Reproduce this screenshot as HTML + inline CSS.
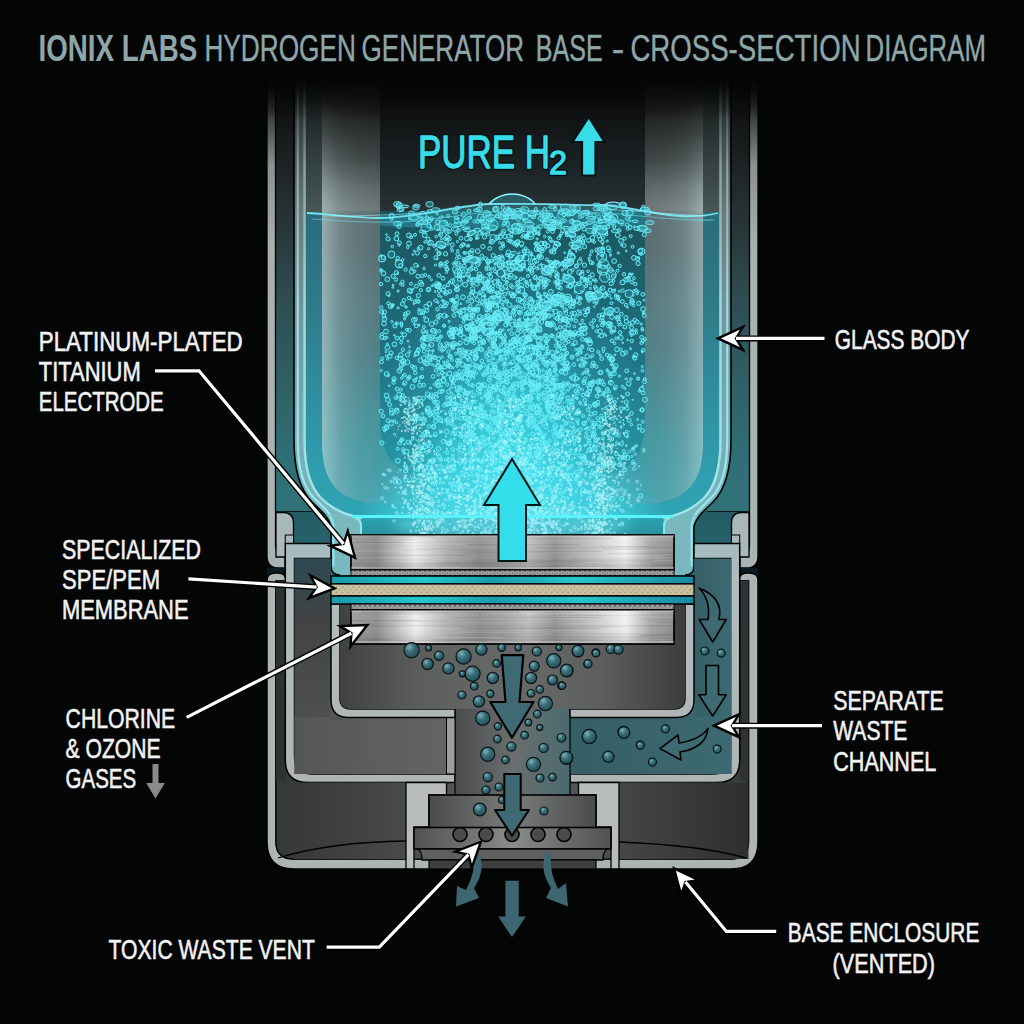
<!DOCTYPE html>
<html><head><meta charset="utf-8"><style>html,body{margin:0;padding:0;background:#040505;width:1024px;height:1024px;overflow:hidden}svg{display:block}text{font-family:"Liberation Sans",sans-serif}</style></head><body><svg width="1024" height="1024" viewBox="0 0 1024 1024" font-family="Liberation Sans, sans-serif"><defs>
 <linearGradient id="tubeL" x1="0" y1="78" x2="0" y2="560" gradientUnits="userSpaceOnUse">
  <stop offset="0" stop-color="#080909"/><stop offset="0.06" stop-color="#2a2e2e"/><stop offset="0.18" stop-color="#8a9090"/><stop offset="0.35" stop-color="#a8b0b0"/><stop offset="1" stop-color="#aab4b4"/>
 </linearGradient>
 <linearGradient id="glassWall" x1="0" y1="78" x2="0" y2="520" gradientUnits="userSpaceOnUse">
  <stop offset="0" stop-color="#0a0c0c"/><stop offset="0.12" stop-color="#3a4444"/><stop offset="0.3" stop-color="#6a7a7c"/><stop offset="0.6" stop-color="#6aa0a8"/><stop offset="1" stop-color="#7ab8c0"/>
 </linearGradient>
 <linearGradient id="lineG" x1="0" y1="78" x2="0" y2="520" gradientUnits="userSpaceOnUse">
  <stop offset="0" stop-color="#1a2020"/><stop offset="0.2" stop-color="#8aa0a0"/><stop offset="0.5" stop-color="#a8d4d8"/><stop offset="1" stop-color="#9ae8f0"/>
 </linearGradient>
 <linearGradient id="hiGrad" x1="0" y1="78" x2="0" y2="510" gradientUnits="userSpaceOnUse">
  <stop offset="0" stop-color="#0e1010"/><stop offset="0.05" stop-color="#151616"/><stop offset="0.12" stop-color="#2a2e2e"/><stop offset="0.19" stop-color="#404646"/><stop offset="0.26" stop-color="#606a6a"/><stop offset="0.305" stop-color="#6e7878"/>
  <stop offset="0.312" stop-color="#5a6e72"/><stop offset="0.398" stop-color="#5a6e73"/><stop offset="0.514" stop-color="#587a80"/><stop offset="0.63" stop-color="#527f86"/><stop offset="0.861" stop-color="#4a969f"/><stop offset="1" stop-color="#50a0aa"/>
 </linearGradient>
 <linearGradient id="gapG" x1="0" y1="80" x2="0" y2="575" gradientUnits="userSpaceOnUse">
  <stop offset="0" stop-color="#080909"/><stop offset="0.141" stop-color="#1a1e1f"/><stop offset="0.283" stop-color="#263436"/><stop offset="0.444" stop-color="#2f4d52"/><stop offset="0.747" stop-color="#2f6e74"/><stop offset="1" stop-color="#2f767c"/>
 </linearGradient>
 <linearGradient id="airG" x1="0" y1="78" x2="0" y2="215" gradientUnits="userSpaceOnUse">
  <stop offset="0" stop-color="#070808"/><stop offset="0.4" stop-color="#141819"/><stop offset="1" stop-color="#283438"/>
 </linearGradient>
 <linearGradient id="hiFadeV" x1="0" y1="78" x2="0" y2="520" gradientUnits="userSpaceOnUse">
  <stop offset="0" stop-color="#fff" stop-opacity="0"/><stop offset="0.12" stop-color="#fff" stop-opacity="0.25"/><stop offset="0.3" stop-color="#fff" stop-opacity="1"/><stop offset="1" stop-color="#fff" stop-opacity="1"/>
 </linearGradient>
 <mask id="hiMask" maskUnits="userSpaceOnUse" x="0" y="0" width="1024" height="1024"><rect x="0" y="0" width="1024" height="1024" fill="url(#hiFadeV)"/></mask>
 <linearGradient id="waterG" x1="0" y1="212" x2="0" y2="520" gradientUnits="userSpaceOnUse">
  <stop offset="0" stop-color="#1a545c"/><stop offset="0.5" stop-color="#217080"/><stop offset="1" stop-color="#2a9aa8"/>
 </linearGradient>
 <linearGradient id="botG" x1="0" y1="514" x2="0" y2="536" gradientUnits="userSpaceOnUse">
  <stop offset="0" stop-color="#2aa8b8"/><stop offset="1" stop-color="#2a8e9c"/>
 </linearGradient>
 <radialGradient id="glow" cx="512" cy="500" r="260" gradientUnits="userSpaceOnUse" gradientTransform="translate(512 500) scale(0.62 1) translate(-512 -500)">
  <stop offset="0" stop-color="#40d8e8" stop-opacity="0.95"/><stop offset="0.35" stop-color="#30c4d4" stop-opacity="0.75"/><stop offset="0.7" stop-color="#26a8b8" stop-opacity="0.35"/><stop offset="1" stop-color="#2ab8c8" stop-opacity="0"/>
 </radialGradient>
 <radialGradient id="glow2" cx="0.5" cy="0.5" r="0.5">
  <stop offset="0" stop-color="#50e4f0" stop-opacity="0.9"/><stop offset="0.6" stop-color="#38d0e0" stop-opacity="0.6"/><stop offset="1" stop-color="#30c0d0" stop-opacity="0"/>
 </radialGradient>
 <linearGradient id="steel" x1="351" y1="0" x2="674" y2="0" gradientUnits="userSpaceOnUse">
  <stop offset="0" stop-color="#9a9a9a"/><stop offset="0.08" stop-color="#8c8c8c"/><stop offset="0.2" stop-color="#eeeeee"/><stop offset="0.3" stop-color="#b0b0b0"/><stop offset="0.4" stop-color="#8e8e8e"/><stop offset="0.48" stop-color="#a2a2a2"/><stop offset="0.55" stop-color="#bcbcbc"/><stop offset="0.63" stop-color="#949494"/><stop offset="0.75" stop-color="#c4c4c4"/><stop offset="0.85" stop-color="#f0f0f0"/><stop offset="0.93" stop-color="#a4a4a4"/><stop offset="1" stop-color="#8c8c8c"/>
 </linearGradient>
 <linearGradient id="steelV" x1="0" y1="0" x2="0" y2="1">
  <stop offset="0" stop-color="#fff" stop-opacity="0.45"/><stop offset="0.08" stop-color="#fff" stop-opacity="0.1"/><stop offset="0.5" stop-color="#fff" stop-opacity="0"/><stop offset="0.88" stop-color="#000" stop-opacity="0.12"/><stop offset="0.94" stop-color="#fff" stop-opacity="0.5"/><stop offset="1" stop-color="#000" stop-opacity="0.1"/>
 </linearGradient>
 <pattern id="mesh" x="0" y="0.5" width="5" height="5" patternUnits="userSpaceOnUse">
  <rect width="5" height="5" fill="#6a6a6a"/><circle cx="2.5" cy="2.5" r="1.7" fill="none" stroke="#d8d8d8" stroke-width="1"/>
 </pattern>
 <pattern id="tan" x="0" y="0" width="4" height="4" patternUnits="userSpaceOnUse" patternTransform="rotate(45)">
  <rect width="4" height="4" fill="#cbc2a2"/><rect width="2" height="2" fill="#b2a888"/>
 </pattern>
 <linearGradient id="tealBar" x1="331" y1="0" x2="694" y2="0" gradientUnits="userSpaceOnUse">
  <stop offset="0" stop-color="#1a9aaa"/><stop offset="0.25" stop-color="#22c8cc"/><stop offset="0.45" stop-color="#1a9cac"/><stop offset="0.68" stop-color="#24c6cc"/><stop offset="1" stop-color="#1888a0"/>
 </linearGradient>
 <linearGradient id="darkFill" x1="0" y1="0" x2="1" y2="0">
  <stop offset="0" stop-color="#363838"/><stop offset="0.5" stop-color="#5c5e5e"/><stop offset="1" stop-color="#3a3c3c"/>
 </linearGradient>
 <linearGradient id="chamberFill" x1="340" y1="0" x2="686" y2="0" gradientUnits="userSpaceOnUse">
  <stop offset="0" stop-color="#404242"/><stop offset="0.23" stop-color="#5c5e5e"/><stop offset="0.5" stop-color="#686a6a"/><stop offset="0.75" stop-color="#5e5e5e"/><stop offset="1" stop-color="#3c3c3c"/>
 </linearGradient>
 <linearGradient id="wasteFill" x1="0" y1="0" x2="1" y2="0">
  <stop offset="0" stop-color="#355e66"/><stop offset="1" stop-color="#3d6a72"/>
 </linearGradient>
 <linearGradient id="tealBack" x1="0" y1="440" x2="0" y2="580" gradientUnits="userSpaceOnUse">
  <stop offset="0" stop-color="#1e4c54"/><stop offset="1" stop-color="#2a6a74"/>
 </linearGradient>
 <radialGradient id="bub" cx="0.35" cy="0.3" r="0.8">
  <stop offset="0" stop-color="#7fb0b8"/><stop offset="0.4" stop-color="#3a7078"/><stop offset="1" stop-color="#1e4850"/>
 </radialGradient>
 <filter id="blur2"><feGaussianBlur stdDeviation="2"/></filter>
 <filter id="blur6" x="-50%" y="-50%" width="200%" height="200%"><feGaussianBlur stdDeviation="6"/></filter>
 <filter id="blur12" x="-50%" y="-50%" width="200%" height="200%"><feGaussianBlur stdDeviation="14"/></filter>
 <clipPath id="glassClip"><path d="M306,78 V440 C306,468 312,486 322,497 C332,507 345,514 362,516.5 H663 C680,514 693,507 703,497 C713,486 719,468 719,440 V78 Z"/></clipPath>
 <clipPath id="bubClip"><path d="M306,205 V440 C306,468 312,486 322,497 C332,507 345,514 362,516.5 V536 H663 V516.5 C680,514 693,507 703,497 C713,486 719,468 719,440 V205 Z"/></clipPath>

 <linearGradient id="midWall" x1="0" y1="544" x2="0" y2="782" gradientUnits="userSpaceOnUse">
  <stop offset="0" stop-color="#a4bcc0"/><stop offset="0.2" stop-color="#b2bcbe"/><stop offset="1" stop-color="#b0b4b4"/>
 </linearGradient>
 <linearGradient id="leftComp" x1="0" y1="558" x2="0" y2="717" gradientUnits="userSpaceOnUse">
  <stop offset="0" stop-color="#34404a"/><stop offset="0.4" stop-color="#424444"/><stop offset="1" stop-color="#4e5050"/>
 </linearGradient>
 <linearGradient id="leftComp2" x1="294" y1="0" x2="446" y2="0" gradientUnits="userSpaceOnUse">
  <stop offset="0" stop-color="#545656"/><stop offset="1" stop-color="#646464"/>
 </linearGradient>
 <linearGradient id="centralCh" x1="455" y1="0" x2="570" y2="0" gradientUnits="userSpaceOnUse">
  <stop offset="0" stop-color="#4a4c4c"/><stop offset="0.5" stop-color="#6a6e6e"/><stop offset="1" stop-color="#4a6a70"/>
 </linearGradient>
 <linearGradient id="lowComp" x1="295" y1="0" x2="406" y2="0" gradientUnits="userSpaceOnUse">
  <stop offset="0" stop-color="#383838"/><stop offset="1" stop-color="#4a4a4a"/>
 </linearGradient>
 <linearGradient id="lowCompR" x1="619" y1="0" x2="748" y2="0" gradientUnits="userSpaceOnUse">
  <stop offset="0" stop-color="#464646"/><stop offset="1" stop-color="#2e2e2e"/>
 </linearGradient>
 <linearGradient id="ventG" x1="429" y1="0" x2="596" y2="0" gradientUnits="userSpaceOnUse">
  <stop offset="0" stop-color="#4a4c4c"/><stop offset="0.5" stop-color="#7a7c7c"/><stop offset="1" stop-color="#4a4c4c"/>
 </linearGradient>
 <linearGradient id="ventG2" x1="414" y1="0" x2="611" y2="0" gradientUnits="userSpaceOnUse">
  <stop offset="0" stop-color="#505252"/><stop offset="0.5" stop-color="#8a8c8c"/><stop offset="1" stop-color="#505252"/>
 </linearGradient>
 <pattern id="brush" x="0" y="0" width="60" height="4" patternUnits="userSpaceOnUse">
  <rect width="60" height="4" fill="none"/><line x1="0" y1="1" x2="40" y2="1" stroke="#fff" stroke-width="0.5"/><line x1="20" y1="3" x2="60" y2="3" stroke="#000" stroke-width="0.5"/>
 </pattern>
 <linearGradient id="sideAir" x1="0" y1="78" x2="0" y2="214" gradientUnits="userSpaceOnUse">
  <stop offset="0" stop-color="#0c0f0f"/><stop offset="0.5" stop-color="#2e3838"/><stop offset="1" stop-color="#4a5858"/>
 </linearGradient>
 <linearGradient id="hiSheenL" x1="322" y1="0" x2="380" y2="0" gradientUnits="userSpaceOnUse">
  <stop offset="0" stop-color="#d2ecec" stop-opacity="0.5"/><stop offset="0.3" stop-color="#d2ecec" stop-opacity="0.2"/><stop offset="0.6" stop-color="#d2ecec" stop-opacity="0.08"/><stop offset="1" stop-color="#d2ecec" stop-opacity="0"/>
 </linearGradient>
 <linearGradient id="hiSheenR" x1="703" y1="0" x2="645" y2="0" gradientUnits="userSpaceOnUse">
  <stop offset="0" stop-color="#d2ecec" stop-opacity="0.45"/><stop offset="0.3" stop-color="#d2ecec" stop-opacity="0.18"/><stop offset="0.6" stop-color="#d2ecec" stop-opacity="0.07"/><stop offset="1" stop-color="#d2ecec" stop-opacity="0"/>
 </linearGradient>
 <clipPath id="hiClip"><path d="M322,78 L322,446 Q322,502 378,504 L647,504 Q703,502 703,446 L703,78 L645,78 L645,420 Q645,476 595,476 L430,476 Q380,476 380,420 L380,78 Z"/></clipPath>
 <linearGradient id="tealFade" x1="0" y1="558" x2="0" y2="618" gradientUnits="userSpaceOnUse">
  <stop offset="0" stop-color="#2a5058" stop-opacity="0.6"/><stop offset="1" stop-color="#2a5058" stop-opacity="0"/>
 </linearGradient>
 <linearGradient id="tealBand" x1="0" y1="212" x2="0" y2="516" gradientUnits="userSpaceOnUse">
  <stop offset="0" stop-color="#2a6c7c"/><stop offset="0.29" stop-color="#2f7a88"/><stop offset="0.78" stop-color="#2f9aaa"/><stop offset="1" stop-color="#30a4b4"/>
 </linearGradient>
 <linearGradient id="topFade" x1="0" y1="70" x2="0" y2="120" gradientUnits="userSpaceOnUse">
  <stop offset="0" stop-color="#040505" stop-opacity="1"/><stop offset="0.2" stop-color="#040505" stop-opacity="0.9"/><stop offset="0.55" stop-color="#040505" stop-opacity="0.45"/><stop offset="1" stop-color="#040505" stop-opacity="0"/>
 </linearGradient>
</defs>
<rect width="1024" height="1024" fill="#040505"/><rect x="275" y="78" width="475" height="500" fill="url(#gapG)"/><rect x="276" y="511" width="473" height="66" fill="url(#tealBack)"/><path d="M267,78 L275.5,78 L275.5,545 Q276,557 285,557 L285,568 L279,568 Q267,568 267,556 Z" fill="url(#tubeL)" stroke="#000" stroke-width="1.3"/><path d="M276,512.5 L283,512.5 Q293.5,512.5 293.5,523 L293.5,557 L276,557 Z" fill="#a9b8ba" stroke="#000" stroke-width="1.3"/><g transform="translate(1025,0) scale(-1,1)"><path d="M267,78 L275.5,78 L275.5,545 Q276,557 285,557 L285,568 L279,568 Q267,568 267,556 Z" fill="url(#tubeL)" stroke="#000" stroke-width="1.3"/><path d="M276,512.5 L283,512.5 Q293.5,512.5 293.5,523 L293.5,557 L276,557 Z" fill="#a9b8ba" stroke="#000" stroke-width="1.3"/></g><path d="M294,78 V440 C294,470 300,490 312,502 C320,510 328,516 331,526 V566 Q331,575 340,575 H352 V535 H362 V527 Q362,517 360,516.6 C345,514 332,507 322,497 C312,486 306,468 306,440 V78 Z" fill="url(#glassWall)"/><g transform="translate(1025,0) scale(-1,1)"><path d="M294,78 V440 C294,470 300,490 312,502 C320,510 328,516 331,526 V566 Q331,575 340,575 H352 V535 H362 V527 Q362,517 360,516.6 C345,514 332,507 322,497 C312,486 306,468 306,440 V78 Z" fill="url(#glassWall)"/></g><g clip-path="url(#glassClip)"><rect x="300" y="78" width="430" height="142" fill="url(#airG)"/><rect x="300" y="211" width="430" height="330" fill="url(#waterG)"/><rect x="306" y="78" width="16" height="136" fill="url(#sideAir)"/><rect x="703" y="78" width="16" height="136" fill="url(#sideAir)"/><path d="M322,78 L322,446 Q322,502 378,504 L647,504 Q703,502 703,446 L703,78 L645,78 L645,420 Q645,476 595,476 L430,476 Q380,476 380,420 L380,78 Z" fill="url(#hiGrad)"/><g clip-path="url(#hiClip)" mask="url(#hiMask)"><rect x="322" y="78" width="58" height="434" fill="url(#hiSheenL)"/><rect x="645" y="78" width="58" height="434" fill="url(#hiSheenR)"/></g><path d="M306,212 L322,212 L322,446 Q322,502 378,504 L647,504 Q703,502 703,446 L703,212 L719,212 L719,440 C719,468 713,486 703,497 C693,507 680,514 663,516.5 L362,516.5 C345,514 332,507 322,497 C312,486 306,468 306,440 Z" fill="url(#tealBand)"/><ellipse cx="512" cy="470" rx="150" ry="270" fill="url(#glow)" filter="url(#blur12)"/><ellipse cx="512" cy="500" rx="105" ry="170" fill="url(#glow2)"/><ellipse cx="512" cy="522" rx="135" ry="70" fill="#44dcec" opacity="0.55" filter="url(#blur12)"/></g><rect x="362" y="517" width="301" height="19" fill="url(#botG)"/><ellipse cx="512" cy="525" rx="120" ry="14" fill="#6ff0ff" opacity="0.5" filter="url(#blur6)"/><path d="M297.8,78 V440 C297.8,468 303,487 314,498 C321,505 327,510 330,515" fill="none" stroke="url(#lineG)" stroke-width="2.2"/><path d="M304.5,78 V440 C304.5,469 311,488 321,498 C331,508 344,515 362,518" fill="none" stroke="url(#lineG)" stroke-width="2.4"/><path d="M333.5,566 V528 Q333.5,521 330,516" fill="none" stroke="#8ee8f0" stroke-width="2"/><path d="M361,535 V527 Q361,519 355,518" fill="none" stroke="#8ee8f0" stroke-width="2"/><g transform="translate(1025,0) scale(-1,1)"><path d="M297.8,78 V440 C297.8,468 303,487 314,498 C321,505 327,510 330,515" fill="none" stroke="url(#lineG)" stroke-width="2.2"/><path d="M304.5,78 V440 C304.5,469 311,488 321,498 C331,508 344,515 362,518" fill="none" stroke="url(#lineG)" stroke-width="2.4"/><path d="M333.5,566 V528 Q333.5,521 330,516" fill="none" stroke="#8ee8f0" stroke-width="2"/><path d="M361,535 V527 Q361,519 355,518" fill="none" stroke="#8ee8f0" stroke-width="2"/></g><path d="M294,78 V440 C294,470 300,490 312,502 C320,510 328,516 331,526 V566 Q331,575 340,575" fill="none" stroke="#000" stroke-width="1.6"/><g transform="translate(1025,0) scale(-1,1)"><path d="M294,78 V440 C294,470 300,490 312,502 C320,510 328,516 331,526 V566 Q331,575 340,575" fill="none" stroke="#000" stroke-width="1.6"/></g><g clip-path="url(#bubClip)" fill="#50dcec" fill-opacity="0.55" stroke="#7af0fc" stroke-width="1.1"><ellipse cx="546.6" cy="304.7" rx="4.7" ry="3.1" transform="rotate(-24 546.6 304.7)"/><ellipse cx="428.7" cy="338.0" rx="5.9" ry="3.1" transform="rotate(-9 428.7 338.0)"/><ellipse cx="491.2" cy="304.7" rx="4.7" ry="2.4" transform="rotate(-37 491.2 304.7)"/><ellipse cx="496.0" cy="319.7" rx="5.7" ry="3.9" transform="rotate(-28 496.0 319.7)"/><ellipse cx="441.0" cy="244.6" rx="5.1" ry="3.5" transform="rotate(12 441.0 244.6)"/><ellipse cx="471.5" cy="233.1" rx="4.5" ry="2.1" transform="rotate(-27 471.5 233.1)"/><ellipse cx="555.2" cy="262.7" rx="3.5" ry="1.6" transform="rotate(-19 555.2 262.7)"/><ellipse cx="601.6" cy="230.1" rx="6.4" ry="4.1" transform="rotate(28 601.6 230.1)"/><ellipse cx="484.8" cy="321.5" rx="4.3" ry="2.4" transform="rotate(-30 484.8 321.5)"/><ellipse cx="523.7" cy="340.0" rx="5.9" ry="3.6" transform="rotate(-25 523.7 340.0)"/><ellipse cx="574.8" cy="247.1" rx="3.4" ry="2.1" transform="rotate(-0 574.8 247.1)"/><ellipse cx="557.3" cy="298.6" rx="5.9" ry="3.6" transform="rotate(9 557.3 298.6)"/><ellipse cx="474.1" cy="260.0" rx="6.3" ry="3.1" transform="rotate(0 474.1 260.0)"/><ellipse cx="484.4" cy="287.7" rx="3.1" ry="1.4" transform="rotate(-38 484.4 287.7)"/><ellipse cx="570.6" cy="233.8" rx="5.5" ry="2.5" transform="rotate(17 570.6 233.8)"/><ellipse cx="494.6" cy="299.8" rx="6.0" ry="4.1" transform="rotate(5 494.6 299.8)"/><ellipse cx="473.9" cy="335.9" rx="4.5" ry="2.7" transform="rotate(36 473.9 335.9)"/><ellipse cx="438.1" cy="285.8" rx="3.3" ry="2.0" transform="rotate(-27 438.1 285.8)"/><ellipse cx="590.9" cy="295.8" rx="5.8" ry="3.8" transform="rotate(26 590.9 295.8)"/><ellipse cx="531.8" cy="326.5" rx="6.2" ry="3.7" transform="rotate(-31 531.8 326.5)"/><ellipse cx="549.0" cy="324.3" rx="3.9" ry="1.9" transform="rotate(37 549.0 324.3)"/><ellipse cx="556.6" cy="297.3" rx="4.2" ry="2.7" transform="rotate(3 556.6 297.3)"/><ellipse cx="511.0" cy="230.3" rx="3.4" ry="1.6" transform="rotate(28 511.0 230.3)"/><ellipse cx="609.1" cy="311.2" rx="4.9" ry="3.5" transform="rotate(-24 609.1 311.2)"/><ellipse cx="487.9" cy="331.6" rx="4.8" ry="3.1" transform="rotate(-29 487.9 331.6)"/><ellipse cx="554.4" cy="303.2" rx="4.1" ry="2.0" transform="rotate(26 554.4 303.2)"/><ellipse cx="557.2" cy="243.8" rx="3.4" ry="2.0" transform="rotate(22 557.2 243.8)"/><ellipse cx="568.0" cy="262.4" rx="5.6" ry="3.5" transform="rotate(-9 568.0 262.4)"/><ellipse cx="583.1" cy="328.7" rx="4.3" ry="2.1" transform="rotate(-14 583.1 328.7)"/><ellipse cx="568.6" cy="279.2" rx="6.2" ry="3.8" transform="rotate(19 568.6 279.2)"/><ellipse cx="551.8" cy="228.2" rx="4.2" ry="2.3" transform="rotate(-5 551.8 228.2)"/><ellipse cx="547.7" cy="270.7" rx="6.3" ry="4.0" transform="rotate(-17 547.7 270.7)"/><ellipse cx="576.7" cy="244.7" rx="5.9" ry="3.3" transform="rotate(-36 576.7 244.7)"/><ellipse cx="519.1" cy="258.9" rx="4.4" ry="3.2" transform="rotate(-37 519.1 258.9)"/><ellipse cx="528.7" cy="338.4" rx="3.1" ry="2.3" transform="rotate(33 528.7 338.4)"/><ellipse cx="479.0" cy="328.7" rx="5.1" ry="2.7" transform="rotate(-27 479.0 328.7)"/><ellipse cx="553.0" cy="265.2" rx="3.7" ry="2.3" transform="rotate(-26 553.0 265.2)"/><ellipse cx="596.9" cy="295.4" rx="5.8" ry="3.8" transform="rotate(-11 596.9 295.4)"/><ellipse cx="567.6" cy="332.9" rx="4.5" ry="2.2" transform="rotate(21 567.6 332.9)"/><ellipse cx="489.0" cy="305.3" rx="3.2" ry="2.3" transform="rotate(27 489.0 305.3)"/><ellipse cx="516.5" cy="267.0" rx="6.4" ry="3.0" transform="rotate(8 516.5 267.0)"/><ellipse cx="499.0" cy="315.5" rx="6.4" ry="4.5" transform="rotate(38 499.0 315.5)"/><ellipse cx="568.5" cy="298.9" rx="4.0" ry="2.0" transform="rotate(18 568.5 298.9)"/><ellipse cx="549.8" cy="297.3" rx="3.7" ry="1.9" transform="rotate(26 549.8 297.3)"/></g><g clip-path="url(#bubClip)" fill="#48e0f0" fill-opacity="0.15" stroke="#6aeefa" stroke-width="1"><circle cx="407.0" cy="329.8" r="1.5"/><circle cx="474.6" cy="221.4" r="1.7"/><circle cx="642.1" cy="409.7" r="1.9"/><circle cx="563.1" cy="349.8" r="0.9"/><circle cx="486.3" cy="225.5" r="1.7"/><circle cx="531.2" cy="475.4" r="1.5"/><circle cx="630.0" cy="275.4" r="1.7"/><circle cx="415.3" cy="372.9" r="1.7"/><circle cx="568.8" cy="325.3" r="1.9"/><circle cx="502.6" cy="264.7" r="1.3"/><circle cx="514.6" cy="315.4" r="1.3"/><circle cx="617.9" cy="318.3" r="2.4"/><circle cx="565.1" cy="343.1" r="2.1"/><circle cx="546.8" cy="350.3" r="1.1"/><circle cx="626.3" cy="402.0" r="2.1"/><circle cx="517.6" cy="260.3" r="2.4"/><circle cx="518.2" cy="218.7" r="2.4"/><circle cx="491.3" cy="291.9" r="1.7"/><circle cx="470.7" cy="257.4" r="1.7"/><circle cx="535.1" cy="277.5" r="2.1"/><circle cx="521.1" cy="386.1" r="1.1"/><circle cx="538.8" cy="407.3" r="0.9"/><circle cx="594.6" cy="232.1" r="1.9"/><circle cx="443.4" cy="301.2" r="1.1"/><circle cx="431.0" cy="414.2" r="1.5"/><circle cx="455.4" cy="288.8" r="0.9"/><circle cx="415.2" cy="301.6" r="1.9"/><circle cx="434.9" cy="435.6" r="0.9"/><circle cx="424.7" cy="235.3" r="2.4"/><circle cx="430.5" cy="388.0" r="1.1"/><circle cx="430.8" cy="446.2" r="2.1"/><circle cx="572.8" cy="334.7" r="1.9"/><circle cx="487.6" cy="227.3" r="1.5"/><circle cx="596.4" cy="366.7" r="1.7"/><circle cx="433.6" cy="415.3" r="1.3"/><circle cx="528.1" cy="329.5" r="0.9"/><circle cx="518.7" cy="358.7" r="2.1"/><circle cx="570.8" cy="333.7" r="1.7"/><circle cx="515.9" cy="348.2" r="1.7"/><circle cx="399.4" cy="370.7" r="2.4"/><circle cx="484.6" cy="223.6" r="1.1"/><circle cx="519.8" cy="318.9" r="1.1"/><circle cx="381.2" cy="370.5" r="1.1"/><circle cx="542.9" cy="301.1" r="1.7"/><circle cx="563.9" cy="348.4" r="2.4"/><circle cx="580.0" cy="237.9" r="0.9"/><circle cx="397.0" cy="233.7" r="1.9"/><circle cx="463.0" cy="297.2" r="2.4"/><circle cx="531.5" cy="284.3" r="0.9"/><circle cx="617.5" cy="297.2" r="1.1"/><circle cx="602.5" cy="288.1" r="2.4"/><circle cx="505.5" cy="353.1" r="1.5"/><circle cx="463.9" cy="445.7" r="1.1"/><circle cx="506.7" cy="312.7" r="1.1"/><circle cx="545.9" cy="353.7" r="1.5"/><circle cx="570.4" cy="450.5" r="1.3"/><circle cx="501.8" cy="390.8" r="2.1"/><circle cx="516.5" cy="363.7" r="0.9"/><circle cx="515.9" cy="370.2" r="1.1"/><circle cx="473.6" cy="336.2" r="1.1"/><circle cx="609.9" cy="397.5" r="2.4"/><circle cx="422.6" cy="435.5" r="0.9"/><circle cx="482.0" cy="435.8" r="0.9"/><circle cx="556.7" cy="411.1" r="1.9"/><circle cx="504.9" cy="313.3" r="2.1"/><circle cx="525.6" cy="313.7" r="1.5"/><circle cx="529.7" cy="357.1" r="2.4"/><circle cx="538.3" cy="294.7" r="2.1"/><circle cx="465.4" cy="253.1" r="1.5"/><circle cx="600.2" cy="380.7" r="1.5"/><circle cx="619.0" cy="321.8" r="1.9"/><circle cx="515.6" cy="374.4" r="1.9"/><circle cx="592.4" cy="240.7" r="1.5"/><circle cx="469.8" cy="392.2" r="1.1"/><circle cx="400.2" cy="358.6" r="2.4"/><circle cx="538.6" cy="428.6" r="1.5"/><circle cx="547.2" cy="407.5" r="1.7"/><circle cx="523.0" cy="384.7" r="1.1"/><circle cx="642.8" cy="341.0" r="1.7"/><circle cx="429.9" cy="442.4" r="1.1"/><circle cx="535.0" cy="320.3" r="2.4"/><circle cx="489.2" cy="455.2" r="2.1"/><circle cx="596.7" cy="301.2" r="1.7"/><circle cx="503.4" cy="364.4" r="1.5"/><circle cx="549.8" cy="323.0" r="1.1"/><circle cx="555.1" cy="397.5" r="1.7"/><circle cx="501.5" cy="423.4" r="1.7"/><circle cx="627.6" cy="228.8" r="1.5"/><circle cx="439.0" cy="283.9" r="1.7"/><circle cx="417.8" cy="468.2" r="1.1"/><circle cx="438.4" cy="374.6" r="1.5"/><circle cx="537.3" cy="351.0" r="1.1"/><circle cx="507.6" cy="483.3" r="1.7"/><circle cx="488.6" cy="395.7" r="1.1"/><circle cx="524.2" cy="448.6" r="1.3"/><circle cx="530.5" cy="406.8" r="1.9"/><circle cx="600.3" cy="320.3" r="1.3"/><circle cx="522.1" cy="400.6" r="1.7"/><circle cx="529.6" cy="409.2" r="1.5"/><circle cx="553.5" cy="374.1" r="2.4"/><circle cx="593.6" cy="231.8" r="1.9"/><circle cx="618.1" cy="317.8" r="1.1"/><circle cx="536.0" cy="362.3" r="2.4"/><circle cx="518.3" cy="421.9" r="2.4"/><circle cx="571.8" cy="320.2" r="1.1"/><circle cx="506.8" cy="454.7" r="1.7"/><circle cx="641.3" cy="324.0" r="1.1"/><circle cx="426.8" cy="331.6" r="1.5"/><circle cx="440.0" cy="315.1" r="1.7"/><circle cx="553.8" cy="389.7" r="1.7"/><circle cx="435.2" cy="473.5" r="1.5"/><circle cx="433.1" cy="411.9" r="1.5"/><circle cx="536.4" cy="427.5" r="2.1"/><circle cx="520.2" cy="307.4" r="1.1"/><circle cx="545.0" cy="365.8" r="0.9"/><circle cx="489.6" cy="486.7" r="1.7"/><circle cx="562.8" cy="358.6" r="1.1"/><circle cx="511.3" cy="329.1" r="1.1"/><circle cx="585.5" cy="491.6" r="1.9"/><circle cx="617.3" cy="317.2" r="1.7"/><circle cx="579.4" cy="388.8" r="1.5"/><circle cx="638.1" cy="263.5" r="2.1"/><circle cx="557.8" cy="317.5" r="1.9"/><circle cx="504.6" cy="355.0" r="1.1"/><circle cx="510.3" cy="439.8" r="1.7"/><circle cx="538.4" cy="463.2" r="1.5"/><circle cx="497.6" cy="305.2" r="0.9"/><circle cx="521.1" cy="285.4" r="2.4"/><circle cx="631.4" cy="332.5" r="2.1"/><circle cx="520.7" cy="449.5" r="1.1"/><circle cx="613.3" cy="331.4" r="0.9"/><circle cx="501.6" cy="265.0" r="2.4"/><circle cx="402.5" cy="281.8" r="1.7"/><circle cx="439.6" cy="348.7" r="1.5"/><circle cx="616.0" cy="338.3" r="1.5"/><circle cx="520.4" cy="324.0" r="2.1"/><circle cx="482.1" cy="302.2" r="1.9"/><circle cx="493.8" cy="339.8" r="2.4"/><circle cx="486.4" cy="353.1" r="1.7"/><circle cx="600.9" cy="419.9" r="2.1"/><circle cx="496.4" cy="351.7" r="2.1"/><circle cx="574.1" cy="301.1" r="1.5"/><circle cx="587.3" cy="311.6" r="2.1"/><circle cx="442.2" cy="372.9" r="1.9"/><circle cx="547.7" cy="231.7" r="1.5"/><circle cx="425.1" cy="242.0" r="1.3"/><circle cx="447.0" cy="292.3" r="1.9"/><circle cx="481.9" cy="361.1" r="1.9"/><circle cx="425.4" cy="467.1" r="2.4"/><circle cx="480.5" cy="342.6" r="2.4"/><circle cx="479.0" cy="322.0" r="2.4"/><circle cx="506.1" cy="310.3" r="1.9"/><circle cx="438.1" cy="362.1" r="1.5"/><circle cx="449.1" cy="343.9" r="1.3"/><circle cx="449.5" cy="499.6" r="1.3"/><circle cx="547.3" cy="367.3" r="0.9"/><circle cx="507.1" cy="356.6" r="1.9"/><circle cx="513.6" cy="295.5" r="2.4"/><circle cx="497.2" cy="353.1" r="1.5"/><circle cx="610.3" cy="431.0" r="1.7"/><circle cx="412.6" cy="439.1" r="1.1"/><circle cx="495.6" cy="486.8" r="2.1"/><circle cx="638.0" cy="378.6" r="1.5"/><circle cx="514.0" cy="352.6" r="1.5"/><circle cx="544.9" cy="442.4" r="1.7"/><circle cx="508.8" cy="389.9" r="1.1"/><circle cx="477.7" cy="447.7" r="1.5"/><circle cx="476.6" cy="442.1" r="1.7"/><circle cx="568.0" cy="433.4" r="1.1"/><circle cx="504.3" cy="453.0" r="0.9"/><circle cx="556.9" cy="375.1" r="1.3"/><circle cx="481.0" cy="445.9" r="2.4"/><circle cx="531.5" cy="270.4" r="2.1"/><circle cx="548.9" cy="280.8" r="1.3"/><circle cx="503.7" cy="442.7" r="2.1"/><circle cx="506.6" cy="422.6" r="1.7"/><circle cx="517.3" cy="340.6" r="1.1"/><circle cx="548.5" cy="213.8" r="1.7"/><circle cx="439.2" cy="331.3" r="1.5"/><circle cx="389.6" cy="404.6" r="1.9"/><circle cx="557.6" cy="337.0" r="1.1"/><circle cx="624.0" cy="408.1" r="1.1"/><circle cx="555.6" cy="431.6" r="1.3"/><circle cx="455.2" cy="262.1" r="1.3"/><circle cx="417.6" cy="301.0" r="2.1"/><circle cx="420.4" cy="360.2" r="2.4"/><circle cx="433.0" cy="397.8" r="1.1"/><circle cx="540.4" cy="298.2" r="1.3"/><circle cx="606.6" cy="415.5" r="1.7"/><circle cx="560.1" cy="236.1" r="1.3"/><circle cx="537.9" cy="303.9" r="0.9"/><circle cx="500.8" cy="356.1" r="0.9"/><circle cx="543.9" cy="287.1" r="1.9"/><circle cx="477.3" cy="299.7" r="2.1"/><circle cx="521.5" cy="246.2" r="0.9"/><circle cx="510.7" cy="406.5" r="1.7"/><circle cx="479.4" cy="280.7" r="1.3"/><circle cx="559.5" cy="347.1" r="1.3"/><circle cx="425.2" cy="432.5" r="1.9"/><circle cx="511.3" cy="363.8" r="1.1"/><circle cx="530.1" cy="372.3" r="1.7"/><circle cx="580.3" cy="457.7" r="0.9"/><circle cx="547.9" cy="260.9" r="0.9"/><circle cx="458.9" cy="405.8" r="1.9"/><circle cx="391.0" cy="353.0" r="2.1"/><circle cx="602.4" cy="433.0" r="0.9"/><circle cx="595.1" cy="448.4" r="2.1"/><circle cx="463.8" cy="413.0" r="1.9"/><circle cx="577.8" cy="430.4" r="0.9"/><circle cx="516.7" cy="242.9" r="2.4"/><circle cx="440.9" cy="306.3" r="1.5"/><circle cx="491.9" cy="364.5" r="0.9"/><circle cx="551.8" cy="396.2" r="1.7"/><circle cx="392.3" cy="305.4" r="1.5"/><circle cx="492.9" cy="388.8" r="0.9"/><circle cx="517.3" cy="333.4" r="2.4"/><circle cx="487.0" cy="309.3" r="2.4"/><circle cx="475.6" cy="294.6" r="2.4"/><circle cx="426.0" cy="226.8" r="5.0"/><circle cx="472.9" cy="435.0" r="2.1"/><circle cx="469.6" cy="338.2" r="1.3"/><circle cx="423.6" cy="385.1" r="1.9"/><circle cx="409.4" cy="330.3" r="1.9"/><circle cx="472.0" cy="489.3" r="1.1"/><circle cx="549.7" cy="323.6" r="1.1"/><circle cx="488.8" cy="364.5" r="0.9"/><circle cx="560.2" cy="304.2" r="1.9"/><circle cx="484.6" cy="296.1" r="1.3"/><circle cx="468.3" cy="269.4" r="0.9"/><circle cx="585.0" cy="400.2" r="1.9"/><circle cx="447.6" cy="405.5" r="0.9"/><circle cx="533.6" cy="406.3" r="1.1"/><circle cx="469.0" cy="256.2" r="0.9"/><circle cx="642.1" cy="328.4" r="1.3"/><circle cx="591.8" cy="421.5" r="1.5"/><circle cx="542.6" cy="420.7" r="1.7"/><circle cx="418.4" cy="350.4" r="2.1"/><circle cx="488.4" cy="438.2" r="0.9"/><circle cx="446.8" cy="431.6" r="2.4"/><circle cx="530.7" cy="423.0" r="2.4"/><circle cx="536.4" cy="246.3" r="1.1"/><circle cx="536.2" cy="311.8" r="2.4"/><circle cx="510.6" cy="454.6" r="1.7"/><circle cx="608.3" cy="248.1" r="2.1"/><circle cx="527.9" cy="396.9" r="1.9"/><circle cx="405.4" cy="314.0" r="1.9"/><circle cx="499.8" cy="461.4" r="1.1"/><circle cx="547.9" cy="272.8" r="0.9"/><circle cx="534.5" cy="261.6" r="2.4"/><circle cx="466.1" cy="314.5" r="1.5"/><circle cx="464.2" cy="260.8" r="1.7"/><circle cx="567.9" cy="366.9" r="2.1"/><circle cx="482.6" cy="437.3" r="1.5"/><circle cx="552.9" cy="310.6" r="1.1"/><circle cx="576.4" cy="378.5" r="2.1"/><circle cx="490.9" cy="333.8" r="1.7"/><circle cx="458.7" cy="413.4" r="1.9"/><circle cx="460.3" cy="360.4" r="1.7"/><circle cx="627.6" cy="393.9" r="1.9"/><circle cx="635.1" cy="446.4" r="1.1"/><circle cx="428.8" cy="226.0" r="2.1"/><circle cx="419.9" cy="385.4" r="2.1"/><circle cx="495.6" cy="459.4" r="1.3"/><circle cx="567.1" cy="401.3" r="1.3"/><circle cx="491.4" cy="392.8" r="1.3"/><circle cx="593.0" cy="327.5" r="1.1"/><circle cx="575.0" cy="380.4" r="1.1"/><circle cx="440.3" cy="344.9" r="2.1"/><circle cx="441.0" cy="336.6" r="1.7"/><circle cx="571.7" cy="303.1" r="2.4"/><circle cx="527.2" cy="313.0" r="1.5"/><circle cx="511.9" cy="374.9" r="0.9"/><circle cx="525.2" cy="441.9" r="1.1"/><circle cx="556.8" cy="485.1" r="0.9"/><circle cx="548.5" cy="301.5" r="1.5"/><circle cx="542.7" cy="473.9" r="1.9"/><circle cx="566.7" cy="413.2" r="1.3"/><circle cx="584.4" cy="309.7" r="1.3"/><circle cx="488.5" cy="493.2" r="1.7"/><circle cx="493.7" cy="347.2" r="1.3"/><circle cx="480.6" cy="320.5" r="2.1"/><circle cx="538.3" cy="452.9" r="0.9"/><circle cx="515.5" cy="344.6" r="2.1"/><circle cx="557.6" cy="416.7" r="1.1"/><circle cx="506.6" cy="381.9" r="2.1"/><circle cx="559.2" cy="280.3" r="1.1"/><circle cx="533.5" cy="446.2" r="2.4"/><circle cx="503.3" cy="225.1" r="1.3"/><circle cx="568.3" cy="213.9" r="2.4"/><circle cx="519.5" cy="428.0" r="1.9"/><circle cx="633.2" cy="449.4" r="1.7"/><circle cx="598.3" cy="382.7" r="1.7"/><circle cx="444.0" cy="405.4" r="1.7"/><circle cx="542.9" cy="242.9" r="0.9"/><circle cx="464.2" cy="308.4" r="0.9"/><circle cx="514.5" cy="479.5" r="1.9"/><circle cx="482.0" cy="317.4" r="1.5"/><circle cx="607.1" cy="294.1" r="0.9"/><circle cx="493.9" cy="418.3" r="2.4"/><circle cx="443.7" cy="306.5" r="1.5"/><circle cx="472.1" cy="375.1" r="0.9"/><circle cx="510.7" cy="420.0" r="0.9"/><circle cx="521.5" cy="433.8" r="1.7"/><circle cx="601.8" cy="461.6" r="1.3"/><circle cx="494.5" cy="345.6" r="2.4"/><circle cx="510.9" cy="318.8" r="1.5"/><circle cx="446.8" cy="405.1" r="1.1"/><circle cx="535.7" cy="243.8" r="1.5"/><circle cx="576.0" cy="391.0" r="1.9"/><circle cx="560.6" cy="223.1" r="1.1"/><circle cx="528.5" cy="368.8" r="1.5"/><circle cx="569.2" cy="260.2" r="0.9"/><circle cx="607.8" cy="326.5" r="1.3"/><circle cx="550.8" cy="402.6" r="1.9"/><circle cx="521.7" cy="388.8" r="0.9"/><circle cx="470.0" cy="327.8" r="1.7"/><circle cx="518.6" cy="319.7" r="0.9"/><circle cx="589.0" cy="340.0" r="2.4"/><circle cx="388.5" cy="303.3" r="1.7"/><circle cx="554.1" cy="252.4" r="1.7"/><circle cx="486.5" cy="269.4" r="1.5"/><circle cx="542.7" cy="437.0" r="1.5"/><circle cx="546.4" cy="336.1" r="1.9"/><circle cx="502.8" cy="304.7" r="1.1"/><circle cx="574.8" cy="453.4" r="1.5"/><circle cx="620.7" cy="337.7" r="2.4"/><circle cx="633.7" cy="305.4" r="1.3"/><circle cx="588.9" cy="428.7" r="1.9"/><circle cx="411.3" cy="299.6" r="1.1"/><circle cx="494.0" cy="367.2" r="1.1"/><circle cx="516.3" cy="309.4" r="1.1"/><circle cx="526.2" cy="421.2" r="0.9"/><circle cx="504.8" cy="340.6" r="1.3"/><circle cx="499.6" cy="359.6" r="0.9"/><circle cx="435.7" cy="300.6" r="1.7"/><circle cx="391.3" cy="409.8" r="1.9"/><circle cx="506.7" cy="372.8" r="1.9"/><circle cx="563.0" cy="319.2" r="1.9"/><circle cx="463.7" cy="310.5" r="2.1"/><circle cx="585.8" cy="362.6" r="1.3"/><circle cx="416.4" cy="286.1" r="1.9"/><circle cx="479.5" cy="278.0" r="2.1"/><circle cx="489.1" cy="318.3" r="1.7"/><circle cx="575.3" cy="437.8" r="2.1"/><circle cx="473.5" cy="315.4" r="1.5"/><circle cx="584.0" cy="229.0" r="2.1"/><circle cx="488.0" cy="335.1" r="1.5"/><circle cx="489.3" cy="282.4" r="0.9"/><circle cx="512.2" cy="395.2" r="1.1"/><circle cx="607.3" cy="369.8" r="0.9"/><circle cx="517.8" cy="241.7" r="2.1"/><circle cx="435.7" cy="408.6" r="1.9"/><circle cx="437.9" cy="417.3" r="1.1"/><circle cx="409.6" cy="376.8" r="1.7"/><circle cx="508.9" cy="433.0" r="1.5"/><circle cx="450.0" cy="412.1" r="1.5"/><circle cx="503.6" cy="341.2" r="2.1"/><circle cx="518.3" cy="386.4" r="0.9"/><circle cx="546.5" cy="448.7" r="2.4"/><circle cx="483.7" cy="385.9" r="0.9"/><circle cx="495.2" cy="458.2" r="1.1"/><circle cx="522.3" cy="428.4" r="1.5"/><circle cx="391.8" cy="321.5" r="1.1"/><circle cx="620.1" cy="332.5" r="1.9"/><circle cx="523.2" cy="323.6" r="1.7"/><circle cx="601.4" cy="249.2" r="1.1"/><circle cx="484.5" cy="445.3" r="1.3"/><circle cx="424.3" cy="424.2" r="0.9"/><circle cx="550.2" cy="308.0" r="0.9"/><circle cx="429.3" cy="303.9" r="2.4"/><circle cx="497.6" cy="280.2" r="1.5"/><circle cx="460.6" cy="334.3" r="2.4"/><circle cx="448.5" cy="351.6" r="1.7"/><circle cx="459.3" cy="344.6" r="0.9"/><circle cx="552.0" cy="323.4" r="2.4"/><circle cx="593.5" cy="297.4" r="1.3"/><circle cx="497.0" cy="333.2" r="1.7"/><circle cx="465.2" cy="284.7" r="2.4"/><circle cx="484.1" cy="440.7" r="1.1"/><circle cx="389.2" cy="385.7" r="0.9"/><circle cx="616.1" cy="431.5" r="2.4"/><circle cx="561.5" cy="385.6" r="2.1"/><circle cx="538.8" cy="385.6" r="2.4"/><circle cx="473.0" cy="330.7" r="0.9"/><circle cx="460.7" cy="316.0" r="1.7"/><circle cx="523.0" cy="265.5" r="2.4"/><circle cx="555.4" cy="427.2" r="1.7"/><circle cx="471.5" cy="384.9" r="1.7"/><circle cx="497.8" cy="429.1" r="2.4"/><circle cx="589.9" cy="343.4" r="2.4"/><circle cx="499.6" cy="375.5" r="1.7"/><circle cx="494.1" cy="411.8" r="1.7"/><circle cx="420.1" cy="450.7" r="1.3"/><circle cx="513.0" cy="474.3" r="2.4"/><circle cx="541.4" cy="243.5" r="2.4"/><circle cx="417.3" cy="252.9" r="2.1"/><circle cx="561.5" cy="339.9" r="0.9"/><circle cx="399.7" cy="223.9" r="1.7"/><circle cx="465.6" cy="393.3" r="1.7"/><circle cx="640.8" cy="253.9" r="1.3"/><circle cx="523.4" cy="346.8" r="1.1"/><circle cx="458.6" cy="349.0" r="1.3"/><circle cx="381.4" cy="270.8" r="1.5"/><circle cx="460.2" cy="387.2" r="1.7"/><circle cx="531.3" cy="308.6" r="1.7"/><circle cx="460.0" cy="330.3" r="1.5"/><circle cx="504.9" cy="456.9" r="1.5"/><circle cx="443.6" cy="362.0" r="1.1"/><circle cx="613.6" cy="372.3" r="0.9"/><circle cx="505.4" cy="429.6" r="1.3"/><circle cx="465.6" cy="474.5" r="2.4"/><circle cx="468.1" cy="339.2" r="2.1"/><circle cx="569.5" cy="432.7" r="2.4"/><circle cx="462.2" cy="349.1" r="1.3"/><circle cx="480.1" cy="232.9" r="2.4"/><circle cx="471.2" cy="334.3" r="1.7"/><circle cx="452.5" cy="334.7" r="1.7"/><circle cx="560.2" cy="327.2" r="1.7"/><circle cx="467.1" cy="261.9" r="0.9"/><circle cx="475.0" cy="309.1" r="1.9"/><circle cx="468.6" cy="318.1" r="2.1"/><circle cx="450.1" cy="478.2" r="1.1"/><circle cx="488.7" cy="268.5" r="1.7"/><circle cx="514.4" cy="262.3" r="2.1"/><circle cx="518.1" cy="213.4" r="5.0"/><circle cx="472.3" cy="419.7" r="1.3"/><circle cx="488.4" cy="477.1" r="1.9"/><circle cx="620.7" cy="349.5" r="1.5"/><circle cx="451.2" cy="300.0" r="1.5"/><circle cx="624.0" cy="274.2" r="1.7"/><circle cx="469.5" cy="441.6" r="1.1"/><circle cx="429.3" cy="243.4" r="1.9"/><circle cx="473.8" cy="413.1" r="2.4"/><circle cx="488.6" cy="315.4" r="1.1"/><circle cx="550.4" cy="383.7" r="1.9"/><circle cx="537.1" cy="238.9" r="1.1"/><circle cx="598.5" cy="336.3" r="0.9"/><circle cx="610.2" cy="290.2" r="2.1"/><circle cx="495.5" cy="374.5" r="2.4"/><circle cx="566.7" cy="276.9" r="2.4"/><circle cx="492.0" cy="423.0" r="2.1"/><circle cx="449.5" cy="365.0" r="0.9"/><circle cx="522.4" cy="227.0" r="0.9"/><circle cx="500.0" cy="419.8" r="1.3"/><circle cx="439.1" cy="291.2" r="1.7"/><circle cx="499.2" cy="446.3" r="1.7"/><circle cx="578.4" cy="238.0" r="1.5"/><circle cx="480.8" cy="277.9" r="1.7"/><circle cx="490.3" cy="242.5" r="1.3"/><circle cx="577.1" cy="354.9" r="1.5"/><circle cx="538.6" cy="369.3" r="0.9"/><circle cx="584.1" cy="423.6" r="2.1"/><circle cx="404.4" cy="334.8" r="2.1"/><circle cx="589.8" cy="294.5" r="1.9"/><circle cx="463.8" cy="214.6" r="2.4"/><circle cx="589.9" cy="477.5" r="1.3"/><circle cx="429.3" cy="460.4" r="1.1"/><circle cx="583.2" cy="415.9" r="1.5"/><circle cx="550.8" cy="402.8" r="1.3"/><circle cx="530.7" cy="407.9" r="1.1"/><circle cx="553.1" cy="315.1" r="1.3"/><circle cx="593.4" cy="219.9" r="1.5"/><circle cx="517.5" cy="329.5" r="0.9"/><circle cx="478.2" cy="420.1" r="1.7"/><circle cx="484.9" cy="426.2" r="2.4"/><circle cx="597.8" cy="465.7" r="1.1"/><circle cx="456.4" cy="263.8" r="0.9"/><circle cx="388.1" cy="238.9" r="2.1"/><circle cx="454.0" cy="315.5" r="1.9"/><circle cx="469.5" cy="424.7" r="2.4"/><circle cx="455.0" cy="406.7" r="2.4"/><circle cx="621.0" cy="240.9" r="2.4"/><circle cx="494.3" cy="363.2" r="0.9"/><circle cx="451.9" cy="336.4" r="2.4"/><circle cx="590.2" cy="255.0" r="1.1"/><circle cx="507.1" cy="255.0" r="1.5"/><circle cx="436.0" cy="322.0" r="2.1"/><circle cx="464.2" cy="244.2" r="1.1"/><circle cx="459.7" cy="275.2" r="2.1"/><circle cx="470.6" cy="269.2" r="2.1"/><circle cx="505.9" cy="315.1" r="1.3"/><circle cx="529.2" cy="472.3" r="1.1"/><circle cx="552.5" cy="397.1" r="1.7"/><circle cx="486.5" cy="311.1" r="1.1"/><circle cx="629.2" cy="420.4" r="1.9"/><circle cx="529.2" cy="380.8" r="1.3"/><circle cx="503.1" cy="329.9" r="1.1"/><circle cx="528.3" cy="338.3" r="1.7"/><circle cx="608.5" cy="445.7" r="1.1"/><circle cx="494.8" cy="282.0" r="2.4"/><circle cx="409.6" cy="218.6" r="1.1"/><circle cx="527.5" cy="302.7" r="0.9"/><circle cx="567.0" cy="469.9" r="1.1"/><circle cx="470.9" cy="338.6" r="1.7"/><circle cx="486.0" cy="371.7" r="2.4"/><circle cx="434.2" cy="357.1" r="1.7"/><circle cx="550.9" cy="250.7" r="1.7"/><circle cx="569.6" cy="468.1" r="1.5"/><circle cx="537.3" cy="445.1" r="0.9"/><circle cx="443.7" cy="247.0" r="0.9"/><circle cx="538.8" cy="234.3" r="1.3"/><circle cx="609.1" cy="323.4" r="1.9"/><circle cx="529.6" cy="314.6" r="1.3"/><circle cx="483.6" cy="481.5" r="2.1"/><circle cx="612.3" cy="362.2" r="1.1"/><circle cx="498.5" cy="348.1" r="1.5"/><circle cx="437.5" cy="407.1" r="1.3"/><circle cx="566.6" cy="409.3" r="2.4"/><circle cx="517.5" cy="282.6" r="0.9"/><circle cx="489.0" cy="392.3" r="1.5"/><circle cx="599.1" cy="457.9" r="0.9"/><circle cx="529.5" cy="260.4" r="1.3"/><circle cx="570.1" cy="252.6" r="1.7"/><circle cx="501.5" cy="359.5" r="1.1"/><circle cx="415.7" cy="265.3" r="2.1"/><circle cx="611.9" cy="358.6" r="2.4"/><circle cx="586.7" cy="283.6" r="1.5"/><circle cx="520.2" cy="420.2" r="2.4"/><circle cx="520.0" cy="312.7" r="2.4"/><circle cx="560.7" cy="390.7" r="0.9"/><circle cx="560.1" cy="397.0" r="1.5"/><circle cx="471.6" cy="278.6" r="1.1"/><circle cx="544.4" cy="317.7" r="2.4"/><circle cx="529.7" cy="451.7" r="2.1"/><circle cx="495.8" cy="347.5" r="1.7"/><circle cx="538.8" cy="353.0" r="2.1"/><circle cx="458.1" cy="273.2" r="4.0"/><circle cx="448.4" cy="365.4" r="2.4"/><circle cx="565.2" cy="310.0" r="2.1"/><circle cx="407.9" cy="378.6" r="1.7"/><circle cx="529.7" cy="448.0" r="1.9"/><circle cx="467.3" cy="406.6" r="1.7"/><circle cx="428.5" cy="248.7" r="1.1"/><circle cx="621.3" cy="314.1" r="1.9"/><circle cx="481.3" cy="461.8" r="1.3"/><circle cx="548.5" cy="362.9" r="1.7"/><circle cx="504.6" cy="222.9" r="2.1"/><circle cx="476.3" cy="438.5" r="1.7"/><circle cx="579.2" cy="440.9" r="1.5"/><circle cx="532.7" cy="372.6" r="2.4"/><circle cx="462.6" cy="403.3" r="2.1"/><circle cx="504.6" cy="368.7" r="1.5"/><circle cx="559.4" cy="408.4" r="1.7"/><circle cx="476.8" cy="283.8" r="2.4"/><circle cx="531.6" cy="469.3" r="0.9"/><circle cx="608.5" cy="221.6" r="1.3"/><circle cx="550.3" cy="405.2" r="0.9"/><circle cx="494.6" cy="377.0" r="0.9"/><circle cx="483.6" cy="342.0" r="2.1"/><circle cx="547.3" cy="385.2" r="1.3"/><circle cx="604.2" cy="394.8" r="0.9"/><circle cx="609.9" cy="326.9" r="1.1"/><circle cx="487.8" cy="396.8" r="2.4"/><circle cx="555.5" cy="387.5" r="0.9"/><circle cx="534.1" cy="288.2" r="2.4"/><circle cx="596.6" cy="331.1" r="1.5"/><circle cx="507.1" cy="276.1" r="2.4"/><circle cx="435.2" cy="481.0" r="1.7"/><circle cx="578.9" cy="332.9" r="1.7"/><circle cx="477.7" cy="310.6" r="1.5"/><circle cx="433.0" cy="330.7" r="2.4"/><circle cx="567.8" cy="408.3" r="0.9"/><circle cx="448.3" cy="419.2" r="2.1"/><circle cx="401.5" cy="338.3" r="2.1"/><circle cx="497.1" cy="418.2" r="1.9"/><circle cx="523.9" cy="473.6" r="1.1"/><circle cx="381.1" cy="284.1" r="1.7"/><circle cx="466.5" cy="351.6" r="1.3"/><circle cx="566.7" cy="368.4" r="1.7"/><circle cx="629.7" cy="220.7" r="1.1"/><circle cx="482.5" cy="373.7" r="1.3"/><circle cx="453.7" cy="308.4" r="2.4"/><circle cx="451.1" cy="402.0" r="1.7"/><circle cx="527.9" cy="275.9" r="1.5"/><circle cx="642.2" cy="351.7" r="1.1"/><circle cx="548.2" cy="472.6" r="1.7"/><circle cx="505.1" cy="336.9" r="1.5"/><circle cx="422.4" cy="413.8" r="1.3"/><circle cx="554.8" cy="223.3" r="1.5"/><circle cx="466.3" cy="373.4" r="1.9"/><circle cx="457.0" cy="366.0" r="1.3"/><circle cx="631.3" cy="335.5" r="0.9"/><circle cx="435.2" cy="291.5" r="0.9"/><circle cx="408.0" cy="341.3" r="0.9"/><circle cx="503.5" cy="392.0" r="1.1"/><circle cx="496.1" cy="390.6" r="1.3"/><circle cx="564.9" cy="359.0" r="1.1"/><circle cx="462.1" cy="436.1" r="1.3"/><circle cx="609.5" cy="391.9" r="1.3"/><circle cx="532.6" cy="364.8" r="1.7"/><circle cx="592.6" cy="355.5" r="1.3"/><circle cx="545.6" cy="380.7" r="1.7"/><circle cx="557.5" cy="352.5" r="0.9"/><circle cx="477.8" cy="486.1" r="1.1"/><circle cx="470.8" cy="407.9" r="0.9"/><circle cx="565.0" cy="356.2" r="1.3"/><circle cx="590.6" cy="284.2" r="1.1"/><circle cx="529.1" cy="340.4" r="0.9"/><circle cx="622.5" cy="282.4" r="2.4"/><circle cx="476.6" cy="309.3" r="1.3"/><circle cx="579.3" cy="476.5" r="1.3"/><circle cx="544.4" cy="249.2" r="1.3"/><circle cx="519.4" cy="351.0" r="0.9"/><circle cx="558.4" cy="435.1" r="2.1"/><circle cx="482.0" cy="421.9" r="2.1"/><circle cx="558.2" cy="286.5" r="2.4"/><circle cx="482.9" cy="246.5" r="2.1"/><circle cx="383.2" cy="257.6" r="2.1"/><circle cx="580.2" cy="429.6" r="1.9"/><circle cx="473.7" cy="279.6" r="2.4"/><circle cx="466.8" cy="381.9" r="1.5"/><circle cx="480.9" cy="393.0" r="1.1"/><circle cx="454.9" cy="409.2" r="1.9"/><circle cx="479.1" cy="367.7" r="1.1"/><circle cx="427.0" cy="310.5" r="1.9"/><circle cx="526.6" cy="235.6" r="1.1"/><circle cx="554.9" cy="408.9" r="2.1"/><circle cx="444.8" cy="347.3" r="1.3"/><circle cx="544.4" cy="462.1" r="1.3"/><circle cx="613.3" cy="291.1" r="1.7"/><circle cx="535.6" cy="361.9" r="1.3"/><circle cx="422.3" cy="275.8" r="1.7"/><circle cx="446.9" cy="269.4" r="1.9"/><circle cx="536.7" cy="260.5" r="2.4"/><circle cx="644.3" cy="315.5" r="1.9"/><circle cx="541.8" cy="213.1" r="1.5"/><circle cx="613.6" cy="276.0" r="2.1"/><circle cx="474.5" cy="421.4" r="1.1"/><circle cx="384.7" cy="338.1" r="1.7"/><circle cx="395.7" cy="397.7" r="1.7"/><circle cx="482.9" cy="425.0" r="0.9"/><circle cx="539.6" cy="451.1" r="1.1"/><circle cx="513.6" cy="423.7" r="1.5"/><circle cx="394.4" cy="344.3" r="2.4"/><circle cx="500.6" cy="351.6" r="1.5"/><circle cx="526.2" cy="281.5" r="1.3"/><circle cx="473.8" cy="338.7" r="2.4"/><circle cx="495.2" cy="263.4" r="1.1"/><circle cx="505.0" cy="450.7" r="1.5"/><circle cx="623.5" cy="397.1" r="0.9"/><circle cx="464.1" cy="266.2" r="2.1"/><circle cx="603.0" cy="320.4" r="1.3"/><circle cx="599.2" cy="426.4" r="1.5"/><circle cx="583.9" cy="382.7" r="1.9"/><circle cx="548.2" cy="468.7" r="0.9"/><circle cx="398.1" cy="307.9" r="1.1"/><circle cx="493.9" cy="446.4" r="1.7"/><circle cx="403.7" cy="384.1" r="1.1"/><circle cx="546.8" cy="259.4" r="1.5"/><circle cx="397.6" cy="448.8" r="1.5"/><circle cx="533.8" cy="363.0" r="1.3"/><circle cx="572.3" cy="401.8" r="2.1"/><circle cx="500.0" cy="428.3" r="1.1"/><circle cx="541.4" cy="348.7" r="1.3"/><circle cx="549.3" cy="309.6" r="1.5"/><circle cx="519.5" cy="368.5" r="1.3"/><circle cx="527.1" cy="285.7" r="1.7"/><circle cx="509.3" cy="397.1" r="0.9"/><circle cx="530.9" cy="390.6" r="1.5"/><circle cx="585.6" cy="403.5" r="1.1"/><circle cx="499.1" cy="257.7" r="2.4"/><circle cx="578.2" cy="424.2" r="0.9"/><circle cx="546.4" cy="316.2" r="0.9"/><circle cx="394.4" cy="335.3" r="0.9"/><circle cx="607.1" cy="355.0" r="1.7"/><circle cx="440.1" cy="336.8" r="1.1"/><circle cx="621.1" cy="427.2" r="1.1"/><circle cx="474.5" cy="334.1" r="1.3"/><circle cx="643.0" cy="309.0" r="2.4"/><circle cx="438.6" cy="448.9" r="2.4"/><circle cx="574.7" cy="475.1" r="2.4"/><circle cx="453.4" cy="399.9" r="2.4"/><circle cx="441.7" cy="344.6" r="0.9"/><circle cx="460.4" cy="268.1" r="0.9"/><circle cx="463.5" cy="437.2" r="1.7"/><circle cx="580.0" cy="468.3" r="1.7"/><circle cx="542.7" cy="448.5" r="1.3"/><circle cx="406.1" cy="401.0" r="1.1"/><circle cx="552.9" cy="379.1" r="1.3"/><circle cx="468.1" cy="419.3" r="2.1"/><circle cx="488.2" cy="426.8" r="1.9"/><circle cx="520.5" cy="360.9" r="0.9"/><circle cx="537.1" cy="490.7" r="1.9"/><circle cx="542.5" cy="312.8" r="1.9"/><circle cx="609.4" cy="250.8" r="1.7"/><circle cx="426.2" cy="306.6" r="2.4"/><circle cx="446.9" cy="266.6" r="1.1"/><circle cx="556.7" cy="379.5" r="1.1"/><circle cx="626.3" cy="251.0" r="0.9"/><circle cx="428.5" cy="337.5" r="0.9"/><circle cx="448.0" cy="443.7" r="1.3"/><circle cx="452.5" cy="330.1" r="2.1"/><circle cx="396.4" cy="260.1" r="0.9"/><circle cx="453.5" cy="397.1" r="2.1"/><circle cx="512.8" cy="411.1" r="1.3"/><circle cx="513.4" cy="339.7" r="2.1"/><circle cx="548.2" cy="389.7" r="2.1"/><circle cx="526.4" cy="306.3" r="1.9"/><circle cx="554.6" cy="370.4" r="1.3"/><circle cx="461.6" cy="330.9" r="0.9"/><circle cx="449.1" cy="321.5" r="1.1"/><circle cx="530.5" cy="400.4" r="1.1"/><circle cx="437.2" cy="402.2" r="2.1"/><circle cx="498.6" cy="452.4" r="2.1"/><circle cx="445.5" cy="266.5" r="1.7"/><circle cx="538.2" cy="412.8" r="1.7"/><circle cx="552.4" cy="450.1" r="2.1"/><circle cx="448.3" cy="464.5" r="0.9"/><circle cx="444.3" cy="374.9" r="2.4"/><circle cx="396.8" cy="411.0" r="2.4"/><circle cx="514.7" cy="277.5" r="1.9"/><circle cx="571.3" cy="230.7" r="2.1"/><circle cx="511.6" cy="242.0" r="1.9"/><circle cx="546.2" cy="315.1" r="1.7"/><circle cx="584.5" cy="265.1" r="2.1"/><circle cx="440.6" cy="234.6" r="2.1"/><circle cx="465.1" cy="392.2" r="1.3"/><circle cx="588.0" cy="214.3" r="0.9"/><circle cx="464.6" cy="389.3" r="0.9"/><circle cx="544.8" cy="417.2" r="1.9"/><circle cx="546.8" cy="340.7" r="2.1"/><circle cx="435.1" cy="357.8" r="2.1"/><circle cx="526.1" cy="460.8" r="2.1"/><circle cx="643.4" cy="313.5" r="0.9"/><circle cx="464.0" cy="411.5" r="2.1"/><circle cx="478.1" cy="460.2" r="1.3"/><circle cx="536.4" cy="337.2" r="1.5"/><circle cx="516.2" cy="387.1" r="2.1"/><circle cx="518.3" cy="291.9" r="1.3"/><circle cx="587.0" cy="372.7" r="1.5"/><circle cx="456.3" cy="377.7" r="2.4"/><circle cx="464.9" cy="262.4" r="1.5"/><circle cx="513.4" cy="217.3" r="1.9"/><circle cx="438.1" cy="406.2" r="1.5"/><circle cx="611.1" cy="323.0" r="1.1"/><circle cx="551.4" cy="300.9" r="1.1"/><circle cx="419.6" cy="462.2" r="1.1"/><circle cx="600.4" cy="473.5" r="1.3"/><circle cx="549.4" cy="269.4" r="1.5"/><circle cx="513.3" cy="311.3" r="1.7"/><circle cx="611.8" cy="340.7" r="1.7"/><circle cx="494.1" cy="319.7" r="1.5"/><circle cx="435.0" cy="402.3" r="2.1"/><circle cx="569.5" cy="317.4" r="1.9"/><circle cx="396.1" cy="409.6" r="1.5"/><circle cx="413.5" cy="464.8" r="1.3"/><circle cx="538.7" cy="295.7" r="2.1"/><circle cx="399.1" cy="264.0" r="4.0"/><circle cx="614.8" cy="401.9" r="1.5"/><circle cx="465.6" cy="405.5" r="1.9"/><circle cx="503.7" cy="349.8" r="1.7"/><circle cx="420.4" cy="436.2" r="1.1"/><circle cx="587.1" cy="394.1" r="1.9"/><circle cx="568.2" cy="264.5" r="1.9"/><circle cx="591.8" cy="383.4" r="2.4"/><circle cx="471.8" cy="324.0" r="1.7"/><circle cx="543.7" cy="349.0" r="0.9"/><circle cx="449.8" cy="225.3" r="1.7"/><circle cx="565.5" cy="372.7" r="2.4"/><circle cx="591.3" cy="357.2" r="0.9"/><circle cx="508.2" cy="499.2" r="2.4"/><circle cx="527.4" cy="235.0" r="1.5"/><circle cx="473.5" cy="448.2" r="1.5"/><circle cx="620.1" cy="459.6" r="1.7"/><circle cx="613.9" cy="373.3" r="2.4"/><circle cx="592.4" cy="432.7" r="1.7"/><circle cx="626.0" cy="317.7" r="2.1"/><circle cx="475.6" cy="355.9" r="1.5"/><circle cx="551.8" cy="365.8" r="0.9"/><circle cx="418.3" cy="348.8" r="1.3"/><circle cx="505.1" cy="274.7" r="0.9"/><circle cx="514.4" cy="481.6" r="0.9"/><circle cx="499.8" cy="373.3" r="1.5"/><circle cx="583.6" cy="365.9" r="1.3"/><circle cx="488.7" cy="261.7" r="2.1"/><circle cx="403.0" cy="451.5" r="1.1"/><circle cx="541.0" cy="449.8" r="1.5"/><circle cx="497.0" cy="432.0" r="1.3"/><circle cx="501.5" cy="256.9" r="2.1"/><circle cx="608.2" cy="389.2" r="0.9"/><circle cx="539.6" cy="297.2" r="1.5"/><circle cx="404.1" cy="300.3" r="1.9"/><circle cx="562.3" cy="320.1" r="1.5"/><circle cx="465.8" cy="393.0" r="2.1"/><circle cx="557.6" cy="283.9" r="1.9"/><circle cx="565.1" cy="220.9" r="1.5"/><circle cx="422.3" cy="433.5" r="0.9"/><circle cx="528.5" cy="472.8" r="1.1"/><circle cx="435.9" cy="476.5" r="1.7"/><circle cx="431.4" cy="360.8" r="0.9"/><circle cx="523.4" cy="352.1" r="1.3"/><circle cx="573.1" cy="238.8" r="2.1"/><circle cx="554.2" cy="268.6" r="2.4"/><circle cx="522.4" cy="347.1" r="2.4"/><circle cx="524.4" cy="299.9" r="1.7"/><circle cx="509.8" cy="315.1" r="2.1"/><circle cx="446.1" cy="470.9" r="2.4"/><circle cx="577.5" cy="315.4" r="1.1"/><circle cx="578.3" cy="410.5" r="1.7"/><circle cx="423.0" cy="214.8" r="3.5"/><circle cx="437.5" cy="414.0" r="1.7"/><circle cx="489.6" cy="393.0" r="0.9"/><circle cx="412.5" cy="491.6" r="0.9"/><circle cx="496.9" cy="470.0" r="1.7"/><circle cx="452.2" cy="281.3" r="2.4"/><circle cx="403.2" cy="375.3" r="0.9"/><circle cx="548.6" cy="338.5" r="1.7"/><circle cx="431.7" cy="324.1" r="2.4"/><circle cx="543.7" cy="266.6" r="2.1"/><circle cx="622.9" cy="353.7" r="2.4"/><circle cx="566.0" cy="330.8" r="1.1"/><circle cx="525.1" cy="326.5" r="1.3"/><circle cx="522.0" cy="270.2" r="0.9"/><circle cx="525.8" cy="317.4" r="2.4"/><circle cx="438.1" cy="316.3" r="1.9"/><circle cx="440.4" cy="432.7" r="0.9"/><circle cx="506.9" cy="282.1" r="1.3"/><circle cx="454.0" cy="343.8" r="2.4"/><circle cx="414.9" cy="399.9" r="1.5"/><circle cx="542.0" cy="384.4" r="1.9"/><circle cx="588.8" cy="300.7" r="1.7"/><circle cx="435.3" cy="334.4" r="1.1"/><circle cx="430.1" cy="396.5" r="0.9"/><circle cx="454.8" cy="427.3" r="2.1"/><circle cx="417.7" cy="469.9" r="1.7"/><circle cx="457.9" cy="433.5" r="1.9"/><circle cx="449.3" cy="231.6" r="1.9"/><circle cx="498.6" cy="238.4" r="1.1"/><circle cx="524.3" cy="378.3" r="1.9"/><circle cx="548.2" cy="410.9" r="1.5"/><circle cx="519.9" cy="361.0" r="2.1"/><circle cx="635.1" cy="464.3" r="1.3"/><circle cx="554.1" cy="363.5" r="1.9"/><circle cx="460.4" cy="411.6" r="1.5"/><circle cx="610.1" cy="313.1" r="2.4"/><circle cx="584.0" cy="459.3" r="2.4"/><circle cx="547.6" cy="398.0" r="1.7"/><circle cx="576.9" cy="398.7" r="0.9"/><circle cx="449.8" cy="355.6" r="1.5"/><circle cx="582.1" cy="345.9" r="1.3"/><circle cx="579.7" cy="261.9" r="2.4"/><circle cx="448.4" cy="460.8" r="0.9"/><circle cx="523.3" cy="228.4" r="1.7"/><circle cx="531.9" cy="229.7" r="1.3"/><circle cx="495.1" cy="338.4" r="1.7"/><circle cx="535.6" cy="406.3" r="1.5"/><circle cx="545.0" cy="335.6" r="1.9"/><circle cx="519.8" cy="415.3" r="1.3"/><circle cx="521.7" cy="381.9" r="1.3"/><circle cx="574.5" cy="313.3" r="2.1"/><circle cx="572.7" cy="306.3" r="2.1"/><circle cx="443.0" cy="278.3" r="1.9"/><circle cx="600.3" cy="457.0" r="1.7"/><circle cx="472.5" cy="292.2" r="2.1"/><circle cx="583.0" cy="380.9" r="1.1"/><circle cx="435.4" cy="265.1" r="1.1"/><circle cx="576.9" cy="301.0" r="2.4"/><circle cx="477.6" cy="318.3" r="0.9"/><circle cx="615.7" cy="366.1" r="2.4"/><circle cx="631.7" cy="300.3" r="1.9"/><circle cx="547.1" cy="378.9" r="1.3"/><circle cx="501.4" cy="434.9" r="1.3"/><circle cx="494.6" cy="462.2" r="2.1"/><circle cx="470.1" cy="413.3" r="1.1"/><circle cx="544.4" cy="280.3" r="2.4"/><circle cx="489.7" cy="248.5" r="1.9"/><circle cx="415.2" cy="427.4" r="1.3"/><circle cx="461.1" cy="277.3" r="1.1"/><circle cx="474.3" cy="343.3" r="1.5"/><circle cx="490.8" cy="276.7" r="1.9"/><circle cx="568.0" cy="368.8" r="1.5"/><circle cx="449.4" cy="356.5" r="1.5"/><circle cx="493.3" cy="343.3" r="2.1"/><circle cx="517.2" cy="473.6" r="1.9"/><circle cx="550.2" cy="390.3" r="1.3"/><circle cx="508.4" cy="274.7" r="1.3"/><circle cx="429.1" cy="345.6" r="1.3"/><circle cx="419.9" cy="418.7" r="1.9"/><circle cx="467.8" cy="434.7" r="1.9"/><circle cx="567.8" cy="397.8" r="1.9"/><circle cx="522.4" cy="389.5" r="1.9"/><circle cx="575.2" cy="430.6" r="1.9"/><circle cx="631.5" cy="303.3" r="1.9"/><circle cx="453.3" cy="345.6" r="1.9"/><circle cx="383.0" cy="416.0" r="1.9"/><circle cx="397.9" cy="460.8" r="2.4"/><circle cx="610.5" cy="376.1" r="1.7"/><circle cx="454.8" cy="263.2" r="0.9"/><circle cx="560.4" cy="431.0" r="1.7"/><circle cx="451.3" cy="423.1" r="2.1"/><circle cx="600.1" cy="272.0" r="1.3"/><circle cx="447.2" cy="237.4" r="2.4"/><circle cx="393.6" cy="382.6" r="1.7"/><circle cx="454.3" cy="418.8" r="1.3"/><circle cx="569.9" cy="260.5" r="1.9"/><circle cx="538.0" cy="365.8" r="1.5"/><circle cx="613.3" cy="328.3" r="2.4"/><circle cx="495.9" cy="370.5" r="1.1"/><circle cx="559.5" cy="400.9" r="2.1"/><circle cx="448.0" cy="458.5" r="0.9"/><circle cx="473.8" cy="395.3" r="2.1"/><circle cx="500.5" cy="296.3" r="0.9"/><circle cx="505.0" cy="415.1" r="1.1"/><circle cx="507.3" cy="261.5" r="0.9"/><circle cx="552.8" cy="355.9" r="1.3"/><circle cx="564.4" cy="302.5" r="1.1"/><circle cx="505.1" cy="236.5" r="2.1"/><circle cx="522.2" cy="236.8" r="1.3"/><circle cx="529.9" cy="454.8" r="1.1"/><circle cx="540.7" cy="338.2" r="1.7"/><circle cx="564.8" cy="438.1" r="1.3"/><circle cx="570.2" cy="331.6" r="1.7"/><circle cx="551.3" cy="418.1" r="1.1"/><circle cx="484.7" cy="442.5" r="2.1"/><circle cx="409.1" cy="297.9" r="1.7"/><circle cx="593.1" cy="363.0" r="1.9"/><circle cx="468.7" cy="352.0" r="2.1"/><circle cx="560.1" cy="385.5" r="2.1"/><circle cx="557.9" cy="449.5" r="1.1"/><circle cx="486.6" cy="356.4" r="2.1"/><circle cx="567.3" cy="300.7" r="2.1"/><circle cx="497.3" cy="386.3" r="1.3"/><circle cx="484.8" cy="280.5" r="3.5"/><circle cx="426.9" cy="355.5" r="1.5"/><circle cx="594.0" cy="229.1" r="1.1"/><circle cx="423.6" cy="421.1" r="1.9"/><circle cx="501.3" cy="315.2" r="2.4"/><circle cx="468.9" cy="276.5" r="1.3"/><circle cx="610.2" cy="462.6" r="2.4"/><circle cx="615.4" cy="387.0" r="1.9"/><circle cx="518.8" cy="442.3" r="1.7"/><circle cx="528.7" cy="447.3" r="1.7"/><circle cx="544.9" cy="286.0" r="1.3"/><circle cx="566.4" cy="475.7" r="2.1"/><circle cx="516.1" cy="325.5" r="1.5"/><circle cx="434.3" cy="245.9" r="1.5"/><circle cx="498.0" cy="431.2" r="0.9"/><circle cx="512.5" cy="355.3" r="1.1"/><circle cx="603.4" cy="351.5" r="1.1"/><circle cx="500.6" cy="330.9" r="1.5"/><circle cx="573.4" cy="427.3" r="1.3"/><circle cx="533.6" cy="348.2" r="0.9"/><circle cx="470.8" cy="440.3" r="1.5"/><circle cx="394.5" cy="420.6" r="1.1"/><circle cx="540.0" cy="249.2" r="2.4"/><circle cx="510.3" cy="371.1" r="1.7"/><circle cx="493.8" cy="358.7" r="1.1"/><circle cx="581.5" cy="358.4" r="1.5"/><circle cx="600.5" cy="262.6" r="0.9"/><circle cx="491.4" cy="222.0" r="0.9"/><circle cx="572.9" cy="256.9" r="2.1"/><circle cx="637.6" cy="419.5" r="1.1"/><circle cx="520.8" cy="494.3" r="1.7"/><circle cx="439.0" cy="253.3" r="2.1"/><circle cx="511.1" cy="388.2" r="1.7"/><circle cx="493.5" cy="238.1" r="3.5"/><circle cx="446.9" cy="397.4" r="1.5"/><circle cx="601.6" cy="335.8" r="2.1"/><circle cx="529.7" cy="263.8" r="1.3"/><circle cx="502.5" cy="404.4" r="1.9"/><circle cx="418.4" cy="295.6" r="2.1"/><circle cx="460.1" cy="376.5" r="2.4"/><circle cx="498.9" cy="350.7" r="2.1"/><circle cx="501.7" cy="441.1" r="1.1"/><circle cx="541.1" cy="359.5" r="1.1"/><circle cx="609.2" cy="373.6" r="1.5"/><circle cx="401.7" cy="332.8" r="1.1"/><circle cx="495.0" cy="347.1" r="0.9"/><circle cx="455.2" cy="310.2" r="2.4"/><circle cx="571.5" cy="404.8" r="1.7"/><circle cx="520.4" cy="340.3" r="1.5"/><circle cx="577.9" cy="386.0" r="1.5"/><circle cx="444.5" cy="468.7" r="2.4"/><circle cx="488.4" cy="338.4" r="1.9"/><circle cx="494.1" cy="332.2" r="1.3"/><circle cx="469.7" cy="407.8" r="1.7"/><circle cx="455.9" cy="353.5" r="1.3"/><circle cx="484.3" cy="342.8" r="1.3"/><circle cx="540.4" cy="376.8" r="1.1"/><circle cx="567.0" cy="477.0" r="1.9"/><circle cx="618.3" cy="297.0" r="1.9"/><circle cx="610.6" cy="400.4" r="2.4"/><circle cx="508.8" cy="473.8" r="1.5"/><circle cx="600.0" cy="393.4" r="2.4"/><circle cx="595.7" cy="281.0" r="1.5"/><circle cx="452.1" cy="486.5" r="1.3"/><circle cx="555.2" cy="404.3" r="1.5"/><circle cx="424.2" cy="351.3" r="1.9"/><circle cx="381.9" cy="442.9" r="2.1"/><circle cx="563.5" cy="412.2" r="2.4"/><circle cx="458.9" cy="311.6" r="1.9"/><circle cx="594.3" cy="242.1" r="1.3"/><circle cx="498.3" cy="477.3" r="0.9"/><circle cx="460.7" cy="326.4" r="1.5"/><circle cx="471.7" cy="301.3" r="2.1"/><circle cx="477.1" cy="310.0" r="2.4"/><circle cx="542.5" cy="220.2" r="2.1"/><circle cx="569.9" cy="271.9" r="2.4"/><circle cx="498.0" cy="396.1" r="1.3"/><circle cx="481.3" cy="415.6" r="2.1"/><circle cx="447.6" cy="269.4" r="1.5"/><circle cx="519.1" cy="321.6" r="1.9"/><circle cx="585.4" cy="378.5" r="1.7"/><circle cx="457.4" cy="241.6" r="1.1"/><circle cx="562.5" cy="434.4" r="1.3"/><circle cx="446.8" cy="262.0" r="1.5"/><circle cx="482.8" cy="477.1" r="1.9"/><circle cx="463.6" cy="258.9" r="1.5"/><circle cx="434.5" cy="384.3" r="1.3"/><circle cx="563.2" cy="384.6" r="1.9"/><circle cx="464.7" cy="309.0" r="1.3"/><circle cx="462.1" cy="461.9" r="1.1"/><circle cx="537.6" cy="451.9" r="1.7"/><circle cx="618.3" cy="222.4" r="0.9"/><circle cx="602.4" cy="255.9" r="1.3"/><circle cx="451.8" cy="379.5" r="1.9"/><circle cx="524.7" cy="382.7" r="1.3"/><circle cx="393.1" cy="276.2" r="2.1"/><circle cx="433.7" cy="427.0" r="1.9"/><circle cx="585.2" cy="279.8" r="2.1"/><circle cx="579.4" cy="455.3" r="1.7"/><circle cx="530.7" cy="481.3" r="1.5"/><circle cx="499.5" cy="284.1" r="1.9"/><circle cx="597.3" cy="229.0" r="0.9"/><circle cx="482.5" cy="218.7" r="2.1"/><circle cx="481.2" cy="462.5" r="1.3"/><circle cx="533.5" cy="331.5" r="1.7"/><circle cx="553.6" cy="357.2" r="1.9"/><circle cx="514.7" cy="390.8" r="0.9"/><circle cx="434.5" cy="365.8" r="1.3"/><circle cx="526.3" cy="237.3" r="1.3"/><circle cx="497.8" cy="406.3" r="1.1"/><circle cx="575.6" cy="384.9" r="1.1"/><circle cx="524.6" cy="267.8" r="0.9"/><circle cx="541.3" cy="264.2" r="0.9"/><circle cx="555.9" cy="282.0" r="0.9"/><circle cx="461.2" cy="436.1" r="1.7"/><circle cx="546.4" cy="423.8" r="0.9"/><circle cx="507.6" cy="393.2" r="2.4"/><circle cx="459.5" cy="257.0" r="1.7"/><circle cx="569.9" cy="286.1" r="2.1"/><circle cx="559.3" cy="343.5" r="2.1"/><circle cx="538.5" cy="337.6" r="1.5"/><circle cx="493.7" cy="390.1" r="2.1"/><circle cx="585.2" cy="315.0" r="1.7"/><circle cx="433.1" cy="460.2" r="2.4"/><circle cx="436.3" cy="332.6" r="0.9"/><circle cx="580.5" cy="484.8" r="1.3"/><circle cx="571.0" cy="334.0" r="2.1"/><circle cx="642.7" cy="421.7" r="1.5"/><circle cx="528.0" cy="420.4" r="1.3"/><circle cx="508.4" cy="319.2" r="2.1"/><circle cx="446.8" cy="316.2" r="1.3"/><circle cx="524.9" cy="380.9" r="1.3"/><circle cx="502.6" cy="434.4" r="1.5"/><circle cx="537.8" cy="376.4" r="1.1"/><circle cx="570.7" cy="236.6" r="1.1"/><circle cx="424.5" cy="317.1" r="1.1"/><circle cx="438.0" cy="302.4" r="1.1"/><circle cx="391.4" cy="423.4" r="2.4"/><circle cx="425.3" cy="275.0" r="1.5"/><circle cx="486.8" cy="391.9" r="2.1"/><circle cx="592.0" cy="350.0" r="1.9"/><circle cx="576.0" cy="450.5" r="1.1"/><circle cx="604.4" cy="215.2" r="1.9"/><circle cx="570.2" cy="484.3" r="0.9"/><circle cx="519.2" cy="375.5" r="2.4"/><circle cx="558.6" cy="484.0" r="0.9"/><circle cx="531.8" cy="346.6" r="2.1"/><circle cx="526.3" cy="342.2" r="0.9"/><circle cx="497.9" cy="378.1" r="1.1"/><circle cx="519.9" cy="327.0" r="1.5"/><circle cx="530.3" cy="280.1" r="0.9"/><circle cx="547.0" cy="380.0" r="1.9"/><circle cx="541.6" cy="454.6" r="1.7"/><circle cx="444.4" cy="292.6" r="1.3"/><circle cx="492.1" cy="325.1" r="0.9"/><circle cx="503.2" cy="371.7" r="0.9"/><circle cx="603.0" cy="237.5" r="1.7"/><circle cx="555.5" cy="282.3" r="1.7"/><circle cx="432.4" cy="462.6" r="1.7"/><circle cx="463.6" cy="430.2" r="2.1"/><circle cx="446.5" cy="420.4" r="2.1"/><circle cx="478.7" cy="345.8" r="0.9"/><circle cx="450.6" cy="440.3" r="1.5"/><circle cx="460.6" cy="498.5" r="2.1"/><circle cx="578.9" cy="297.6" r="0.9"/><circle cx="438.8" cy="340.5" r="1.5"/><circle cx="415.6" cy="422.0" r="1.3"/><circle cx="524.1" cy="348.1" r="1.3"/><circle cx="459.0" cy="410.1" r="1.1"/><circle cx="592.5" cy="450.6" r="1.1"/><circle cx="547.5" cy="372.1" r="1.9"/><circle cx="507.5" cy="463.9" r="1.7"/><circle cx="488.3" cy="307.4" r="1.1"/><circle cx="489.3" cy="471.2" r="0.9"/><circle cx="503.7" cy="278.6" r="2.1"/><circle cx="560.4" cy="288.1" r="1.9"/><circle cx="458.0" cy="392.9" r="1.1"/><circle cx="626.7" cy="431.5" r="1.3"/><circle cx="477.1" cy="357.2" r="1.1"/><circle cx="515.7" cy="324.2" r="1.9"/><circle cx="578.0" cy="241.0" r="1.7"/><circle cx="448.0" cy="216.0" r="1.7"/><circle cx="541.7" cy="338.5" r="1.7"/><circle cx="638.4" cy="428.9" r="0.9"/><circle cx="594.8" cy="423.4" r="2.1"/><circle cx="472.4" cy="435.8" r="1.7"/><circle cx="526.9" cy="469.4" r="1.3"/><circle cx="594.1" cy="434.5" r="2.4"/><circle cx="610.6" cy="358.0" r="1.1"/><circle cx="468.1" cy="308.3" r="1.5"/><circle cx="418.0" cy="276.3" r="2.1"/><circle cx="454.0" cy="337.9" r="1.1"/><circle cx="644.7" cy="379.0" r="1.5"/><circle cx="405.3" cy="315.9" r="1.7"/><circle cx="580.0" cy="365.6" r="1.1"/><circle cx="489.1" cy="388.8" r="1.9"/><circle cx="469.8" cy="429.1" r="2.1"/><circle cx="628.0" cy="279.1" r="2.4"/><circle cx="530.7" cy="421.7" r="1.5"/><circle cx="429.9" cy="357.1" r="2.4"/><circle cx="461.1" cy="332.6" r="1.1"/><circle cx="533.7" cy="313.2" r="1.1"/><circle cx="477.8" cy="366.4" r="1.9"/><circle cx="441.1" cy="367.3" r="1.9"/><circle cx="491.5" cy="332.5" r="1.3"/><circle cx="522.9" cy="382.6" r="2.4"/><circle cx="482.0" cy="321.5" r="1.1"/><circle cx="437.9" cy="454.2" r="1.5"/><circle cx="405.7" cy="470.6" r="2.1"/><circle cx="556.4" cy="358.4" r="2.4"/><circle cx="554.8" cy="388.9" r="1.7"/><circle cx="496.3" cy="333.0" r="0.9"/><circle cx="547.8" cy="245.7" r="2.1"/><circle cx="523.7" cy="255.9" r="1.1"/><circle cx="440.9" cy="263.8" r="2.1"/><circle cx="469.5" cy="329.7" r="1.9"/><circle cx="481.6" cy="384.2" r="1.3"/><circle cx="508.6" cy="352.4" r="1.9"/><circle cx="543.6" cy="436.1" r="1.1"/><circle cx="488.5" cy="306.0" r="1.1"/><circle cx="526.5" cy="366.2" r="2.1"/><circle cx="510.9" cy="344.7" r="1.3"/><circle cx="513.7" cy="216.3" r="1.7"/><circle cx="402.8" cy="284.9" r="1.5"/><circle cx="554.3" cy="363.0" r="0.9"/><circle cx="450.4" cy="367.2" r="1.7"/><circle cx="420.8" cy="401.2" r="1.9"/><circle cx="479.2" cy="308.0" r="0.9"/><circle cx="505.2" cy="286.7" r="2.4"/><circle cx="526.5" cy="236.9" r="2.4"/><circle cx="496.1" cy="314.2" r="1.7"/><circle cx="611.2" cy="274.9" r="5.0"/><circle cx="459.7" cy="395.7" r="1.7"/><circle cx="528.4" cy="396.4" r="1.9"/><circle cx="597.1" cy="250.0" r="2.1"/><circle cx="482.6" cy="405.3" r="1.3"/><circle cx="603.6" cy="348.6" r="1.7"/><circle cx="555.5" cy="339.3" r="1.1"/><circle cx="427.7" cy="363.5" r="2.1"/><circle cx="465.8" cy="316.3" r="1.5"/><circle cx="532.8" cy="434.2" r="1.9"/><circle cx="527.9" cy="460.4" r="1.1"/><circle cx="466.3" cy="342.3" r="2.4"/><circle cx="632.5" cy="301.8" r="2.1"/><circle cx="469.9" cy="357.9" r="0.9"/><circle cx="445.1" cy="263.5" r="1.5"/><circle cx="520.2" cy="299.9" r="1.9"/><circle cx="456.5" cy="269.4" r="4.0"/><circle cx="512.7" cy="324.8" r="2.4"/><circle cx="622.4" cy="386.4" r="1.3"/><circle cx="469.7" cy="432.8" r="1.3"/><circle cx="548.7" cy="215.0" r="1.9"/><circle cx="524.1" cy="461.1" r="1.7"/><circle cx="470.2" cy="436.2" r="2.1"/><circle cx="478.8" cy="415.7" r="2.4"/><circle cx="490.6" cy="385.9" r="2.1"/><circle cx="458.8" cy="390.3" r="1.7"/><circle cx="386.7" cy="356.0" r="1.3"/><circle cx="536.0" cy="455.4" r="1.7"/><circle cx="622.6" cy="290.6" r="1.7"/><circle cx="583.9" cy="423.2" r="1.5"/><circle cx="509.2" cy="434.7" r="0.9"/><circle cx="510.6" cy="256.1" r="2.1"/><circle cx="598.5" cy="391.3" r="1.5"/><circle cx="547.5" cy="405.7" r="2.4"/><circle cx="481.4" cy="410.9" r="0.9"/><circle cx="388.2" cy="375.5" r="1.3"/><circle cx="448.3" cy="443.4" r="2.1"/><circle cx="537.2" cy="412.7" r="2.1"/><circle cx="537.0" cy="243.6" r="1.7"/><circle cx="491.9" cy="362.6" r="1.1"/><circle cx="556.4" cy="223.0" r="1.7"/><circle cx="440.7" cy="289.3" r="0.9"/><circle cx="484.7" cy="329.4" r="1.5"/><circle cx="403.1" cy="360.8" r="2.4"/><circle cx="504.9" cy="342.0" r="1.1"/><circle cx="505.8" cy="324.9" r="2.1"/><circle cx="516.3" cy="277.5" r="0.9"/><circle cx="465.8" cy="418.4" r="2.4"/><circle cx="536.1" cy="348.2" r="2.1"/><circle cx="450.6" cy="356.6" r="1.9"/><circle cx="524.7" cy="324.6" r="2.1"/><circle cx="435.6" cy="484.9" r="1.3"/><circle cx="516.3" cy="407.6" r="2.4"/><circle cx="438.5" cy="469.2" r="1.3"/><circle cx="381.3" cy="307.5" r="1.7"/><circle cx="461.4" cy="375.6" r="2.4"/><circle cx="387.3" cy="279.2" r="2.4"/><circle cx="580.2" cy="313.6" r="1.5"/><circle cx="467.0" cy="418.0" r="2.1"/><circle cx="530.4" cy="481.4" r="1.3"/><circle cx="475.2" cy="358.6" r="2.1"/><circle cx="395.9" cy="323.0" r="0.9"/><circle cx="437.4" cy="365.4" r="1.3"/><circle cx="421.9" cy="448.0" r="1.9"/><circle cx="495.9" cy="314.4" r="0.9"/><circle cx="528.5" cy="325.3" r="1.1"/><circle cx="581.7" cy="291.4" r="1.1"/><circle cx="523.4" cy="400.4" r="1.3"/><circle cx="522.1" cy="301.7" r="2.4"/><circle cx="411.0" cy="283.8" r="1.5"/><circle cx="413.8" cy="320.0" r="2.4"/><circle cx="409.9" cy="416.8" r="1.5"/><circle cx="414.6" cy="462.0" r="1.7"/><circle cx="644.3" cy="234.6" r="2.1"/><circle cx="579.4" cy="288.7" r="5.0"/><circle cx="455.6" cy="428.3" r="0.9"/><circle cx="422.4" cy="311.8" r="2.4"/><circle cx="495.6" cy="353.2" r="1.5"/><circle cx="591.0" cy="475.4" r="1.7"/><circle cx="493.8" cy="419.0" r="1.3"/><circle cx="640.4" cy="251.1" r="2.4"/><circle cx="621.4" cy="324.6" r="1.1"/><circle cx="557.4" cy="276.5" r="1.7"/><circle cx="600.8" cy="427.7" r="1.5"/><circle cx="538.0" cy="302.1" r="1.9"/><circle cx="545.0" cy="217.3" r="1.9"/><circle cx="556.7" cy="264.1" r="3.5"/><circle cx="441.6" cy="386.5" r="0.9"/><circle cx="555.7" cy="221.9" r="1.1"/><circle cx="612.3" cy="359.4" r="2.4"/><circle cx="592.4" cy="237.9" r="2.4"/><circle cx="441.1" cy="296.7" r="0.9"/><circle cx="484.4" cy="385.3" r="2.4"/><circle cx="577.4" cy="436.6" r="1.3"/><circle cx="614.1" cy="261.0" r="2.4"/><circle cx="616.9" cy="310.0" r="2.4"/><circle cx="552.6" cy="383.2" r="1.1"/><circle cx="530.9" cy="234.6" r="2.4"/><circle cx="492.6" cy="398.8" r="1.1"/><circle cx="602.8" cy="248.1" r="1.5"/><circle cx="567.6" cy="322.9" r="1.3"/><circle cx="625.3" cy="454.8" r="2.1"/><circle cx="489.9" cy="324.3" r="1.1"/><circle cx="483.1" cy="325.6" r="1.5"/><circle cx="541.6" cy="312.3" r="0.9"/><circle cx="511.5" cy="414.5" r="1.3"/><circle cx="490.5" cy="318.6" r="2.1"/><circle cx="477.5" cy="282.2" r="0.9"/><circle cx="476.2" cy="373.1" r="1.5"/><circle cx="484.1" cy="289.2" r="1.7"/><circle cx="636.4" cy="332.6" r="1.3"/><circle cx="546.5" cy="314.9" r="1.3"/><circle cx="495.2" cy="370.1" r="1.3"/><circle cx="472.1" cy="326.4" r="2.1"/><circle cx="518.5" cy="299.9" r="2.4"/><circle cx="479.1" cy="221.0" r="1.1"/><circle cx="538.1" cy="358.0" r="1.7"/><circle cx="423.3" cy="313.0" r="1.5"/><circle cx="447.7" cy="346.1" r="1.3"/><circle cx="473.0" cy="385.7" r="1.7"/><circle cx="505.2" cy="264.5" r="2.4"/><circle cx="546.1" cy="400.2" r="1.9"/><circle cx="543.2" cy="359.8" r="1.1"/><circle cx="430.6" cy="352.8" r="2.4"/><circle cx="525.9" cy="323.0" r="2.1"/><circle cx="473.8" cy="278.9" r="1.3"/><circle cx="550.9" cy="291.8" r="2.4"/><circle cx="538.4" cy="469.5" r="2.1"/><circle cx="470.7" cy="460.8" r="2.1"/><circle cx="588.3" cy="395.5" r="1.5"/><circle cx="550.4" cy="307.4" r="1.3"/><circle cx="458.1" cy="359.6" r="0.9"/><circle cx="603.7" cy="323.0" r="2.1"/><circle cx="493.3" cy="255.6" r="2.1"/><circle cx="529.3" cy="383.6" r="1.9"/><circle cx="437.2" cy="258.6" r="0.9"/><circle cx="616.3" cy="453.8" r="1.9"/><circle cx="527.1" cy="474.6" r="2.1"/><circle cx="484.9" cy="395.8" r="0.9"/><circle cx="475.5" cy="365.7" r="1.9"/><circle cx="423.6" cy="475.8" r="1.5"/><circle cx="562.5" cy="306.5" r="1.5"/><circle cx="594.2" cy="382.2" r="1.7"/><circle cx="555.0" cy="260.8" r="0.9"/><circle cx="471.4" cy="402.5" r="2.1"/><circle cx="456.8" cy="221.4" r="2.4"/><circle cx="529.7" cy="454.2" r="1.9"/><circle cx="484.6" cy="329.0" r="0.9"/><circle cx="489.1" cy="396.6" r="1.9"/><circle cx="488.7" cy="286.5" r="1.9"/><circle cx="558.2" cy="345.0" r="1.3"/><circle cx="440.7" cy="217.4" r="1.5"/><circle cx="453.2" cy="367.7" r="0.9"/><circle cx="440.5" cy="265.7" r="1.7"/><circle cx="463.6" cy="391.0" r="2.1"/><circle cx="469.1" cy="235.3" r="1.1"/><circle cx="476.1" cy="269.2" r="1.7"/><circle cx="610.9" cy="324.2" r="1.5"/><circle cx="546.8" cy="403.4" r="1.7"/><circle cx="535.7" cy="243.7" r="1.7"/><circle cx="599.8" cy="389.8" r="1.3"/><circle cx="498.0" cy="412.5" r="0.9"/><circle cx="472.9" cy="401.7" r="1.5"/><circle cx="601.1" cy="479.4" r="1.1"/><circle cx="559.9" cy="244.1" r="0.9"/><circle cx="400.7" cy="265.7" r="2.1"/><circle cx="429.1" cy="220.3" r="2.4"/><circle cx="455.3" cy="405.8" r="2.4"/><circle cx="567.9" cy="416.4" r="2.1"/><circle cx="539.6" cy="313.9" r="1.3"/><circle cx="529.9" cy="449.2" r="0.9"/><circle cx="539.3" cy="355.8" r="1.7"/><circle cx="459.4" cy="371.7" r="1.7"/><circle cx="496.2" cy="389.4" r="1.3"/><circle cx="538.5" cy="345.7" r="1.1"/><circle cx="580.1" cy="216.6" r="1.9"/><circle cx="559.9" cy="264.3" r="1.5"/><circle cx="557.9" cy="470.6" r="1.1"/><circle cx="529.1" cy="357.2" r="1.7"/><circle cx="534.4" cy="287.3" r="2.4"/><circle cx="507.6" cy="382.2" r="1.9"/><circle cx="455.6" cy="403.3" r="1.1"/><circle cx="483.0" cy="375.5" r="1.1"/><circle cx="476.8" cy="235.0" r="0.9"/><circle cx="551.1" cy="215.1" r="1.9"/><circle cx="468.3" cy="468.5" r="1.7"/><circle cx="546.7" cy="362.0" r="1.7"/><circle cx="476.9" cy="468.7" r="1.9"/><circle cx="513.6" cy="254.8" r="0.9"/><circle cx="446.8" cy="364.3" r="2.4"/><circle cx="561.6" cy="335.8" r="1.9"/><circle cx="432.3" cy="483.1" r="1.5"/><circle cx="508.8" cy="437.3" r="2.1"/><circle cx="538.7" cy="385.4" r="1.3"/><circle cx="513.8" cy="479.9" r="1.9"/><circle cx="482.2" cy="233.4" r="1.3"/><circle cx="631.8" cy="456.6" r="1.1"/><circle cx="591.6" cy="384.7" r="2.1"/><circle cx="475.6" cy="353.7" r="2.1"/><circle cx="642.5" cy="370.6" r="1.5"/><circle cx="583.3" cy="325.5" r="2.4"/><circle cx="525.3" cy="296.1" r="1.5"/><circle cx="398.9" cy="481.9" r="2.4"/><circle cx="511.8" cy="348.4" r="1.1"/><circle cx="539.8" cy="256.0" r="2.1"/><circle cx="577.8" cy="411.6" r="1.1"/><circle cx="639.5" cy="390.8" r="1.3"/><circle cx="525.2" cy="254.7" r="0.9"/><circle cx="471.8" cy="429.8" r="2.4"/><circle cx="619.8" cy="421.9" r="0.9"/><circle cx="478.9" cy="328.9" r="1.5"/><circle cx="442.7" cy="216.6" r="0.9"/><circle cx="467.0" cy="317.3" r="0.9"/><circle cx="541.7" cy="443.3" r="2.1"/><circle cx="456.4" cy="304.0" r="2.1"/><circle cx="527.3" cy="399.6" r="2.4"/><circle cx="381.7" cy="312.0" r="1.9"/><circle cx="494.9" cy="367.4" r="1.9"/><circle cx="540.8" cy="403.5" r="1.1"/><circle cx="400.9" cy="389.6" r="1.5"/><circle cx="472.1" cy="250.5" r="1.9"/><circle cx="454.3" cy="430.2" r="0.9"/><circle cx="386.5" cy="234.6" r="0.9"/><circle cx="510.7" cy="350.2" r="1.3"/><circle cx="463.1" cy="460.6" r="1.1"/><circle cx="571.9" cy="424.9" r="2.4"/><circle cx="555.8" cy="416.3" r="1.3"/><circle cx="422.0" cy="376.9" r="1.7"/><circle cx="577.4" cy="421.9" r="1.3"/><circle cx="612.0" cy="316.9" r="2.4"/><circle cx="557.4" cy="359.6" r="1.5"/><circle cx="471.4" cy="412.7" r="1.5"/><circle cx="427.9" cy="412.1" r="2.1"/><circle cx="480.3" cy="329.3" r="1.1"/><circle cx="462.9" cy="244.7" r="1.9"/><circle cx="404.2" cy="492.0" r="1.5"/><circle cx="639.5" cy="426.3" r="2.1"/><circle cx="506.2" cy="398.7" r="1.7"/><circle cx="484.7" cy="416.5" r="2.4"/><circle cx="561.8" cy="353.5" r="0.9"/><circle cx="552.8" cy="414.0" r="0.9"/><circle cx="546.1" cy="279.5" r="1.5"/><circle cx="493.2" cy="260.7" r="0.9"/><circle cx="470.3" cy="306.1" r="1.7"/><circle cx="549.5" cy="486.1" r="0.9"/><circle cx="547.7" cy="377.9" r="1.3"/><circle cx="455.6" cy="374.2" r="2.1"/><circle cx="499.5" cy="258.7" r="1.3"/><circle cx="520.5" cy="229.0" r="1.9"/><circle cx="511.4" cy="294.0" r="2.1"/><circle cx="437.6" cy="396.9" r="0.9"/><circle cx="482.1" cy="343.2" r="1.3"/><circle cx="575.2" cy="335.0" r="0.9"/><circle cx="505.8" cy="301.7" r="1.5"/><circle cx="533.0" cy="214.8" r="2.4"/><circle cx="415.7" cy="458.7" r="2.1"/><circle cx="560.7" cy="399.2" r="1.7"/><circle cx="619.1" cy="230.4" r="1.9"/><circle cx="522.5" cy="388.0" r="1.3"/><circle cx="478.4" cy="279.7" r="1.1"/><circle cx="643.1" cy="392.9" r="1.9"/><circle cx="565.3" cy="319.3" r="2.4"/><circle cx="456.4" cy="233.7" r="1.5"/><circle cx="528.2" cy="426.7" r="0.9"/><circle cx="606.0" cy="292.7" r="1.3"/><circle cx="484.7" cy="323.7" r="1.5"/><circle cx="551.7" cy="410.1" r="2.4"/><circle cx="544.8" cy="243.5" r="2.4"/><circle cx="549.0" cy="374.0" r="1.9"/><circle cx="453.4" cy="377.8" r="0.9"/><circle cx="538.0" cy="343.6" r="1.5"/><circle cx="468.5" cy="381.3" r="1.1"/><circle cx="603.8" cy="465.9" r="2.1"/><circle cx="466.5" cy="399.3" r="1.1"/><circle cx="499.0" cy="428.2" r="1.3"/><circle cx="463.5" cy="322.0" r="1.3"/><circle cx="626.7" cy="370.8" r="1.9"/><circle cx="420.6" cy="282.4" r="2.1"/><circle cx="543.5" cy="375.4" r="1.3"/><circle cx="526.3" cy="320.7" r="1.5"/><circle cx="453.0" cy="347.5" r="1.3"/><circle cx="455.2" cy="410.0" r="1.1"/><circle cx="641.6" cy="342.8" r="1.7"/><circle cx="414.6" cy="355.9" r="0.9"/><circle cx="601.7" cy="358.6" r="1.9"/><circle cx="395.1" cy="481.8" r="2.1"/><circle cx="453.5" cy="332.0" r="2.4"/><circle cx="596.0" cy="440.5" r="1.9"/><circle cx="526.3" cy="439.8" r="1.5"/><circle cx="536.6" cy="366.9" r="1.1"/><circle cx="509.0" cy="376.4" r="0.9"/><circle cx="466.2" cy="366.1" r="1.7"/><circle cx="511.8" cy="374.9" r="1.5"/><circle cx="465.3" cy="318.3" r="2.1"/><circle cx="494.1" cy="321.9" r="1.3"/><circle cx="466.9" cy="329.6" r="1.3"/><circle cx="392.3" cy="246.5" r="1.3"/><circle cx="409.0" cy="243.5" r="2.4"/><circle cx="453.0" cy="299.4" r="1.5"/><circle cx="568.0" cy="261.2" r="1.5"/><circle cx="484.4" cy="412.2" r="1.9"/><circle cx="545.3" cy="496.9" r="2.4"/><circle cx="541.4" cy="300.6" r="0.9"/><circle cx="478.5" cy="385.3" r="2.4"/><circle cx="626.2" cy="434.6" r="2.1"/><circle cx="431.7" cy="468.0" r="1.3"/><circle cx="476.0" cy="422.8" r="1.5"/><circle cx="527.1" cy="236.3" r="1.5"/><circle cx="448.0" cy="284.9" r="1.7"/><circle cx="617.7" cy="235.2" r="2.4"/><circle cx="489.3" cy="454.7" r="2.4"/><circle cx="541.8" cy="393.8" r="1.7"/><circle cx="448.1" cy="243.8" r="1.3"/><circle cx="608.6" cy="435.5" r="1.3"/><circle cx="471.8" cy="435.5" r="1.9"/><circle cx="575.9" cy="320.8" r="1.7"/><circle cx="539.3" cy="353.5" r="1.9"/><circle cx="543.0" cy="297.4" r="2.4"/><circle cx="419.2" cy="445.8" r="1.7"/><circle cx="425.3" cy="256.1" r="1.7"/><circle cx="460.9" cy="303.8" r="0.9"/><circle cx="549.2" cy="406.3" r="1.7"/><circle cx="393.1" cy="414.1" r="0.9"/><circle cx="400.9" cy="440.8" r="1.5"/><circle cx="457.6" cy="254.2" r="1.7"/><circle cx="614.9" cy="388.8" r="1.3"/><circle cx="504.6" cy="308.8" r="1.5"/><circle cx="603.6" cy="315.7" r="0.9"/><circle cx="533.4" cy="227.7" r="0.9"/><circle cx="498.6" cy="389.6" r="0.9"/><circle cx="435.1" cy="245.0" r="0.9"/><circle cx="460.2" cy="331.8" r="2.1"/><circle cx="529.5" cy="455.2" r="1.7"/><circle cx="424.6" cy="362.0" r="1.9"/><circle cx="528.2" cy="424.0" r="1.7"/><circle cx="438.1" cy="385.5" r="2.4"/><circle cx="559.7" cy="313.7" r="2.4"/><circle cx="459.3" cy="350.9" r="1.9"/><circle cx="470.4" cy="353.9" r="0.9"/><circle cx="499.8" cy="468.5" r="2.1"/><circle cx="572.8" cy="228.9" r="1.1"/><circle cx="587.0" cy="340.4" r="2.1"/><circle cx="530.2" cy="381.1" r="1.7"/><circle cx="563.1" cy="298.3" r="2.4"/><circle cx="519.5" cy="268.9" r="2.4"/><circle cx="482.9" cy="228.5" r="1.1"/><circle cx="600.9" cy="251.2" r="4.0"/><circle cx="458.5" cy="262.7" r="1.5"/><circle cx="408.1" cy="442.1" r="2.1"/><circle cx="572.0" cy="357.2" r="2.1"/><circle cx="498.6" cy="385.2" r="2.1"/><circle cx="550.9" cy="241.8" r="0.9"/><circle cx="406.2" cy="307.3" r="1.1"/><circle cx="470.8" cy="329.8" r="2.1"/><circle cx="604.8" cy="266.2" r="0.9"/><circle cx="545.8" cy="421.7" r="0.9"/><circle cx="599.2" cy="315.8" r="2.1"/><circle cx="605.8" cy="448.8" r="2.4"/><circle cx="557.4" cy="342.3" r="0.9"/><circle cx="552.8" cy="396.4" r="2.4"/><circle cx="480.2" cy="278.5" r="4.0"/><circle cx="463.4" cy="426.5" r="2.1"/><circle cx="457.2" cy="286.1" r="1.7"/><circle cx="567.3" cy="430.7" r="1.5"/><circle cx="508.6" cy="236.1" r="2.1"/><circle cx="617.7" cy="270.6" r="1.5"/><circle cx="603.2" cy="322.3" r="1.1"/><circle cx="409.5" cy="290.5" r="2.4"/><circle cx="547.9" cy="270.6" r="1.3"/><circle cx="556.1" cy="444.0" r="2.1"/><circle cx="605.2" cy="294.9" r="2.4"/><circle cx="573.3" cy="317.0" r="1.9"/><circle cx="627.6" cy="340.0" r="0.9"/><circle cx="489.7" cy="443.0" r="1.1"/><circle cx="494.2" cy="387.3" r="1.3"/><circle cx="567.1" cy="234.9" r="1.9"/><circle cx="527.5" cy="380.0" r="2.4"/><circle cx="481.6" cy="349.9" r="2.1"/><circle cx="602.4" cy="270.1" r="5.0"/><circle cx="619.4" cy="464.6" r="1.9"/><circle cx="453.8" cy="488.2" r="2.4"/><circle cx="572.5" cy="242.1" r="0.9"/><circle cx="512.5" cy="287.1" r="1.7"/><circle cx="502.7" cy="414.7" r="2.4"/><circle cx="600.2" cy="465.4" r="1.3"/><circle cx="489.3" cy="371.2" r="2.4"/><circle cx="565.4" cy="267.4" r="1.9"/><circle cx="470.5" cy="217.0" r="1.1"/><circle cx="467.2" cy="258.2" r="1.9"/><circle cx="628.1" cy="277.9" r="1.3"/><circle cx="634.5" cy="373.6" r="0.9"/><circle cx="423.8" cy="338.0" r="1.3"/><circle cx="504.3" cy="219.0" r="0.9"/><circle cx="478.1" cy="258.9" r="0.9"/><circle cx="617.0" cy="349.3" r="2.4"/><circle cx="538.5" cy="348.2" r="1.5"/><circle cx="457.8" cy="250.7" r="1.3"/><circle cx="413.8" cy="410.0" r="0.9"/><circle cx="437.4" cy="338.3" r="1.1"/><circle cx="477.4" cy="349.3" r="1.1"/><circle cx="624.9" cy="388.4" r="1.1"/><circle cx="589.1" cy="437.9" r="2.1"/><circle cx="498.7" cy="416.4" r="2.1"/><circle cx="476.5" cy="335.9" r="1.1"/><circle cx="515.7" cy="306.7" r="1.3"/><circle cx="473.0" cy="364.3" r="2.1"/><circle cx="588.7" cy="440.6" r="1.9"/><circle cx="524.9" cy="366.2" r="0.9"/><circle cx="516.6" cy="339.9" r="2.4"/><circle cx="564.5" cy="327.3" r="1.9"/><circle cx="616.9" cy="419.1" r="0.9"/><circle cx="573.7" cy="432.2" r="1.9"/><circle cx="542.9" cy="445.2" r="2.4"/><circle cx="611.4" cy="374.8" r="1.1"/><circle cx="527.4" cy="269.9" r="1.3"/><circle cx="571.2" cy="437.1" r="2.4"/><circle cx="549.8" cy="378.6" r="1.7"/><circle cx="614.7" cy="290.0" r="1.1"/><circle cx="459.9" cy="463.3" r="1.1"/><circle cx="598.6" cy="291.3" r="1.7"/><circle cx="547.4" cy="445.3" r="1.7"/><circle cx="513.8" cy="393.9" r="1.5"/><circle cx="385.9" cy="351.8" r="0.9"/><circle cx="503.7" cy="299.2" r="2.1"/><circle cx="506.0" cy="433.1" r="2.1"/><circle cx="642.3" cy="366.5" r="1.1"/><circle cx="505.7" cy="376.1" r="1.3"/><circle cx="397.0" cy="323.4" r="1.5"/><circle cx="483.1" cy="226.3" r="1.5"/><circle cx="487.6" cy="280.7" r="1.3"/><circle cx="508.3" cy="438.2" r="1.7"/><circle cx="534.4" cy="375.3" r="1.9"/><circle cx="579.8" cy="297.8" r="1.5"/><circle cx="510.8" cy="269.3" r="2.1"/><circle cx="462.6" cy="271.9" r="5.0"/><circle cx="462.5" cy="364.7" r="2.4"/><circle cx="423.7" cy="358.0" r="2.4"/><circle cx="556.0" cy="488.4" r="2.1"/><circle cx="505.7" cy="378.2" r="1.1"/><circle cx="616.7" cy="297.5" r="2.1"/><circle cx="518.5" cy="343.8" r="1.9"/><circle cx="539.3" cy="386.1" r="2.4"/><circle cx="470.2" cy="422.0" r="1.5"/><circle cx="632.8" cy="448.2" r="0.9"/><circle cx="638.3" cy="378.6" r="1.3"/><circle cx="497.2" cy="312.8" r="1.9"/><circle cx="607.1" cy="389.3" r="1.9"/><circle cx="472.7" cy="425.1" r="1.7"/><circle cx="541.8" cy="420.1" r="0.9"/><circle cx="520.4" cy="377.6" r="1.7"/><circle cx="600.8" cy="454.7" r="1.3"/><circle cx="512.4" cy="389.0" r="1.7"/><circle cx="545.2" cy="341.2" r="1.3"/><circle cx="541.3" cy="278.1" r="2.1"/><circle cx="431.4" cy="344.8" r="2.4"/><circle cx="457.6" cy="388.3" r="2.4"/><circle cx="461.0" cy="309.0" r="0.9"/><circle cx="521.7" cy="458.9" r="1.7"/><circle cx="496.1" cy="321.1" r="1.3"/><circle cx="474.0" cy="329.8" r="2.4"/><circle cx="509.3" cy="304.8" r="2.4"/><circle cx="463.2" cy="271.3" r="1.7"/><circle cx="477.7" cy="221.2" r="2.1"/><circle cx="514.9" cy="435.1" r="1.1"/><circle cx="522.2" cy="483.5" r="1.9"/><circle cx="496.5" cy="363.3" r="0.9"/><circle cx="596.3" cy="479.9" r="1.1"/><circle cx="498.5" cy="400.8" r="1.5"/><circle cx="504.5" cy="475.9" r="1.7"/><circle cx="552.7" cy="406.5" r="2.1"/><circle cx="531.6" cy="396.9" r="1.1"/><circle cx="530.2" cy="299.0" r="2.4"/><circle cx="547.5" cy="402.4" r="2.1"/><circle cx="547.4" cy="347.8" r="1.1"/><circle cx="431.7" cy="364.3" r="1.1"/><circle cx="537.0" cy="355.0" r="1.1"/><circle cx="421.9" cy="456.9" r="1.9"/><circle cx="488.5" cy="387.6" r="0.9"/><circle cx="619.0" cy="300.3" r="1.1"/><circle cx="387.3" cy="344.2" r="1.1"/><circle cx="472.2" cy="264.8" r="0.9"/><circle cx="525.6" cy="257.7" r="3.5"/><circle cx="531.4" cy="393.7" r="0.9"/><circle cx="513.6" cy="311.8" r="1.9"/><circle cx="485.3" cy="438.6" r="1.7"/><circle cx="536.9" cy="397.4" r="1.1"/><circle cx="546.0" cy="426.7" r="2.1"/><circle cx="562.3" cy="270.0" r="1.1"/><circle cx="526.3" cy="326.0" r="1.7"/><circle cx="550.3" cy="262.1" r="1.1"/><circle cx="590.5" cy="288.3" r="1.1"/><circle cx="408.8" cy="377.6" r="1.3"/><circle cx="529.5" cy="269.0" r="1.7"/><circle cx="450.2" cy="327.5" r="1.3"/><circle cx="644.9" cy="339.2" r="1.5"/><circle cx="634.3" cy="226.7" r="0.9"/><circle cx="563.6" cy="383.3" r="1.7"/><circle cx="460.9" cy="329.4" r="1.9"/><circle cx="534.5" cy="347.0" r="1.7"/><circle cx="641.7" cy="389.3" r="2.4"/><circle cx="498.4" cy="440.7" r="1.1"/><circle cx="466.9" cy="399.4" r="1.3"/><circle cx="474.9" cy="428.5" r="1.1"/><circle cx="471.8" cy="396.5" r="1.1"/><circle cx="597.3" cy="389.1" r="1.9"/><circle cx="533.0" cy="353.5" r="0.9"/><circle cx="524.6" cy="453.1" r="1.9"/><circle cx="509.8" cy="317.9" r="1.9"/><circle cx="491.0" cy="376.2" r="1.1"/><circle cx="396.9" cy="398.0" r="0.9"/><circle cx="486.9" cy="442.1" r="2.4"/><circle cx="587.4" cy="280.8" r="1.3"/><circle cx="603.3" cy="433.1" r="2.1"/><circle cx="456.3" cy="374.4" r="0.9"/><circle cx="614.4" cy="368.2" r="1.9"/><circle cx="503.5" cy="308.2" r="1.3"/><circle cx="542.3" cy="251.6" r="1.5"/><circle cx="424.2" cy="419.0" r="1.9"/><circle cx="499.5" cy="422.9" r="1.3"/><circle cx="582.3" cy="329.4" r="1.7"/><circle cx="428.8" cy="289.1" r="1.9"/><circle cx="468.5" cy="426.6" r="1.5"/><circle cx="488.2" cy="262.9" r="1.7"/><circle cx="468.3" cy="371.6" r="1.9"/><circle cx="452.4" cy="466.1" r="1.1"/><circle cx="445.2" cy="238.8" r="1.7"/><circle cx="581.6" cy="278.0" r="1.3"/><circle cx="388.1" cy="293.8" r="2.1"/><circle cx="626.1" cy="305.0" r="1.7"/><circle cx="598.5" cy="404.7" r="1.1"/><circle cx="597.9" cy="388.3" r="1.5"/><circle cx="492.1" cy="331.2" r="2.1"/><circle cx="390.5" cy="306.2" r="2.4"/><circle cx="419.0" cy="325.1" r="1.1"/><circle cx="569.8" cy="229.9" r="0.9"/><circle cx="635.4" cy="283.9" r="1.7"/><circle cx="611.6" cy="439.0" r="2.1"/><circle cx="442.1" cy="357.3" r="1.3"/><circle cx="516.1" cy="261.5" r="0.9"/><circle cx="416.7" cy="353.6" r="1.9"/><circle cx="543.5" cy="282.3" r="2.1"/><circle cx="439.9" cy="480.2" r="1.3"/><circle cx="498.5" cy="351.8" r="1.1"/><circle cx="537.8" cy="375.6" r="1.1"/><circle cx="444.5" cy="490.8" r="2.4"/><circle cx="592.9" cy="381.0" r="1.3"/><circle cx="414.7" cy="380.4" r="1.9"/><circle cx="446.8" cy="493.0" r="1.1"/><circle cx="536.6" cy="249.1" r="2.4"/><circle cx="595.1" cy="474.2" r="1.9"/><circle cx="537.7" cy="385.0" r="1.3"/><circle cx="399.4" cy="242.7" r="1.9"/><circle cx="577.4" cy="296.6" r="1.1"/><circle cx="578.9" cy="413.1" r="1.3"/><circle cx="524.2" cy="430.9" r="1.3"/><circle cx="521.3" cy="459.6" r="0.9"/><circle cx="535.5" cy="426.0" r="2.1"/><circle cx="463.3" cy="219.4" r="1.3"/><circle cx="510.2" cy="455.3" r="2.4"/><circle cx="539.4" cy="495.4" r="1.7"/><circle cx="516.8" cy="260.7" r="1.3"/><circle cx="456.9" cy="289.4" r="2.4"/><circle cx="516.1" cy="383.5" r="2.1"/><circle cx="444.3" cy="286.9" r="1.7"/><circle cx="480.9" cy="348.7" r="1.9"/><circle cx="553.2" cy="401.8" r="1.3"/><circle cx="430.3" cy="398.0" r="1.3"/><circle cx="610.5" cy="255.6" r="0.9"/><circle cx="494.5" cy="469.4" r="1.7"/><circle cx="494.4" cy="267.9" r="1.3"/><circle cx="469.3" cy="252.5" r="1.5"/><circle cx="528.3" cy="360.4" r="1.1"/><circle cx="475.2" cy="368.7" r="1.5"/><circle cx="593.4" cy="436.0" r="2.1"/><circle cx="566.3" cy="266.7" r="1.3"/><circle cx="444.6" cy="477.5" r="0.9"/><circle cx="512.8" cy="398.9" r="1.9"/><circle cx="560.2" cy="357.2" r="1.1"/><circle cx="567.0" cy="215.0" r="0.9"/><circle cx="526.5" cy="407.4" r="2.4"/><circle cx="524.9" cy="458.7" r="2.1"/><circle cx="586.8" cy="370.3" r="1.9"/><circle cx="555.4" cy="368.6" r="1.5"/><circle cx="586.4" cy="279.4" r="1.3"/><circle cx="609.9" cy="381.8" r="1.3"/><circle cx="527.8" cy="369.6" r="0.9"/><circle cx="457.6" cy="418.2" r="1.3"/><circle cx="502.0" cy="258.8" r="2.4"/><circle cx="596.1" cy="288.7" r="1.9"/><circle cx="409.4" cy="346.8" r="0.9"/><circle cx="573.2" cy="303.3" r="2.1"/><circle cx="481.4" cy="411.9" r="1.9"/><circle cx="495.8" cy="353.5" r="1.5"/><circle cx="540.3" cy="310.7" r="1.1"/><circle cx="531.1" cy="254.4" r="1.3"/><circle cx="546.6" cy="340.4" r="1.5"/><circle cx="587.0" cy="427.9" r="1.3"/><circle cx="538.2" cy="283.7" r="0.9"/><circle cx="423.9" cy="338.3" r="1.5"/><circle cx="596.1" cy="303.2" r="1.3"/><circle cx="558.1" cy="454.4" r="1.5"/><circle cx="539.4" cy="282.8" r="0.9"/><circle cx="551.3" cy="323.6" r="1.1"/><circle cx="400.8" cy="355.0" r="2.4"/><circle cx="401.2" cy="342.4" r="1.5"/><circle cx="447.5" cy="360.8" r="1.1"/><circle cx="452.6" cy="383.4" r="1.1"/><circle cx="559.2" cy="347.1" r="0.9"/><circle cx="482.0" cy="409.7" r="0.9"/><circle cx="598.8" cy="381.3" r="2.4"/><circle cx="517.5" cy="448.1" r="1.5"/><circle cx="464.1" cy="252.8" r="1.3"/><circle cx="568.3" cy="474.7" r="1.9"/><circle cx="495.3" cy="386.9" r="2.4"/><circle cx="472.8" cy="312.3" r="2.4"/><circle cx="635.8" cy="354.9" r="2.1"/><circle cx="555.3" cy="436.5" r="2.4"/><circle cx="443.7" cy="380.9" r="2.4"/><circle cx="601.5" cy="381.8" r="2.4"/><circle cx="508.5" cy="438.4" r="1.1"/><circle cx="424.3" cy="232.0" r="1.7"/><circle cx="411.2" cy="237.1" r="1.5"/><circle cx="403.5" cy="363.8" r="2.1"/><circle cx="546.5" cy="417.5" r="2.1"/><circle cx="553.3" cy="381.1" r="1.7"/><circle cx="443.4" cy="390.4" r="0.9"/><circle cx="567.9" cy="298.1" r="4.0"/><circle cx="475.3" cy="308.7" r="1.1"/><circle cx="514.4" cy="294.6" r="1.7"/><circle cx="382.2" cy="358.4" r="1.5"/><circle cx="489.0" cy="397.0" r="0.9"/><circle cx="642.6" cy="386.4" r="1.1"/><circle cx="401.8" cy="378.0" r="1.3"/><circle cx="530.3" cy="267.9" r="1.9"/><circle cx="515.5" cy="345.1" r="2.1"/><circle cx="610.6" cy="405.3" r="1.5"/><circle cx="538.2" cy="430.8" r="2.4"/><circle cx="607.2" cy="241.1" r="1.1"/><circle cx="384.6" cy="428.6" r="2.1"/><circle cx="603.6" cy="323.4" r="1.5"/><circle cx="546.5" cy="377.1" r="0.9"/><circle cx="500.7" cy="336.3" r="2.1"/><circle cx="563.1" cy="295.5" r="0.9"/><circle cx="485.4" cy="451.2" r="1.3"/><circle cx="457.3" cy="449.3" r="0.9"/><circle cx="587.3" cy="356.3" r="2.4"/><circle cx="558.7" cy="334.5" r="2.1"/><circle cx="485.5" cy="395.6" r="1.7"/><circle cx="527.4" cy="347.8" r="1.5"/><circle cx="503.6" cy="476.5" r="1.7"/><circle cx="543.8" cy="437.6" r="1.3"/><circle cx="475.5" cy="422.3" r="0.9"/><circle cx="540.2" cy="378.0" r="1.3"/><circle cx="449.4" cy="336.3" r="0.9"/><circle cx="565.9" cy="337.7" r="1.9"/><circle cx="633.9" cy="257.8" r="2.4"/><circle cx="530.5" cy="340.0" r="1.7"/><circle cx="549.3" cy="396.4" r="1.9"/><circle cx="618.3" cy="337.9" r="0.9"/><circle cx="490.1" cy="351.4" r="1.7"/><circle cx="451.9" cy="360.1" r="1.5"/><circle cx="480.2" cy="470.3" r="1.9"/><circle cx="483.1" cy="294.7" r="1.9"/><circle cx="542.2" cy="317.5" r="2.1"/><circle cx="561.5" cy="337.2" r="2.1"/><circle cx="621.7" cy="498.3" r="2.1"/><circle cx="476.4" cy="438.4" r="1.9"/><circle cx="391.7" cy="306.7" r="1.3"/><circle cx="563.0" cy="357.5" r="2.1"/><circle cx="459.5" cy="279.2" r="2.1"/><circle cx="458.1" cy="218.6" r="0.9"/><circle cx="443.3" cy="289.9" r="2.1"/><circle cx="500.1" cy="431.0" r="1.9"/><circle cx="589.4" cy="297.0" r="3.5"/><circle cx="514.7" cy="320.3" r="1.3"/><circle cx="559.8" cy="434.8" r="2.4"/><circle cx="622.7" cy="342.8" r="0.9"/><circle cx="423.4" cy="424.0" r="1.3"/><circle cx="513.7" cy="384.4" r="1.9"/><circle cx="481.8" cy="256.1" r="1.9"/><circle cx="550.7" cy="215.4" r="1.9"/><circle cx="588.0" cy="308.4" r="1.1"/><circle cx="517.5" cy="446.6" r="1.1"/><circle cx="474.5" cy="458.1" r="1.5"/><circle cx="505.0" cy="333.7" r="0.9"/><circle cx="581.7" cy="274.3" r="2.4"/><circle cx="643.6" cy="312.5" r="1.3"/><circle cx="482.1" cy="221.0" r="1.7"/><circle cx="390.0" cy="356.1" r="2.1"/><circle cx="633.1" cy="461.6" r="1.5"/><circle cx="498.5" cy="360.9" r="1.5"/><circle cx="558.6" cy="415.9" r="2.4"/><circle cx="562.2" cy="321.3" r="0.9"/><circle cx="488.3" cy="281.4" r="1.3"/><circle cx="613.5" cy="280.8" r="1.3"/><circle cx="546.2" cy="443.7" r="2.4"/><circle cx="463.6" cy="356.0" r="1.7"/><circle cx="391.6" cy="219.2" r="1.5"/><circle cx="636.2" cy="329.9" r="1.1"/><circle cx="417.6" cy="415.9" r="1.7"/><circle cx="482.6" cy="259.2" r="1.1"/><circle cx="430.0" cy="473.9" r="0.9"/><circle cx="482.6" cy="383.6" r="0.9"/><circle cx="510.9" cy="268.0" r="4.0"/><circle cx="564.7" cy="252.7" r="0.9"/><circle cx="593.9" cy="320.4" r="1.7"/><circle cx="472.4" cy="268.1" r="2.1"/><circle cx="418.7" cy="301.7" r="1.5"/><circle cx="576.3" cy="472.4" r="2.1"/><circle cx="621.8" cy="473.6" r="2.1"/><circle cx="448.1" cy="400.3" r="1.9"/><circle cx="566.9" cy="362.9" r="1.9"/><circle cx="467.7" cy="366.8" r="1.9"/><circle cx="539.2" cy="306.3" r="1.9"/><circle cx="588.7" cy="240.5" r="2.1"/><circle cx="460.9" cy="238.2" r="1.9"/><circle cx="589.5" cy="295.4" r="1.9"/><circle cx="489.4" cy="305.5" r="1.7"/><circle cx="553.6" cy="377.7" r="1.7"/><circle cx="418.7" cy="441.5" r="0.9"/><circle cx="568.2" cy="383.0" r="1.5"/><circle cx="384.5" cy="431.1" r="0.9"/><circle cx="583.5" cy="242.6" r="1.3"/><circle cx="524.4" cy="251.3" r="2.4"/><circle cx="509.4" cy="494.6" r="1.1"/><circle cx="524.4" cy="363.8" r="1.9"/><circle cx="530.4" cy="416.2" r="1.9"/><circle cx="610.4" cy="327.9" r="1.3"/><circle cx="542.7" cy="484.1" r="2.4"/><circle cx="394.9" cy="325.9" r="2.1"/><circle cx="563.9" cy="274.1" r="0.9"/><circle cx="402.9" cy="349.8" r="1.7"/><circle cx="426.0" cy="363.4" r="2.4"/><circle cx="588.3" cy="308.4" r="1.5"/><circle cx="528.7" cy="401.2" r="1.1"/><circle cx="423.1" cy="347.2" r="0.9"/><circle cx="451.7" cy="378.2" r="2.4"/><circle cx="477.8" cy="390.1" r="1.7"/><circle cx="589.7" cy="383.4" r="1.9"/><circle cx="517.3" cy="408.8" r="2.4"/><circle cx="448.7" cy="365.6" r="1.1"/><circle cx="598.8" cy="265.2" r="1.9"/><circle cx="468.5" cy="258.5" r="1.5"/><circle cx="537.3" cy="268.4" r="1.5"/><circle cx="416.5" cy="415.9" r="1.1"/><circle cx="513.4" cy="256.4" r="5.0"/><circle cx="611.0" cy="359.7" r="2.1"/><circle cx="537.3" cy="317.0" r="2.4"/><circle cx="476.4" cy="238.7" r="0.9"/><circle cx="544.9" cy="356.5" r="1.9"/><circle cx="568.5" cy="443.3" r="2.4"/><circle cx="526.1" cy="358.2" r="2.1"/><circle cx="418.5" cy="223.5" r="2.1"/><circle cx="436.7" cy="411.6" r="1.9"/><circle cx="440.4" cy="459.6" r="1.7"/><circle cx="600.1" cy="355.1" r="1.1"/><circle cx="485.4" cy="300.1" r="1.5"/><circle cx="470.1" cy="444.1" r="1.5"/><circle cx="604.8" cy="227.4" r="2.1"/><circle cx="513.6" cy="424.3" r="1.3"/><circle cx="553.7" cy="305.2" r="1.9"/><circle cx="637.6" cy="258.9" r="2.1"/><circle cx="549.9" cy="396.6" r="2.1"/><circle cx="517.4" cy="338.4" r="2.1"/><circle cx="444.7" cy="302.7" r="1.7"/><circle cx="466.4" cy="326.3" r="2.1"/><circle cx="521.7" cy="263.4" r="3.5"/><circle cx="450.5" cy="398.5" r="1.3"/><circle cx="557.6" cy="318.7" r="2.1"/><circle cx="460.8" cy="399.8" r="0.9"/><circle cx="543.3" cy="362.6" r="1.7"/><circle cx="556.1" cy="365.8" r="1.1"/><circle cx="508.0" cy="323.5" r="1.9"/><circle cx="611.5" cy="303.1" r="1.5"/><circle cx="538.2" cy="321.2" r="1.9"/><circle cx="469.0" cy="374.5" r="1.1"/><circle cx="499.3" cy="265.0" r="2.4"/><circle cx="471.1" cy="432.8" r="2.4"/><circle cx="470.1" cy="371.5" r="1.1"/><circle cx="516.8" cy="406.2" r="1.5"/><circle cx="533.8" cy="385.2" r="1.1"/><circle cx="505.7" cy="484.2" r="2.4"/><circle cx="456.1" cy="329.3" r="1.7"/><circle cx="477.8" cy="258.5" r="1.1"/><circle cx="634.0" cy="291.3" r="1.5"/><circle cx="487.5" cy="367.9" r="1.3"/><circle cx="467.1" cy="327.4" r="2.1"/><circle cx="576.4" cy="266.5" r="1.9"/><circle cx="582.5" cy="389.6" r="1.1"/><circle cx="449.5" cy="282.0" r="1.1"/><circle cx="456.9" cy="404.3" r="1.9"/><circle cx="535.0" cy="419.8" r="1.3"/><circle cx="497.3" cy="292.8" r="1.9"/><circle cx="503.4" cy="458.6" r="0.9"/><circle cx="442.4" cy="300.4" r="1.1"/><circle cx="541.6" cy="322.0" r="2.1"/><circle cx="523.1" cy="397.9" r="0.9"/><circle cx="458.5" cy="377.3" r="2.4"/><circle cx="477.4" cy="349.1" r="1.9"/><circle cx="472.8" cy="451.9" r="1.7"/><circle cx="589.1" cy="258.1" r="1.1"/><circle cx="508.2" cy="430.4" r="1.9"/><circle cx="441.2" cy="469.7" r="1.3"/><circle cx="491.3" cy="219.2" r="1.1"/><circle cx="594.5" cy="456.3" r="1.3"/><circle cx="550.0" cy="488.9" r="1.3"/><circle cx="511.8" cy="352.4" r="1.9"/><circle cx="471.9" cy="284.2" r="1.1"/><circle cx="511.3" cy="275.0" r="1.7"/><circle cx="633.9" cy="356.7" r="1.3"/><circle cx="598.3" cy="423.3" r="2.1"/><circle cx="547.8" cy="363.9" r="1.7"/><circle cx="494.2" cy="333.4" r="1.5"/><circle cx="433.6" cy="285.0" r="1.1"/><circle cx="426.9" cy="431.8" r="1.7"/><circle cx="492.5" cy="405.3" r="2.1"/><circle cx="464.2" cy="317.8" r="2.1"/><circle cx="525.6" cy="383.6" r="0.9"/><circle cx="582.8" cy="242.0" r="2.1"/><circle cx="457.5" cy="334.2" r="0.9"/><circle cx="541.5" cy="413.7" r="1.9"/><circle cx="592.7" cy="263.2" r="1.5"/><circle cx="631.8" cy="341.1" r="1.7"/><circle cx="457.1" cy="296.2" r="1.3"/><circle cx="481.8" cy="398.0" r="1.3"/><circle cx="516.9" cy="268.2" r="0.9"/><circle cx="502.0" cy="288.6" r="2.4"/><circle cx="489.2" cy="399.2" r="2.4"/><circle cx="540.6" cy="451.7" r="0.9"/><circle cx="615.0" cy="369.4" r="1.5"/><circle cx="467.7" cy="360.8" r="0.9"/><circle cx="612.3" cy="408.0" r="1.9"/><circle cx="476.8" cy="353.4" r="0.9"/><circle cx="508.0" cy="351.0" r="1.7"/><circle cx="435.8" cy="394.2" r="1.9"/><circle cx="643.2" cy="350.1" r="1.7"/><circle cx="478.8" cy="262.1" r="2.4"/><circle cx="484.4" cy="236.9" r="2.1"/><circle cx="533.6" cy="307.0" r="1.7"/><circle cx="543.5" cy="311.5" r="1.7"/><circle cx="463.5" cy="352.8" r="1.9"/><circle cx="476.1" cy="333.4" r="0.9"/><circle cx="423.2" cy="346.5" r="2.4"/><circle cx="535.7" cy="387.7" r="2.4"/><circle cx="525.5" cy="248.3" r="1.5"/><circle cx="562.7" cy="362.6" r="1.1"/><circle cx="432.0" cy="461.8" r="2.1"/><circle cx="435.4" cy="339.4" r="1.9"/><circle cx="588.9" cy="341.1" r="1.5"/><circle cx="534.1" cy="318.6" r="1.5"/><circle cx="429.1" cy="426.3" r="1.7"/><circle cx="544.7" cy="312.0" r="1.5"/><circle cx="465.3" cy="396.2" r="2.1"/><circle cx="566.9" cy="383.9" r="1.1"/><circle cx="505.3" cy="388.3" r="1.1"/><circle cx="402.1" cy="439.4" r="1.9"/><circle cx="477.7" cy="419.8" r="1.3"/><circle cx="483.9" cy="416.7" r="0.9"/><circle cx="630.6" cy="236.2" r="1.5"/><circle cx="428.2" cy="408.4" r="2.4"/><circle cx="384.4" cy="319.1" r="2.4"/><circle cx="492.9" cy="358.1" r="1.3"/><circle cx="587.5" cy="281.1" r="1.7"/><circle cx="421.9" cy="218.2" r="1.5"/><circle cx="577.3" cy="229.1" r="1.9"/><circle cx="427.6" cy="434.2" r="2.1"/><circle cx="482.3" cy="416.3" r="1.7"/><circle cx="477.1" cy="321.4" r="1.3"/><circle cx="560.1" cy="225.1" r="1.9"/><circle cx="503.8" cy="386.3" r="0.9"/><circle cx="561.6" cy="388.4" r="2.1"/><circle cx="457.7" cy="289.3" r="1.5"/><circle cx="590.1" cy="213.6" r="1.3"/><circle cx="515.0" cy="403.7" r="1.5"/><circle cx="583.3" cy="458.5" r="1.9"/><circle cx="522.9" cy="395.5" r="2.1"/><circle cx="540.1" cy="345.3" r="1.5"/><circle cx="637.2" cy="293.8" r="1.1"/><circle cx="555.9" cy="401.1" r="2.4"/><circle cx="514.8" cy="374.0" r="1.5"/><circle cx="393.0" cy="285.1" r="0.9"/><circle cx="399.6" cy="443.1" r="1.9"/><circle cx="598.3" cy="352.0" r="1.5"/><circle cx="399.1" cy="394.6" r="2.4"/><circle cx="488.0" cy="283.9" r="1.5"/><circle cx="625.7" cy="352.5" r="1.9"/><circle cx="441.9" cy="369.7" r="1.3"/><circle cx="530.9" cy="298.8" r="1.3"/><circle cx="595.2" cy="403.6" r="1.3"/><circle cx="516.5" cy="246.0" r="1.3"/><circle cx="477.5" cy="408.7" r="1.9"/><circle cx="453.0" cy="329.2" r="1.7"/><circle cx="453.9" cy="332.0" r="1.7"/><circle cx="453.3" cy="263.8" r="1.1"/><circle cx="463.9" cy="276.7" r="0.9"/><circle cx="449.4" cy="459.8" r="2.4"/><circle cx="417.9" cy="266.0" r="0.9"/><circle cx="501.5" cy="302.0" r="1.9"/><circle cx="452.3" cy="483.8" r="1.5"/><circle cx="589.3" cy="260.2" r="0.9"/><circle cx="431.4" cy="279.8" r="1.1"/><circle cx="594.0" cy="215.1" r="2.1"/><circle cx="521.6" cy="353.4" r="2.1"/><circle cx="539.1" cy="422.3" r="1.3"/><circle cx="485.5" cy="315.8" r="1.5"/><circle cx="564.6" cy="264.5" r="1.7"/><circle cx="595.8" cy="444.0" r="2.4"/><circle cx="530.9" cy="384.3" r="1.9"/><circle cx="550.1" cy="402.9" r="2.4"/><circle cx="483.6" cy="339.4" r="0.9"/><circle cx="483.5" cy="413.6" r="1.9"/><circle cx="416.4" cy="325.9" r="1.9"/><circle cx="524.8" cy="331.1" r="1.5"/><circle cx="521.6" cy="371.9" r="1.1"/><circle cx="520.1" cy="416.6" r="1.5"/><circle cx="601.7" cy="257.2" r="5.0"/><circle cx="505.9" cy="221.0" r="2.1"/><circle cx="517.5" cy="367.6" r="1.3"/><circle cx="453.1" cy="385.7" r="2.1"/><circle cx="480.5" cy="292.2" r="1.9"/><circle cx="479.4" cy="383.3" r="0.9"/><circle cx="386.6" cy="374.0" r="2.4"/><circle cx="550.2" cy="239.0" r="1.7"/><circle cx="464.1" cy="261.5" r="0.9"/><circle cx="557.1" cy="393.0" r="0.9"/><circle cx="430.6" cy="358.9" r="1.5"/><circle cx="384.4" cy="312.0" r="2.1"/><circle cx="558.8" cy="226.5" r="2.1"/><circle cx="531.8" cy="272.6" r="1.9"/><circle cx="540.6" cy="314.0" r="0.9"/><circle cx="632.5" cy="274.0" r="0.9"/><circle cx="593.6" cy="302.3" r="0.9"/><circle cx="483.2" cy="298.2" r="2.1"/><circle cx="528.6" cy="312.5" r="2.4"/><circle cx="548.3" cy="352.0" r="2.1"/><circle cx="569.7" cy="254.5" r="1.9"/><circle cx="566.3" cy="301.1" r="1.9"/><circle cx="515.8" cy="407.0" r="2.1"/><circle cx="643.9" cy="449.5" r="1.1"/><circle cx="517.6" cy="419.0" r="1.7"/><circle cx="588.7" cy="463.0" r="1.9"/><circle cx="453.9" cy="380.7" r="1.9"/><circle cx="471.3" cy="465.9" r="2.4"/><circle cx="580.2" cy="311.5" r="1.3"/><circle cx="470.7" cy="341.1" r="0.9"/><circle cx="453.0" cy="420.7" r="0.9"/><circle cx="566.8" cy="233.0" r="1.1"/><circle cx="498.2" cy="295.8" r="1.9"/><circle cx="477.1" cy="482.3" r="2.1"/><circle cx="452.1" cy="344.6" r="2.1"/><circle cx="595.2" cy="405.2" r="2.1"/><circle cx="524.4" cy="355.1" r="2.1"/><circle cx="470.2" cy="376.1" r="1.5"/><circle cx="489.7" cy="275.0" r="1.1"/><circle cx="600.0" cy="265.6" r="1.7"/><circle cx="630.0" cy="273.9" r="1.1"/><circle cx="480.2" cy="467.9" r="1.7"/><circle cx="394.0" cy="378.7" r="2.1"/><circle cx="512.3" cy="385.5" r="1.1"/><circle cx="611.0" cy="330.9" r="1.3"/><circle cx="508.1" cy="458.7" r="2.4"/><circle cx="525.4" cy="294.9" r="1.7"/><circle cx="598.0" cy="402.1" r="1.7"/><circle cx="567.3" cy="498.3" r="1.5"/><circle cx="491.0" cy="317.6" r="2.1"/><circle cx="512.7" cy="361.9" r="2.1"/><circle cx="472.7" cy="432.6" r="1.3"/><circle cx="547.7" cy="307.1" r="2.4"/><circle cx="476.9" cy="422.1" r="1.1"/><circle cx="401.4" cy="323.7" r="1.5"/><circle cx="447.1" cy="303.4" r="1.5"/><circle cx="420.2" cy="418.4" r="1.1"/><circle cx="537.2" cy="326.6" r="1.9"/><circle cx="565.4" cy="366.8" r="1.7"/><circle cx="602.5" cy="324.7" r="2.1"/><circle cx="583.0" cy="395.1" r="1.9"/><circle cx="431.3" cy="436.3" r="0.9"/><circle cx="537.5" cy="405.8" r="1.9"/><circle cx="562.3" cy="393.7" r="1.7"/><circle cx="509.7" cy="433.7" r="1.7"/><circle cx="557.4" cy="359.5" r="2.4"/><circle cx="536.7" cy="435.8" r="2.4"/><circle cx="453.5" cy="414.9" r="2.4"/><circle cx="539.6" cy="449.7" r="1.7"/><circle cx="415.6" cy="319.4" r="1.9"/><circle cx="468.4" cy="394.4" r="1.1"/><circle cx="425.8" cy="474.4" r="2.1"/><circle cx="584.1" cy="238.2" r="1.9"/><circle cx="594.1" cy="425.0" r="1.7"/><circle cx="414.2" cy="427.5" r="1.1"/><circle cx="396.0" cy="279.5" r="1.7"/><circle cx="598.6" cy="494.2" r="1.9"/><circle cx="538.3" cy="284.9" r="1.7"/><circle cx="501.0" cy="248.3" r="1.7"/><circle cx="467.3" cy="357.2" r="2.1"/><circle cx="499.5" cy="405.5" r="1.1"/><circle cx="514.5" cy="338.1" r="1.3"/><circle cx="539.7" cy="329.8" r="2.4"/><circle cx="540.4" cy="278.7" r="1.9"/><circle cx="501.6" cy="425.9" r="1.5"/><circle cx="420.5" cy="247.7" r="2.4"/><circle cx="551.3" cy="478.3" r="2.4"/><circle cx="404.8" cy="383.1" r="2.1"/><circle cx="451.9" cy="381.5" r="1.3"/><circle cx="382.0" cy="337.3" r="2.1"/><circle cx="494.7" cy="418.5" r="1.7"/><circle cx="513.2" cy="307.4" r="1.5"/><circle cx="418.4" cy="248.4" r="1.3"/><circle cx="499.6" cy="308.3" r="1.7"/><circle cx="434.8" cy="418.3" r="1.1"/><circle cx="598.9" cy="236.1" r="1.9"/><circle cx="427.4" cy="444.9" r="2.4"/><circle cx="508.5" cy="292.5" r="1.3"/><circle cx="563.5" cy="369.0" r="1.3"/><circle cx="527.6" cy="367.6" r="1.7"/><circle cx="418.8" cy="309.5" r="1.1"/><circle cx="400.6" cy="284.1" r="1.1"/><circle cx="465.5" cy="259.4" r="1.7"/><circle cx="529.4" cy="330.7" r="2.4"/><circle cx="467.2" cy="314.8" r="1.1"/><circle cx="469.5" cy="441.3" r="2.4"/><circle cx="597.4" cy="326.1" r="1.1"/><circle cx="501.3" cy="337.9" r="0.9"/><circle cx="544.1" cy="316.9" r="1.7"/><circle cx="531.2" cy="302.5" r="2.4"/><circle cx="465.6" cy="366.4" r="1.7"/><circle cx="500.0" cy="315.7" r="1.3"/><circle cx="494.9" cy="318.1" r="1.9"/><circle cx="556.5" cy="272.8" r="1.7"/><circle cx="546.8" cy="403.3" r="1.3"/><circle cx="497.9" cy="406.5" r="1.3"/><circle cx="554.2" cy="379.4" r="1.1"/><circle cx="569.7" cy="250.3" r="0.9"/><circle cx="539.4" cy="307.2" r="1.5"/><circle cx="433.1" cy="376.5" r="1.9"/><circle cx="479.9" cy="404.0" r="0.9"/><circle cx="575.4" cy="292.2" r="1.1"/><circle cx="530.2" cy="235.6" r="4.0"/><circle cx="469.1" cy="297.4" r="1.7"/><circle cx="479.1" cy="339.7" r="2.4"/><circle cx="498.8" cy="409.3" r="1.5"/><circle cx="396.7" cy="422.7" r="1.1"/><circle cx="490.1" cy="492.7" r="2.1"/><circle cx="528.5" cy="346.3" r="1.3"/><circle cx="465.1" cy="350.9" r="1.3"/><circle cx="514.4" cy="243.7" r="1.9"/><circle cx="454.6" cy="434.2" r="1.5"/><circle cx="501.8" cy="373.2" r="1.9"/><circle cx="438.4" cy="384.7" r="1.9"/><circle cx="501.0" cy="345.1" r="1.5"/><circle cx="553.6" cy="325.0" r="1.9"/><circle cx="536.0" cy="386.3" r="1.7"/><circle cx="550.9" cy="415.2" r="2.1"/><circle cx="541.4" cy="257.4" r="2.1"/><circle cx="591.0" cy="262.4" r="1.9"/><circle cx="511.5" cy="433.5" r="1.5"/><circle cx="442.0" cy="391.3" r="1.9"/><circle cx="572.5" cy="337.1" r="2.4"/><circle cx="488.0" cy="401.2" r="2.1"/><circle cx="539.2" cy="370.2" r="1.5"/><circle cx="407.7" cy="247.3" r="1.3"/><circle cx="555.2" cy="425.9" r="2.4"/><circle cx="563.4" cy="429.6" r="1.1"/><circle cx="604.3" cy="392.4" r="1.3"/><circle cx="491.0" cy="462.9" r="2.4"/><circle cx="552.8" cy="362.6" r="1.7"/><circle cx="644.9" cy="399.7" r="2.4"/><circle cx="427.6" cy="394.3" r="2.4"/><circle cx="550.8" cy="382.1" r="0.9"/><circle cx="477.8" cy="237.9" r="1.3"/><circle cx="594.6" cy="404.1" r="2.1"/><circle cx="621.2" cy="408.6" r="1.9"/><circle cx="589.5" cy="449.9" r="2.1"/><circle cx="539.2" cy="303.6" r="1.7"/><circle cx="405.4" cy="466.1" r="1.5"/><circle cx="540.3" cy="297.8" r="0.9"/><circle cx="448.7" cy="391.8" r="2.1"/><circle cx="402.6" cy="400.2" r="2.4"/><circle cx="550.4" cy="299.9" r="2.4"/><circle cx="570.9" cy="377.6" r="1.5"/><circle cx="450.9" cy="414.7" r="1.5"/><circle cx="489.1" cy="288.6" r="1.9"/><circle cx="446.3" cy="343.3" r="1.5"/><circle cx="531.8" cy="365.4" r="1.3"/><circle cx="443.8" cy="325.5" r="1.3"/><circle cx="402.9" cy="395.1" r="1.5"/><circle cx="577.4" cy="420.3" r="1.7"/><circle cx="550.5" cy="275.4" r="1.3"/><circle cx="592.9" cy="426.2" r="1.9"/><circle cx="471.4" cy="475.1" r="1.5"/><circle cx="497.2" cy="237.6" r="2.4"/><circle cx="579.7" cy="349.2" r="1.3"/><circle cx="512.4" cy="295.8" r="2.1"/><circle cx="479.8" cy="278.1" r="1.9"/><circle cx="424.0" cy="345.6" r="2.1"/><circle cx="485.4" cy="303.9" r="1.5"/><circle cx="506.6" cy="364.3" r="1.5"/><circle cx="494.4" cy="452.1" r="1.3"/><circle cx="531.6" cy="465.8" r="2.1"/><circle cx="467.7" cy="280.7" r="0.9"/><circle cx="568.9" cy="320.2" r="1.5"/><circle cx="408.1" cy="312.7" r="1.9"/><circle cx="457.4" cy="281.9" r="5.0"/><circle cx="583.9" cy="372.6" r="1.1"/><circle cx="488.6" cy="274.1" r="1.3"/><circle cx="475.7" cy="418.7" r="1.1"/><circle cx="487.6" cy="427.8" r="1.9"/><circle cx="540.7" cy="226.3" r="1.9"/><circle cx="594.8" cy="446.7" r="1.7"/><circle cx="472.6" cy="288.7" r="2.1"/><circle cx="554.7" cy="318.3" r="0.9"/><circle cx="604.1" cy="227.8" r="2.1"/><circle cx="601.2" cy="251.8" r="1.3"/><circle cx="538.3" cy="381.2" r="1.9"/><circle cx="561.7" cy="396.3" r="2.4"/><circle cx="643.9" cy="300.3" r="0.9"/><circle cx="431.9" cy="286.0" r="0.9"/><circle cx="537.9" cy="248.7" r="1.1"/><circle cx="552.2" cy="352.7" r="2.4"/><circle cx="530.0" cy="398.9" r="1.9"/><circle cx="487.9" cy="265.7" r="1.3"/><circle cx="539.1" cy="415.7" r="1.7"/><circle cx="473.8" cy="320.4" r="1.9"/><circle cx="499.4" cy="401.0" r="1.1"/><circle cx="580.3" cy="446.9" r="1.5"/><circle cx="514.9" cy="371.1" r="1.5"/><circle cx="450.1" cy="403.0" r="1.7"/><circle cx="543.3" cy="358.2" r="0.9"/><circle cx="467.7" cy="375.3" r="1.5"/><circle cx="515.4" cy="357.4" r="1.7"/><circle cx="548.1" cy="324.6" r="2.1"/><circle cx="447.5" cy="239.7" r="1.5"/><circle cx="531.4" cy="313.2" r="1.5"/><circle cx="598.9" cy="439.0" r="0.9"/><circle cx="626.1" cy="378.9" r="1.1"/><circle cx="505.6" cy="442.8" r="2.4"/><circle cx="555.7" cy="276.1" r="1.1"/><circle cx="566.3" cy="258.8" r="1.7"/><circle cx="418.7" cy="217.4" r="1.3"/><circle cx="509.6" cy="277.9" r="1.7"/><circle cx="489.2" cy="307.8" r="1.3"/><circle cx="474.1" cy="377.6" r="1.1"/><circle cx="456.3" cy="390.5" r="1.1"/><circle cx="558.4" cy="350.1" r="2.4"/><circle cx="455.5" cy="329.0" r="1.7"/><circle cx="513.6" cy="420.7" r="2.1"/><circle cx="472.7" cy="351.3" r="1.5"/><circle cx="461.1" cy="418.3" r="1.9"/><circle cx="561.5" cy="233.4" r="1.5"/><circle cx="512.6" cy="429.7" r="1.3"/><circle cx="470.8" cy="253.5" r="2.4"/><circle cx="570.8" cy="286.0" r="2.1"/><circle cx="387.8" cy="420.6" r="1.9"/><circle cx="612.6" cy="498.8" r="2.4"/><circle cx="438.5" cy="358.7" r="2.1"/><circle cx="633.1" cy="295.4" r="0.9"/><circle cx="528.3" cy="338.5" r="1.5"/><circle cx="605.6" cy="394.7" r="2.4"/><circle cx="535.7" cy="448.6" r="1.1"/><circle cx="641.6" cy="337.3" r="1.9"/><circle cx="501.1" cy="357.2" r="1.9"/><circle cx="493.3" cy="353.0" r="1.9"/><circle cx="521.0" cy="331.7" r="1.7"/><circle cx="538.9" cy="284.3" r="1.3"/><circle cx="540.5" cy="331.0" r="1.1"/><circle cx="524.6" cy="264.5" r="0.9"/><circle cx="410.7" cy="291.6" r="1.9"/><circle cx="391.7" cy="215.9" r="2.4"/><circle cx="575.1" cy="374.4" r="1.1"/><circle cx="490.3" cy="360.4" r="1.1"/><circle cx="469.6" cy="280.3" r="1.9"/><circle cx="533.4" cy="333.6" r="2.4"/><circle cx="503.1" cy="440.5" r="2.1"/><circle cx="488.2" cy="394.9" r="2.4"/><circle cx="604.8" cy="421.9" r="2.4"/><circle cx="492.0" cy="241.7" r="2.4"/><circle cx="575.8" cy="227.2" r="1.7"/><circle cx="522.6" cy="491.9" r="2.4"/><circle cx="634.8" cy="320.0" r="1.9"/><circle cx="557.0" cy="351.4" r="1.5"/><circle cx="558.7" cy="313.6" r="1.1"/><circle cx="470.6" cy="239.9" r="0.9"/><circle cx="561.9" cy="305.2" r="1.7"/><circle cx="644.6" cy="381.7" r="1.9"/><circle cx="555.1" cy="384.7" r="1.5"/><circle cx="539.3" cy="497.0" r="1.7"/><circle cx="470.8" cy="311.5" r="2.4"/><circle cx="591.0" cy="414.0" r="2.1"/><circle cx="614.4" cy="217.9" r="3.5"/><circle cx="396.4" cy="238.5" r="2.4"/><circle cx="503.5" cy="349.5" r="1.1"/><circle cx="607.8" cy="323.4" r="1.5"/><circle cx="480.9" cy="366.7" r="1.7"/><circle cx="525.4" cy="374.6" r="1.7"/><circle cx="465.1" cy="377.5" r="2.1"/><circle cx="601.3" cy="415.5" r="1.5"/><circle cx="499.0" cy="427.3" r="0.9"/><circle cx="567.1" cy="363.4" r="2.1"/><circle cx="582.9" cy="235.6" r="1.7"/><circle cx="510.6" cy="341.5" r="1.7"/><circle cx="594.6" cy="279.8" r="1.3"/><circle cx="528.2" cy="363.3" r="0.9"/><circle cx="532.9" cy="257.4" r="1.9"/><circle cx="456.8" cy="300.0" r="2.4"/><circle cx="460.2" cy="264.4" r="1.1"/><circle cx="381.9" cy="334.2" r="1.5"/><circle cx="561.6" cy="369.8" r="0.9"/><circle cx="468.5" cy="227.6" r="0.9"/><circle cx="422.4" cy="339.9" r="2.4"/><circle cx="479.9" cy="303.4" r="1.7"/><circle cx="508.4" cy="252.4" r="2.4"/><circle cx="532.7" cy="302.5" r="1.1"/><circle cx="505.9" cy="359.1" r="0.9"/><circle cx="565.6" cy="433.8" r="2.4"/><circle cx="524.0" cy="251.5" r="1.5"/><circle cx="497.3" cy="399.0" r="1.1"/><circle cx="474.8" cy="350.6" r="1.1"/><circle cx="538.8" cy="399.2" r="1.5"/><circle cx="549.4" cy="393.6" r="2.1"/><circle cx="540.1" cy="344.5" r="2.1"/><circle cx="445.4" cy="413.6" r="1.1"/><circle cx="530.1" cy="454.3" r="1.7"/><circle cx="501.0" cy="448.3" r="1.7"/><circle cx="553.5" cy="336.3" r="1.5"/><circle cx="519.4" cy="312.0" r="1.7"/><circle cx="600.1" cy="239.3" r="2.1"/><circle cx="624.1" cy="245.5" r="1.9"/><circle cx="567.8" cy="457.5" r="1.9"/><circle cx="544.2" cy="308.4" r="2.4"/><circle cx="585.2" cy="404.9" r="1.1"/><circle cx="489.8" cy="279.8" r="1.1"/><circle cx="549.5" cy="459.5" r="0.9"/><circle cx="540.9" cy="253.2" r="0.9"/><circle cx="553.6" cy="395.9" r="0.9"/><circle cx="588.6" cy="418.6" r="1.3"/><circle cx="536.1" cy="348.1" r="1.9"/><circle cx="469.8" cy="317.6" r="2.4"/><circle cx="394.0" cy="380.3" r="1.3"/><circle cx="466.5" cy="219.5" r="1.5"/><circle cx="546.2" cy="294.7" r="1.7"/><circle cx="466.9" cy="238.5" r="2.4"/><circle cx="523.6" cy="235.2" r="1.5"/><circle cx="491.1" cy="269.0" r="1.3"/><circle cx="599.5" cy="459.2" r="2.1"/><circle cx="641.4" cy="251.6" r="3.5"/><circle cx="470.9" cy="218.1" r="0.9"/><circle cx="402.4" cy="304.0" r="2.1"/><circle cx="479.8" cy="316.8" r="2.4"/><circle cx="515.9" cy="467.3" r="1.9"/><circle cx="460.1" cy="343.0" r="2.1"/><circle cx="562.0" cy="387.0" r="1.5"/><circle cx="451.7" cy="393.2" r="1.1"/><circle cx="631.3" cy="424.6" r="1.3"/><circle cx="490.7" cy="310.6" r="1.5"/><circle cx="479.6" cy="369.7" r="0.9"/><circle cx="442.2" cy="350.6" r="1.5"/><circle cx="501.0" cy="351.1" r="0.9"/><circle cx="552.6" cy="231.5" r="1.9"/><circle cx="596.7" cy="476.9" r="1.1"/><circle cx="521.1" cy="459.9" r="1.9"/><circle cx="472.5" cy="353.9" r="1.9"/><circle cx="504.5" cy="411.2" r="1.7"/><circle cx="517.5" cy="463.2" r="1.3"/><circle cx="503.1" cy="462.5" r="1.1"/><circle cx="579.5" cy="303.3" r="1.7"/><circle cx="487.2" cy="300.9" r="1.7"/><circle cx="548.0" cy="353.7" r="1.3"/><circle cx="562.8" cy="499.2" r="2.1"/><circle cx="604.1" cy="418.7" r="1.9"/><circle cx="609.4" cy="358.0" r="1.9"/><circle cx="477.6" cy="264.2" r="2.4"/><circle cx="628.7" cy="383.7" r="2.4"/><circle cx="610.1" cy="356.1" r="1.9"/><circle cx="597.6" cy="418.2" r="1.7"/><circle cx="452.2" cy="333.4" r="2.1"/><circle cx="403.2" cy="362.9" r="1.1"/><circle cx="458.8" cy="395.5" r="1.9"/><circle cx="534.0" cy="331.7" r="1.5"/><circle cx="466.0" cy="404.4" r="2.4"/><circle cx="493.1" cy="224.7" r="5.0"/><circle cx="545.7" cy="386.5" r="2.1"/><circle cx="517.2" cy="435.3" r="2.1"/><circle cx="562.7" cy="463.5" r="1.9"/><circle cx="538.2" cy="369.4" r="1.1"/><circle cx="531.0" cy="229.5" r="3.5"/><circle cx="640.6" cy="495.8" r="2.1"/><circle cx="555.9" cy="345.6" r="1.7"/><circle cx="509.6" cy="415.9" r="1.9"/><circle cx="518.9" cy="280.7" r="0.9"/><circle cx="538.8" cy="457.7" r="1.3"/><circle cx="445.6" cy="293.9" r="1.5"/><circle cx="506.7" cy="282.1" r="1.5"/><circle cx="446.6" cy="272.6" r="0.9"/><circle cx="503.7" cy="276.0" r="1.1"/><circle cx="525.6" cy="397.3" r="1.1"/><circle cx="481.5" cy="407.5" r="1.7"/><circle cx="549.7" cy="315.5" r="1.3"/><circle cx="504.9" cy="271.3" r="1.3"/><circle cx="537.0" cy="406.0" r="1.3"/><circle cx="623.9" cy="451.4" r="1.7"/><circle cx="603.4" cy="308.5" r="1.1"/><circle cx="634.7" cy="358.0" r="2.1"/><circle cx="432.6" cy="492.4" r="1.7"/><circle cx="517.3" cy="462.5" r="1.9"/><circle cx="506.8" cy="216.6" r="1.7"/><circle cx="613.6" cy="463.3" r="2.1"/><circle cx="549.5" cy="307.2" r="1.1"/><circle cx="449.2" cy="333.2" r="2.1"/><circle cx="497.1" cy="262.3" r="1.3"/><circle cx="519.4" cy="320.2" r="1.1"/><circle cx="484.8" cy="374.6" r="1.7"/><circle cx="607.2" cy="370.5" r="1.3"/><circle cx="507.1" cy="217.0" r="1.5"/><circle cx="618.3" cy="252.9" r="1.1"/><circle cx="577.6" cy="353.5" r="1.3"/><circle cx="543.9" cy="283.2" r="1.9"/><circle cx="576.6" cy="265.8" r="1.9"/><circle cx="470.6" cy="411.6" r="1.3"/><circle cx="565.0" cy="349.5" r="1.3"/><circle cx="493.7" cy="404.9" r="1.7"/><circle cx="493.3" cy="343.4" r="1.1"/><circle cx="524.6" cy="327.8" r="2.1"/><circle cx="400.7" cy="368.6" r="1.9"/><circle cx="579.7" cy="324.0" r="0.9"/><circle cx="517.3" cy="400.4" r="2.1"/><circle cx="524.7" cy="219.3" r="1.1"/><circle cx="517.8" cy="440.8" r="1.9"/><circle cx="405.8" cy="410.3" r="1.9"/><circle cx="480.4" cy="367.5" r="1.9"/><circle cx="534.4" cy="422.5" r="1.1"/><circle cx="558.5" cy="417.4" r="2.4"/><circle cx="594.4" cy="306.6" r="0.9"/><circle cx="584.8" cy="429.0" r="0.9"/><circle cx="430.2" cy="411.8" r="1.5"/><circle cx="485.2" cy="283.8" r="2.1"/><circle cx="571.6" cy="417.8" r="1.1"/><circle cx="440.4" cy="367.4" r="1.1"/><circle cx="489.3" cy="307.8" r="1.9"/><circle cx="570.2" cy="476.0" r="2.4"/><circle cx="506.7" cy="345.9" r="2.1"/><circle cx="587.9" cy="370.8" r="1.1"/><circle cx="489.9" cy="472.2" r="1.3"/><circle cx="497.2" cy="334.7" r="1.9"/><circle cx="431.6" cy="331.1" r="0.9"/><circle cx="499.8" cy="414.2" r="1.7"/><circle cx="627.4" cy="457.8" r="2.4"/><circle cx="414.6" cy="368.1" r="2.4"/><circle cx="530.9" cy="347.0" r="1.7"/><circle cx="611.8" cy="332.3" r="1.5"/><circle cx="476.3" cy="236.8" r="1.1"/><circle cx="410.7" cy="406.1" r="2.1"/><circle cx="561.8" cy="371.7" r="1.9"/><circle cx="453.1" cy="470.3" r="1.9"/><circle cx="508.7" cy="262.9" r="1.9"/><circle cx="586.5" cy="432.9" r="1.3"/><circle cx="489.4" cy="307.1" r="2.4"/><circle cx="431.1" cy="338.2" r="1.1"/><circle cx="551.4" cy="252.2" r="1.5"/><circle cx="473.1" cy="374.6" r="1.9"/><circle cx="612.1" cy="218.7" r="2.1"/><circle cx="601.0" cy="288.7" r="1.3"/><circle cx="487.9" cy="430.4" r="1.1"/><circle cx="387.9" cy="399.9" r="2.4"/><circle cx="619.3" cy="291.4" r="1.1"/><circle cx="449.0" cy="403.9" r="1.7"/><circle cx="503.6" cy="246.5" r="1.3"/><circle cx="556.2" cy="302.3" r="2.1"/><circle cx="517.8" cy="357.0" r="1.1"/><circle cx="511.5" cy="346.4" r="2.4"/><circle cx="530.0" cy="398.3" r="1.3"/><circle cx="407.3" cy="413.9" r="0.9"/><circle cx="538.7" cy="395.5" r="1.3"/><circle cx="586.6" cy="339.9" r="1.7"/><circle cx="513.9" cy="309.7" r="1.3"/><circle cx="557.9" cy="284.4" r="1.5"/><circle cx="524.4" cy="334.5" r="0.9"/><circle cx="560.4" cy="452.6" r="1.1"/><circle cx="601.9" cy="255.7" r="0.9"/><circle cx="627.6" cy="307.4" r="0.9"/><circle cx="523.4" cy="308.5" r="1.5"/><circle cx="537.4" cy="292.1" r="0.9"/><circle cx="401.6" cy="326.2" r="1.1"/><circle cx="538.5" cy="458.0" r="2.4"/><circle cx="519.1" cy="369.2" r="0.9"/><circle cx="519.3" cy="252.8" r="0.9"/><circle cx="509.1" cy="392.7" r="1.1"/><circle cx="547.0" cy="309.7" r="1.1"/><circle cx="544.5" cy="270.4" r="0.9"/><circle cx="589.3" cy="276.6" r="1.3"/><circle cx="579.7" cy="248.5" r="1.7"/><circle cx="568.9" cy="341.7" r="1.5"/><circle cx="522.5" cy="360.7" r="1.5"/><circle cx="528.6" cy="234.4" r="1.1"/><circle cx="500.7" cy="273.0" r="4.0"/><circle cx="532.1" cy="390.2" r="1.5"/><circle cx="624.7" cy="469.9" r="1.9"/><circle cx="540.4" cy="409.5" r="1.3"/><circle cx="560.2" cy="235.3" r="1.1"/><circle cx="600.3" cy="372.6" r="2.1"/><circle cx="384.0" cy="323.6" r="2.4"/><circle cx="458.0" cy="360.9" r="2.4"/><circle cx="546.3" cy="343.0" r="1.1"/><circle cx="534.6" cy="314.3" r="2.4"/><circle cx="573.2" cy="304.0" r="1.3"/><circle cx="518.7" cy="286.6" r="1.7"/><circle cx="580.5" cy="258.6" r="1.3"/><circle cx="542.4" cy="356.8" r="1.7"/><circle cx="389.0" cy="295.7" r="0.9"/><circle cx="521.4" cy="420.0" r="0.9"/><circle cx="474.8" cy="338.1" r="1.1"/><circle cx="511.2" cy="399.4" r="1.7"/><circle cx="513.0" cy="454.2" r="1.3"/><circle cx="523.1" cy="406.8" r="1.1"/><circle cx="471.7" cy="405.0" r="0.9"/><circle cx="530.7" cy="253.2" r="1.7"/><circle cx="552.8" cy="267.8" r="1.3"/><circle cx="528.3" cy="357.3" r="0.9"/><circle cx="571.0" cy="244.2" r="1.9"/><circle cx="579.2" cy="237.9" r="2.1"/><circle cx="565.9" cy="313.2" r="1.9"/><circle cx="500.8" cy="419.6" r="1.5"/><circle cx="386.0" cy="331.5" r="2.4"/><circle cx="440.0" cy="419.1" r="2.4"/><circle cx="471.3" cy="329.0" r="1.5"/><circle cx="412.8" cy="254.5" r="0.9"/><circle cx="414.4" cy="271.2" r="1.5"/><circle cx="533.5" cy="419.5" r="1.9"/><circle cx="568.6" cy="453.8" r="2.1"/><circle cx="592.3" cy="274.8" r="2.1"/><circle cx="479.4" cy="274.3" r="2.4"/><circle cx="606.4" cy="234.4" r="1.5"/><circle cx="443.6" cy="348.7" r="2.1"/><circle cx="471.2" cy="324.3" r="1.9"/><circle cx="544.6" cy="293.2" r="1.1"/><circle cx="491.2" cy="432.8" r="2.1"/><circle cx="488.2" cy="288.1" r="1.5"/><circle cx="555.0" cy="249.8" r="1.1"/><circle cx="560.1" cy="302.5" r="1.5"/><circle cx="461.5" cy="485.2" r="1.7"/><circle cx="536.9" cy="308.4" r="1.3"/><circle cx="513.1" cy="433.1" r="1.5"/><circle cx="597.7" cy="439.0" r="1.7"/><circle cx="479.7" cy="388.1" r="1.9"/><circle cx="500.8" cy="403.8" r="2.4"/><circle cx="462.2" cy="355.6" r="2.4"/><circle cx="611.4" cy="364.5" r="1.1"/><circle cx="541.9" cy="346.2" r="1.3"/><circle cx="517.4" cy="403.9" r="1.5"/><circle cx="533.8" cy="300.9" r="1.1"/><circle cx="518.0" cy="262.4" r="1.3"/><circle cx="539.3" cy="327.4" r="2.1"/><circle cx="583.3" cy="456.4" r="2.1"/><circle cx="521.3" cy="290.0" r="3.5"/><circle cx="504.2" cy="364.7" r="1.1"/><circle cx="555.8" cy="218.6" r="1.3"/><circle cx="572.3" cy="459.3" r="0.9"/><circle cx="488.7" cy="290.6" r="2.1"/><circle cx="417.9" cy="453.8" r="2.4"/><circle cx="546.3" cy="346.0" r="1.9"/><circle cx="507.3" cy="300.8" r="1.3"/><circle cx="484.1" cy="386.8" r="0.9"/><circle cx="616.7" cy="442.7" r="1.1"/><circle cx="595.7" cy="472.3" r="1.5"/><circle cx="518.1" cy="290.3" r="2.4"/><circle cx="477.7" cy="251.1" r="2.4"/><circle cx="524.5" cy="304.6" r="1.1"/><circle cx="523.2" cy="218.9" r="0.9"/><circle cx="512.5" cy="425.3" r="0.9"/><circle cx="508.3" cy="467.7" r="1.1"/><circle cx="603.5" cy="263.8" r="5.0"/><circle cx="574.4" cy="396.6" r="1.5"/><circle cx="622.3" cy="301.5" r="1.9"/><circle cx="436.2" cy="236.6" r="1.3"/><circle cx="428.7" cy="396.5" r="1.7"/><circle cx="508.1" cy="404.7" r="1.1"/><circle cx="466.6" cy="221.8" r="1.3"/><circle cx="429.8" cy="415.1" r="1.9"/><circle cx="433.9" cy="400.2" r="1.9"/><circle cx="538.8" cy="398.0" r="0.9"/><circle cx="533.7" cy="381.5" r="1.3"/><circle cx="531.9" cy="286.8" r="1.3"/><circle cx="416.8" cy="377.9" r="0.9"/><circle cx="523.1" cy="257.3" r="1.3"/><circle cx="517.6" cy="282.7" r="2.1"/><circle cx="519.5" cy="372.7" r="1.3"/><circle cx="517.8" cy="245.2" r="0.9"/><circle cx="420.3" cy="482.5" r="1.1"/><circle cx="621.3" cy="245.3" r="0.9"/><circle cx="552.7" cy="383.7" r="1.9"/><circle cx="549.7" cy="361.0" r="1.7"/><circle cx="517.9" cy="439.5" r="1.1"/><circle cx="536.8" cy="454.4" r="1.9"/><circle cx="493.0" cy="371.1" r="2.4"/><circle cx="586.3" cy="421.4" r="0.9"/><circle cx="421.9" cy="368.6" r="1.3"/><circle cx="531.3" cy="385.8" r="2.4"/><circle cx="499.1" cy="213.9" r="1.7"/><circle cx="491.3" cy="329.7" r="1.9"/><circle cx="493.8" cy="449.9" r="0.9"/><circle cx="621.8" cy="224.3" r="1.3"/><circle cx="494.1" cy="471.3" r="0.9"/><circle cx="513.7" cy="466.7" r="2.4"/><circle cx="610.5" cy="445.6" r="1.7"/><circle cx="490.9" cy="272.9" r="1.1"/><circle cx="447.4" cy="224.8" r="1.1"/><circle cx="504.8" cy="294.2" r="1.9"/><circle cx="431.7" cy="229.2" r="1.3"/><circle cx="546.2" cy="378.7" r="2.4"/><circle cx="520.9" cy="279.1" r="1.5"/><circle cx="453.4" cy="466.8" r="2.1"/><circle cx="490.0" cy="395.3" r="2.1"/><circle cx="472.8" cy="425.5" r="0.9"/><circle cx="506.5" cy="350.0" r="2.4"/><circle cx="500.0" cy="283.9" r="1.7"/><circle cx="533.3" cy="381.9" r="1.5"/><circle cx="467.6" cy="424.1" r="1.9"/><circle cx="480.3" cy="441.2" r="1.7"/><circle cx="459.8" cy="313.0" r="1.5"/><circle cx="629.4" cy="323.7" r="1.7"/><circle cx="441.4" cy="238.6" r="1.1"/><circle cx="579.1" cy="272.3" r="2.4"/><circle cx="560.3" cy="321.1" r="1.9"/><circle cx="447.1" cy="452.4" r="1.7"/><circle cx="517.4" cy="366.5" r="1.9"/><circle cx="540.6" cy="432.0" r="1.5"/><circle cx="501.1" cy="390.9" r="1.7"/><circle cx="597.0" cy="396.1" r="1.9"/><circle cx="484.3" cy="304.6" r="2.1"/><circle cx="447.4" cy="384.6" r="1.5"/><circle cx="631.9" cy="282.2" r="1.7"/><circle cx="427.9" cy="349.7" r="1.5"/><circle cx="513.4" cy="369.2" r="2.1"/><circle cx="501.0" cy="292.0" r="1.9"/><circle cx="547.5" cy="216.4" r="0.9"/><circle cx="468.3" cy="218.3" r="1.7"/><circle cx="502.5" cy="408.6" r="1.3"/><circle cx="549.7" cy="440.9" r="1.5"/><circle cx="519.8" cy="444.1" r="1.7"/><circle cx="455.0" cy="305.5" r="2.4"/><circle cx="564.2" cy="370.6" r="1.3"/><circle cx="605.8" cy="463.6" r="2.1"/><circle cx="445.4" cy="221.9" r="1.5"/><circle cx="536.4" cy="319.6" r="2.1"/><circle cx="419.3" cy="381.0" r="0.9"/><circle cx="506.2" cy="320.4" r="1.1"/><circle cx="584.7" cy="333.0" r="2.4"/><circle cx="537.8" cy="313.8" r="1.3"/><circle cx="526.0" cy="282.2" r="1.5"/><circle cx="505.5" cy="320.6" r="1.5"/><circle cx="538.6" cy="340.9" r="2.4"/><circle cx="510.8" cy="255.8" r="1.5"/><circle cx="552.5" cy="419.4" r="2.4"/><circle cx="621.5" cy="443.8" r="1.9"/><circle cx="556.8" cy="329.3" r="0.9"/><circle cx="544.5" cy="392.8" r="1.9"/><circle cx="584.6" cy="381.6" r="1.3"/><circle cx="467.6" cy="487.6" r="1.3"/><circle cx="631.5" cy="413.4" r="1.9"/><circle cx="511.7" cy="237.1" r="1.1"/><circle cx="559.2" cy="294.2" r="1.9"/><circle cx="510.9" cy="411.4" r="1.1"/><circle cx="485.6" cy="258.4" r="1.7"/><circle cx="575.2" cy="342.7" r="2.1"/><circle cx="531.0" cy="324.5" r="1.3"/><circle cx="574.4" cy="334.1" r="1.5"/><circle cx="492.4" cy="453.8" r="1.1"/><circle cx="593.6" cy="226.8" r="1.1"/><circle cx="518.5" cy="326.4" r="1.1"/><circle cx="488.1" cy="373.0" r="0.9"/><circle cx="391.8" cy="420.8" r="0.9"/><circle cx="487.7" cy="401.5" r="2.1"/><circle cx="511.1" cy="264.0" r="1.1"/><circle cx="386.6" cy="427.1" r="2.4"/><circle cx="425.4" cy="446.4" r="2.4"/><circle cx="445.0" cy="366.6" r="2.4"/><circle cx="409.5" cy="351.6" r="1.3"/><circle cx="537.7" cy="389.4" r="2.1"/><circle cx="572.1" cy="344.6" r="1.1"/><circle cx="539.2" cy="247.5" r="1.9"/><circle cx="493.7" cy="327.0" r="1.7"/><circle cx="383.9" cy="316.0" r="1.9"/><circle cx="467.4" cy="245.9" r="1.3"/><circle cx="444.3" cy="315.7" r="2.4"/><circle cx="473.4" cy="292.2" r="1.7"/><circle cx="438.7" cy="366.3" r="2.4"/><circle cx="437.9" cy="285.7" r="2.4"/><circle cx="508.0" cy="268.1" r="0.9"/><circle cx="506.0" cy="393.8" r="1.9"/><circle cx="588.1" cy="271.3" r="1.3"/><circle cx="536.0" cy="305.4" r="1.3"/><circle cx="491.9" cy="463.8" r="0.9"/><circle cx="494.9" cy="366.8" r="2.1"/><circle cx="542.7" cy="347.7" r="1.5"/><circle cx="451.9" cy="414.6" r="1.5"/><circle cx="529.2" cy="419.4" r="1.9"/><circle cx="533.7" cy="475.9" r="2.1"/><circle cx="495.9" cy="292.9" r="0.9"/><circle cx="532.3" cy="333.8" r="2.4"/><circle cx="556.3" cy="395.3" r="1.1"/><circle cx="492.4" cy="281.6" r="0.9"/><circle cx="437.9" cy="285.2" r="1.3"/><circle cx="537.5" cy="385.7" r="1.9"/><circle cx="534.8" cy="337.2" r="1.7"/><circle cx="514.0" cy="428.7" r="1.7"/><circle cx="414.7" cy="402.2" r="1.9"/><circle cx="642.5" cy="330.0" r="1.3"/><circle cx="588.1" cy="409.7" r="1.7"/><circle cx="489.1" cy="426.8" r="1.1"/><circle cx="481.4" cy="423.5" r="1.9"/><circle cx="500.9" cy="451.2" r="1.7"/><circle cx="591.3" cy="446.3" r="1.7"/><circle cx="397.7" cy="258.1" r="1.7"/><circle cx="476.7" cy="330.8" r="0.9"/><circle cx="549.8" cy="369.6" r="1.1"/><circle cx="524.9" cy="294.7" r="2.1"/><circle cx="463.8" cy="337.4" r="2.4"/><circle cx="424.1" cy="268.6" r="1.3"/><circle cx="406.0" cy="479.9" r="2.1"/><circle cx="545.1" cy="362.3" r="1.7"/><circle cx="497.1" cy="325.0" r="0.9"/><circle cx="529.5" cy="215.8" r="1.1"/><circle cx="473.1" cy="309.5" r="1.7"/><circle cx="516.8" cy="426.8" r="0.9"/><circle cx="531.6" cy="404.3" r="2.1"/><circle cx="508.7" cy="262.2" r="1.3"/><circle cx="407.5" cy="354.9" r="2.1"/><circle cx="500.3" cy="428.8" r="1.1"/><circle cx="539.9" cy="302.1" r="1.1"/><circle cx="560.7" cy="355.8" r="1.7"/><circle cx="440.6" cy="263.5" r="1.1"/><circle cx="499.9" cy="441.9" r="0.9"/><circle cx="547.0" cy="324.7" r="1.7"/><circle cx="477.6" cy="356.8" r="0.9"/><circle cx="542.5" cy="434.9" r="1.7"/><circle cx="594.6" cy="429.9" r="1.5"/><circle cx="533.9" cy="390.5" r="1.1"/><circle cx="638.8" cy="303.3" r="2.1"/><circle cx="501.5" cy="456.2" r="1.5"/><circle cx="642.4" cy="430.6" r="1.9"/><circle cx="561.6" cy="428.1" r="1.5"/><circle cx="573.2" cy="377.9" r="2.4"/><circle cx="423.4" cy="398.2" r="1.9"/><circle cx="483.1" cy="332.3" r="1.1"/><circle cx="551.8" cy="335.3" r="1.5"/><circle cx="487.8" cy="315.8" r="2.4"/><circle cx="501.9" cy="382.3" r="1.1"/><circle cx="553.8" cy="431.4" r="2.1"/><circle cx="555.4" cy="246.7" r="2.4"/><circle cx="618.6" cy="325.3" r="0.9"/><circle cx="626.1" cy="279.8" r="2.4"/><circle cx="439.2" cy="457.0" r="2.1"/><circle cx="533.6" cy="367.3" r="1.5"/><circle cx="501.0" cy="319.0" r="1.1"/><circle cx="498.5" cy="411.7" r="1.5"/><circle cx="468.5" cy="385.0" r="0.9"/><circle cx="443.4" cy="441.4" r="2.1"/><circle cx="584.6" cy="246.7" r="2.1"/><circle cx="527.9" cy="320.3" r="2.1"/><circle cx="435.9" cy="257.8" r="2.1"/><circle cx="543.5" cy="481.4" r="1.5"/><circle cx="453.2" cy="301.5" r="1.7"/><circle cx="537.5" cy="347.4" r="1.9"/><circle cx="505.0" cy="363.1" r="1.1"/><circle cx="546.5" cy="302.0" r="1.3"/><circle cx="549.2" cy="472.5" r="2.1"/><circle cx="531.8" cy="318.8" r="0.9"/><circle cx="488.1" cy="222.6" r="2.1"/><circle cx="475.7" cy="358.4" r="1.5"/><circle cx="567.5" cy="298.8" r="0.9"/><circle cx="562.5" cy="294.7" r="1.5"/><circle cx="637.3" cy="322.0" r="1.9"/><circle cx="592.3" cy="366.0" r="1.9"/><circle cx="491.6" cy="344.6" r="0.9"/><circle cx="489.5" cy="377.6" r="1.7"/><circle cx="522.2" cy="431.2" r="2.1"/><circle cx="536.1" cy="427.8" r="1.5"/><circle cx="533.6" cy="407.1" r="2.1"/><circle cx="498.0" cy="286.4" r="1.7"/><circle cx="411.8" cy="365.9" r="1.5"/><circle cx="470.3" cy="453.0" r="1.7"/><circle cx="641.9" cy="410.0" r="2.1"/><circle cx="624.2" cy="457.2" r="2.4"/><circle cx="543.9" cy="311.6" r="2.4"/><circle cx="472.3" cy="283.8" r="1.1"/><circle cx="489.3" cy="380.1" r="1.9"/><circle cx="485.3" cy="457.6" r="2.1"/><circle cx="542.8" cy="438.1" r="1.3"/><circle cx="544.0" cy="395.5" r="1.9"/><circle cx="539.0" cy="233.7" r="1.3"/><circle cx="534.5" cy="232.6" r="2.1"/><circle cx="429.2" cy="467.6" r="2.4"/><circle cx="582.1" cy="347.4" r="1.7"/><circle cx="558.6" cy="408.9" r="1.5"/><circle cx="518.4" cy="260.9" r="1.3"/><circle cx="479.8" cy="407.7" r="1.9"/><circle cx="618.6" cy="435.6" r="1.7"/><circle cx="509.6" cy="377.4" r="2.1"/><circle cx="569.2" cy="405.8" r="2.1"/><circle cx="571.2" cy="257.2" r="4.0"/><circle cx="631.5" cy="327.7" r="2.1"/><circle cx="464.7" cy="371.2" r="2.1"/><circle cx="544.8" cy="236.4" r="1.3"/><circle cx="537.3" cy="329.1" r="0.9"/><circle cx="426.4" cy="320.0" r="2.4"/><circle cx="581.6" cy="470.5" r="1.1"/><circle cx="594.1" cy="365.2" r="1.5"/><circle cx="514.6" cy="339.3" r="1.9"/><circle cx="508.6" cy="448.1" r="1.9"/><circle cx="467.4" cy="301.6" r="1.3"/><circle cx="480.5" cy="389.1" r="1.7"/><circle cx="569.2" cy="385.1" r="1.7"/><circle cx="431.6" cy="394.2" r="1.3"/><circle cx="553.3" cy="229.0" r="1.3"/><circle cx="557.9" cy="385.2" r="2.1"/><circle cx="498.9" cy="294.4" r="2.4"/><circle cx="452.7" cy="432.5" r="1.3"/><circle cx="567.2" cy="335.1" r="2.1"/><circle cx="630.1" cy="217.2" r="0.9"/><circle cx="602.5" cy="241.9" r="1.7"/><circle cx="492.7" cy="298.0" r="1.3"/><circle cx="477.0" cy="305.4" r="0.9"/><circle cx="456.8" cy="344.3" r="1.3"/><circle cx="460.6" cy="312.5" r="1.9"/><circle cx="582.0" cy="360.5" r="1.3"/><circle cx="561.5" cy="214.9" r="4.0"/><circle cx="529.3" cy="374.7" r="1.9"/><circle cx="429.4" cy="478.3" r="1.3"/><circle cx="405.7" cy="269.6" r="1.7"/><circle cx="397.7" cy="273.4" r="0.9"/><circle cx="535.5" cy="470.5" r="1.3"/><circle cx="524.5" cy="347.1" r="2.4"/><circle cx="454.6" cy="301.9" r="1.1"/><circle cx="572.4" cy="399.4" r="1.3"/><circle cx="451.6" cy="331.1" r="2.4"/><circle cx="441.6" cy="411.1" r="0.9"/><circle cx="626.9" cy="408.6" r="1.9"/><circle cx="554.2" cy="249.0" r="1.7"/><circle cx="472.4" cy="371.5" r="1.3"/><circle cx="548.8" cy="413.0" r="1.3"/><circle cx="387.4" cy="347.7" r="2.4"/><circle cx="450.2" cy="388.4" r="0.9"/><circle cx="484.9" cy="471.1" r="1.1"/><circle cx="572.5" cy="220.2" r="1.3"/><circle cx="516.4" cy="229.6" r="1.1"/><circle cx="423.7" cy="338.0" r="2.4"/><circle cx="582.5" cy="279.9" r="2.4"/><circle cx="443.2" cy="377.1" r="1.1"/><circle cx="494.0" cy="327.5" r="0.9"/><circle cx="535.6" cy="276.8" r="1.5"/><circle cx="566.6" cy="310.2" r="1.1"/><circle cx="575.8" cy="349.6" r="1.3"/><circle cx="457.5" cy="362.3" r="0.9"/><circle cx="507.4" cy="289.3" r="0.9"/><circle cx="555.2" cy="370.1" r="1.9"/><circle cx="499.5" cy="467.0" r="1.5"/><circle cx="468.0" cy="274.5" r="2.4"/><circle cx="539.5" cy="372.9" r="1.3"/><circle cx="391.6" cy="413.1" r="2.1"/><circle cx="536.6" cy="386.2" r="2.1"/><circle cx="430.8" cy="227.2" r="0.9"/><circle cx="497.0" cy="371.8" r="2.4"/><circle cx="535.6" cy="384.8" r="2.1"/><circle cx="479.6" cy="389.0" r="1.3"/><circle cx="610.9" cy="382.6" r="2.4"/><circle cx="548.8" cy="405.5" r="0.9"/><circle cx="545.2" cy="244.0" r="1.7"/><circle cx="497.6" cy="305.7" r="1.1"/><circle cx="532.9" cy="265.3" r="1.5"/><circle cx="614.5" cy="343.4" r="1.3"/><circle cx="420.2" cy="312.3" r="2.4"/><circle cx="414.7" cy="398.3" r="1.5"/><circle cx="557.7" cy="416.7" r="1.3"/><circle cx="604.4" cy="334.0" r="1.1"/><circle cx="588.0" cy="385.6" r="1.7"/><circle cx="607.3" cy="217.3" r="3.5"/><circle cx="516.4" cy="326.8" r="0.9"/><circle cx="533.0" cy="348.3" r="1.3"/><circle cx="595.9" cy="227.5" r="1.9"/><circle cx="381.2" cy="255.7" r="0.9"/><circle cx="572.7" cy="254.1" r="0.9"/><circle cx="535.7" cy="352.2" r="2.1"/><circle cx="521.6" cy="404.2" r="1.7"/><circle cx="411.7" cy="271.8" r="2.4"/><circle cx="534.3" cy="369.8" r="0.9"/><circle cx="493.6" cy="291.6" r="1.3"/><circle cx="602.2" cy="317.4" r="1.9"/><circle cx="579.1" cy="283.7" r="2.1"/><circle cx="603.8" cy="384.5" r="1.7"/><circle cx="586.1" cy="286.0" r="1.5"/><circle cx="399.2" cy="245.1" r="1.1"/><circle cx="453.5" cy="432.3" r="1.1"/><circle cx="547.4" cy="409.6" r="1.1"/><circle cx="495.5" cy="258.5" r="0.9"/><circle cx="490.8" cy="430.7" r="0.9"/><circle cx="516.6" cy="366.7" r="1.9"/><circle cx="404.3" cy="444.3" r="0.9"/><circle cx="494.1" cy="460.3" r="2.4"/><circle cx="504.7" cy="381.2" r="1.1"/><circle cx="629.0" cy="293.7" r="4.0"/><circle cx="589.9" cy="406.3" r="1.7"/><circle cx="589.3" cy="449.9" r="1.9"/><circle cx="594.9" cy="234.5" r="1.5"/><circle cx="487.7" cy="417.0" r="2.4"/><circle cx="527.4" cy="349.9" r="2.4"/><circle cx="567.1" cy="303.7" r="1.7"/><circle cx="491.6" cy="370.3" r="1.5"/><circle cx="491.9" cy="428.9" r="1.3"/><circle cx="548.8" cy="315.8" r="2.4"/><circle cx="607.9" cy="226.9" r="1.7"/><circle cx="391.4" cy="254.5" r="3.5"/><circle cx="510.9" cy="342.9" r="1.9"/><circle cx="491.6" cy="335.7" r="2.1"/><circle cx="414.5" cy="418.8" r="1.7"/><circle cx="469.4" cy="378.1" r="2.1"/><circle cx="438.2" cy="286.4" r="2.4"/><circle cx="470.7" cy="256.8" r="1.5"/><circle cx="511.0" cy="285.5" r="1.7"/><circle cx="438.5" cy="229.3" r="1.5"/><circle cx="546.2" cy="284.4" r="1.9"/><circle cx="472.6" cy="298.4" r="0.9"/><circle cx="525.4" cy="342.1" r="1.1"/><circle cx="580.4" cy="352.7" r="1.7"/><circle cx="624.9" cy="327.0" r="1.9"/><circle cx="510.0" cy="241.1" r="1.7"/><circle cx="559.9" cy="433.3" r="1.9"/><circle cx="469.4" cy="367.1" r="1.7"/><circle cx="472.1" cy="459.0" r="1.7"/><circle cx="520.9" cy="411.1" r="0.9"/><circle cx="437.6" cy="382.3" r="2.1"/><circle cx="543.8" cy="318.6" r="1.1"/><circle cx="423.4" cy="222.7" r="0.9"/><circle cx="400.3" cy="399.6" r="1.5"/><circle cx="538.6" cy="377.1" r="0.9"/><circle cx="627.4" cy="437.0" r="1.1"/><circle cx="464.7" cy="473.8" r="1.1"/><circle cx="595.2" cy="413.1" r="1.9"/><circle cx="495.4" cy="370.8" r="1.3"/><circle cx="573.3" cy="386.2" r="0.9"/><circle cx="563.5" cy="365.0" r="1.1"/><circle cx="556.8" cy="386.9" r="2.4"/><circle cx="566.1" cy="320.8" r="1.9"/><circle cx="486.4" cy="267.4" r="1.3"/><circle cx="546.4" cy="372.9" r="1.3"/><circle cx="525.1" cy="463.4" r="1.9"/><circle cx="578.6" cy="333.8" r="2.4"/><circle cx="598.6" cy="216.4" r="1.9"/><circle cx="611.3" cy="298.4" r="0.9"/><circle cx="441.2" cy="247.2" r="1.7"/><circle cx="470.6" cy="424.7" r="1.7"/><circle cx="498.1" cy="377.2" r="2.4"/><circle cx="499.9" cy="234.4" r="1.1"/><circle cx="638.1" cy="291.7" r="1.1"/><circle cx="612.1" cy="364.9" r="0.9"/><circle cx="502.7" cy="244.9" r="1.3"/><circle cx="610.4" cy="254.4" r="0.9"/><circle cx="591.8" cy="251.3" r="1.5"/><circle cx="526.4" cy="340.6" r="2.4"/><circle cx="470.7" cy="293.5" r="1.5"/><circle cx="464.2" cy="319.1" r="1.3"/><circle cx="504.1" cy="339.2" r="1.7"/><circle cx="600.8" cy="372.4" r="2.1"/><circle cx="483.5" cy="329.4" r="2.4"/><circle cx="478.0" cy="409.6" r="2.4"/><circle cx="521.6" cy="243.6" r="2.4"/><circle cx="423.9" cy="326.9" r="1.5"/><circle cx="411.7" cy="268.3" r="1.1"/><circle cx="487.6" cy="260.8" r="2.1"/><circle cx="414.2" cy="324.3" r="0.9"/><circle cx="438.8" cy="295.3" r="1.3"/><circle cx="452.5" cy="333.8" r="1.1"/><circle cx="558.2" cy="462.1" r="1.1"/><circle cx="511.2" cy="234.6" r="1.7"/><circle cx="506.0" cy="419.9" r="0.9"/><circle cx="381.5" cy="362.0" r="1.9"/><circle cx="636.0" cy="290.2" r="1.5"/><circle cx="382.1" cy="258.5" r="3.5"/><circle cx="626.3" cy="321.5" r="2.1"/><circle cx="498.1" cy="281.4" r="1.5"/><circle cx="638.5" cy="257.6" r="1.1"/><circle cx="415.0" cy="234.8" r="1.5"/><circle cx="422.6" cy="345.1" r="1.7"/><circle cx="538.2" cy="280.6" r="1.7"/><circle cx="552.8" cy="217.8" r="1.9"/><circle cx="396.4" cy="272.7" r="2.1"/><circle cx="480.6" cy="336.7" r="1.3"/><circle cx="589.9" cy="492.7" r="2.1"/><circle cx="458.6" cy="387.9" r="0.9"/><circle cx="587.3" cy="393.3" r="2.1"/><circle cx="545.7" cy="284.6" r="1.9"/><circle cx="460.9" cy="475.5" r="1.3"/><circle cx="550.6" cy="262.5" r="2.1"/><circle cx="503.8" cy="374.3" r="1.5"/><circle cx="498.9" cy="441.6" r="1.3"/><circle cx="401.4" cy="323.2" r="1.3"/><circle cx="475.8" cy="357.6" r="2.4"/><circle cx="471.5" cy="340.5" r="2.4"/><circle cx="577.4" cy="393.0" r="1.9"/><circle cx="531.8" cy="440.5" r="1.9"/><circle cx="543.6" cy="399.1" r="1.3"/><circle cx="541.3" cy="215.3" r="1.7"/><circle cx="492.7" cy="453.2" r="2.4"/><circle cx="510.0" cy="362.8" r="1.1"/><circle cx="580.4" cy="274.0" r="0.9"/><circle cx="500.3" cy="330.6" r="1.7"/><circle cx="604.6" cy="277.2" r="5.0"/><circle cx="543.0" cy="370.4" r="1.3"/><circle cx="633.2" cy="332.6" r="2.4"/><circle cx="420.8" cy="290.2" r="1.7"/><circle cx="548.1" cy="404.1" r="1.7"/><circle cx="545.9" cy="247.5" r="1.1"/><circle cx="522.9" cy="265.7" r="1.7"/><circle cx="386.4" cy="427.9" r="2.1"/><circle cx="481.4" cy="323.9" r="1.9"/><circle cx="459.2" cy="447.1" r="1.1"/><circle cx="573.8" cy="364.6" r="1.9"/><circle cx="494.4" cy="346.1" r="1.5"/><circle cx="426.5" cy="411.5" r="0.9"/><circle cx="541.1" cy="307.1" r="1.9"/><circle cx="525.2" cy="359.4" r="2.1"/><circle cx="507.9" cy="240.5" r="1.3"/><circle cx="484.2" cy="283.5" r="1.3"/><circle cx="607.6" cy="432.8" r="2.1"/><circle cx="554.5" cy="417.7" r="1.1"/><circle cx="504.1" cy="454.8" r="2.1"/><circle cx="632.5" cy="246.7" r="1.5"/><circle cx="451.4" cy="423.9" r="1.3"/><circle cx="627.0" cy="224.8" r="1.9"/><circle cx="602.6" cy="244.0" r="0.9"/><circle cx="462.0" cy="429.2" r="0.9"/><circle cx="381.0" cy="269.7" r="1.1"/><circle cx="467.1" cy="357.1" r="2.1"/><circle cx="488.9" cy="417.9" r="2.1"/><circle cx="459.6" cy="353.1" r="1.9"/><circle cx="413.6" cy="367.6" r="1.3"/><circle cx="497.0" cy="424.3" r="1.3"/><circle cx="465.3" cy="353.0" r="1.7"/><circle cx="532.0" cy="366.1" r="1.5"/><circle cx="609.7" cy="372.4" r="1.1"/><circle cx="498.4" cy="383.5" r="2.4"/><circle cx="518.6" cy="383.0" r="1.5"/><circle cx="520.7" cy="406.0" r="2.1"/><circle cx="558.7" cy="238.1" r="1.7"/><circle cx="461.1" cy="388.9" r="1.3"/><circle cx="500.3" cy="237.2" r="2.1"/><circle cx="535.7" cy="309.3" r="1.1"/><circle cx="540.1" cy="409.4" r="1.9"/><circle cx="565.5" cy="366.5" r="1.5"/><circle cx="564.4" cy="297.5" r="1.1"/><circle cx="528.6" cy="425.5" r="1.1"/><circle cx="474.4" cy="325.5" r="1.5"/><circle cx="477.9" cy="444.5" r="1.9"/><circle cx="489.1" cy="324.3" r="1.9"/><circle cx="557.2" cy="442.8" r="1.9"/><circle cx="413.3" cy="452.9" r="1.1"/><circle cx="571.9" cy="313.0" r="1.5"/><circle cx="446.2" cy="420.6" r="1.1"/><circle cx="472.5" cy="413.8" r="1.9"/><circle cx="580.3" cy="403.7" r="0.9"/><circle cx="467.2" cy="434.2" r="2.4"/><circle cx="540.2" cy="497.9" r="2.1"/><circle cx="525.9" cy="399.3" r="1.5"/><circle cx="386.7" cy="337.4" r="1.3"/><circle cx="479.7" cy="293.5" r="1.5"/><circle cx="489.9" cy="290.0" r="2.1"/><circle cx="557.0" cy="277.3" r="1.9"/><circle cx="450.0" cy="396.7" r="1.1"/><circle cx="615.1" cy="354.8" r="0.9"/><circle cx="538.4" cy="473.7" r="2.4"/><circle cx="531.5" cy="366.6" r="1.1"/><circle cx="513.5" cy="262.5" r="2.1"/><circle cx="577.1" cy="413.1" r="2.1"/><circle cx="470.9" cy="239.1" r="1.5"/><circle cx="503.2" cy="436.7" r="2.1"/><circle cx="473.8" cy="414.8" r="1.3"/><circle cx="589.5" cy="391.2" r="2.1"/><circle cx="560.7" cy="317.8" r="2.4"/><circle cx="556.7" cy="450.2" r="1.7"/><circle cx="612.6" cy="418.6" r="1.7"/><circle cx="520.1" cy="311.7" r="0.9"/><circle cx="539.9" cy="267.0" r="2.4"/><circle cx="616.0" cy="434.1" r="2.1"/><circle cx="523.8" cy="278.9" r="1.1"/><circle cx="534.0" cy="374.7" r="0.9"/><circle cx="505.1" cy="431.8" r="1.7"/><circle cx="481.1" cy="406.4" r="1.1"/><circle cx="532.5" cy="331.7" r="1.9"/><circle cx="474.0" cy="439.6" r="1.1"/><circle cx="491.9" cy="457.8" r="2.1"/><circle cx="534.3" cy="426.0" r="1.1"/><circle cx="508.1" cy="322.6" r="0.9"/><circle cx="538.8" cy="395.6" r="1.5"/><circle cx="583.1" cy="223.4" r="1.1"/><circle cx="503.7" cy="387.0" r="0.9"/><circle cx="386.6" cy="395.5" r="2.4"/><circle cx="574.7" cy="441.0" r="1.5"/><circle cx="516.2" cy="243.2" r="0.9"/><circle cx="502.7" cy="343.5" r="0.9"/><circle cx="582.9" cy="489.8" r="2.1"/><circle cx="555.6" cy="311.4" r="2.4"/><circle cx="437.4" cy="309.2" r="1.7"/><circle cx="518.7" cy="231.4" r="2.4"/><circle cx="533.4" cy="309.0" r="2.1"/><circle cx="478.9" cy="393.7" r="1.5"/><circle cx="428.2" cy="239.2" r="1.9"/><circle cx="493.8" cy="343.3" r="1.5"/><circle cx="568.6" cy="475.0" r="0.9"/><circle cx="619.6" cy="266.0" r="1.7"/><circle cx="501.5" cy="415.1" r="2.4"/><circle cx="496.9" cy="273.5" r="0.9"/><circle cx="494.9" cy="315.6" r="2.4"/><circle cx="502.8" cy="243.6" r="1.7"/><circle cx="538.6" cy="249.8" r="1.7"/><circle cx="630.6" cy="348.7" r="1.1"/><circle cx="387.6" cy="359.2" r="1.1"/><circle cx="530.0" cy="418.6" r="2.1"/><circle cx="433.1" cy="350.5" r="1.1"/><circle cx="565.2" cy="386.3" r="1.3"/><circle cx="468.6" cy="245.6" r="1.3"/><circle cx="493.5" cy="438.1" r="1.1"/><circle cx="574.5" cy="326.6" r="1.3"/><circle cx="430.7" cy="472.4" r="1.9"/><circle cx="564.6" cy="441.2" r="1.3"/><circle cx="421.5" cy="466.2" r="1.9"/><circle cx="590.5" cy="280.0" r="2.1"/><circle cx="501.2" cy="264.6" r="4.0"/><circle cx="463.0" cy="223.6" r="2.4"/><circle cx="495.2" cy="306.1" r="2.1"/><circle cx="532.8" cy="352.8" r="2.1"/><circle cx="412.4" cy="386.9" r="2.4"/><circle cx="490.0" cy="349.0" r="2.1"/><circle cx="452.3" cy="244.7" r="1.9"/><circle cx="551.2" cy="228.6" r="1.3"/><circle cx="528.4" cy="457.9" r="1.5"/><circle cx="431.0" cy="242.7" r="2.4"/><circle cx="507.4" cy="345.3" r="1.7"/><circle cx="431.7" cy="477.3" r="1.1"/><circle cx="537.3" cy="288.1" r="2.1"/><circle cx="511.7" cy="333.6" r="1.9"/><circle cx="556.3" cy="328.6" r="1.3"/><circle cx="436.8" cy="283.4" r="1.9"/><circle cx="452.9" cy="449.5" r="1.9"/><circle cx="511.5" cy="430.0" r="1.3"/><circle cx="611.1" cy="283.6" r="2.1"/><circle cx="479.8" cy="426.8" r="1.3"/><circle cx="439.7" cy="391.6" r="1.9"/><circle cx="530.1" cy="340.2" r="0.9"/><circle cx="444.2" cy="325.8" r="1.5"/><circle cx="528.9" cy="334.9" r="1.1"/><circle cx="532.6" cy="497.1" r="1.5"/><circle cx="551.6" cy="395.6" r="1.1"/><circle cx="532.9" cy="410.3" r="1.1"/><circle cx="449.4" cy="373.6" r="2.4"/><circle cx="561.5" cy="426.1" r="0.9"/><circle cx="418.5" cy="401.7" r="1.7"/><circle cx="519.7" cy="328.4" r="1.9"/><circle cx="591.0" cy="503.8" r="2.1"/><circle cx="479.4" cy="367.9" r="1.5"/><circle cx="405.8" cy="306.6" r="0.9"/><circle cx="438.8" cy="254.0" r="1.5"/><circle cx="489.3" cy="354.5" r="2.4"/><circle cx="494.8" cy="264.2" r="0.9"/><circle cx="590.5" cy="473.6" r="1.1"/><circle cx="506.6" cy="310.9" r="1.9"/><circle cx="552.0" cy="392.5" r="2.1"/><circle cx="562.2" cy="426.7" r="1.9"/><circle cx="483.4" cy="365.1" r="2.1"/><circle cx="487.9" cy="233.7" r="2.1"/><circle cx="565.8" cy="354.1" r="1.7"/><circle cx="543.0" cy="420.9" r="1.3"/><circle cx="553.6" cy="415.4" r="2.4"/><circle cx="576.2" cy="479.4" r="1.9"/><circle cx="534.2" cy="267.4" r="1.5"/><circle cx="383.5" cy="273.4" r="2.4"/><circle cx="632.4" cy="322.7" r="2.1"/><circle cx="452.6" cy="347.5" r="2.1"/><circle cx="493.8" cy="318.8" r="1.7"/><circle cx="424.8" cy="333.8" r="2.4"/><circle cx="538.2" cy="256.2" r="1.5"/><circle cx="452.8" cy="338.2" r="1.1"/><circle cx="416.9" cy="353.3" r="2.4"/><circle cx="489.0" cy="335.2" r="1.9"/><circle cx="550.3" cy="226.5" r="1.9"/><circle cx="494.9" cy="271.3" r="1.5"/><circle cx="489.0" cy="307.8" r="2.4"/><circle cx="458.7" cy="363.2" r="1.9"/><circle cx="503.2" cy="380.8" r="2.1"/><circle cx="448.5" cy="331.9" r="1.1"/><circle cx="498.9" cy="425.9" r="1.1"/><circle cx="500.5" cy="356.6" r="1.7"/><circle cx="574.7" cy="414.0" r="0.9"/><circle cx="433.6" cy="426.4" r="2.1"/><circle cx="449.2" cy="238.9" r="2.1"/><circle cx="565.1" cy="339.3" r="1.5"/><circle cx="573.0" cy="385.1" r="1.1"/><circle cx="439.3" cy="381.6" r="2.4"/><circle cx="393.2" cy="304.8" r="1.1"/><circle cx="562.3" cy="407.2" r="1.5"/><circle cx="438.9" cy="369.1" r="1.3"/><circle cx="531.7" cy="385.8" r="1.1"/><circle cx="556.4" cy="340.7" r="0.9"/><circle cx="480.5" cy="217.7" r="3.5"/><circle cx="451.7" cy="409.1" r="1.5"/><circle cx="404.6" cy="319.0" r="1.1"/><circle cx="520.1" cy="325.5" r="1.1"/><circle cx="489.0" cy="303.6" r="2.1"/><circle cx="437.1" cy="214.0" r="1.1"/><circle cx="469.7" cy="325.1" r="1.7"/><circle cx="440.8" cy="420.6" r="1.9"/><circle cx="540.9" cy="457.7" r="1.7"/><circle cx="546.0" cy="434.3" r="0.9"/><circle cx="475.3" cy="407.7" r="1.7"/><circle cx="577.9" cy="310.5" r="0.9"/><circle cx="425.8" cy="435.2" r="1.3"/><circle cx="574.4" cy="444.2" r="1.3"/><circle cx="561.5" cy="371.4" r="2.4"/><circle cx="497.4" cy="422.3" r="1.5"/><circle cx="552.7" cy="241.1" r="0.9"/><circle cx="634.2" cy="468.5" r="1.7"/><circle cx="555.2" cy="354.2" r="0.9"/><circle cx="480.9" cy="426.4" r="1.5"/><circle cx="571.4" cy="410.5" r="1.7"/><circle cx="582.5" cy="374.0" r="0.9"/><circle cx="463.4" cy="409.8" r="2.1"/><circle cx="537.5" cy="409.6" r="2.4"/><circle cx="581.1" cy="298.7" r="1.3"/><circle cx="572.7" cy="356.9" r="1.1"/><circle cx="414.7" cy="380.6" r="1.1"/><circle cx="582.6" cy="271.6" r="1.3"/><circle cx="518.6" cy="357.6" r="2.1"/><circle cx="500.0" cy="378.1" r="1.7"/><circle cx="566.1" cy="422.9" r="1.9"/><circle cx="413.9" cy="479.4" r="2.4"/><circle cx="564.2" cy="391.6" r="1.9"/><circle cx="582.4" cy="320.5" r="1.3"/><circle cx="527.4" cy="320.8" r="0.9"/><circle cx="530.5" cy="397.8" r="2.4"/><circle cx="408.9" cy="235.4" r="2.4"/><circle cx="521.7" cy="465.2" r="1.1"/><circle cx="610.9" cy="270.0" r="2.4"/><circle cx="459.1" cy="275.4" r="1.7"/><circle cx="447.3" cy="424.1" r="1.1"/><circle cx="595.2" cy="286.9" r="1.7"/><circle cx="396.8" cy="357.9" r="1.7"/><circle cx="436.0" cy="370.4" r="1.7"/><circle cx="471.0" cy="448.3" r="1.7"/><circle cx="576.3" cy="251.2" r="0.9"/><circle cx="460.1" cy="444.7" r="1.9"/><circle cx="446.0" cy="404.1" r="1.5"/><circle cx="538.8" cy="257.0" r="1.5"/><circle cx="507.7" cy="321.2" r="1.7"/><circle cx="491.7" cy="411.2" r="1.7"/><circle cx="488.1" cy="360.7" r="1.1"/><circle cx="570.5" cy="387.6" r="0.9"/><circle cx="402.6" cy="361.3" r="1.7"/><circle cx="473.7" cy="309.7" r="1.7"/><circle cx="536.9" cy="365.7" r="1.3"/><circle cx="560.2" cy="436.9" r="1.5"/><circle cx="507.5" cy="317.0" r="1.7"/><circle cx="566.9" cy="353.2" r="1.9"/><circle cx="569.9" cy="307.0" r="1.3"/><circle cx="486.5" cy="372.7" r="1.9"/><circle cx="531.9" cy="392.2" r="1.9"/><circle cx="582.1" cy="334.6" r="1.5"/><circle cx="499.6" cy="242.6" r="1.1"/><circle cx="537.8" cy="226.1" r="0.9"/><circle cx="392.9" cy="287.4" r="0.9"/><circle cx="522.7" cy="349.9" r="2.4"/><circle cx="600.0" cy="331.4" r="2.4"/><circle cx="550.1" cy="388.3" r="0.9"/><circle cx="551.1" cy="335.8" r="1.5"/><circle cx="561.2" cy="334.6" r="1.9"/><circle cx="552.7" cy="300.8" r="1.3"/><circle cx="527.3" cy="413.3" r="1.9"/><circle cx="504.4" cy="446.0" r="2.1"/><circle cx="475.3" cy="401.7" r="1.5"/><circle cx="624.5" cy="238.5" r="1.7"/><circle cx="516.5" cy="286.0" r="0.9"/><circle cx="443.5" cy="380.4" r="2.4"/><circle cx="500.8" cy="289.1" r="0.9"/><circle cx="514.0" cy="444.1" r="1.9"/><circle cx="531.5" cy="227.7" r="0.9"/><circle cx="589.8" cy="388.1" r="2.4"/><circle cx="490.9" cy="339.9" r="2.4"/><circle cx="468.9" cy="365.2" r="0.9"/><circle cx="466.6" cy="436.5" r="1.9"/><circle cx="522.4" cy="225.5" r="1.5"/><circle cx="515.9" cy="341.6" r="1.1"/><circle cx="476.7" cy="414.8" r="1.5"/><circle cx="473.4" cy="372.5" r="1.5"/><circle cx="572.6" cy="270.0" r="1.5"/><circle cx="614.8" cy="331.4" r="0.9"/><circle cx="500.7" cy="337.0" r="0.9"/><circle cx="481.7" cy="385.9" r="1.3"/><circle cx="576.0" cy="479.3" r="0.9"/><circle cx="579.0" cy="378.8" r="0.9"/><circle cx="494.9" cy="443.8" r="0.9"/><circle cx="549.8" cy="375.3" r="0.9"/><circle cx="588.6" cy="348.8" r="1.3"/><circle cx="587.6" cy="311.1" r="1.9"/><circle cx="527.4" cy="250.9" r="1.9"/><circle cx="496.3" cy="258.4" r="1.9"/><circle cx="547.4" cy="406.8" r="0.9"/><circle cx="642.8" cy="294.4" r="1.9"/><circle cx="562.4" cy="412.7" r="1.3"/><circle cx="580.9" cy="351.5" r="1.1"/><circle cx="436.6" cy="249.7" r="1.1"/><circle cx="503.2" cy="233.4" r="1.9"/><circle cx="406.7" cy="451.7" r="2.4"/><circle cx="504.4" cy="360.3" r="1.7"/><circle cx="575.3" cy="332.5" r="2.1"/><circle cx="606.0" cy="335.6" r="0.9"/><circle cx="558.0" cy="281.7" r="2.1"/><circle cx="560.9" cy="282.0" r="1.9"/><circle cx="423.2" cy="331.1" r="2.1"/><circle cx="529.2" cy="321.7" r="2.4"/><circle cx="591.5" cy="341.7" r="1.1"/><circle cx="508.4" cy="330.2" r="1.1"/><circle cx="468.0" cy="392.9" r="1.9"/><circle cx="466.8" cy="370.8" r="2.1"/><circle cx="576.9" cy="398.1" r="1.3"/><circle cx="471.2" cy="466.9" r="1.3"/><circle cx="487.4" cy="282.5" r="2.1"/><circle cx="427.5" cy="409.9" r="2.4"/><circle cx="440.0" cy="234.5" r="0.9"/><circle cx="609.4" cy="295.5" r="1.3"/><circle cx="573.9" cy="345.2" r="0.9"/><circle cx="602.2" cy="314.8" r="1.9"/><circle cx="451.6" cy="248.6" r="1.1"/><circle cx="472.6" cy="315.6" r="2.1"/><circle cx="511.9" cy="416.3" r="1.3"/><circle cx="550.0" cy="470.1" r="1.1"/><circle cx="524.7" cy="459.2" r="2.4"/><circle cx="399.0" cy="226.3" r="2.1"/><circle cx="557.8" cy="274.2" r="1.5"/><circle cx="445.1" cy="305.7" r="2.1"/><circle cx="535.2" cy="452.3" r="1.1"/><circle cx="536.7" cy="232.3" r="1.7"/><circle cx="570.8" cy="401.2" r="1.7"/><circle cx="413.2" cy="288.8" r="0.9"/><circle cx="549.6" cy="370.5" r="1.5"/><circle cx="530.6" cy="360.5" r="1.1"/><circle cx="456.8" cy="258.3" r="1.5"/><circle cx="456.8" cy="267.4" r="1.1"/><circle cx="482.3" cy="327.8" r="1.5"/><circle cx="415.2" cy="416.2" r="2.4"/><circle cx="558.0" cy="358.8" r="1.1"/><circle cx="499.9" cy="333.0" r="1.5"/><circle cx="486.8" cy="228.5" r="1.5"/><circle cx="515.7" cy="341.3" r="2.1"/><circle cx="630.9" cy="379.2" r="1.3"/><circle cx="561.6" cy="331.7" r="1.1"/><circle cx="582.5" cy="339.3" r="1.9"/><circle cx="475.6" cy="328.4" r="1.7"/><circle cx="496.2" cy="332.8" r="1.1"/><circle cx="605.2" cy="408.4" r="1.3"/><circle cx="563.1" cy="263.7" r="2.4"/><circle cx="503.2" cy="393.5" r="1.3"/><circle cx="435.3" cy="434.6" r="2.1"/><circle cx="608.4" cy="266.3" r="1.9"/><circle cx="589.5" cy="375.3" r="0.9"/><circle cx="589.2" cy="443.0" r="1.7"/><circle cx="420.6" cy="377.3" r="1.3"/><circle cx="554.2" cy="388.2" r="1.3"/><circle cx="562.3" cy="362.4" r="2.4"/><circle cx="536.9" cy="376.8" r="0.9"/><circle cx="507.8" cy="351.6" r="1.3"/><circle cx="434.4" cy="395.5" r="1.5"/><circle cx="461.3" cy="246.2" r="1.7"/><circle cx="429.5" cy="358.8" r="2.4"/><circle cx="480.2" cy="407.4" r="1.1"/><circle cx="580.1" cy="402.7" r="1.5"/><circle cx="435.5" cy="421.2" r="2.1"/><circle cx="461.5" cy="433.2" r="1.1"/><circle cx="579.2" cy="349.8" r="1.9"/><circle cx="407.5" cy="362.2" r="2.4"/><circle cx="584.6" cy="362.9" r="1.3"/><circle cx="422.7" cy="450.6" r="2.4"/><circle cx="564.6" cy="318.9" r="2.4"/><circle cx="535.1" cy="331.0" r="1.9"/><circle cx="438.8" cy="275.4" r="1.9"/><circle cx="421.7" cy="284.3" r="2.1"/><circle cx="435.2" cy="330.2" r="1.3"/><circle cx="491.8" cy="260.7" r="1.7"/><circle cx="475.5" cy="330.7" r="2.4"/><circle cx="579.7" cy="445.6" r="1.1"/><circle cx="445.5" cy="460.0" r="1.3"/><circle cx="619.4" cy="376.0" r="1.1"/><circle cx="514.8" cy="397.2" r="1.5"/><circle cx="633.9" cy="278.3" r="1.5"/><circle cx="529.6" cy="360.7" r="2.1"/><circle cx="414.3" cy="250.9" r="0.9"/><circle cx="521.2" cy="447.6" r="1.9"/><circle cx="502.7" cy="419.2" r="1.5"/><circle cx="538.6" cy="448.8" r="1.5"/><circle cx="487.9" cy="366.8" r="1.3"/><circle cx="529.7" cy="366.7" r="1.7"/><circle cx="548.0" cy="269.1" r="4.0"/><circle cx="542.2" cy="439.7" r="1.9"/><circle cx="381.1" cy="411.2" r="2.1"/><circle cx="553.9" cy="465.6" r="1.1"/><circle cx="464.9" cy="449.5" r="1.1"/><circle cx="471.1" cy="280.3" r="1.1"/><circle cx="493.2" cy="386.8" r="1.7"/><circle cx="557.0" cy="297.3" r="1.3"/><circle cx="568.2" cy="390.0" r="1.1"/><circle cx="542.2" cy="248.7" r="1.3"/><circle cx="428.4" cy="289.8" r="2.1"/><circle cx="401.6" cy="364.8" r="2.4"/><circle cx="404.7" cy="374.9" r="1.7"/><circle cx="552.7" cy="365.6" r="1.3"/><circle cx="496.1" cy="422.9" r="1.9"/><circle cx="608.7" cy="399.1" r="1.5"/><circle cx="469.9" cy="309.5" r="2.1"/><circle cx="452.4" cy="300.2" r="1.5"/><circle cx="583.5" cy="359.4" r="1.7"/><circle cx="604.4" cy="296.1" r="2.1"/><circle cx="470.9" cy="360.4" r="0.9"/><circle cx="452.3" cy="250.8" r="1.3"/><circle cx="530.4" cy="307.0" r="2.1"/><circle cx="486.5" cy="213.8" r="3.5"/><circle cx="429.1" cy="276.7" r="1.3"/><circle cx="518.1" cy="489.5" r="1.3"/><circle cx="467.8" cy="371.8" r="1.5"/><circle cx="534.7" cy="474.4" r="1.3"/><circle cx="532.8" cy="416.1" r="1.7"/><circle cx="413.8" cy="303.7" r="0.9"/><circle cx="505.5" cy="445.8" r="1.1"/><circle cx="494.2" cy="297.2" r="1.5"/><circle cx="537.1" cy="496.8" r="0.9"/><circle cx="449.9" cy="291.5" r="1.9"/><circle cx="517.7" cy="357.4" r="1.9"/><circle cx="581.2" cy="365.2" r="2.1"/><circle cx="591.4" cy="323.7" r="1.9"/><circle cx="577.9" cy="359.9" r="1.1"/><circle cx="602.9" cy="438.3" r="1.5"/><circle cx="397.2" cy="389.1" r="1.9"/><circle cx="535.7" cy="391.7" r="2.4"/><circle cx="537.7" cy="330.9" r="1.1"/><circle cx="518.9" cy="421.6" r="2.1"/><circle cx="575.3" cy="284.2" r="2.1"/><circle cx="549.3" cy="454.5" r="1.1"/><circle cx="566.0" cy="423.9" r="1.5"/><circle cx="490.3" cy="448.8" r="2.4"/><circle cx="585.0" cy="278.5" r="1.1"/><circle cx="397.0" cy="338.1" r="1.9"/><circle cx="445.5" cy="253.9" r="2.1"/><circle cx="622.5" cy="457.0" r="1.7"/><circle cx="560.3" cy="480.9" r="1.1"/><circle cx="529.9" cy="283.7" r="1.9"/><circle cx="518.1" cy="306.4" r="1.3"/><circle cx="438.8" cy="318.3" r="1.1"/><circle cx="455.3" cy="403.6" r="1.5"/><circle cx="402.6" cy="259.9" r="1.3"/><circle cx="495.7" cy="340.0" r="0.9"/><circle cx="506.8" cy="371.6" r="1.7"/><circle cx="492.8" cy="286.2" r="1.7"/><circle cx="398.1" cy="291.1" r="1.1"/><circle cx="542.5" cy="376.8" r="1.7"/><circle cx="529.4" cy="304.5" r="1.1"/><circle cx="472.2" cy="391.4" r="0.9"/><circle cx="493.6" cy="289.7" r="1.1"/><circle cx="462.5" cy="379.8" r="1.1"/><circle cx="431.3" cy="489.1" r="1.3"/><circle cx="451.8" cy="345.9" r="1.1"/><circle cx="484.1" cy="477.2" r="0.9"/><circle cx="513.7" cy="226.6" r="2.4"/><circle cx="567.4" cy="286.4" r="1.3"/><circle cx="549.3" cy="237.4" r="1.3"/><circle cx="519.2" cy="350.3" r="1.9"/><circle cx="615.8" cy="295.0" r="1.3"/><circle cx="499.8" cy="409.5" r="1.5"/><circle cx="523.0" cy="413.6" r="2.4"/></g><g clip-path="url(#bubClip)" fill="#c8fcff" opacity="0.7"><circle cx="605.6" cy="415.0" r="0.8"/><circle cx="411.4" cy="460.5" r="1.0"/><circle cx="505.1" cy="520.7" r="1.0"/><circle cx="611.7" cy="449.2" r="0.6"/><circle cx="514.4" cy="410.4" r="0.8"/><circle cx="602.2" cy="409.1" r="1.0"/><circle cx="495.9" cy="532.2" r="0.8"/><circle cx="562.3" cy="435.4" r="1.2"/><circle cx="524.3" cy="493.8" r="1.2"/><circle cx="509.4" cy="484.0" r="0.6"/><circle cx="427.1" cy="477.8" r="1.0"/><circle cx="502.5" cy="469.7" r="0.8"/><circle cx="506.7" cy="488.4" r="1.2"/><circle cx="604.4" cy="470.3" r="0.8"/><circle cx="499.6" cy="458.4" r="0.8"/><circle cx="424.6" cy="441.0" r="0.6"/><circle cx="415.7" cy="512.4" r="0.6"/><circle cx="563.6" cy="412.9" r="0.6"/><circle cx="563.1" cy="476.4" r="1.0"/><circle cx="413.8" cy="458.6" r="0.6"/><circle cx="503.1" cy="456.3" r="1.0"/><circle cx="423.5" cy="488.7" r="0.6"/><circle cx="605.1" cy="423.4" r="1.2"/><circle cx="504.0" cy="497.5" r="1.2"/><circle cx="457.2" cy="477.1" r="1.0"/><circle cx="594.5" cy="438.2" r="0.6"/><circle cx="605.5" cy="463.1" r="1.0"/><circle cx="533.5" cy="399.1" r="0.6"/><circle cx="609.8" cy="426.8" r="1.0"/><circle cx="416.5" cy="427.2" r="1.0"/><circle cx="412.8" cy="523.7" r="0.6"/><circle cx="560.7" cy="479.2" r="1.0"/><circle cx="429.3" cy="505.0" r="0.8"/><circle cx="504.6" cy="441.8" r="1.0"/><circle cx="461.4" cy="407.3" r="0.8"/><circle cx="406.5" cy="422.2" r="1.0"/><circle cx="593.9" cy="500.1" r="0.8"/><circle cx="505.9" cy="512.9" r="1.2"/><circle cx="609.5" cy="426.9" r="0.6"/><circle cx="520.6" cy="452.5" r="1.0"/><circle cx="559.4" cy="403.7" r="1.0"/><circle cx="453.9" cy="479.2" r="1.0"/><circle cx="603.8" cy="481.9" r="0.6"/><circle cx="549.8" cy="495.0" r="0.6"/><circle cx="505.9" cy="474.7" r="1.0"/><circle cx="480.9" cy="424.4" r="1.0"/><circle cx="614.7" cy="468.6" r="1.0"/><circle cx="579.9" cy="506.2" r="0.6"/><circle cx="548.0" cy="467.5" r="1.2"/><circle cx="517.1" cy="512.8" r="1.0"/><circle cx="611.5" cy="438.1" r="0.6"/><circle cx="420.7" cy="492.5" r="0.6"/><circle cx="416.5" cy="506.6" r="1.2"/><circle cx="565.8" cy="451.4" r="0.8"/><circle cx="554.7" cy="505.6" r="1.2"/><circle cx="567.0" cy="435.7" r="1.2"/><circle cx="523.0" cy="480.8" r="0.6"/><circle cx="500.5" cy="501.3" r="1.0"/><circle cx="414.6" cy="469.2" r="0.6"/><circle cx="610.9" cy="471.5" r="0.6"/><circle cx="413.8" cy="414.1" r="1.0"/><circle cx="411.3" cy="444.1" r="0.8"/><circle cx="421.6" cy="497.6" r="0.6"/><circle cx="560.3" cy="430.4" r="1.0"/><circle cx="458.2" cy="396.9" r="1.0"/><circle cx="512.2" cy="487.8" r="1.2"/><circle cx="408.7" cy="409.2" r="0.8"/><circle cx="447.7" cy="466.9" r="1.0"/><circle cx="526.7" cy="512.6" r="0.6"/><circle cx="609.7" cy="403.3" r="1.0"/><circle cx="610.5" cy="506.8" r="0.6"/><circle cx="555.6" cy="453.5" r="1.2"/><circle cx="424.2" cy="520.8" r="1.0"/><circle cx="408.4" cy="431.2" r="0.6"/><circle cx="413.0" cy="493.6" r="1.2"/><circle cx="499.7" cy="422.5" r="1.2"/><circle cx="408.0" cy="418.9" r="0.6"/><circle cx="455.6" cy="510.5" r="0.6"/><circle cx="578.7" cy="437.5" r="1.0"/><circle cx="593.0" cy="521.9" r="1.0"/><circle cx="410.9" cy="466.6" r="0.6"/><circle cx="499.8" cy="400.7" r="1.2"/><circle cx="608.6" cy="468.7" r="1.0"/><circle cx="426.3" cy="529.6" r="0.8"/><circle cx="591.9" cy="511.4" r="0.8"/><circle cx="416.1" cy="414.3" r="0.6"/><circle cx="615.9" cy="445.5" r="1.0"/><circle cx="541.1" cy="474.0" r="0.8"/><circle cx="400.8" cy="405.1" r="1.2"/><circle cx="423.7" cy="476.5" r="1.2"/><circle cx="528.1" cy="468.6" r="0.6"/><circle cx="608.9" cy="416.3" r="0.8"/><circle cx="524.5" cy="460.5" r="1.2"/><circle cx="420.0" cy="407.1" r="1.0"/><circle cx="485.9" cy="471.8" r="1.0"/><circle cx="413.4" cy="509.7" r="0.6"/><circle cx="519.4" cy="468.0" r="0.6"/><circle cx="493.5" cy="481.0" r="1.2"/><circle cx="468.1" cy="442.9" r="0.8"/><circle cx="413.9" cy="472.2" r="0.8"/><circle cx="556.9" cy="509.0" r="1.0"/><circle cx="551.9" cy="492.9" r="0.8"/><circle cx="417.2" cy="512.5" r="1.0"/><circle cx="422.1" cy="483.5" r="0.8"/><circle cx="563.6" cy="465.8" r="0.8"/><circle cx="416.4" cy="440.3" r="0.8"/><circle cx="421.4" cy="447.3" r="0.8"/><circle cx="420.5" cy="494.0" r="1.0"/><circle cx="413.8" cy="413.9" r="1.2"/><circle cx="408.4" cy="421.7" r="1.2"/><circle cx="590.8" cy="506.5" r="1.2"/><circle cx="536.6" cy="507.3" r="1.2"/><circle cx="433.2" cy="526.5" r="1.2"/><circle cx="595.3" cy="406.1" r="0.6"/><circle cx="527.2" cy="494.9" r="1.2"/><circle cx="434.0" cy="533.4" r="1.0"/><circle cx="466.8" cy="485.4" r="0.6"/><circle cx="599.0" cy="527.3" r="1.2"/><circle cx="597.8" cy="506.4" r="0.6"/><circle cx="467.0" cy="425.9" r="0.6"/><circle cx="587.7" cy="493.0" r="0.6"/><circle cx="510.9" cy="518.1" r="0.6"/><circle cx="459.1" cy="525.6" r="1.2"/><circle cx="456.4" cy="428.4" r="1.2"/><circle cx="610.4" cy="413.9" r="1.2"/><circle cx="600.9" cy="457.7" r="0.8"/><circle cx="426.2" cy="409.4" r="1.0"/><circle cx="411.1" cy="444.0" r="0.8"/><circle cx="562.1" cy="474.6" r="1.2"/><circle cx="596.5" cy="507.4" r="1.0"/><circle cx="605.6" cy="517.7" r="1.2"/><circle cx="586.5" cy="452.5" r="1.0"/><circle cx="418.7" cy="430.0" r="0.8"/><circle cx="413.6" cy="423.5" r="0.8"/><circle cx="571.0" cy="480.0" r="1.0"/><circle cx="413.7" cy="451.0" r="0.6"/><circle cx="611.4" cy="439.2" r="1.0"/><circle cx="537.0" cy="531.0" r="0.8"/><circle cx="518.4" cy="529.9" r="1.0"/><circle cx="514.6" cy="453.6" r="1.2"/><circle cx="601.5" cy="453.3" r="0.8"/><circle cx="511.5" cy="459.8" r="1.2"/><circle cx="612.0" cy="457.0" r="1.0"/><circle cx="600.2" cy="472.1" r="0.8"/><circle cx="414.5" cy="469.6" r="1.0"/><circle cx="472.5" cy="525.6" r="0.8"/><circle cx="557.6" cy="457.8" r="1.0"/><circle cx="586.8" cy="444.7" r="0.8"/><circle cx="628.7" cy="416.1" r="1.2"/><circle cx="425.5" cy="479.8" r="1.2"/><circle cx="614.0" cy="423.7" r="0.8"/><circle cx="405.3" cy="397.2" r="0.8"/><circle cx="528.3" cy="395.1" r="1.2"/><circle cx="608.0" cy="410.4" r="1.2"/><circle cx="542.3" cy="524.9" r="0.6"/><circle cx="477.5" cy="526.9" r="0.8"/><circle cx="604.0" cy="521.8" r="1.0"/><circle cx="460.1" cy="432.7" r="1.0"/><circle cx="525.4" cy="494.7" r="1.0"/><circle cx="520.5" cy="452.1" r="1.2"/><circle cx="604.5" cy="479.2" r="1.2"/><circle cx="420.8" cy="467.8" r="0.8"/><circle cx="417.5" cy="486.8" r="0.8"/><circle cx="517.3" cy="455.9" r="1.0"/><circle cx="491.8" cy="508.0" r="0.8"/><circle cx="508.9" cy="483.6" r="0.6"/><circle cx="601.2" cy="453.6" r="0.6"/><circle cx="431.1" cy="514.6" r="0.6"/><circle cx="413.9" cy="453.4" r="0.6"/><circle cx="408.4" cy="455.3" r="1.0"/><circle cx="599.5" cy="459.2" r="0.8"/><circle cx="604.0" cy="532.0" r="0.6"/><circle cx="407.0" cy="423.8" r="0.8"/><circle cx="507.9" cy="463.3" r="0.6"/><circle cx="505.2" cy="441.4" r="1.2"/><circle cx="401.0" cy="400.4" r="0.6"/><circle cx="470.0" cy="422.7" r="1.0"/><circle cx="494.7" cy="401.4" r="0.8"/><circle cx="602.8" cy="522.3" r="0.8"/><circle cx="608.2" cy="465.9" r="1.2"/><circle cx="606.1" cy="420.5" r="1.0"/><circle cx="611.3" cy="453.3" r="1.0"/><circle cx="589.1" cy="512.8" r="1.0"/><circle cx="597.7" cy="480.8" r="0.8"/><circle cx="472.5" cy="400.6" r="1.2"/><circle cx="600.8" cy="513.5" r="0.8"/><circle cx="519.5" cy="474.7" r="0.6"/><circle cx="417.5" cy="425.3" r="0.6"/><circle cx="422.4" cy="428.0" r="0.6"/><circle cx="616.0" cy="503.0" r="1.0"/><circle cx="522.0" cy="457.2" r="0.8"/><circle cx="453.3" cy="469.7" r="1.0"/><circle cx="419.7" cy="465.2" r="1.0"/><circle cx="580.7" cy="482.0" r="1.2"/><circle cx="598.1" cy="514.4" r="0.8"/><circle cx="473.4" cy="397.4" r="0.6"/><circle cx="569.8" cy="414.5" r="1.2"/><circle cx="507.6" cy="415.0" r="0.8"/><circle cx="478.5" cy="524.9" r="0.6"/><circle cx="512.0" cy="467.2" r="0.6"/><circle cx="450.3" cy="471.9" r="1.0"/><circle cx="421.5" cy="425.0" r="1.2"/><circle cx="410.5" cy="476.2" r="0.6"/><circle cx="413.2" cy="517.9" r="1.0"/><circle cx="603.3" cy="456.3" r="0.8"/><circle cx="424.1" cy="510.5" r="1.0"/><circle cx="596.2" cy="499.9" r="1.2"/><circle cx="613.7" cy="463.7" r="0.6"/><circle cx="466.7" cy="398.5" r="1.0"/><circle cx="516.3" cy="494.5" r="1.0"/><circle cx="398.0" cy="408.5" r="0.8"/><circle cx="450.5" cy="404.9" r="1.0"/><circle cx="517.5" cy="418.9" r="0.8"/><circle cx="554.2" cy="459.8" r="1.0"/><circle cx="510.3" cy="500.1" r="1.0"/><circle cx="417.9" cy="454.5" r="1.0"/><circle cx="606.7" cy="499.0" r="1.0"/><circle cx="518.0" cy="450.1" r="1.2"/><circle cx="564.0" cy="459.8" r="0.8"/><circle cx="474.3" cy="513.5" r="1.0"/><circle cx="561.4" cy="512.0" r="1.0"/><circle cx="417.0" cy="432.5" r="0.6"/><circle cx="407.2" cy="428.0" r="0.6"/><circle cx="459.6" cy="448.4" r="0.8"/><circle cx="604.3" cy="518.5" r="1.2"/><circle cx="621.0" cy="412.3" r="1.2"/><circle cx="596.2" cy="532.8" r="1.2"/><circle cx="404.2" cy="466.0" r="1.0"/><circle cx="542.0" cy="529.0" r="1.2"/><circle cx="518.3" cy="464.8" r="1.2"/><circle cx="616.2" cy="519.0" r="1.2"/><circle cx="571.4" cy="486.5" r="0.6"/><circle cx="606.0" cy="508.2" r="1.2"/><circle cx="554.5" cy="506.9" r="1.0"/><circle cx="556.1" cy="525.3" r="0.6"/><circle cx="546.6" cy="479.7" r="1.2"/><circle cx="468.2" cy="450.0" r="0.6"/><circle cx="469.4" cy="521.7" r="0.6"/><circle cx="496.1" cy="520.3" r="1.0"/><circle cx="601.8" cy="516.4" r="0.6"/><circle cx="501.3" cy="502.7" r="1.2"/><circle cx="612.7" cy="427.9" r="1.0"/><circle cx="414.5" cy="457.5" r="1.2"/><circle cx="520.0" cy="462.6" r="1.2"/><circle cx="424.0" cy="487.3" r="0.6"/><circle cx="608.3" cy="416.5" r="0.6"/><circle cx="619.3" cy="455.5" r="1.2"/><circle cx="494.3" cy="475.1" r="0.8"/><circle cx="603.2" cy="419.5" r="1.2"/><circle cx="601.2" cy="498.1" r="1.0"/><circle cx="557.6" cy="487.4" r="0.6"/><circle cx="597.7" cy="453.9" r="1.0"/><circle cx="548.5" cy="516.8" r="1.0"/><circle cx="431.7" cy="506.3" r="0.8"/><circle cx="586.9" cy="510.6" r="1.0"/><circle cx="402.9" cy="422.6" r="1.0"/><circle cx="495.1" cy="446.6" r="0.8"/><circle cx="414.2" cy="516.3" r="0.6"/><circle cx="509.3" cy="503.1" r="1.2"/><circle cx="415.6" cy="404.4" r="1.2"/><circle cx="404.0" cy="453.8" r="1.0"/><circle cx="607.5" cy="457.1" r="0.8"/><circle cx="437.5" cy="534.2" r="0.8"/><circle cx="479.8" cy="511.9" r="0.6"/><circle cx="510.3" cy="404.6" r="1.2"/><circle cx="612.3" cy="434.3" r="0.8"/><circle cx="445.8" cy="436.5" r="1.0"/><circle cx="523.8" cy="499.7" r="0.8"/><circle cx="553.3" cy="462.3" r="1.0"/><circle cx="602.3" cy="475.7" r="1.0"/><circle cx="553.5" cy="404.4" r="1.0"/><circle cx="615.3" cy="483.2" r="0.8"/><circle cx="608.3" cy="445.1" r="1.2"/><circle cx="505.2" cy="410.8" r="1.2"/><circle cx="558.8" cy="416.8" r="1.0"/><circle cx="425.7" cy="508.1" r="1.2"/><circle cx="413.8" cy="397.7" r="1.0"/><circle cx="542.9" cy="533.3" r="1.0"/><circle cx="513.1" cy="491.3" r="0.6"/><circle cx="420.5" cy="481.8" r="0.8"/><circle cx="413.0" cy="525.2" r="0.8"/><circle cx="487.2" cy="455.7" r="0.8"/><circle cx="491.4" cy="506.6" r="0.6"/><circle cx="580.6" cy="472.8" r="1.0"/><circle cx="518.6" cy="416.9" r="1.0"/><circle cx="581.1" cy="529.4" r="0.8"/><circle cx="603.0" cy="458.6" r="1.2"/><circle cx="469.2" cy="430.3" r="0.8"/><circle cx="602.3" cy="526.8" r="0.8"/><circle cx="600.1" cy="454.2" r="0.8"/><circle cx="521.5" cy="441.7" r="1.0"/><circle cx="524.4" cy="492.9" r="1.2"/><circle cx="497.8" cy="409.2" r="1.0"/><circle cx="591.9" cy="526.0" r="1.2"/><circle cx="412.5" cy="433.4" r="1.2"/><circle cx="508.8" cy="511.7" r="0.8"/><circle cx="589.1" cy="415.4" r="0.8"/><circle cx="599.9" cy="443.2" r="1.2"/><circle cx="404.6" cy="420.7" r="0.6"/><circle cx="403.9" cy="417.4" r="1.2"/><circle cx="470.5" cy="408.5" r="1.2"/><circle cx="507.5" cy="464.2" r="0.8"/><circle cx="521.9" cy="416.7" r="0.8"/><circle cx="595.5" cy="526.0" r="1.0"/><circle cx="405.0" cy="403.6" r="1.2"/><circle cx="459.4" cy="489.2" r="0.8"/><circle cx="418.7" cy="439.2" r="0.8"/><circle cx="616.6" cy="469.6" r="0.8"/><circle cx="580.0" cy="412.2" r="1.2"/><circle cx="454.7" cy="397.7" r="1.2"/><circle cx="608.6" cy="515.8" r="0.8"/><circle cx="519.5" cy="420.6" r="1.2"/><circle cx="466.3" cy="505.1" r="1.2"/><circle cx="413.9" cy="420.5" r="1.0"/><circle cx="560.4" cy="415.7" r="0.6"/><circle cx="471.5" cy="506.2" r="1.0"/><circle cx="451.3" cy="454.6" r="0.6"/><circle cx="566.5" cy="452.4" r="0.6"/><circle cx="415.5" cy="449.2" r="0.8"/><circle cx="411.5" cy="482.0" r="0.6"/><circle cx="485.7" cy="522.9" r="1.0"/><circle cx="490.7" cy="414.8" r="1.0"/><circle cx="520.2" cy="415.0" r="1.0"/><circle cx="525.3" cy="438.3" r="1.0"/><circle cx="408.7" cy="424.6" r="1.0"/><circle cx="417.3" cy="493.1" r="1.0"/><circle cx="611.1" cy="449.3" r="1.0"/><circle cx="604.3" cy="492.7" r="1.2"/><circle cx="602.6" cy="444.3" r="1.0"/><circle cx="552.5" cy="502.1" r="1.2"/><circle cx="442.5" cy="422.5" r="1.0"/><circle cx="409.7" cy="485.3" r="1.0"/><circle cx="613.1" cy="458.0" r="1.0"/><circle cx="605.9" cy="431.7" r="1.2"/><circle cx="559.2" cy="506.3" r="0.8"/><circle cx="601.6" cy="529.6" r="1.2"/><circle cx="418.1" cy="486.0" r="1.0"/><circle cx="608.3" cy="436.5" r="1.0"/><circle cx="414.2" cy="478.6" r="0.6"/><circle cx="565.2" cy="473.4" r="1.0"/><circle cx="421.3" cy="473.8" r="1.0"/><circle cx="487.0" cy="478.4" r="1.2"/><circle cx="603.6" cy="505.9" r="1.0"/><circle cx="414.9" cy="463.1" r="0.8"/><circle cx="548.8" cy="430.5" r="0.6"/><circle cx="416.1" cy="452.1" r="0.6"/><circle cx="611.5" cy="470.4" r="1.2"/><circle cx="559.3" cy="432.5" r="0.6"/><circle cx="475.1" cy="522.2" r="0.8"/><circle cx="427.8" cy="510.3" r="0.6"/><circle cx="412.9" cy="424.4" r="0.6"/><circle cx="454.5" cy="435.2" r="0.8"/><circle cx="421.9" cy="501.6" r="0.8"/><circle cx="421.7" cy="438.9" r="0.8"/><circle cx="469.4" cy="524.6" r="1.0"/><circle cx="508.7" cy="518.4" r="0.8"/><circle cx="612.3" cy="407.2" r="0.6"/><circle cx="553.9" cy="516.1" r="1.0"/><circle cx="520.0" cy="440.8" r="1.2"/><circle cx="464.8" cy="498.4" r="0.8"/><circle cx="485.2" cy="472.9" r="1.0"/><circle cx="470.7" cy="521.7" r="0.6"/><circle cx="527.7" cy="453.1" r="1.2"/><circle cx="436.3" cy="480.8" r="1.0"/><circle cx="607.0" cy="471.3" r="1.2"/><circle cx="599.6" cy="518.3" r="0.8"/><circle cx="460.8" cy="524.7" r="1.0"/><circle cx="505.6" cy="422.7" r="1.2"/><circle cx="461.3" cy="511.0" r="0.6"/><circle cx="605.0" cy="453.5" r="1.2"/><circle cx="449.9" cy="512.9" r="1.2"/><circle cx="537.2" cy="518.6" r="1.2"/><circle cx="610.4" cy="403.5" r="1.0"/><circle cx="591.7" cy="533.3" r="0.8"/><circle cx="547.2" cy="450.3" r="1.2"/><circle cx="510.0" cy="416.6" r="1.0"/><circle cx="512.8" cy="482.5" r="1.0"/><circle cx="608.9" cy="487.5" r="0.6"/><circle cx="608.2" cy="409.0" r="0.6"/><circle cx="591.1" cy="529.9" r="0.8"/><circle cx="467.5" cy="500.4" r="1.2"/><circle cx="593.3" cy="532.2" r="0.6"/><circle cx="503.4" cy="448.1" r="0.6"/><circle cx="423.5" cy="495.8" r="0.8"/><circle cx="418.4" cy="455.9" r="0.6"/><circle cx="529.9" cy="489.2" r="1.0"/><circle cx="586.5" cy="404.8" r="0.8"/><circle cx="517.2" cy="529.7" r="1.0"/><circle cx="514.4" cy="471.1" r="0.6"/><circle cx="420.7" cy="532.6" r="1.2"/><circle cx="464.9" cy="457.7" r="1.0"/><circle cx="421.2" cy="453.0" r="0.8"/><circle cx="602.9" cy="411.3" r="0.6"/><circle cx="519.4" cy="456.3" r="0.8"/><circle cx="571.2" cy="441.0" r="1.2"/><circle cx="416.1" cy="459.3" r="1.0"/><circle cx="601.6" cy="523.7" r="1.2"/><circle cx="524.3" cy="409.5" r="0.6"/><circle cx="505.4" cy="517.8" r="1.2"/><circle cx="517.4" cy="498.6" r="0.8"/><circle cx="459.0" cy="499.8" r="0.6"/><circle cx="519.4" cy="488.7" r="0.8"/><circle cx="416.0" cy="489.9" r="1.0"/><circle cx="558.6" cy="452.9" r="0.8"/><circle cx="526.1" cy="396.3" r="1.0"/><circle cx="419.9" cy="467.3" r="1.2"/><circle cx="517.5" cy="516.3" r="1.2"/><circle cx="470.5" cy="524.3" r="1.2"/><circle cx="468.1" cy="452.2" r="0.6"/><circle cx="409.3" cy="402.6" r="1.2"/><circle cx="508.6" cy="419.8" r="0.6"/><circle cx="558.4" cy="488.9" r="0.8"/><circle cx="608.2" cy="439.2" r="1.0"/><circle cx="505.9" cy="515.1" r="0.8"/><circle cx="424.9" cy="469.9" r="0.8"/><circle cx="605.1" cy="498.2" r="1.0"/><circle cx="420.8" cy="513.8" r="0.8"/><circle cx="510.3" cy="430.7" r="0.8"/><circle cx="573.0" cy="531.7" r="0.8"/><circle cx="602.6" cy="459.4" r="1.2"/><circle cx="517.0" cy="424.7" r="1.0"/><circle cx="546.6" cy="452.6" r="0.6"/><circle cx="472.4" cy="455.9" r="1.2"/><circle cx="598.8" cy="520.1" r="0.8"/><circle cx="494.8" cy="431.1" r="1.0"/><circle cx="415.6" cy="457.4" r="0.6"/><circle cx="413.9" cy="437.5" r="1.0"/><circle cx="473.1" cy="448.7" r="0.6"/><circle cx="607.5" cy="486.9" r="0.6"/><circle cx="613.2" cy="409.4" r="0.8"/><circle cx="598.4" cy="484.2" r="1.2"/><circle cx="412.7" cy="485.9" r="1.2"/><circle cx="521.3" cy="485.0" r="1.0"/><circle cx="478.6" cy="479.7" r="0.8"/><circle cx="425.8" cy="483.0" r="1.0"/><circle cx="603.4" cy="532.4" r="1.0"/><circle cx="460.4" cy="533.2" r="1.0"/><circle cx="506.3" cy="406.3" r="1.0"/><circle cx="427.2" cy="466.6" r="1.0"/><circle cx="613.7" cy="422.9" r="0.6"/><circle cx="428.1" cy="527.1" r="0.8"/><circle cx="476.3" cy="449.3" r="1.0"/><circle cx="554.6" cy="532.3" r="1.2"/><circle cx="464.7" cy="476.8" r="1.0"/><circle cx="480.7" cy="520.6" r="1.2"/><circle cx="607.2" cy="496.1" r="0.8"/><circle cx="480.6" cy="482.4" r="0.6"/><circle cx="613.3" cy="466.3" r="1.2"/><circle cx="509.8" cy="401.9" r="0.6"/><circle cx="603.7" cy="425.7" r="1.0"/><circle cx="411.1" cy="407.5" r="0.8"/><circle cx="599.2" cy="507.6" r="1.2"/><circle cx="547.3" cy="424.2" r="1.0"/><circle cx="608.1" cy="460.1" r="1.2"/><circle cx="422.9" cy="447.9" r="1.0"/><circle cx="422.9" cy="517.3" r="1.0"/><circle cx="465.2" cy="483.9" r="1.2"/><circle cx="509.5" cy="450.3" r="0.8"/><circle cx="512.0" cy="453.6" r="1.2"/><circle cx="458.8" cy="506.9" r="1.2"/><circle cx="507.4" cy="505.7" r="1.2"/><circle cx="511.6" cy="443.9" r="0.8"/><circle cx="611.0" cy="445.1" r="0.6"/><circle cx="411.2" cy="441.0" r="0.8"/><circle cx="417.2" cy="434.0" r="1.0"/><circle cx="623.3" cy="420.1" r="1.0"/><circle cx="465.7" cy="520.4" r="1.2"/><circle cx="417.2" cy="518.0" r="0.6"/><circle cx="602.1" cy="497.3" r="1.2"/><circle cx="423.3" cy="417.2" r="1.0"/><circle cx="484.0" cy="462.8" r="0.6"/><circle cx="416.6" cy="460.1" r="0.6"/><circle cx="529.7" cy="447.4" r="0.8"/><circle cx="534.7" cy="438.7" r="1.0"/><circle cx="601.9" cy="453.1" r="0.6"/><circle cx="534.3" cy="460.5" r="0.8"/><circle cx="610.0" cy="446.2" r="1.0"/><circle cx="409.4" cy="424.3" r="1.2"/><circle cx="422.7" cy="506.1" r="1.0"/><circle cx="454.6" cy="498.2" r="1.0"/><circle cx="596.4" cy="519.6" r="0.8"/><circle cx="427.2" cy="474.6" r="0.6"/><circle cx="519.2" cy="466.1" r="0.8"/><circle cx="528.5" cy="498.4" r="1.2"/><circle cx="426.7" cy="429.3" r="0.6"/><circle cx="408.3" cy="397.8" r="0.8"/><circle cx="421.3" cy="449.2" r="0.8"/><circle cx="595.5" cy="489.3" r="0.6"/><circle cx="610.0" cy="424.5" r="1.2"/><circle cx="518.3" cy="454.1" r="0.8"/><circle cx="557.8" cy="443.7" r="1.0"/><circle cx="560.1" cy="475.2" r="0.6"/><circle cx="601.8" cy="447.2" r="1.0"/><circle cx="571.1" cy="427.7" r="0.6"/><circle cx="417.2" cy="452.5" r="1.2"/><circle cx="613.0" cy="401.7" r="0.8"/><circle cx="557.6" cy="484.9" r="1.2"/><circle cx="508.7" cy="479.8" r="0.6"/><circle cx="468.5" cy="479.1" r="0.8"/><circle cx="588.6" cy="467.4" r="0.6"/><circle cx="533.9" cy="447.5" r="1.0"/><circle cx="572.9" cy="396.1" r="1.2"/><circle cx="530.3" cy="413.8" r="0.8"/><circle cx="478.8" cy="485.1" r="0.6"/><circle cx="506.5" cy="442.7" r="1.2"/><circle cx="422.6" cy="501.1" r="0.6"/><circle cx="509.3" cy="456.8" r="0.6"/><circle cx="604.4" cy="513.7" r="1.2"/><circle cx="421.4" cy="504.4" r="0.8"/><circle cx="404.4" cy="457.1" r="0.6"/><circle cx="598.7" cy="484.8" r="1.0"/><circle cx="409.1" cy="428.9" r="1.0"/><circle cx="424.8" cy="494.5" r="0.6"/><circle cx="559.0" cy="468.0" r="0.8"/><circle cx="515.6" cy="434.5" r="0.8"/><circle cx="405.2" cy="417.1" r="0.8"/><circle cx="569.1" cy="458.1" r="0.8"/><circle cx="423.3" cy="443.2" r="1.2"/><circle cx="584.5" cy="457.9" r="0.8"/><circle cx="412.8" cy="457.4" r="0.8"/><circle cx="608.2" cy="467.3" r="1.0"/><circle cx="420.3" cy="479.1" r="0.6"/><circle cx="611.7" cy="445.1" r="0.6"/><circle cx="507.1" cy="421.5" r="1.0"/><circle cx="478.8" cy="419.4" r="0.8"/><circle cx="613.6" cy="493.4" r="1.2"/><circle cx="417.2" cy="526.9" r="1.0"/><circle cx="426.1" cy="474.6" r="0.8"/><circle cx="518.2" cy="534.0" r="1.2"/><circle cx="423.1" cy="517.6" r="1.0"/><circle cx="607.4" cy="492.4" r="0.6"/><circle cx="478.2" cy="466.5" r="1.2"/><circle cx="502.9" cy="447.8" r="0.8"/><circle cx="466.4" cy="454.2" r="1.0"/><circle cx="409.5" cy="400.2" r="1.0"/><circle cx="413.3" cy="397.8" r="1.0"/><circle cx="573.7" cy="407.4" r="1.2"/><circle cx="582.4" cy="405.7" r="0.6"/><circle cx="507.8" cy="508.3" r="0.8"/><circle cx="597.8" cy="495.8" r="0.8"/><circle cx="467.0" cy="496.2" r="1.2"/><circle cx="468.3" cy="531.7" r="0.6"/><circle cx="401.9" cy="431.0" r="1.0"/><circle cx="413.3" cy="513.9" r="1.2"/><circle cx="424.8" cy="525.7" r="0.6"/><circle cx="624.0" cy="424.7" r="1.0"/><circle cx="612.7" cy="398.2" r="0.6"/><circle cx="602.6" cy="395.0" r="0.6"/><circle cx="413.9" cy="481.4" r="1.2"/><circle cx="514.1" cy="515.9" r="0.8"/><circle cx="503.2" cy="505.9" r="1.2"/><circle cx="517.7" cy="489.9" r="0.6"/><circle cx="425.7" cy="511.6" r="1.0"/><circle cx="474.8" cy="500.4" r="0.6"/><circle cx="509.1" cy="531.4" r="1.0"/><circle cx="593.0" cy="525.2" r="1.0"/><circle cx="600.8" cy="522.1" r="0.8"/><circle cx="428.5" cy="473.9" r="0.8"/><circle cx="607.7" cy="412.8" r="0.8"/><circle cx="607.6" cy="462.5" r="1.0"/><circle cx="563.9" cy="507.3" r="0.8"/><circle cx="414.3" cy="409.5" r="1.2"/><circle cx="572.1" cy="436.8" r="0.8"/><circle cx="419.3" cy="470.1" r="1.0"/><circle cx="606.9" cy="488.2" r="1.2"/><circle cx="623.0" cy="441.0" r="0.8"/><circle cx="453.7" cy="482.4" r="0.8"/><circle cx="417.4" cy="474.5" r="0.6"/><circle cx="405.5" cy="430.7" r="1.2"/><circle cx="470.3" cy="417.3" r="1.2"/><circle cx="566.4" cy="429.9" r="0.8"/><circle cx="414.3" cy="416.0" r="1.0"/><circle cx="590.5" cy="513.0" r="0.8"/><circle cx="604.4" cy="505.7" r="0.8"/><circle cx="561.3" cy="512.0" r="0.8"/><circle cx="545.5" cy="513.0" r="0.8"/><circle cx="434.2" cy="451.1" r="1.2"/><circle cx="507.8" cy="505.0" r="1.2"/><circle cx="409.0" cy="408.4" r="0.6"/><circle cx="502.2" cy="505.3" r="0.6"/><circle cx="602.2" cy="498.0" r="1.0"/><circle cx="428.1" cy="486.2" r="1.2"/><circle cx="607.5" cy="463.9" r="1.0"/><circle cx="606.1" cy="499.1" r="1.2"/><circle cx="475.4" cy="530.0" r="0.8"/><circle cx="429.9" cy="517.0" r="1.2"/><circle cx="416.9" cy="420.8" r="1.0"/><circle cx="459.0" cy="500.7" r="0.8"/><circle cx="419.1" cy="504.5" r="0.6"/><circle cx="467.4" cy="532.8" r="0.8"/><circle cx="470.8" cy="439.9" r="1.0"/><circle cx="412.1" cy="456.3" r="1.0"/><circle cx="561.8" cy="462.1" r="0.6"/><circle cx="399.9" cy="425.1" r="0.8"/><circle cx="614.4" cy="428.5" r="0.8"/><circle cx="567.1" cy="460.9" r="1.0"/><circle cx="405.7" cy="426.3" r="1.0"/><circle cx="462.7" cy="460.8" r="1.0"/><circle cx="418.3" cy="399.8" r="0.8"/><circle cx="419.8" cy="474.3" r="1.0"/><circle cx="431.2" cy="523.5" r="1.2"/><circle cx="599.4" cy="525.9" r="0.6"/><circle cx="401.0" cy="396.6" r="1.2"/><circle cx="410.5" cy="419.6" r="1.2"/><circle cx="550.0" cy="455.4" r="0.6"/><circle cx="606.4" cy="496.5" r="0.8"/><circle cx="583.4" cy="469.1" r="0.8"/><circle cx="610.3" cy="458.3" r="0.8"/><circle cx="418.1" cy="496.3" r="0.8"/><circle cx="418.0" cy="516.1" r="1.0"/><circle cx="408.6" cy="404.7" r="0.6"/><circle cx="613.1" cy="467.2" r="1.2"/><circle cx="409.4" cy="405.2" r="1.0"/><circle cx="467.9" cy="468.0" r="0.6"/><circle cx="430.2" cy="528.8" r="1.0"/><circle cx="615.7" cy="452.0" r="1.2"/><circle cx="607.8" cy="490.5" r="0.6"/><circle cx="596.0" cy="528.6" r="0.8"/><circle cx="409.9" cy="416.7" r="0.6"/><circle cx="603.8" cy="441.0" r="0.6"/><circle cx="565.9" cy="439.4" r="1.0"/><circle cx="580.7" cy="510.4" r="0.6"/><circle cx="502.7" cy="492.3" r="1.2"/><circle cx="632.5" cy="399.7" r="1.0"/><circle cx="602.7" cy="493.2" r="1.0"/><circle cx="398.1" cy="429.7" r="0.6"/><circle cx="455.2" cy="409.0" r="1.2"/><circle cx="608.9" cy="472.4" r="1.0"/><circle cx="562.3" cy="414.7" r="1.0"/><circle cx="529.2" cy="493.1" r="1.2"/><circle cx="466.4" cy="510.5" r="1.0"/><circle cx="515.7" cy="511.6" r="1.2"/><circle cx="416.8" cy="448.8" r="1.2"/><circle cx="523.1" cy="525.5" r="0.8"/><circle cx="525.9" cy="519.0" r="1.0"/><circle cx="562.6" cy="397.7" r="0.6"/><circle cx="614.8" cy="510.4" r="1.2"/><circle cx="616.8" cy="464.1" r="0.6"/><circle cx="422.9" cy="485.9" r="0.6"/><circle cx="524.6" cy="479.2" r="0.6"/><circle cx="532.8" cy="414.0" r="0.6"/><circle cx="599.2" cy="480.6" r="1.0"/><circle cx="613.7" cy="444.9" r="1.0"/><circle cx="596.7" cy="495.3" r="1.2"/><circle cx="472.6" cy="490.4" r="0.8"/><circle cx="411.8" cy="437.1" r="0.8"/><circle cx="564.9" cy="412.4" r="0.8"/><circle cx="403.6" cy="401.4" r="1.2"/><circle cx="464.7" cy="401.9" r="1.2"/><circle cx="420.8" cy="458.9" r="0.6"/><circle cx="592.8" cy="520.1" r="1.2"/><circle cx="441.8" cy="431.8" r="1.2"/><circle cx="422.3" cy="455.6" r="1.2"/><circle cx="614.6" cy="416.5" r="1.2"/><circle cx="462.7" cy="459.0" r="1.0"/><circle cx="547.0" cy="501.6" r="1.0"/><circle cx="419.8" cy="508.7" r="0.8"/><circle cx="434.9" cy="477.5" r="1.2"/><circle cx="613.4" cy="433.7" r="1.2"/><circle cx="611.3" cy="460.9" r="0.8"/><circle cx="521.4" cy="477.6" r="1.2"/><circle cx="601.8" cy="503.2" r="0.6"/><circle cx="568.9" cy="421.6" r="0.8"/><circle cx="522.8" cy="454.3" r="1.2"/><circle cx="478.3" cy="501.8" r="0.6"/><circle cx="496.5" cy="452.2" r="1.0"/><circle cx="609.5" cy="456.8" r="1.0"/><circle cx="567.6" cy="483.4" r="0.6"/><circle cx="410.9" cy="407.9" r="0.6"/><circle cx="508.4" cy="508.3" r="1.2"/><circle cx="601.2" cy="469.5" r="0.6"/><circle cx="420.6" cy="440.1" r="0.6"/><circle cx="561.0" cy="533.7" r="0.8"/><circle cx="623.7" cy="433.3" r="1.2"/><circle cx="501.2" cy="475.3" r="0.8"/><circle cx="469.5" cy="485.2" r="1.0"/><circle cx="513.0" cy="501.0" r="0.8"/><circle cx="464.0" cy="406.8" r="1.0"/><circle cx="426.8" cy="421.5" r="0.8"/><circle cx="422.5" cy="490.5" r="1.0"/><circle cx="509.7" cy="407.2" r="1.2"/><circle cx="424.5" cy="523.9" r="1.0"/><circle cx="460.8" cy="398.0" r="0.8"/><circle cx="475.2" cy="407.9" r="1.2"/><circle cx="557.9" cy="456.0" r="1.2"/><circle cx="564.9" cy="525.5" r="0.6"/><circle cx="601.0" cy="482.2" r="0.6"/><circle cx="520.9" cy="434.9" r="1.0"/><circle cx="600.8" cy="498.3" r="1.2"/><circle cx="599.7" cy="504.7" r="1.2"/><circle cx="506.2" cy="493.5" r="0.6"/><circle cx="498.5" cy="505.7" r="0.6"/><circle cx="589.9" cy="525.0" r="1.0"/><circle cx="546.5" cy="452.1" r="1.2"/><circle cx="474.4" cy="511.3" r="1.2"/><circle cx="511.0" cy="452.8" r="1.2"/><circle cx="404.5" cy="478.0" r="1.2"/><circle cx="614.9" cy="398.0" r="0.6"/><circle cx="519.7" cy="513.0" r="1.2"/><circle cx="422.2" cy="499.2" r="0.8"/><circle cx="548.9" cy="473.6" r="1.2"/><circle cx="404.3" cy="412.0" r="1.2"/><circle cx="603.0" cy="498.8" r="1.0"/><circle cx="618.7" cy="482.8" r="1.2"/><circle cx="415.5" cy="450.5" r="0.8"/><circle cx="424.1" cy="484.8" r="1.2"/><circle cx="596.4" cy="451.0" r="1.2"/><circle cx="417.7" cy="396.8" r="1.2"/><circle cx="458.4" cy="453.9" r="0.6"/><circle cx="559.8" cy="455.1" r="1.0"/><circle cx="462.9" cy="459.8" r="1.0"/><circle cx="538.0" cy="500.0" r="1.2"/><circle cx="472.7" cy="491.8" r="0.8"/><circle cx="416.6" cy="454.5" r="1.2"/><circle cx="518.5" cy="452.2" r="0.8"/><circle cx="454.7" cy="460.6" r="0.8"/><circle cx="508.8" cy="414.0" r="0.8"/><circle cx="597.7" cy="524.9" r="0.6"/><circle cx="597.7" cy="492.5" r="1.0"/><circle cx="482.5" cy="426.3" r="1.2"/><circle cx="528.9" cy="514.2" r="1.0"/><circle cx="417.8" cy="401.6" r="1.0"/><circle cx="513.9" cy="432.6" r="1.2"/><circle cx="531.7" cy="444.0" r="0.6"/><circle cx="436.1" cy="497.5" r="0.8"/><circle cx="508.7" cy="473.4" r="1.0"/><circle cx="464.9" cy="410.1" r="1.0"/><circle cx="549.2" cy="430.7" r="0.8"/><circle cx="521.3" cy="433.5" r="0.6"/><circle cx="579.2" cy="433.8" r="1.2"/><circle cx="415.7" cy="412.1" r="0.6"/><circle cx="506.9" cy="434.2" r="0.6"/><circle cx="604.7" cy="456.1" r="1.0"/><circle cx="483.5" cy="426.0" r="1.0"/><circle cx="556.3" cy="511.1" r="0.8"/><circle cx="557.8" cy="406.7" r="1.0"/><circle cx="561.9" cy="452.5" r="0.8"/><circle cx="413.8" cy="433.6" r="0.6"/><circle cx="510.0" cy="402.4" r="0.8"/><circle cx="514.8" cy="419.3" r="1.0"/><circle cx="497.2" cy="526.5" r="1.2"/><circle cx="424.7" cy="498.0" r="1.2"/><circle cx="509.7" cy="523.3" r="1.0"/><circle cx="520.1" cy="489.3" r="1.0"/><circle cx="473.0" cy="492.1" r="0.8"/><circle cx="588.2" cy="516.3" r="0.8"/><circle cx="404.9" cy="409.2" r="1.0"/><circle cx="527.4" cy="462.2" r="0.6"/><circle cx="573.7" cy="418.7" r="0.8"/><circle cx="555.6" cy="453.8" r="0.6"/><circle cx="476.2" cy="422.9" r="1.0"/><circle cx="542.9" cy="467.3" r="0.8"/><circle cx="522.2" cy="415.2" r="1.0"/><circle cx="579.8" cy="412.4" r="1.2"/><circle cx="602.0" cy="534.7" r="1.0"/><circle cx="513.8" cy="406.5" r="1.0"/><circle cx="408.8" cy="415.0" r="0.6"/><circle cx="480.4" cy="499.8" r="1.0"/><circle cx="410.4" cy="459.9" r="1.2"/><circle cx="420.7" cy="481.6" r="1.0"/><circle cx="534.7" cy="527.2" r="0.6"/><circle cx="543.5" cy="471.8" r="1.0"/><circle cx="516.7" cy="419.3" r="1.0"/><circle cx="504.9" cy="422.3" r="1.2"/><circle cx="533.6" cy="468.1" r="1.2"/><circle cx="607.5" cy="411.7" r="0.6"/><circle cx="535.9" cy="492.6" r="1.2"/><circle cx="558.2" cy="515.9" r="0.8"/><circle cx="603.9" cy="460.1" r="1.2"/><circle cx="490.9" cy="442.6" r="0.6"/><circle cx="457.7" cy="522.2" r="0.6"/><circle cx="594.1" cy="456.7" r="0.8"/><circle cx="422.5" cy="513.4" r="1.0"/><circle cx="471.8" cy="497.4" r="1.2"/><circle cx="531.9" cy="522.9" r="0.8"/><circle cx="613.8" cy="458.9" r="0.6"/><circle cx="602.1" cy="425.6" r="0.8"/><circle cx="443.1" cy="503.1" r="0.8"/><circle cx="505.5" cy="444.1" r="0.6"/><circle cx="606.5" cy="401.6" r="0.6"/><circle cx="583.8" cy="520.8" r="0.6"/><circle cx="466.3" cy="436.0" r="0.8"/><circle cx="413.8" cy="430.7" r="1.2"/><circle cx="570.7" cy="491.4" r="1.0"/><circle cx="511.1" cy="400.1" r="0.6"/><circle cx="523.5" cy="405.8" r="0.6"/><circle cx="509.0" cy="500.7" r="0.8"/><circle cx="610.3" cy="441.7" r="0.6"/><circle cx="552.4" cy="395.7" r="1.2"/><circle cx="416.4" cy="414.7" r="0.6"/><circle cx="398.1" cy="472.2" r="0.6"/><circle cx="428.0" cy="516.4" r="0.8"/><circle cx="604.2" cy="515.0" r="0.6"/><circle cx="490.5" cy="529.0" r="1.0"/><circle cx="510.6" cy="439.9" r="1.0"/><circle cx="419.8" cy="499.8" r="0.6"/><circle cx="491.7" cy="465.2" r="1.0"/><circle cx="450.5" cy="515.6" r="0.6"/><circle cx="541.3" cy="440.7" r="0.8"/><circle cx="516.9" cy="515.8" r="0.8"/><circle cx="422.0" cy="458.2" r="0.8"/><circle cx="406.8" cy="419.0" r="1.2"/><circle cx="593.9" cy="510.1" r="1.2"/><circle cx="550.0" cy="454.3" r="0.8"/><circle cx="419.5" cy="473.9" r="0.8"/><circle cx="537.8" cy="500.0" r="0.6"/><circle cx="418.5" cy="522.2" r="0.6"/><circle cx="567.7" cy="523.7" r="1.2"/><circle cx="614.8" cy="432.1" r="0.6"/><circle cx="453.3" cy="499.8" r="0.8"/><circle cx="611.7" cy="414.7" r="0.8"/><circle cx="512.4" cy="414.9" r="1.0"/><circle cx="473.8" cy="516.2" r="1.2"/><circle cx="554.2" cy="415.9" r="0.8"/><circle cx="518.3" cy="399.7" r="0.8"/><circle cx="427.1" cy="512.5" r="0.8"/><circle cx="460.3" cy="454.0" r="0.6"/><circle cx="571.4" cy="489.3" r="1.2"/><circle cx="507.3" cy="498.3" r="0.8"/><circle cx="424.4" cy="520.2" r="0.8"/><circle cx="609.0" cy="436.6" r="0.8"/><circle cx="560.2" cy="479.9" r="0.8"/><circle cx="412.9" cy="448.9" r="1.2"/><circle cx="603.4" cy="445.8" r="1.2"/><circle cx="508.3" cy="400.8" r="1.2"/><circle cx="576.5" cy="448.5" r="0.8"/><circle cx="550.8" cy="524.2" r="0.6"/><circle cx="509.8" cy="499.2" r="1.2"/><circle cx="449.8" cy="524.0" r="0.8"/><circle cx="494.4" cy="497.9" r="1.2"/><circle cx="464.3" cy="424.6" r="1.0"/><circle cx="532.9" cy="500.2" r="1.0"/><circle cx="489.1" cy="439.5" r="1.0"/><circle cx="417.1" cy="399.6" r="1.2"/><circle cx="509.7" cy="406.4" r="0.8"/><circle cx="570.2" cy="413.2" r="0.6"/><circle cx="467.1" cy="444.0" r="1.0"/><circle cx="422.4" cy="493.0" r="1.2"/><circle cx="456.1" cy="506.6" r="1.0"/><circle cx="528.5" cy="418.8" r="0.8"/><circle cx="518.9" cy="439.1" r="1.2"/><circle cx="609.5" cy="405.7" r="0.6"/><circle cx="591.3" cy="504.3" r="0.8"/><circle cx="626.9" cy="417.8" r="1.2"/><circle cx="479.8" cy="498.5" r="0.8"/><circle cx="504.6" cy="523.3" r="0.8"/><circle cx="476.4" cy="454.8" r="0.6"/><circle cx="551.4" cy="482.3" r="0.8"/><circle cx="405.9" cy="396.9" r="1.0"/><circle cx="526.8" cy="532.9" r="1.0"/><circle cx="507.8" cy="456.9" r="1.0"/><circle cx="408.5" cy="411.7" r="1.0"/><circle cx="410.5" cy="442.2" r="1.0"/><circle cx="522.8" cy="429.0" r="0.6"/><circle cx="423.9" cy="522.4" r="1.0"/><circle cx="602.2" cy="463.1" r="1.2"/><circle cx="623.2" cy="422.9" r="0.8"/><circle cx="531.2" cy="464.4" r="0.6"/><circle cx="563.3" cy="402.7" r="0.8"/><circle cx="504.9" cy="405.9" r="0.6"/><circle cx="611.5" cy="488.9" r="1.2"/><circle cx="519.4" cy="399.7" r="1.0"/><circle cx="562.1" cy="447.5" r="1.2"/><circle cx="429.3" cy="486.7" r="1.0"/><circle cx="613.0" cy="506.3" r="0.8"/><circle cx="601.7" cy="462.5" r="0.6"/><circle cx="465.6" cy="453.4" r="0.8"/><circle cx="458.7" cy="477.6" r="1.2"/><circle cx="562.1" cy="464.5" r="0.8"/><circle cx="414.3" cy="504.7" r="0.8"/><circle cx="525.6" cy="458.5" r="1.2"/><circle cx="414.0" cy="455.3" r="0.8"/><circle cx="605.0" cy="460.9" r="1.2"/><circle cx="600.0" cy="452.1" r="0.8"/><circle cx="497.7" cy="527.0" r="0.6"/><circle cx="554.1" cy="412.3" r="0.6"/><circle cx="591.9" cy="481.8" r="0.6"/><circle cx="411.4" cy="426.9" r="0.6"/><circle cx="599.7" cy="498.1" r="1.0"/><circle cx="600.3" cy="483.1" r="1.0"/><circle cx="603.8" cy="483.1" r="1.2"/><circle cx="564.8" cy="452.9" r="0.6"/><circle cx="597.0" cy="477.4" r="1.2"/><circle cx="459.3" cy="427.3" r="1.0"/><circle cx="417.2" cy="415.4" r="0.8"/><circle cx="544.3" cy="514.5" r="0.8"/><circle cx="608.2" cy="465.0" r="0.8"/><circle cx="500.1" cy="415.4" r="1.0"/><circle cx="612.0" cy="524.6" r="1.2"/><circle cx="522.3" cy="425.9" r="1.2"/><circle cx="519.5" cy="449.3" r="1.2"/><circle cx="402.5" cy="439.5" r="0.6"/><circle cx="420.0" cy="509.9" r="1.0"/><circle cx="417.7" cy="461.5" r="0.8"/><circle cx="504.6" cy="401.6" r="0.8"/><circle cx="608.5" cy="477.1" r="1.2"/><circle cx="551.0" cy="507.4" r="0.6"/><circle cx="545.0" cy="454.8" r="0.6"/><circle cx="416.3" cy="419.5" r="1.2"/><circle cx="507.2" cy="417.1" r="0.8"/><circle cx="504.9" cy="442.3" r="1.2"/><circle cx="610.0" cy="462.2" r="1.2"/><circle cx="605.6" cy="508.3" r="0.6"/><circle cx="546.8" cy="512.9" r="0.6"/><circle cx="504.5" cy="512.0" r="0.8"/><circle cx="507.7" cy="424.8" r="0.8"/><circle cx="410.3" cy="481.6" r="0.8"/><circle cx="468.4" cy="492.4" r="0.6"/><circle cx="412.6" cy="462.4" r="1.2"/><circle cx="511.8" cy="470.3" r="0.8"/><circle cx="512.1" cy="490.8" r="0.8"/><circle cx="464.8" cy="423.5" r="0.8"/><circle cx="600.7" cy="454.6" r="0.6"/><circle cx="554.9" cy="489.5" r="0.6"/><circle cx="458.3" cy="490.2" r="0.6"/><circle cx="450.8" cy="534.1" r="0.6"/><circle cx="503.2" cy="511.6" r="0.8"/><circle cx="598.4" cy="495.7" r="1.0"/><circle cx="463.6" cy="448.9" r="1.2"/><circle cx="600.7" cy="495.0" r="0.8"/><circle cx="482.5" cy="424.2" r="0.6"/><circle cx="511.5" cy="465.2" r="1.0"/><circle cx="609.8" cy="400.2" r="1.2"/><circle cx="450.8" cy="434.7" r="0.8"/><circle cx="607.9" cy="395.9" r="1.0"/><circle cx="564.1" cy="496.4" r="0.6"/><circle cx="568.9" cy="408.6" r="0.8"/><circle cx="605.8" cy="489.6" r="0.6"/><circle cx="417.5" cy="512.7" r="1.0"/><circle cx="406.0" cy="476.1" r="1.0"/><circle cx="419.9" cy="454.1" r="0.8"/><circle cx="413.4" cy="503.1" r="0.8"/><circle cx="617.6" cy="398.5" r="1.0"/><circle cx="575.9" cy="438.2" r="0.6"/><circle cx="421.0" cy="509.8" r="0.6"/><circle cx="626.2" cy="445.8" r="1.2"/><circle cx="408.6" cy="455.7" r="1.2"/><circle cx="465.5" cy="455.1" r="0.6"/><circle cx="552.9" cy="413.4" r="0.8"/><circle cx="614.8" cy="407.6" r="1.0"/><circle cx="586.1" cy="526.8" r="0.8"/><circle cx="575.6" cy="531.1" r="0.6"/><circle cx="513.6" cy="533.3" r="0.6"/><circle cx="569.7" cy="439.7" r="0.8"/><circle cx="494.3" cy="503.7" r="1.2"/><circle cx="481.5" cy="429.6" r="1.0"/><circle cx="427.6" cy="509.2" r="0.8"/><circle cx="493.2" cy="455.8" r="0.6"/><circle cx="454.0" cy="527.0" r="0.8"/><circle cx="615.8" cy="425.4" r="0.6"/><circle cx="425.4" cy="479.4" r="0.6"/><circle cx="562.1" cy="451.6" r="1.0"/><circle cx="609.2" cy="465.7" r="0.6"/><circle cx="493.2" cy="492.8" r="0.8"/><circle cx="612.8" cy="486.9" r="0.6"/><circle cx="574.2" cy="406.0" r="0.8"/><circle cx="408.1" cy="413.8" r="1.0"/><circle cx="518.1" cy="477.1" r="1.0"/><circle cx="599.2" cy="519.4" r="0.6"/><circle cx="510.0" cy="472.9" r="0.6"/><circle cx="427.3" cy="513.2" r="0.8"/><circle cx="415.8" cy="446.8" r="0.8"/><circle cx="412.5" cy="456.0" r="1.2"/><circle cx="510.4" cy="429.4" r="0.6"/><circle cx="459.5" cy="479.6" r="1.2"/><circle cx="517.5" cy="420.6" r="1.2"/><circle cx="430.2" cy="527.0" r="0.8"/><circle cx="421.1" cy="440.4" r="1.0"/><circle cx="603.1" cy="490.4" r="1.0"/><circle cx="516.3" cy="509.5" r="1.0"/><circle cx="499.4" cy="502.2" r="1.0"/><circle cx="574.7" cy="457.8" r="1.0"/><circle cx="452.9" cy="410.6" r="0.8"/><circle cx="578.5" cy="441.9" r="1.2"/><circle cx="602.7" cy="432.7" r="0.6"/><circle cx="468.6" cy="514.2" r="0.8"/><circle cx="508.3" cy="414.0" r="0.6"/><circle cx="614.8" cy="404.8" r="1.2"/><circle cx="543.7" cy="455.6" r="0.8"/><circle cx="502.3" cy="480.5" r="0.6"/><circle cx="498.8" cy="499.3" r="0.6"/><circle cx="546.1" cy="447.9" r="1.2"/><circle cx="510.5" cy="399.2" r="1.2"/><circle cx="406.6" cy="408.2" r="0.8"/><circle cx="556.9" cy="527.8" r="1.0"/><circle cx="399.5" cy="398.0" r="0.6"/><circle cx="449.4" cy="444.8" r="0.6"/><circle cx="543.3" cy="437.6" r="0.6"/><circle cx="426.3" cy="508.9" r="1.2"/><circle cx="474.6" cy="441.1" r="0.6"/><circle cx="571.6" cy="480.3" r="0.8"/><circle cx="448.9" cy="505.7" r="0.8"/><circle cx="512.4" cy="407.0" r="0.6"/><circle cx="475.8" cy="434.1" r="0.8"/><circle cx="418.2" cy="522.8" r="0.6"/><circle cx="549.9" cy="460.5" r="1.2"/><circle cx="588.7" cy="528.9" r="1.0"/><circle cx="398.3" cy="426.5" r="0.8"/><circle cx="428.7" cy="472.0" r="0.8"/><circle cx="505.4" cy="444.9" r="0.6"/><circle cx="577.2" cy="488.5" r="0.6"/><circle cx="603.9" cy="459.7" r="0.6"/><circle cx="581.0" cy="500.5" r="1.0"/><circle cx="459.2" cy="497.3" r="1.2"/><circle cx="602.0" cy="439.1" r="0.6"/><circle cx="516.5" cy="430.4" r="0.6"/><circle cx="413.4" cy="419.1" r="0.8"/><circle cx="536.0" cy="480.2" r="1.2"/><circle cx="612.5" cy="428.2" r="1.0"/><circle cx="603.4" cy="502.4" r="1.0"/><circle cx="466.0" cy="469.4" r="1.2"/><circle cx="573.0" cy="501.4" r="0.8"/><circle cx="600.7" cy="496.1" r="0.6"/><circle cx="510.1" cy="530.2" r="1.0"/><circle cx="618.3" cy="485.4" r="0.8"/><circle cx="521.7" cy="396.0" r="0.8"/><circle cx="516.2" cy="401.2" r="1.2"/><circle cx="425.4" cy="471.2" r="0.6"/><circle cx="513.9" cy="505.8" r="0.8"/><circle cx="462.2" cy="399.7" r="0.6"/><circle cx="417.8" cy="408.2" r="0.8"/><circle cx="606.6" cy="406.6" r="1.0"/><circle cx="580.3" cy="449.8" r="1.2"/><circle cx="594.2" cy="464.5" r="1.2"/><circle cx="609.9" cy="489.3" r="0.8"/><circle cx="459.0" cy="481.6" r="0.8"/><circle cx="621.8" cy="401.4" r="0.8"/><circle cx="416.0" cy="516.3" r="1.0"/><circle cx="418.5" cy="494.9" r="0.8"/><circle cx="424.7" cy="528.8" r="1.0"/><circle cx="555.6" cy="418.4" r="1.0"/><circle cx="615.7" cy="431.4" r="1.0"/><circle cx="420.0" cy="431.6" r="0.8"/><circle cx="495.6" cy="407.3" r="0.8"/><circle cx="599.3" cy="531.0" r="1.2"/><circle cx="422.2" cy="529.3" r="1.0"/><circle cx="431.0" cy="523.2" r="0.6"/><circle cx="531.5" cy="416.7" r="0.8"/><circle cx="414.1" cy="474.2" r="0.6"/><circle cx="505.2" cy="472.5" r="1.2"/><circle cx="534.3" cy="477.2" r="0.6"/><circle cx="462.1" cy="428.0" r="0.6"/><circle cx="519.7" cy="420.3" r="1.0"/><circle cx="415.2" cy="444.6" r="0.8"/><circle cx="579.2" cy="451.7" r="0.6"/><circle cx="434.2" cy="527.6" r="0.6"/><circle cx="396.6" cy="436.9" r="0.6"/><circle cx="565.0" cy="443.0" r="1.0"/><circle cx="507.4" cy="478.9" r="1.2"/><circle cx="528.3" cy="435.4" r="0.6"/><circle cx="418.1" cy="466.4" r="1.0"/><circle cx="610.3" cy="413.2" r="1.2"/><circle cx="603.8" cy="443.4" r="1.2"/><circle cx="605.3" cy="489.2" r="0.8"/><circle cx="423.0" cy="517.5" r="0.8"/><circle cx="413.2" cy="457.1" r="0.8"/><circle cx="620.9" cy="417.6" r="1.0"/><circle cx="543.4" cy="518.1" r="1.2"/><circle cx="612.6" cy="429.5" r="1.2"/><circle cx="605.8" cy="417.7" r="0.6"/><circle cx="457.7" cy="522.2" r="0.8"/><circle cx="609.1" cy="472.5" r="0.8"/><circle cx="570.7" cy="495.0" r="1.2"/><circle cx="419.0" cy="489.9" r="1.2"/><circle cx="501.3" cy="526.1" r="1.0"/><circle cx="422.1" cy="473.7" r="1.0"/><circle cx="518.3" cy="507.4" r="1.2"/><circle cx="610.4" cy="430.1" r="0.8"/><circle cx="604.6" cy="433.8" r="1.2"/><circle cx="407.5" cy="429.9" r="0.6"/><circle cx="604.5" cy="403.5" r="0.6"/><circle cx="607.6" cy="515.5" r="0.8"/><circle cx="604.3" cy="497.8" r="0.6"/><circle cx="450.8" cy="466.2" r="1.2"/><circle cx="608.2" cy="405.7" r="0.6"/><circle cx="425.5" cy="418.7" r="0.8"/><circle cx="607.2" cy="504.8" r="1.2"/><circle cx="419.2" cy="492.5" r="1.2"/><circle cx="604.9" cy="483.7" r="1.2"/><circle cx="512.7" cy="530.0" r="1.0"/><circle cx="419.0" cy="405.4" r="0.6"/><circle cx="416.3" cy="514.9" r="1.0"/><circle cx="543.8" cy="463.4" r="0.8"/><circle cx="593.6" cy="527.3" r="0.6"/><circle cx="510.7" cy="516.2" r="0.8"/><circle cx="608.4" cy="461.5" r="1.0"/><circle cx="487.2" cy="415.1" r="0.8"/><circle cx="556.5" cy="523.8" r="1.2"/><circle cx="413.7" cy="486.6" r="0.6"/><circle cx="576.5" cy="476.0" r="1.0"/><circle cx="417.8" cy="505.8" r="0.8"/><circle cx="518.8" cy="446.5" r="1.2"/><circle cx="506.7" cy="495.8" r="0.6"/><circle cx="604.7" cy="474.9" r="0.8"/><circle cx="594.4" cy="502.6" r="0.6"/><circle cx="514.4" cy="441.3" r="1.2"/><circle cx="610.8" cy="460.1" r="1.0"/><circle cx="412.2" cy="429.4" r="0.6"/><circle cx="541.3" cy="423.0" r="1.0"/><circle cx="516.9" cy="439.8" r="0.6"/><circle cx="498.5" cy="487.6" r="1.2"/><circle cx="404.2" cy="398.2" r="1.0"/><circle cx="407.6" cy="423.9" r="0.6"/><circle cx="620.4" cy="433.1" r="0.6"/><circle cx="406.2" cy="413.2" r="0.8"/><circle cx="592.3" cy="484.6" r="1.2"/><circle cx="506.9" cy="421.3" r="1.2"/><circle cx="542.4" cy="425.2" r="0.8"/><circle cx="499.6" cy="438.4" r="0.8"/><circle cx="405.7" cy="500.5" r="1.2"/><circle cx="605.3" cy="412.7" r="1.2"/><circle cx="564.9" cy="501.9" r="1.2"/><circle cx="426.8" cy="488.6" r="1.0"/><circle cx="598.4" cy="508.0" r="1.2"/><circle cx="416.4" cy="428.6" r="0.6"/><circle cx="511.3" cy="521.0" r="1.2"/><circle cx="429.3" cy="498.9" r="1.2"/><circle cx="544.3" cy="533.5" r="1.2"/><circle cx="522.3" cy="512.6" r="0.6"/><circle cx="612.6" cy="450.9" r="0.8"/><circle cx="603.4" cy="502.8" r="1.0"/><circle cx="505.0" cy="425.4" r="0.6"/><circle cx="597.7" cy="470.5" r="0.6"/><circle cx="418.6" cy="475.6" r="0.6"/><circle cx="514.9" cy="500.5" r="0.6"/><circle cx="417.6" cy="454.5" r="1.2"/><circle cx="551.2" cy="503.8" r="0.8"/><circle cx="503.4" cy="512.3" r="1.2"/><circle cx="464.7" cy="446.4" r="1.0"/><circle cx="564.6" cy="442.2" r="0.6"/><circle cx="528.0" cy="511.4" r="1.0"/><circle cx="463.1" cy="417.0" r="1.0"/><circle cx="463.9" cy="440.8" r="0.8"/><circle cx="599.3" cy="530.4" r="0.8"/><circle cx="527.7" cy="411.0" r="0.6"/><circle cx="608.0" cy="452.2" r="1.0"/><circle cx="500.4" cy="451.5" r="0.6"/><circle cx="413.3" cy="428.8" r="1.2"/><circle cx="413.2" cy="405.1" r="0.8"/><circle cx="539.0" cy="434.1" r="1.2"/><circle cx="405.1" cy="421.3" r="0.6"/><circle cx="467.8" cy="474.0" r="0.8"/><circle cx="517.6" cy="466.2" r="0.6"/><circle cx="503.9" cy="474.6" r="0.8"/><circle cx="419.7" cy="502.4" r="1.2"/><circle cx="521.5" cy="432.8" r="1.2"/><circle cx="475.2" cy="508.4" r="1.2"/><circle cx="622.9" cy="398.0" r="1.0"/><circle cx="513.3" cy="455.6" r="0.6"/><circle cx="602.9" cy="448.6" r="0.8"/><circle cx="505.1" cy="532.8" r="1.2"/><circle cx="505.9" cy="413.8" r="0.8"/><circle cx="515.8" cy="399.6" r="0.6"/><circle cx="454.1" cy="428.3" r="0.8"/><circle cx="613.2" cy="412.6" r="0.6"/><circle cx="469.9" cy="475.5" r="0.8"/><circle cx="521.6" cy="516.2" r="1.0"/><circle cx="598.9" cy="475.3" r="0.8"/><circle cx="518.5" cy="440.1" r="1.0"/><circle cx="422.1" cy="403.8" r="1.2"/><circle cx="522.8" cy="491.9" r="0.8"/><circle cx="412.1" cy="489.3" r="0.8"/><circle cx="497.1" cy="480.7" r="1.0"/><circle cx="621.5" cy="396.4" r="0.8"/><circle cx="517.8" cy="479.5" r="1.0"/><circle cx="501.4" cy="414.5" r="1.0"/><circle cx="527.8" cy="520.0" r="0.6"/><circle cx="600.2" cy="472.1" r="0.6"/><circle cx="506.4" cy="426.4" r="1.2"/><circle cx="419.7" cy="485.4" r="1.0"/><circle cx="459.9" cy="521.9" r="0.6"/><circle cx="573.5" cy="408.8" r="1.2"/><circle cx="545.6" cy="417.3" r="0.6"/><circle cx="613.1" cy="444.4" r="1.0"/><circle cx="516.6" cy="533.2" r="0.8"/><circle cx="416.8" cy="478.9" r="0.6"/><circle cx="525.6" cy="501.5" r="1.0"/><circle cx="413.0" cy="406.8" r="1.0"/><circle cx="606.7" cy="429.9" r="1.0"/><circle cx="423.0" cy="439.2" r="0.8"/><circle cx="484.6" cy="529.8" r="0.6"/><circle cx="447.0" cy="448.8" r="1.0"/><circle cx="466.2" cy="527.8" r="1.2"/><circle cx="598.5" cy="517.1" r="0.8"/><circle cx="507.7" cy="470.1" r="1.0"/><circle cx="509.6" cy="429.0" r="1.0"/><circle cx="408.7" cy="481.9" r="1.2"/><circle cx="568.8" cy="476.7" r="0.8"/><circle cx="619.0" cy="415.8" r="1.0"/><circle cx="614.8" cy="421.5" r="0.6"/><circle cx="509.1" cy="492.1" r="0.8"/><circle cx="520.2" cy="417.8" r="1.2"/><circle cx="595.0" cy="441.0" r="0.8"/><circle cx="592.1" cy="525.9" r="1.0"/><circle cx="508.6" cy="402.0" r="0.6"/><circle cx="409.3" cy="420.8" r="0.8"/><circle cx="482.8" cy="423.0" r="0.6"/><circle cx="445.4" cy="472.4" r="1.0"/><circle cx="569.6" cy="458.3" r="0.6"/><circle cx="458.0" cy="502.1" r="1.2"/><circle cx="510.8" cy="450.7" r="0.6"/><circle cx="510.0" cy="429.5" r="1.0"/><circle cx="531.3" cy="439.0" r="1.2"/><circle cx="444.8" cy="410.4" r="0.6"/><circle cx="476.9" cy="438.4" r="1.0"/><circle cx="421.3" cy="464.3" r="1.0"/><circle cx="416.1" cy="402.9" r="1.2"/><circle cx="610.7" cy="410.1" r="1.0"/><circle cx="404.7" cy="463.0" r="1.2"/><circle cx="462.9" cy="462.8" r="0.6"/><circle cx="561.1" cy="466.9" r="0.6"/><circle cx="517.7" cy="509.7" r="1.2"/><circle cx="600.4" cy="517.8" r="0.6"/><circle cx="596.2" cy="534.9" r="1.2"/><circle cx="501.1" cy="534.3" r="0.6"/><circle cx="496.0" cy="514.3" r="1.2"/><circle cx="513.2" cy="405.6" r="0.8"/><circle cx="597.9" cy="527.7" r="1.2"/><circle cx="411.7" cy="429.8" r="1.2"/><circle cx="610.9" cy="449.7" r="0.8"/><circle cx="417.0" cy="432.3" r="0.6"/><circle cx="411.7" cy="461.5" r="1.2"/><circle cx="578.6" cy="518.4" r="1.0"/><circle cx="456.6" cy="482.0" r="1.0"/><circle cx="504.8" cy="463.3" r="1.0"/><circle cx="471.3" cy="496.2" r="0.6"/><circle cx="401.7" cy="417.9" r="1.0"/><circle cx="428.9" cy="441.2" r="1.2"/><circle cx="545.2" cy="487.6" r="0.8"/><circle cx="408.9" cy="415.7" r="1.2"/><circle cx="544.2" cy="534.1" r="0.6"/><circle cx="616.4" cy="405.9" r="0.6"/><circle cx="559.1" cy="450.4" r="0.6"/><circle cx="604.7" cy="432.4" r="0.6"/><circle cx="614.6" cy="411.8" r="1.0"/><circle cx="414.5" cy="470.2" r="0.8"/><circle cx="429.1" cy="517.8" r="0.8"/><circle cx="603.0" cy="465.0" r="0.8"/><circle cx="521.0" cy="438.1" r="0.6"/><circle cx="601.9" cy="471.6" r="1.2"/><circle cx="427.5" cy="479.3" r="1.0"/><circle cx="561.9" cy="495.8" r="0.6"/><circle cx="514.2" cy="494.0" r="1.0"/><circle cx="511.8" cy="402.6" r="0.6"/><circle cx="476.6" cy="448.4" r="0.8"/><circle cx="459.5" cy="490.9" r="0.6"/><circle cx="597.7" cy="470.9" r="1.2"/><circle cx="455.8" cy="470.0" r="0.8"/><circle cx="608.6" cy="471.6" r="1.0"/><circle cx="555.1" cy="452.3" r="0.6"/><circle cx="608.0" cy="400.9" r="0.6"/><circle cx="425.1" cy="468.3" r="0.6"/><circle cx="603.1" cy="511.4" r="0.8"/><circle cx="588.2" cy="396.1" r="1.0"/><circle cx="473.1" cy="466.9" r="1.0"/><circle cx="594.0" cy="507.1" r="0.8"/><circle cx="453.3" cy="450.8" r="0.6"/><circle cx="570.6" cy="510.1" r="0.8"/><circle cx="416.8" cy="486.0" r="0.8"/><circle cx="597.4" cy="528.6" r="0.8"/><circle cx="546.2" cy="497.7" r="0.8"/><circle cx="611.5" cy="408.2" r="1.2"/><circle cx="606.6" cy="399.3" r="0.6"/><circle cx="605.0" cy="463.7" r="1.0"/><circle cx="599.4" cy="479.9" r="1.0"/><circle cx="404.9" cy="423.7" r="0.8"/><circle cx="420.4" cy="510.4" r="0.8"/><circle cx="535.4" cy="412.9" r="0.8"/><circle cx="582.4" cy="527.9" r="0.6"/><circle cx="422.4" cy="496.0" r="1.2"/><circle cx="491.4" cy="445.3" r="0.8"/><circle cx="564.5" cy="534.8" r="1.0"/><circle cx="498.4" cy="472.5" r="1.2"/><circle cx="419.1" cy="399.9" r="0.8"/><circle cx="426.0" cy="533.1" r="0.6"/><circle cx="599.6" cy="489.4" r="1.2"/><circle cx="509.1" cy="497.4" r="0.8"/><circle cx="428.6" cy="530.6" r="0.6"/><circle cx="517.9" cy="461.6" r="0.8"/><circle cx="609.1" cy="476.4" r="0.6"/><circle cx="462.2" cy="490.2" r="0.8"/><circle cx="520.2" cy="459.1" r="0.8"/><circle cx="520.7" cy="483.9" r="0.8"/><circle cx="603.3" cy="478.4" r="1.0"/><circle cx="428.9" cy="480.6" r="1.0"/><circle cx="540.0" cy="473.9" r="1.0"/><circle cx="547.4" cy="501.2" r="0.8"/><circle cx="513.3" cy="407.3" r="1.0"/><circle cx="605.9" cy="467.2" r="0.8"/><circle cx="428.8" cy="432.4" r="1.2"/><circle cx="422.9" cy="405.7" r="1.0"/><circle cx="562.1" cy="409.3" r="0.8"/><circle cx="512.0" cy="439.6" r="0.8"/><circle cx="422.0" cy="530.3" r="0.8"/><circle cx="565.3" cy="503.4" r="1.0"/><circle cx="550.5" cy="466.7" r="1.0"/><circle cx="427.8" cy="463.3" r="1.0"/><circle cx="604.9" cy="514.5" r="1.2"/><circle cx="457.6" cy="487.0" r="0.8"/><circle cx="452.0" cy="418.8" r="1.0"/><circle cx="592.5" cy="513.7" r="1.2"/><circle cx="601.3" cy="501.3" r="1.2"/><circle cx="420.3" cy="511.1" r="0.6"/><circle cx="504.1" cy="486.3" r="1.0"/><circle cx="472.9" cy="453.8" r="1.2"/><circle cx="414.3" cy="523.4" r="1.2"/><circle cx="533.8" cy="527.2" r="0.8"/><circle cx="595.1" cy="503.3" r="1.0"/><circle cx="619.8" cy="474.4" r="0.8"/><circle cx="622.8" cy="401.8" r="0.8"/><circle cx="602.3" cy="468.6" r="1.2"/><circle cx="427.2" cy="502.6" r="0.8"/><circle cx="610.9" cy="515.3" r="1.0"/><circle cx="598.2" cy="501.1" r="1.2"/><circle cx="504.8" cy="532.5" r="0.8"/><circle cx="548.9" cy="504.7" r="1.2"/><circle cx="608.3" cy="425.2" r="1.2"/><circle cx="416.9" cy="492.7" r="1.2"/><circle cx="571.8" cy="504.4" r="0.6"/><circle cx="408.2" cy="420.9" r="1.2"/><circle cx="609.8" cy="487.0" r="0.6"/><circle cx="599.6" cy="527.1" r="1.0"/><circle cx="516.9" cy="473.2" r="1.0"/><circle cx="603.2" cy="490.9" r="1.0"/><circle cx="431.8" cy="529.7" r="1.2"/><circle cx="556.3" cy="405.8" r="0.8"/><circle cx="568.5" cy="431.6" r="1.2"/><circle cx="464.3" cy="459.3" r="0.6"/><circle cx="604.0" cy="448.5" r="0.8"/><circle cx="599.7" cy="504.1" r="0.8"/><circle cx="608.2" cy="443.5" r="1.0"/><circle cx="469.9" cy="466.9" r="0.8"/><circle cx="414.5" cy="415.5" r="1.0"/><circle cx="438.0" cy="512.7" r="0.8"/><circle cx="590.1" cy="500.1" r="1.2"/><circle cx="414.7" cy="494.6" r="0.6"/><circle cx="569.0" cy="441.6" r="1.2"/><circle cx="481.0" cy="497.6" r="1.0"/><circle cx="419.4" cy="424.3" r="1.0"/><circle cx="467.7" cy="483.1" r="0.6"/><circle cx="568.6" cy="515.8" r="1.0"/><circle cx="413.3" cy="430.6" r="1.0"/><circle cx="503.0" cy="490.7" r="0.8"/><circle cx="629.3" cy="431.2" r="0.6"/><circle cx="611.5" cy="428.5" r="1.0"/><circle cx="411.5" cy="508.0" r="1.2"/><circle cx="499.6" cy="446.4" r="0.6"/><circle cx="577.2" cy="412.9" r="1.2"/><circle cx="556.3" cy="473.6" r="1.2"/><circle cx="563.3" cy="420.1" r="1.2"/><circle cx="598.0" cy="522.6" r="1.2"/><circle cx="413.9" cy="498.4" r="1.0"/><circle cx="458.7" cy="490.7" r="1.0"/><circle cx="578.2" cy="464.6" r="0.8"/><circle cx="592.5" cy="533.4" r="0.6"/><circle cx="498.9" cy="443.5" r="0.8"/><circle cx="514.1" cy="424.6" r="1.0"/><circle cx="493.5" cy="446.9" r="0.6"/><circle cx="453.5" cy="497.2" r="1.0"/><circle cx="417.5" cy="510.2" r="0.6"/><circle cx="395.5" cy="508.1" r="1.0"/><circle cx="521.0" cy="435.5" r="0.6"/><circle cx="521.2" cy="502.6" r="1.0"/><circle cx="443.8" cy="452.3" r="0.6"/><circle cx="554.7" cy="440.3" r="0.6"/><circle cx="493.1" cy="461.6" r="1.0"/><circle cx="606.5" cy="489.4" r="0.8"/><circle cx="611.6" cy="406.6" r="0.6"/><circle cx="611.8" cy="458.3" r="0.6"/><circle cx="412.5" cy="436.8" r="0.8"/><circle cx="486.6" cy="493.1" r="1.0"/><circle cx="411.9" cy="420.0" r="1.2"/><circle cx="512.8" cy="479.6" r="0.8"/><circle cx="593.7" cy="435.5" r="0.8"/><circle cx="452.4" cy="421.3" r="1.0"/><circle cx="500.7" cy="495.4" r="1.2"/><circle cx="596.5" cy="512.4" r="1.2"/><circle cx="462.8" cy="426.8" r="1.0"/><circle cx="533.6" cy="482.9" r="0.6"/><circle cx="518.8" cy="473.4" r="0.8"/><circle cx="603.4" cy="495.3" r="1.0"/><circle cx="522.2" cy="495.9" r="1.0"/><circle cx="615.3" cy="431.2" r="1.2"/><circle cx="524.0" cy="401.9" r="1.2"/><circle cx="627.2" cy="405.4" r="1.2"/><circle cx="487.5" cy="498.3" r="1.2"/><circle cx="462.2" cy="412.2" r="1.2"/><circle cx="524.9" cy="507.5" r="0.6"/><circle cx="607.2" cy="408.8" r="0.8"/><circle cx="467.6" cy="432.5" r="1.2"/><circle cx="410.6" cy="456.4" r="0.6"/><circle cx="598.9" cy="467.9" r="1.2"/><circle cx="605.4" cy="451.2" r="1.0"/><circle cx="433.1" cy="502.4" r="0.6"/><circle cx="547.3" cy="401.5" r="0.8"/><circle cx="614.7" cy="407.5" r="0.8"/><circle cx="556.2" cy="417.1" r="0.6"/><circle cx="625.2" cy="462.9" r="1.0"/><circle cx="599.1" cy="503.4" r="1.0"/><circle cx="512.6" cy="423.8" r="1.0"/><circle cx="505.5" cy="496.0" r="0.8"/><circle cx="472.2" cy="449.5" r="1.0"/><circle cx="513.7" cy="483.9" r="0.8"/><circle cx="510.2" cy="409.6" r="1.0"/><circle cx="481.1" cy="486.1" r="1.0"/><circle cx="600.4" cy="485.8" r="1.0"/><circle cx="446.2" cy="414.3" r="1.0"/><circle cx="411.5" cy="427.3" r="0.6"/><circle cx="603.2" cy="459.2" r="1.0"/><circle cx="508.5" cy="517.7" r="0.8"/><circle cx="606.9" cy="457.8" r="1.0"/><circle cx="511.5" cy="524.3" r="0.6"/><circle cx="608.7" cy="400.5" r="0.8"/><circle cx="422.1" cy="437.8" r="0.6"/><circle cx="601.8" cy="481.2" r="1.0"/><circle cx="617.2" cy="448.4" r="0.6"/><circle cx="602.4" cy="528.4" r="1.0"/><circle cx="489.7" cy="437.8" r="1.0"/><circle cx="596.4" cy="473.7" r="0.8"/><circle cx="595.0" cy="462.1" r="1.0"/><circle cx="523.4" cy="398.0" r="0.8"/><circle cx="610.0" cy="458.3" r="1.0"/><circle cx="597.1" cy="459.7" r="0.6"/><circle cx="443.5" cy="513.5" r="1.0"/><circle cx="447.9" cy="512.3" r="1.0"/><circle cx="531.8" cy="530.2" r="1.0"/><circle cx="601.5" cy="495.6" r="1.2"/><circle cx="615.3" cy="430.4" r="0.6"/><circle cx="612.0" cy="470.3" r="0.8"/><circle cx="438.6" cy="408.8" r="1.2"/><circle cx="497.4" cy="527.2" r="1.0"/><circle cx="552.0" cy="526.5" r="1.2"/><circle cx="524.4" cy="448.3" r="1.0"/><circle cx="614.4" cy="405.8" r="1.2"/><circle cx="621.4" cy="426.3" r="0.8"/><circle cx="421.6" cy="533.4" r="1.0"/><circle cx="544.0" cy="445.5" r="0.8"/><circle cx="590.1" cy="507.2" r="0.8"/><circle cx="420.0" cy="427.9" r="1.2"/><circle cx="557.1" cy="523.0" r="0.6"/><circle cx="604.2" cy="501.9" r="0.6"/><circle cx="517.2" cy="417.3" r="0.8"/><circle cx="593.0" cy="515.8" r="0.8"/><circle cx="621.4" cy="395.7" r="1.0"/><circle cx="549.7" cy="529.6" r="0.6"/><circle cx="561.4" cy="474.5" r="1.2"/><circle cx="602.6" cy="462.2" r="0.6"/><circle cx="500.4" cy="453.9" r="0.8"/><circle cx="609.7" cy="418.4" r="1.2"/><circle cx="421.0" cy="491.1" r="0.8"/><circle cx="420.0" cy="520.8" r="1.0"/><circle cx="559.8" cy="502.7" r="0.8"/><circle cx="606.5" cy="462.6" r="0.6"/><circle cx="505.3" cy="482.1" r="1.2"/><circle cx="422.4" cy="439.8" r="1.0"/><circle cx="501.8" cy="416.7" r="0.6"/><circle cx="422.0" cy="480.0" r="0.6"/><circle cx="569.2" cy="489.4" r="1.2"/><circle cx="601.4" cy="449.3" r="0.8"/><circle cx="628.8" cy="415.0" r="0.6"/><circle cx="571.4" cy="449.4" r="1.0"/><circle cx="601.6" cy="529.9" r="0.8"/><circle cx="462.9" cy="531.4" r="1.2"/><circle cx="497.2" cy="518.5" r="0.6"/><circle cx="468.6" cy="513.3" r="0.8"/><circle cx="534.5" cy="509.1" r="1.0"/><circle cx="609.4" cy="409.9" r="0.6"/><circle cx="413.5" cy="450.8" r="1.2"/><circle cx="414.1" cy="468.6" r="0.6"/><circle cx="414.4" cy="474.7" r="0.8"/><circle cx="603.8" cy="498.5" r="0.6"/><circle cx="618.9" cy="444.1" r="1.2"/><circle cx="416.7" cy="425.4" r="0.8"/><circle cx="516.6" cy="399.1" r="0.8"/><circle cx="575.4" cy="512.3" r="1.0"/><circle cx="593.4" cy="428.3" r="1.0"/><circle cx="421.9" cy="480.1" r="1.2"/><circle cx="405.2" cy="457.9" r="0.8"/><circle cx="474.4" cy="482.2" r="0.8"/><circle cx="515.5" cy="514.3" r="1.0"/><circle cx="423.1" cy="523.4" r="1.0"/><circle cx="501.1" cy="521.7" r="0.8"/><circle cx="419.8" cy="467.9" r="0.8"/><circle cx="599.3" cy="499.4" r="1.0"/><circle cx="467.5" cy="408.9" r="0.8"/><circle cx="473.0" cy="440.5" r="1.0"/><circle cx="472.7" cy="414.1" r="0.8"/><circle cx="416.6" cy="492.7" r="0.6"/><circle cx="459.6" cy="423.8" r="0.6"/><circle cx="611.1" cy="467.5" r="1.0"/><circle cx="517.3" cy="508.3" r="1.2"/><circle cx="556.3" cy="491.4" r="1.0"/><circle cx="601.5" cy="486.1" r="0.8"/><circle cx="457.8" cy="522.0" r="1.2"/><circle cx="444.6" cy="403.2" r="0.8"/><circle cx="604.9" cy="413.1" r="1.2"/><circle cx="467.5" cy="420.9" r="0.6"/><circle cx="458.5" cy="502.8" r="1.2"/><circle cx="465.3" cy="457.2" r="0.6"/><circle cx="606.6" cy="509.8" r="0.8"/><circle cx="515.6" cy="518.1" r="0.6"/><circle cx="481.1" cy="532.8" r="1.0"/><circle cx="600.8" cy="521.8" r="0.6"/><circle cx="414.6" cy="409.5" r="0.8"/><circle cx="573.2" cy="395.0" r="1.0"/><circle cx="523.8" cy="522.0" r="1.0"/><circle cx="572.0" cy="419.2" r="1.2"/><circle cx="603.4" cy="439.7" r="0.8"/><circle cx="514.1" cy="417.8" r="0.6"/><circle cx="478.3" cy="416.1" r="1.0"/><circle cx="415.1" cy="461.5" r="0.8"/><circle cx="606.8" cy="524.6" r="0.6"/><circle cx="523.3" cy="463.9" r="1.2"/><circle cx="528.9" cy="508.9" r="0.8"/><circle cx="440.5" cy="412.2" r="0.6"/><circle cx="540.3" cy="508.0" r="1.0"/><circle cx="517.1" cy="478.5" r="1.2"/><circle cx="414.7" cy="477.3" r="0.8"/><circle cx="524.9" cy="468.5" r="0.8"/><circle cx="609.6" cy="410.1" r="1.0"/><circle cx="501.1" cy="450.4" r="0.8"/><circle cx="416.2" cy="445.8" r="0.8"/><circle cx="616.6" cy="409.1" r="1.2"/><circle cx="566.0" cy="523.8" r="1.2"/><circle cx="459.1" cy="500.9" r="1.0"/><circle cx="611.4" cy="493.6" r="1.2"/><circle cx="557.1" cy="510.2" r="1.0"/><circle cx="604.0" cy="452.3" r="0.6"/><circle cx="505.7" cy="493.4" r="0.6"/><circle cx="506.7" cy="434.7" r="0.6"/><circle cx="606.7" cy="423.8" r="1.2"/><circle cx="552.6" cy="447.3" r="0.6"/><circle cx="419.2" cy="456.4" r="0.6"/><circle cx="414.0" cy="467.5" r="1.0"/><circle cx="422.7" cy="460.4" r="1.2"/><circle cx="602.0" cy="447.0" r="0.6"/><circle cx="597.4" cy="469.7" r="1.0"/><circle cx="607.7" cy="503.7" r="1.2"/><circle cx="600.8" cy="444.6" r="0.8"/><circle cx="502.9" cy="503.9" r="0.8"/><circle cx="413.1" cy="423.0" r="0.8"/><circle cx="463.6" cy="502.2" r="0.8"/><circle cx="413.3" cy="452.0" r="0.6"/><circle cx="615.1" cy="422.9" r="0.6"/><circle cx="611.5" cy="451.7" r="1.0"/><circle cx="520.6" cy="504.7" r="0.8"/><circle cx="479.5" cy="494.7" r="1.0"/><circle cx="414.3" cy="445.6" r="1.2"/><circle cx="626.4" cy="417.2" r="1.2"/><circle cx="562.7" cy="515.4" r="1.2"/><circle cx="406.7" cy="428.4" r="0.6"/><circle cx="569.4" cy="441.8" r="1.0"/><circle cx="519.0" cy="487.2" r="0.8"/><circle cx="611.4" cy="476.6" r="0.8"/><circle cx="521.0" cy="404.2" r="1.0"/><circle cx="506.7" cy="430.1" r="0.6"/><circle cx="511.0" cy="511.4" r="1.2"/><circle cx="615.4" cy="416.4" r="1.0"/><circle cx="417.4" cy="416.6" r="0.6"/><circle cx="599.2" cy="446.4" r="0.8"/><circle cx="598.7" cy="488.4" r="1.0"/><circle cx="427.4" cy="498.3" r="1.2"/><circle cx="464.1" cy="413.9" r="0.8"/><circle cx="411.6" cy="487.3" r="1.2"/><circle cx="407.6" cy="485.3" r="1.2"/><circle cx="492.3" cy="481.6" r="1.2"/><circle cx="413.0" cy="436.7" r="0.6"/><circle cx="497.2" cy="517.3" r="1.2"/><circle cx="415.9" cy="439.3" r="0.6"/><circle cx="603.6" cy="531.4" r="0.6"/><circle cx="550.4" cy="499.1" r="0.8"/><circle cx="610.0" cy="411.1" r="1.2"/><circle cx="605.8" cy="458.8" r="0.6"/><circle cx="595.7" cy="475.1" r="0.6"/><circle cx="526.0" cy="492.4" r="0.6"/><circle cx="410.7" cy="412.3" r="0.8"/><circle cx="420.4" cy="499.4" r="1.0"/><circle cx="505.6" cy="486.1" r="0.6"/><circle cx="411.2" cy="418.2" r="0.6"/><circle cx="528.9" cy="468.5" r="1.2"/><circle cx="497.9" cy="426.4" r="1.2"/><circle cx="565.2" cy="462.6" r="0.8"/><circle cx="589.1" cy="462.8" r="0.8"/><circle cx="561.0" cy="525.6" r="0.6"/><circle cx="516.7" cy="401.8" r="0.8"/><circle cx="611.1" cy="464.2" r="1.0"/><circle cx="508.5" cy="489.9" r="0.8"/><circle cx="417.9" cy="474.7" r="0.8"/><circle cx="589.4" cy="524.5" r="1.0"/><circle cx="609.0" cy="505.5" r="0.6"/><circle cx="412.3" cy="411.1" r="1.2"/><circle cx="603.7" cy="488.0" r="0.6"/><circle cx="420.1" cy="396.6" r="1.0"/><circle cx="611.5" cy="417.7" r="0.8"/><circle cx="518.5" cy="487.9" r="1.0"/><circle cx="615.2" cy="428.1" r="0.8"/><circle cx="564.1" cy="412.0" r="1.2"/><circle cx="425.8" cy="508.0" r="0.6"/><circle cx="499.8" cy="462.5" r="0.8"/><circle cx="576.9" cy="516.6" r="0.8"/></g><g clip-path="url(#bubClip)" fill="none" stroke="#b0f8ff" stroke-width="0.8" opacity="0.85"><circle cx="449.4" cy="468.1" r="1.2"/><circle cx="503.4" cy="472.3" r="0.7"/><circle cx="548.6" cy="517.6" r="1.2"/><circle cx="603.6" cy="508.3" r="0.7"/><circle cx="473.3" cy="513.4" r="1.0"/><circle cx="611.3" cy="447.1" r="1.0"/><circle cx="529.8" cy="531.4" r="1.4"/><circle cx="446.6" cy="476.8" r="0.9"/><circle cx="485.5" cy="519.2" r="1.2"/><circle cx="554.8" cy="490.7" r="1.2"/><circle cx="464.0" cy="526.8" r="1.2"/><circle cx="416.0" cy="455.9" r="0.9"/><circle cx="422.5" cy="501.1" r="1.4"/><circle cx="546.2" cy="486.0" r="1.4"/><circle cx="525.6" cy="498.5" r="0.7"/><circle cx="446.3" cy="476.0" r="0.7"/><circle cx="458.0" cy="480.9" r="1.0"/><circle cx="517.3" cy="487.5" r="0.9"/><circle cx="479.7" cy="449.7" r="1.0"/><circle cx="479.1" cy="506.7" r="0.7"/><circle cx="596.1" cy="471.6" r="0.7"/><circle cx="413.1" cy="486.8" r="1.2"/><circle cx="567.5" cy="518.8" r="0.7"/><circle cx="435.2" cy="514.2" r="1.2"/><circle cx="489.9" cy="533.0" r="1.2"/><circle cx="520.6" cy="486.1" r="1.4"/><circle cx="588.4" cy="511.4" r="0.9"/><circle cx="397.0" cy="513.1" r="1.4"/><circle cx="593.2" cy="488.5" r="0.9"/><circle cx="422.9" cy="455.7" r="1.0"/><circle cx="460.3" cy="485.9" r="1.0"/><circle cx="629.1" cy="518.7" r="0.7"/><circle cx="485.5" cy="489.9" r="0.7"/><circle cx="545.6" cy="508.2" r="0.9"/><circle cx="468.9" cy="496.9" r="1.4"/><circle cx="564.1" cy="525.6" r="0.7"/><circle cx="515.2" cy="527.3" r="1.0"/><circle cx="567.7" cy="512.8" r="1.4"/><circle cx="417.2" cy="496.9" r="1.2"/><circle cx="569.4" cy="505.4" r="1.4"/><circle cx="488.4" cy="508.0" r="1.2"/><circle cx="502.9" cy="515.8" r="1.4"/><circle cx="574.4" cy="506.0" r="0.7"/><circle cx="494.1" cy="514.8" r="1.0"/><circle cx="621.0" cy="465.7" r="1.4"/><circle cx="538.4" cy="530.5" r="0.9"/><circle cx="425.7" cy="493.8" r="0.9"/><circle cx="508.9" cy="469.0" r="0.9"/><circle cx="511.6" cy="460.7" r="0.9"/><circle cx="605.0" cy="511.4" r="1.2"/><circle cx="455.9" cy="502.1" r="0.7"/><circle cx="536.9" cy="503.0" r="0.9"/><circle cx="430.0" cy="503.3" r="1.2"/><circle cx="494.8" cy="497.3" r="0.7"/><circle cx="497.5" cy="468.9" r="1.4"/><circle cx="407.8" cy="503.5" r="1.0"/><circle cx="605.0" cy="476.1" r="0.7"/><circle cx="560.3" cy="469.7" r="0.9"/><circle cx="441.8" cy="512.6" r="1.2"/><circle cx="531.7" cy="499.0" r="0.7"/><circle cx="496.5" cy="521.2" r="1.0"/><circle cx="521.1" cy="497.5" r="1.2"/><circle cx="433.6" cy="513.0" r="1.2"/><circle cx="423.2" cy="533.5" r="1.4"/><circle cx="593.9" cy="454.2" r="0.9"/><circle cx="551.2" cy="462.9" r="0.7"/><circle cx="610.9" cy="508.9" r="0.9"/><circle cx="543.9" cy="462.2" r="0.9"/><circle cx="506.7" cy="507.1" r="0.9"/><circle cx="553.9" cy="526.6" r="0.7"/><circle cx="482.3" cy="532.3" r="1.2"/><circle cx="454.4" cy="465.1" r="1.4"/><circle cx="458.1" cy="522.3" r="0.7"/><circle cx="552.2" cy="469.4" r="1.0"/><circle cx="403.3" cy="492.9" r="1.4"/><circle cx="531.2" cy="510.0" r="0.7"/><circle cx="580.0" cy="433.9" r="1.0"/><circle cx="538.4" cy="523.0" r="0.7"/><circle cx="528.7" cy="523.2" r="1.0"/><circle cx="402.9" cy="449.1" r="1.4"/><circle cx="401.1" cy="487.3" r="0.9"/><circle cx="510.0" cy="455.1" r="1.0"/><circle cx="526.8" cy="522.6" r="1.2"/><circle cx="490.9" cy="518.8" r="0.9"/><circle cx="440.9" cy="519.4" r="0.9"/><circle cx="442.2" cy="517.6" r="1.0"/><circle cx="622.5" cy="457.5" r="1.2"/><circle cx="531.5" cy="497.8" r="1.2"/><circle cx="488.7" cy="488.7" r="1.4"/><circle cx="470.5" cy="490.6" r="1.4"/><circle cx="447.1" cy="443.5" r="0.7"/><circle cx="446.1" cy="513.8" r="1.0"/><circle cx="587.2" cy="482.0" r="0.9"/><circle cx="517.2" cy="497.2" r="1.4"/><circle cx="532.0" cy="489.6" r="0.9"/><circle cx="507.5" cy="516.2" r="0.7"/><circle cx="470.3" cy="461.9" r="0.7"/><circle cx="542.6" cy="525.5" r="1.0"/><circle cx="423.5" cy="470.9" r="0.9"/><circle cx="423.6" cy="484.0" r="1.4"/><circle cx="511.7" cy="474.8" r="1.2"/><circle cx="518.6" cy="493.9" r="0.9"/><circle cx="493.0" cy="457.0" r="0.7"/><circle cx="420.5" cy="492.0" r="1.0"/><circle cx="599.0" cy="528.3" r="1.2"/><circle cx="473.5" cy="512.8" r="1.4"/><circle cx="555.8" cy="487.7" r="1.2"/><circle cx="593.3" cy="473.7" r="0.7"/><circle cx="526.5" cy="522.6" r="1.2"/><circle cx="508.9" cy="446.1" r="0.9"/><circle cx="440.0" cy="483.4" r="0.7"/><circle cx="504.0" cy="470.6" r="1.2"/><circle cx="491.3" cy="459.6" r="1.0"/><circle cx="598.9" cy="511.6" r="0.9"/><circle cx="567.7" cy="480.2" r="1.2"/><circle cx="591.4" cy="513.4" r="1.2"/><circle cx="510.9" cy="484.9" r="1.0"/><circle cx="546.8" cy="522.5" r="1.2"/><circle cx="483.0" cy="495.3" r="1.2"/><circle cx="598.3" cy="529.1" r="1.2"/><circle cx="562.2" cy="509.2" r="0.9"/><circle cx="479.0" cy="442.2" r="0.7"/><circle cx="560.6" cy="529.5" r="0.7"/><circle cx="501.8" cy="476.5" r="1.0"/><circle cx="502.4" cy="439.9" r="0.7"/><circle cx="436.0" cy="465.7" r="1.2"/><circle cx="392.9" cy="506.6" r="1.0"/><circle cx="546.4" cy="513.3" r="0.9"/><circle cx="553.2" cy="528.1" r="0.9"/><circle cx="578.6" cy="515.1" r="1.2"/><circle cx="574.9" cy="513.6" r="0.7"/><circle cx="513.8" cy="524.8" r="1.4"/><circle cx="500.9" cy="447.9" r="1.0"/><circle cx="501.4" cy="455.7" r="1.0"/><circle cx="499.5" cy="484.2" r="1.2"/><circle cx="467.0" cy="498.1" r="0.9"/><circle cx="507.1" cy="475.4" r="1.4"/><circle cx="421.7" cy="475.8" r="0.9"/><circle cx="565.2" cy="508.2" r="1.4"/><circle cx="434.3" cy="509.4" r="1.2"/><circle cx="467.9" cy="530.3" r="0.7"/><circle cx="445.3" cy="471.5" r="1.4"/><circle cx="519.1" cy="490.5" r="0.7"/><circle cx="576.9" cy="462.9" r="1.0"/><circle cx="438.2" cy="516.5" r="1.2"/><circle cx="540.9" cy="518.7" r="1.4"/><circle cx="544.1" cy="525.3" r="1.4"/><circle cx="406.2" cy="494.2" r="0.9"/><circle cx="551.8" cy="525.8" r="1.4"/><circle cx="527.3" cy="513.7" r="1.4"/><circle cx="521.8" cy="484.8" r="1.4"/><circle cx="524.0" cy="505.5" r="0.7"/><circle cx="465.0" cy="454.9" r="0.7"/><circle cx="503.5" cy="495.7" r="1.0"/><circle cx="420.3" cy="514.8" r="0.7"/><circle cx="545.2" cy="508.5" r="0.7"/><circle cx="540.9" cy="496.4" r="1.0"/><circle cx="402.8" cy="507.4" r="0.9"/><circle cx="531.2" cy="526.2" r="1.0"/><circle cx="534.3" cy="517.9" r="1.0"/><circle cx="511.2" cy="505.6" r="1.2"/><circle cx="505.1" cy="498.1" r="0.9"/><circle cx="423.4" cy="470.7" r="1.4"/><circle cx="507.0" cy="519.3" r="1.2"/><circle cx="572.0" cy="502.9" r="1.2"/><circle cx="509.0" cy="500.2" r="0.7"/><circle cx="430.0" cy="477.4" r="1.4"/><circle cx="500.3" cy="512.9" r="1.4"/><circle cx="489.2" cy="531.8" r="1.4"/><circle cx="457.5" cy="529.6" r="0.9"/><circle cx="541.8" cy="488.8" r="1.2"/><circle cx="486.1" cy="521.4" r="0.7"/><circle cx="445.4" cy="499.9" r="1.4"/><circle cx="428.7" cy="503.4" r="1.4"/><circle cx="503.1" cy="525.9" r="1.0"/><circle cx="443.3" cy="482.7" r="1.2"/><circle cx="459.8" cy="520.9" r="1.0"/><circle cx="585.9" cy="483.3" r="1.0"/><circle cx="414.9" cy="453.9" r="1.4"/><circle cx="586.1" cy="463.3" r="1.4"/><circle cx="604.1" cy="499.3" r="1.0"/><circle cx="394.7" cy="434.3" r="1.2"/><circle cx="497.2" cy="527.3" r="1.0"/><circle cx="607.0" cy="531.3" r="1.4"/><circle cx="434.2" cy="512.2" r="0.9"/><circle cx="616.9" cy="477.3" r="1.2"/><circle cx="556.9" cy="524.6" r="0.7"/><circle cx="542.5" cy="522.2" r="1.4"/><circle cx="461.3" cy="504.5" r="0.7"/><circle cx="514.8" cy="528.2" r="0.7"/><circle cx="503.6" cy="496.5" r="0.9"/><circle cx="450.2" cy="513.4" r="0.9"/><circle cx="519.1" cy="472.7" r="0.9"/><circle cx="614.3" cy="517.6" r="1.0"/><circle cx="531.3" cy="519.0" r="1.2"/><circle cx="497.8" cy="490.4" r="1.4"/><circle cx="620.6" cy="463.6" r="1.2"/><circle cx="525.5" cy="532.2" r="0.7"/><circle cx="492.8" cy="506.3" r="1.4"/><circle cx="477.1" cy="492.4" r="1.0"/><circle cx="539.7" cy="523.3" r="0.9"/><circle cx="540.0" cy="510.4" r="1.0"/><circle cx="553.0" cy="509.0" r="0.9"/><circle cx="507.6" cy="501.1" r="1.2"/><circle cx="481.2" cy="501.6" r="1.4"/><circle cx="578.8" cy="483.4" r="1.4"/><circle cx="584.9" cy="473.1" r="1.0"/><circle cx="520.7" cy="518.3" r="0.9"/><circle cx="521.0" cy="461.3" r="1.4"/><circle cx="532.9" cy="520.1" r="1.4"/><circle cx="458.8" cy="495.0" r="1.0"/><circle cx="497.9" cy="516.5" r="1.4"/><circle cx="486.6" cy="479.6" r="1.2"/><circle cx="533.9" cy="474.4" r="1.0"/><circle cx="436.4" cy="482.4" r="1.2"/><circle cx="493.2" cy="520.4" r="0.9"/><circle cx="520.9" cy="480.0" r="0.7"/><circle cx="552.4" cy="521.8" r="0.9"/><circle cx="508.2" cy="529.2" r="0.9"/><circle cx="610.1" cy="498.7" r="1.2"/><circle cx="425.9" cy="528.8" r="1.4"/><circle cx="585.2" cy="525.3" r="1.0"/><circle cx="463.3" cy="487.6" r="1.4"/><circle cx="470.4" cy="513.3" r="1.0"/><circle cx="617.6" cy="490.5" r="1.4"/><circle cx="565.4" cy="464.9" r="1.4"/><circle cx="511.4" cy="474.0" r="0.9"/><circle cx="469.5" cy="468.7" r="1.2"/><circle cx="438.6" cy="501.2" r="1.4"/><circle cx="487.5" cy="471.2" r="1.0"/><circle cx="544.8" cy="502.0" r="1.4"/><circle cx="503.4" cy="481.0" r="0.9"/><circle cx="423.2" cy="517.3" r="0.7"/><circle cx="437.9" cy="493.2" r="1.4"/><circle cx="449.6" cy="483.3" r="1.2"/><circle cx="542.3" cy="471.2" r="0.9"/><circle cx="560.5" cy="530.3" r="1.0"/><circle cx="581.2" cy="492.6" r="0.9"/><circle cx="495.3" cy="488.2" r="1.2"/><circle cx="505.8" cy="500.8" r="0.7"/><circle cx="578.5" cy="475.6" r="0.7"/><circle cx="560.7" cy="517.0" r="1.2"/><circle cx="509.9" cy="507.3" r="0.9"/><circle cx="442.6" cy="528.6" r="1.4"/><circle cx="495.3" cy="507.2" r="1.2"/><circle cx="500.5" cy="491.2" r="0.9"/><circle cx="539.5" cy="454.0" r="0.7"/><circle cx="385.1" cy="501.9" r="0.7"/><circle cx="391.0" cy="481.4" r="1.2"/><circle cx="437.4" cy="514.8" r="0.9"/><circle cx="395.6" cy="487.4" r="0.7"/><circle cx="520.2" cy="467.8" r="0.7"/><circle cx="414.0" cy="511.7" r="0.9"/><circle cx="448.8" cy="496.0" r="1.0"/><circle cx="624.0" cy="463.1" r="0.9"/><circle cx="609.8" cy="495.6" r="1.2"/><circle cx="546.8" cy="532.5" r="1.0"/><circle cx="571.9" cy="505.1" r="0.9"/><circle cx="581.9" cy="518.1" r="0.9"/><circle cx="551.5" cy="490.5" r="1.4"/><circle cx="429.9" cy="460.9" r="1.2"/><circle cx="456.6" cy="475.6" r="0.7"/><circle cx="635.2" cy="454.1" r="1.4"/><circle cx="529.4" cy="529.3" r="0.9"/><circle cx="589.2" cy="466.8" r="0.7"/><circle cx="499.3" cy="519.9" r="0.9"/><circle cx="586.1" cy="516.3" r="0.9"/><circle cx="470.5" cy="513.8" r="1.0"/><circle cx="482.3" cy="516.9" r="1.0"/><circle cx="502.6" cy="501.9" r="1.0"/><circle cx="493.8" cy="491.8" r="1.0"/><circle cx="427.3" cy="529.9" r="1.4"/><circle cx="609.6" cy="521.3" r="0.9"/><circle cx="423.7" cy="532.9" r="1.0"/><circle cx="466.8" cy="483.5" r="0.7"/><circle cx="531.9" cy="525.9" r="1.0"/><circle cx="619.6" cy="474.6" r="1.2"/><circle cx="531.5" cy="519.0" r="0.9"/><circle cx="619.2" cy="524.8" r="1.0"/><circle cx="437.4" cy="510.6" r="0.7"/><circle cx="402.2" cy="512.9" r="0.7"/><circle cx="419.3" cy="487.5" r="0.9"/><circle cx="495.6" cy="445.6" r="1.4"/><circle cx="532.7" cy="483.9" r="0.7"/><circle cx="536.4" cy="513.2" r="0.7"/><circle cx="593.9" cy="487.2" r="1.0"/><circle cx="473.6" cy="460.5" r="0.7"/><circle cx="485.2" cy="493.4" r="1.4"/><circle cx="518.3" cy="517.6" r="1.2"/><circle cx="536.9" cy="502.9" r="0.7"/><circle cx="410.8" cy="500.1" r="0.7"/><circle cx="535.3" cy="470.8" r="0.7"/><circle cx="605.1" cy="483.0" r="1.2"/><circle cx="542.1" cy="495.2" r="0.9"/><circle cx="595.0" cy="489.0" r="1.0"/><circle cx="394.1" cy="478.2" r="1.2"/><circle cx="514.5" cy="493.3" r="1.0"/><circle cx="614.3" cy="532.5" r="1.2"/><circle cx="578.2" cy="529.4" r="1.2"/><circle cx="538.6" cy="490.9" r="1.0"/><circle cx="496.7" cy="498.6" r="1.0"/><circle cx="601.7" cy="530.2" r="1.4"/><circle cx="542.9" cy="511.1" r="0.7"/><circle cx="514.3" cy="515.8" r="0.9"/><circle cx="643.8" cy="451.3" r="0.9"/><circle cx="476.0" cy="486.9" r="0.7"/><circle cx="590.4" cy="515.9" r="0.9"/><circle cx="465.0" cy="524.3" r="1.2"/><circle cx="463.8" cy="498.7" r="0.9"/><circle cx="584.8" cy="491.9" r="0.7"/><circle cx="488.5" cy="511.5" r="1.4"/><circle cx="536.6" cy="502.2" r="0.7"/><circle cx="512.9" cy="491.0" r="1.4"/><circle cx="490.1" cy="513.3" r="1.0"/><circle cx="430.6" cy="521.1" r="1.4"/><circle cx="543.4" cy="525.3" r="1.4"/><circle cx="551.7" cy="452.4" r="1.4"/><circle cx="528.7" cy="479.3" r="1.4"/><circle cx="400.9" cy="487.6" r="1.2"/><circle cx="412.4" cy="487.3" r="0.7"/><circle cx="493.3" cy="508.9" r="0.9"/><circle cx="486.0" cy="511.6" r="1.2"/><circle cx="608.5" cy="500.3" r="1.4"/><circle cx="533.6" cy="509.6" r="0.9"/><circle cx="517.1" cy="521.4" r="1.0"/><circle cx="571.0" cy="494.2" r="1.4"/><circle cx="458.2" cy="511.2" r="1.0"/><circle cx="599.5" cy="513.9" r="1.2"/><circle cx="448.2" cy="489.4" r="0.9"/><circle cx="530.4" cy="533.2" r="1.2"/><circle cx="475.6" cy="498.8" r="0.7"/><circle cx="538.2" cy="500.6" r="1.0"/><circle cx="593.7" cy="521.9" r="1.4"/><circle cx="441.5" cy="505.6" r="0.7"/><circle cx="493.3" cy="519.6" r="1.0"/><circle cx="516.5" cy="475.0" r="0.9"/><circle cx="459.8" cy="458.6" r="1.2"/><circle cx="499.3" cy="478.2" r="0.7"/><circle cx="477.7" cy="468.1" r="0.7"/><circle cx="492.8" cy="503.9" r="0.7"/><circle cx="478.1" cy="477.2" r="1.2"/><circle cx="434.1" cy="472.8" r="1.0"/><circle cx="509.6" cy="493.6" r="1.0"/><circle cx="632.4" cy="463.5" r="1.0"/><circle cx="603.6" cy="480.0" r="0.9"/><circle cx="484.6" cy="488.0" r="0.7"/><circle cx="594.2" cy="515.8" r="1.2"/><circle cx="501.2" cy="517.4" r="1.0"/><circle cx="523.2" cy="522.9" r="1.0"/><circle cx="622.8" cy="511.0" r="1.4"/><circle cx="533.3" cy="523.6" r="0.9"/><circle cx="569.5" cy="482.8" r="0.9"/><circle cx="550.4" cy="513.9" r="0.7"/><circle cx="429.1" cy="511.3" r="1.2"/><circle cx="426.8" cy="452.4" r="1.4"/><circle cx="613.8" cy="490.8" r="1.4"/><circle cx="631.0" cy="505.7" r="1.2"/><circle cx="544.6" cy="450.6" r="1.2"/><circle cx="565.0" cy="452.5" r="0.7"/><circle cx="445.4" cy="440.7" r="0.7"/><circle cx="500.3" cy="450.8" r="1.4"/><circle cx="495.7" cy="512.9" r="0.9"/><circle cx="606.7" cy="458.1" r="1.2"/><circle cx="506.1" cy="458.6" r="1.4"/><circle cx="481.3" cy="510.2" r="0.7"/><circle cx="517.9" cy="508.9" r="0.9"/><circle cx="518.2" cy="500.6" r="0.7"/><circle cx="398.6" cy="492.5" r="0.9"/><circle cx="569.9" cy="509.7" r="1.0"/><circle cx="531.9" cy="489.0" r="1.0"/><circle cx="416.0" cy="501.3" r="0.7"/><circle cx="555.5" cy="458.5" r="0.7"/><circle cx="437.5" cy="525.5" r="1.4"/><circle cx="563.3" cy="474.6" r="1.0"/><circle cx="592.3" cy="470.7" r="1.4"/><circle cx="426.9" cy="533.9" r="1.4"/><circle cx="598.2" cy="484.3" r="1.2"/><circle cx="491.9" cy="482.9" r="0.7"/><circle cx="513.1" cy="488.8" r="0.9"/><circle cx="598.5" cy="505.4" r="1.4"/><circle cx="558.4" cy="520.9" r="0.9"/><circle cx="474.4" cy="517.0" r="1.4"/><circle cx="466.5" cy="462.3" r="0.7"/><circle cx="484.4" cy="503.5" r="0.7"/><circle cx="422.2" cy="466.1" r="1.4"/><circle cx="565.3" cy="505.0" r="0.9"/><circle cx="417.2" cy="509.6" r="0.9"/><circle cx="628.3" cy="494.9" r="1.2"/><circle cx="541.8" cy="508.0" r="0.9"/><circle cx="550.0" cy="508.6" r="0.7"/><circle cx="558.9" cy="528.8" r="1.2"/><circle cx="533.7" cy="497.4" r="1.2"/><circle cx="564.9" cy="465.3" r="1.2"/><circle cx="504.8" cy="458.6" r="1.2"/><circle cx="440.2" cy="478.2" r="1.0"/><circle cx="585.4" cy="475.5" r="1.0"/><circle cx="510.0" cy="532.6" r="1.4"/><circle cx="572.8" cy="437.5" r="0.7"/><circle cx="570.2" cy="490.8" r="0.9"/><circle cx="511.0" cy="487.3" r="0.9"/><circle cx="603.6" cy="508.7" r="1.4"/><circle cx="553.4" cy="455.4" r="1.0"/><circle cx="555.8" cy="523.4" r="1.4"/><circle cx="508.8" cy="484.8" r="0.9"/><circle cx="463.3" cy="521.7" r="1.4"/><circle cx="496.8" cy="489.7" r="1.4"/><circle cx="506.2" cy="512.9" r="0.9"/><circle cx="638.9" cy="466.4" r="0.7"/><circle cx="615.0" cy="481.0" r="0.9"/><circle cx="602.6" cy="525.1" r="1.2"/><circle cx="497.9" cy="476.8" r="0.9"/><circle cx="487.4" cy="466.0" r="1.0"/><circle cx="406.8" cy="468.9" r="1.4"/><circle cx="561.1" cy="488.7" r="0.7"/><circle cx="581.3" cy="469.4" r="0.9"/><circle cx="496.9" cy="531.5" r="0.7"/><circle cx="564.3" cy="478.1" r="0.9"/><circle cx="510.3" cy="471.9" r="0.9"/><circle cx="546.6" cy="511.3" r="0.9"/><circle cx="526.5" cy="492.7" r="1.0"/><circle cx="599.5" cy="522.4" r="1.4"/><circle cx="478.4" cy="450.9" r="1.2"/><circle cx="604.2" cy="466.2" r="0.9"/><circle cx="585.5" cy="524.1" r="1.2"/><circle cx="529.1" cy="533.5" r="0.7"/><circle cx="526.1" cy="532.5" r="1.4"/><circle cx="432.0" cy="469.1" r="1.2"/><circle cx="501.8" cy="479.5" r="0.9"/><circle cx="486.2" cy="475.9" r="1.2"/><circle cx="570.6" cy="486.3" r="0.9"/><circle cx="520.6" cy="473.4" r="1.0"/><circle cx="501.9" cy="500.9" r="1.4"/><circle cx="461.0" cy="497.7" r="0.7"/><circle cx="538.0" cy="447.4" r="0.9"/><circle cx="482.1" cy="475.9" r="0.9"/><circle cx="517.1" cy="531.3" r="1.2"/><circle cx="542.2" cy="497.1" r="0.7"/><circle cx="429.1" cy="450.6" r="1.4"/><circle cx="563.1" cy="508.4" r="1.4"/><circle cx="536.7" cy="529.5" r="0.9"/><circle cx="475.7" cy="510.1" r="0.7"/><circle cx="605.8" cy="523.9" r="1.0"/><circle cx="535.2" cy="467.8" r="1.2"/><circle cx="540.6" cy="482.2" r="1.2"/><circle cx="557.7" cy="501.8" r="1.4"/><circle cx="501.2" cy="501.5" r="1.2"/><circle cx="522.6" cy="469.1" r="0.7"/><circle cx="587.9" cy="497.8" r="0.7"/><circle cx="504.2" cy="512.3" r="1.0"/><circle cx="450.8" cy="441.8" r="1.2"/><circle cx="602.1" cy="485.5" r="1.2"/><circle cx="432.7" cy="505.9" r="0.7"/><circle cx="552.8" cy="502.0" r="1.0"/><circle cx="421.5" cy="465.7" r="1.2"/><circle cx="613.0" cy="480.5" r="0.7"/><circle cx="483.5" cy="506.0" r="0.9"/><circle cx="464.6" cy="468.5" r="1.2"/><circle cx="546.4" cy="531.4" r="1.2"/><circle cx="517.5" cy="507.0" r="1.2"/><circle cx="454.4" cy="438.8" r="0.9"/><circle cx="407.8" cy="507.0" r="0.7"/><circle cx="478.8" cy="490.2" r="0.7"/><circle cx="506.6" cy="526.0" r="1.2"/><circle cx="423.9" cy="443.5" r="1.0"/><circle cx="515.8" cy="459.4" r="1.2"/><circle cx="434.7" cy="472.4" r="1.4"/><circle cx="485.3" cy="484.2" r="1.2"/><circle cx="436.1" cy="475.4" r="1.4"/><circle cx="531.8" cy="502.2" r="1.0"/><circle cx="562.6" cy="457.8" r="1.4"/><circle cx="545.3" cy="527.8" r="0.7"/><circle cx="429.0" cy="502.1" r="0.7"/><circle cx="557.6" cy="509.0" r="1.4"/><circle cx="589.4" cy="492.3" r="1.4"/><circle cx="425.7" cy="495.9" r="0.9"/><circle cx="531.6" cy="525.6" r="1.4"/><circle cx="479.0" cy="528.0" r="0.9"/><circle cx="561.7" cy="500.8" r="1.4"/><circle cx="495.2" cy="520.4" r="0.7"/><circle cx="462.6" cy="491.1" r="1.0"/><circle cx="556.6" cy="528.8" r="0.7"/><circle cx="603.8" cy="524.6" r="1.0"/><circle cx="579.2" cy="485.3" r="1.2"/><circle cx="519.6" cy="464.5" r="1.2"/><circle cx="590.7" cy="450.7" r="1.0"/><circle cx="382.1" cy="498.2" r="1.4"/><circle cx="503.1" cy="533.4" r="1.4"/><circle cx="563.9" cy="507.5" r="1.2"/><circle cx="523.7" cy="463.5" r="0.7"/><circle cx="576.3" cy="449.2" r="1.4"/><circle cx="432.0" cy="504.5" r="1.0"/><circle cx="506.7" cy="435.4" r="0.9"/><circle cx="442.3" cy="488.7" r="0.9"/><circle cx="550.0" cy="472.3" r="0.7"/><circle cx="442.9" cy="504.1" r="0.7"/><circle cx="559.0" cy="463.4" r="0.7"/><circle cx="454.8" cy="490.6" r="1.0"/><circle cx="496.2" cy="507.2" r="1.0"/><circle cx="456.6" cy="484.8" r="1.2"/><circle cx="438.1" cy="511.6" r="1.0"/><circle cx="568.0" cy="466.9" r="0.7"/><circle cx="427.8" cy="528.5" r="0.9"/><circle cx="483.0" cy="460.1" r="1.4"/><circle cx="604.5" cy="524.0" r="1.4"/><circle cx="438.5" cy="505.9" r="1.2"/><circle cx="385.0" cy="475.2" r="1.0"/><circle cx="542.9" cy="490.6" r="1.0"/><circle cx="382.4" cy="484.3" r="0.7"/><circle cx="388.2" cy="469.9" r="1.2"/><circle cx="603.0" cy="500.2" r="1.0"/><circle cx="552.1" cy="513.4" r="1.0"/><circle cx="549.2" cy="511.4" r="1.0"/><circle cx="484.9" cy="532.1" r="0.9"/><circle cx="557.9" cy="468.3" r="1.4"/><circle cx="465.2" cy="505.6" r="0.7"/><circle cx="534.7" cy="510.2" r="1.0"/><circle cx="538.6" cy="487.9" r="0.7"/><circle cx="561.8" cy="471.3" r="1.2"/><circle cx="506.8" cy="478.8" r="1.2"/><circle cx="536.6" cy="498.4" r="0.9"/><circle cx="624.0" cy="467.4" r="1.4"/><circle cx="553.8" cy="499.5" r="1.2"/><circle cx="494.2" cy="475.9" r="0.7"/><circle cx="556.3" cy="493.1" r="0.9"/><circle cx="532.2" cy="495.7" r="1.0"/><circle cx="465.7" cy="459.9" r="1.0"/><circle cx="593.4" cy="490.4" r="1.2"/><circle cx="495.5" cy="479.6" r="1.2"/><circle cx="504.5" cy="485.0" r="1.4"/><circle cx="509.3" cy="512.9" r="1.2"/><circle cx="565.9" cy="453.5" r="0.9"/><circle cx="545.6" cy="528.9" r="0.9"/><circle cx="471.7" cy="519.8" r="1.2"/><circle cx="595.9" cy="525.0" r="0.7"/><circle cx="397.3" cy="481.9" r="0.9"/><circle cx="500.1" cy="467.7" r="1.4"/><circle cx="430.0" cy="436.2" r="0.7"/><circle cx="548.1" cy="475.4" r="1.0"/><circle cx="530.7" cy="529.8" r="1.0"/><circle cx="487.0" cy="460.0" r="1.2"/><circle cx="430.6" cy="512.1" r="1.0"/><circle cx="517.1" cy="530.0" r="1.0"/><circle cx="492.5" cy="509.4" r="1.4"/><circle cx="433.4" cy="469.7" r="0.9"/><circle cx="523.7" cy="502.2" r="1.4"/><circle cx="585.6" cy="528.6" r="1.4"/><circle cx="493.3" cy="433.3" r="1.4"/><circle cx="524.5" cy="518.9" r="1.2"/><circle cx="506.6" cy="505.1" r="1.0"/><circle cx="538.7" cy="497.1" r="1.4"/><circle cx="424.9" cy="501.5" r="0.9"/><circle cx="607.8" cy="531.2" r="0.7"/><circle cx="612.0" cy="461.7" r="0.9"/><circle cx="536.7" cy="523.1" r="1.0"/><circle cx="473.7" cy="519.2" r="0.9"/><circle cx="524.1" cy="481.2" r="1.0"/><circle cx="616.0" cy="505.8" r="0.7"/><circle cx="436.2" cy="496.6" r="1.0"/><circle cx="560.4" cy="492.9" r="1.4"/><circle cx="589.7" cy="521.4" r="0.9"/><circle cx="512.1" cy="440.8" r="0.9"/><circle cx="481.1" cy="516.6" r="0.9"/><circle cx="612.4" cy="496.8" r="0.7"/><circle cx="554.4" cy="466.9" r="0.9"/><circle cx="551.7" cy="466.6" r="1.2"/><circle cx="607.4" cy="510.8" r="1.0"/><circle cx="512.1" cy="464.9" r="0.7"/><circle cx="611.5" cy="504.7" r="1.2"/><circle cx="419.9" cy="510.7" r="0.7"/><circle cx="581.5" cy="464.0" r="1.2"/><circle cx="458.8" cy="488.7" r="0.9"/><circle cx="464.2" cy="467.0" r="0.9"/><circle cx="481.1" cy="513.6" r="1.2"/><circle cx="469.7" cy="520.4" r="0.9"/><circle cx="529.4" cy="516.7" r="1.4"/><circle cx="479.7" cy="496.2" r="0.9"/><circle cx="568.8" cy="515.8" r="0.9"/><circle cx="431.1" cy="498.5" r="1.4"/><circle cx="439.2" cy="493.7" r="1.0"/><circle cx="437.3" cy="519.5" r="1.2"/><circle cx="449.9" cy="445.2" r="0.7"/><circle cx="486.4" cy="459.9" r="0.9"/><circle cx="410.0" cy="508.9" r="1.4"/><circle cx="418.0" cy="487.3" r="1.0"/><circle cx="468.1" cy="495.8" r="1.2"/><circle cx="462.6" cy="452.1" r="0.9"/><circle cx="483.0" cy="508.4" r="1.2"/><circle cx="567.1" cy="455.2" r="1.4"/><circle cx="405.2" cy="475.5" r="0.7"/><circle cx="424.2" cy="533.1" r="1.2"/><circle cx="548.3" cy="468.3" r="1.0"/><circle cx="459.5" cy="496.7" r="1.2"/><circle cx="532.6" cy="457.4" r="0.9"/><circle cx="405.4" cy="490.2" r="1.4"/><circle cx="526.1" cy="500.8" r="1.0"/><circle cx="545.5" cy="529.0" r="1.4"/><circle cx="538.8" cy="533.4" r="1.4"/><circle cx="613.5" cy="506.4" r="1.4"/><circle cx="591.9" cy="464.3" r="1.4"/><circle cx="533.1" cy="519.9" r="1.2"/><circle cx="510.7" cy="522.6" r="1.2"/><circle cx="549.0" cy="517.0" r="1.4"/><circle cx="521.2" cy="525.4" r="1.0"/><circle cx="418.4" cy="509.1" r="0.9"/><circle cx="509.7" cy="482.8" r="1.2"/><circle cx="581.4" cy="527.2" r="1.0"/><circle cx="566.8" cy="488.9" r="1.4"/><circle cx="588.4" cy="532.2" r="1.0"/><circle cx="492.1" cy="454.1" r="0.7"/><circle cx="598.2" cy="494.2" r="0.9"/><circle cx="479.6" cy="507.0" r="1.2"/><circle cx="474.9" cy="453.4" r="1.4"/><circle cx="549.9" cy="523.3" r="1.4"/><circle cx="431.7" cy="466.9" r="1.0"/><circle cx="495.4" cy="521.3" r="1.4"/><circle cx="426.9" cy="496.7" r="0.9"/><circle cx="519.9" cy="498.6" r="0.7"/><circle cx="485.8" cy="531.8" r="1.0"/><circle cx="513.6" cy="488.5" r="1.0"/><circle cx="549.1" cy="455.2" r="0.9"/><circle cx="531.6" cy="508.0" r="1.0"/><circle cx="528.7" cy="506.8" r="0.9"/><circle cx="513.6" cy="476.2" r="0.7"/><circle cx="535.1" cy="494.0" r="1.4"/><circle cx="437.5" cy="522.5" r="0.9"/><circle cx="540.8" cy="488.0" r="1.2"/><circle cx="499.1" cy="530.9" r="1.4"/><circle cx="561.5" cy="484.9" r="0.9"/><circle cx="512.7" cy="467.2" r="1.2"/><circle cx="562.4" cy="512.2" r="1.4"/><circle cx="590.8" cy="497.2" r="1.2"/><circle cx="456.7" cy="513.5" r="1.2"/><circle cx="418.1" cy="515.5" r="1.4"/><circle cx="443.7" cy="470.1" r="1.0"/><circle cx="540.8" cy="499.4" r="1.2"/><circle cx="549.8" cy="519.8" r="0.7"/><circle cx="453.3" cy="512.3" r="0.9"/><circle cx="498.8" cy="482.3" r="1.0"/><circle cx="505.5" cy="528.7" r="1.2"/><circle cx="527.8" cy="522.1" r="1.2"/><circle cx="487.4" cy="519.3" r="1.4"/><circle cx="513.6" cy="496.9" r="1.4"/><circle cx="464.7" cy="441.2" r="1.4"/><circle cx="525.3" cy="531.0" r="0.7"/><circle cx="594.0" cy="481.5" r="0.7"/><circle cx="433.4" cy="503.3" r="1.4"/><circle cx="468.9" cy="530.5" r="0.7"/><circle cx="549.7" cy="520.7" r="0.7"/><circle cx="592.4" cy="484.2" r="1.4"/><circle cx="569.0" cy="456.1" r="0.7"/><circle cx="474.0" cy="506.5" r="1.2"/><circle cx="603.7" cy="507.7" r="0.7"/><circle cx="547.5" cy="498.1" r="0.9"/><circle cx="425.8" cy="527.5" r="1.0"/><circle cx="465.3" cy="527.0" r="1.0"/><circle cx="629.3" cy="497.9" r="1.0"/><circle cx="444.2" cy="507.9" r="0.7"/><circle cx="586.5" cy="460.4" r="0.7"/><circle cx="574.5" cy="527.4" r="1.4"/><circle cx="471.8" cy="471.8" r="0.7"/><circle cx="585.7" cy="533.8" r="1.4"/><circle cx="426.0" cy="431.0" r="1.0"/><circle cx="596.2" cy="485.5" r="1.0"/><circle cx="475.6" cy="504.9" r="1.0"/><circle cx="487.3" cy="533.9" r="0.9"/><circle cx="419.7" cy="474.9" r="1.0"/><circle cx="421.7" cy="507.9" r="1.4"/><circle cx="501.4" cy="524.2" r="1.0"/><circle cx="638.3" cy="501.2" r="1.0"/><circle cx="462.1" cy="488.2" r="0.7"/><circle cx="627.9" cy="502.4" r="1.4"/><circle cx="536.3" cy="480.7" r="1.4"/><circle cx="599.4" cy="531.5" r="0.7"/><circle cx="485.8" cy="492.9" r="1.0"/><circle cx="622.1" cy="478.3" r="0.7"/><circle cx="531.0" cy="518.9" r="0.9"/><circle cx="488.4" cy="526.8" r="0.9"/><circle cx="503.2" cy="531.1" r="0.9"/><circle cx="472.3" cy="519.7" r="0.7"/><circle cx="581.5" cy="495.3" r="0.9"/><circle cx="564.7" cy="514.8" r="0.9"/><circle cx="459.4" cy="451.2" r="0.9"/><circle cx="552.2" cy="499.5" r="1.0"/><circle cx="501.7" cy="486.9" r="1.4"/><circle cx="400.5" cy="469.9" r="0.9"/><circle cx="528.5" cy="507.1" r="1.4"/><circle cx="479.9" cy="443.2" r="1.4"/><circle cx="415.8" cy="513.1" r="0.9"/><circle cx="467.6" cy="508.8" r="1.2"/><circle cx="561.1" cy="474.7" r="1.4"/><circle cx="531.5" cy="499.5" r="1.0"/><circle cx="473.4" cy="501.0" r="0.9"/><circle cx="469.5" cy="509.3" r="0.7"/><circle cx="583.1" cy="480.9" r="1.4"/><circle cx="576.0" cy="491.4" r="1.0"/><circle cx="538.1" cy="439.4" r="1.0"/><circle cx="473.5" cy="460.7" r="1.2"/><circle cx="533.3" cy="465.1" r="1.0"/><circle cx="476.9" cy="512.9" r="0.9"/><circle cx="492.7" cy="518.0" r="1.4"/><circle cx="417.7" cy="520.2" r="0.7"/><circle cx="599.9" cy="523.7" r="0.9"/><circle cx="615.5" cy="492.0" r="0.7"/><circle cx="558.7" cy="515.6" r="1.0"/><circle cx="447.9" cy="491.6" r="1.0"/><circle cx="637.7" cy="499.3" r="1.4"/><circle cx="530.0" cy="479.8" r="0.7"/><circle cx="465.0" cy="463.5" r="0.9"/><circle cx="613.2" cy="490.3" r="1.4"/><circle cx="532.1" cy="483.2" r="0.9"/><circle cx="556.3" cy="470.1" r="0.7"/><circle cx="436.7" cy="522.2" r="1.4"/><circle cx="597.7" cy="533.0" r="0.7"/><circle cx="554.8" cy="444.9" r="1.2"/><circle cx="610.6" cy="532.6" r="0.9"/><circle cx="518.3" cy="532.6" r="0.7"/><circle cx="418.9" cy="478.7" r="0.7"/><circle cx="469.8" cy="509.8" r="1.2"/><circle cx="408.9" cy="504.0" r="0.7"/><circle cx="607.5" cy="495.1" r="1.4"/><circle cx="520.5" cy="485.8" r="1.4"/><circle cx="433.2" cy="472.7" r="0.7"/><circle cx="512.2" cy="530.7" r="0.9"/><circle cx="545.2" cy="532.5" r="1.0"/><circle cx="523.1" cy="517.9" r="1.0"/><circle cx="597.2" cy="524.4" r="0.7"/><circle cx="555.8" cy="473.3" r="1.4"/><circle cx="480.8" cy="447.3" r="0.9"/><circle cx="559.4" cy="531.7" r="0.9"/><circle cx="505.8" cy="515.0" r="0.9"/><circle cx="544.0" cy="468.7" r="0.9"/><circle cx="543.6" cy="488.8" r="1.0"/><circle cx="540.0" cy="510.4" r="0.7"/><circle cx="621.5" cy="489.4" r="1.4"/><circle cx="491.3" cy="484.6" r="1.4"/><circle cx="435.5" cy="454.0" r="1.2"/><circle cx="382.7" cy="474.3" r="0.9"/><circle cx="444.3" cy="472.3" r="0.9"/><circle cx="539.0" cy="475.7" r="0.7"/><circle cx="593.3" cy="518.5" r="0.7"/><circle cx="492.1" cy="501.6" r="1.4"/><circle cx="516.3" cy="519.2" r="1.4"/><circle cx="531.6" cy="428.0" r="0.7"/><circle cx="529.1" cy="444.9" r="0.7"/><circle cx="404.8" cy="501.9" r="1.2"/><circle cx="508.6" cy="483.5" r="0.7"/><circle cx="536.6" cy="457.0" r="1.0"/><circle cx="531.5" cy="493.4" r="0.7"/><circle cx="568.2" cy="480.2" r="1.0"/><circle cx="517.7" cy="496.5" r="1.0"/><circle cx="572.2" cy="509.2" r="0.7"/><circle cx="440.4" cy="431.2" r="1.2"/><circle cx="538.6" cy="472.6" r="0.7"/><circle cx="416.3" cy="511.4" r="1.0"/><circle cx="435.0" cy="473.7" r="1.4"/><circle cx="588.1" cy="516.4" r="0.9"/><circle cx="579.3" cy="507.5" r="0.9"/><circle cx="504.5" cy="497.7" r="1.4"/><circle cx="394.1" cy="520.9" r="1.2"/><circle cx="431.7" cy="482.6" r="1.0"/><circle cx="601.4" cy="504.1" r="1.4"/><circle cx="600.3" cy="522.5" r="0.7"/><circle cx="478.1" cy="459.7" r="1.4"/><circle cx="519.1" cy="502.6" r="1.4"/><circle cx="509.0" cy="458.0" r="0.9"/><circle cx="622.3" cy="524.2" r="1.4"/><circle cx="538.5" cy="503.0" r="1.2"/><circle cx="441.6" cy="532.7" r="0.7"/><circle cx="434.8" cy="474.6" r="0.9"/><circle cx="590.9" cy="513.7" r="1.2"/><circle cx="549.2" cy="523.2" r="0.9"/><circle cx="496.4" cy="531.2" r="1.2"/><circle cx="583.6" cy="507.3" r="0.9"/><circle cx="539.1" cy="513.2" r="1.4"/><circle cx="478.0" cy="466.1" r="0.9"/><circle cx="429.0" cy="497.2" r="1.4"/><circle cx="580.5" cy="463.0" r="1.4"/><circle cx="534.2" cy="532.8" r="0.7"/><circle cx="443.2" cy="521.0" r="1.2"/><circle cx="404.2" cy="503.5" r="0.7"/><circle cx="496.3" cy="513.3" r="1.2"/><circle cx="467.2" cy="506.2" r="1.0"/><circle cx="586.0" cy="508.8" r="1.4"/><circle cx="596.1" cy="497.1" r="0.9"/><circle cx="492.1" cy="497.7" r="1.4"/><circle cx="441.5" cy="459.7" r="1.2"/><circle cx="640.8" cy="485.2" r="0.7"/><circle cx="600.4" cy="494.8" r="1.4"/><circle cx="517.0" cy="497.1" r="0.9"/><circle cx="405.2" cy="516.2" r="1.2"/><circle cx="522.6" cy="507.9" r="0.7"/><circle cx="416.0" cy="531.2" r="0.7"/><circle cx="606.9" cy="505.8" r="1.0"/><circle cx="514.7" cy="522.1" r="1.0"/><circle cx="585.8" cy="436.6" r="1.4"/><circle cx="557.5" cy="508.9" r="1.0"/><circle cx="426.9" cy="517.2" r="1.4"/><circle cx="596.4" cy="467.7" r="1.0"/><circle cx="563.0" cy="443.8" r="1.4"/><circle cx="415.1" cy="522.3" r="1.0"/><circle cx="410.9" cy="531.3" r="1.2"/><circle cx="456.8" cy="514.4" r="1.2"/><circle cx="594.5" cy="493.4" r="1.0"/><circle cx="471.1" cy="493.9" r="1.0"/><circle cx="467.8" cy="484.9" r="0.9"/><circle cx="384.8" cy="487.7" r="1.2"/><circle cx="521.9" cy="476.3" r="1.4"/><circle cx="427.9" cy="503.6" r="0.7"/><circle cx="594.4" cy="527.2" r="1.4"/><circle cx="546.9" cy="523.2" r="1.2"/><circle cx="630.1" cy="495.1" r="0.7"/><circle cx="470.7" cy="440.1" r="1.0"/><circle cx="407.2" cy="467.5" r="0.7"/><circle cx="423.3" cy="509.2" r="1.4"/><circle cx="589.0" cy="527.6" r="0.7"/><circle cx="602.6" cy="532.6" r="0.9"/><circle cx="550.2" cy="532.4" r="0.7"/><circle cx="617.0" cy="506.8" r="0.9"/><circle cx="468.5" cy="511.3" r="1.2"/><circle cx="467.5" cy="525.6" r="1.0"/><circle cx="512.1" cy="484.6" r="0.7"/><circle cx="481.1" cy="505.8" r="0.7"/><circle cx="510.6" cy="503.9" r="1.2"/><circle cx="503.9" cy="490.0" r="1.0"/><circle cx="553.7" cy="521.4" r="1.0"/><circle cx="562.1" cy="465.6" r="1.4"/><circle cx="459.8" cy="487.2" r="0.9"/><circle cx="625.3" cy="490.8" r="1.2"/><circle cx="496.6" cy="503.6" r="0.7"/><circle cx="432.0" cy="478.5" r="1.0"/><circle cx="461.9" cy="471.4" r="0.9"/><circle cx="481.2" cy="524.3" r="1.2"/><circle cx="403.0" cy="498.5" r="0.9"/><circle cx="521.3" cy="514.5" r="1.2"/><circle cx="497.5" cy="531.5" r="0.9"/><circle cx="455.0" cy="461.7" r="0.9"/><circle cx="492.8" cy="479.3" r="0.9"/><circle cx="509.7" cy="451.5" r="1.0"/><circle cx="441.9" cy="516.8" r="0.7"/><circle cx="583.8" cy="492.1" r="0.7"/><circle cx="623.9" cy="465.1" r="0.9"/><circle cx="449.8" cy="496.7" r="1.4"/><circle cx="549.9" cy="458.9" r="1.4"/><circle cx="611.8" cy="447.3" r="1.2"/><circle cx="513.8" cy="454.1" r="1.0"/><circle cx="501.0" cy="496.5" r="0.9"/><circle cx="434.2" cy="518.1" r="1.0"/><circle cx="409.7" cy="509.4" r="0.7"/><circle cx="561.5" cy="501.2" r="0.9"/><circle cx="500.8" cy="492.9" r="1.4"/><circle cx="517.3" cy="510.1" r="1.2"/><circle cx="571.6" cy="465.7" r="1.4"/><circle cx="535.6" cy="511.0" r="1.0"/><circle cx="497.7" cy="491.3" r="1.0"/><circle cx="610.3" cy="505.9" r="1.0"/><circle cx="522.2" cy="533.6" r="1.4"/><circle cx="451.7" cy="444.1" r="0.7"/><circle cx="423.5" cy="525.4" r="1.4"/><circle cx="530.5" cy="483.3" r="1.4"/><circle cx="444.6" cy="505.3" r="1.2"/><circle cx="409.0" cy="513.7" r="1.4"/><circle cx="594.7" cy="514.3" r="0.7"/><circle cx="437.8" cy="488.7" r="0.9"/><circle cx="496.6" cy="459.2" r="0.9"/><circle cx="629.4" cy="451.6" r="1.4"/><circle cx="564.1" cy="477.6" r="0.9"/><circle cx="487.6" cy="515.0" r="0.7"/><circle cx="527.1" cy="493.3" r="1.4"/><circle cx="440.8" cy="465.0" r="1.2"/><circle cx="492.6" cy="526.9" r="1.4"/><circle cx="467.4" cy="499.5" r="1.2"/><circle cx="553.4" cy="524.1" r="0.9"/><circle cx="512.8" cy="525.6" r="1.2"/><circle cx="519.0" cy="474.4" r="1.4"/><circle cx="481.5" cy="514.5" r="0.7"/><circle cx="598.1" cy="461.2" r="0.9"/><circle cx="452.8" cy="455.7" r="1.0"/><circle cx="454.9" cy="527.7" r="1.2"/><circle cx="488.3" cy="456.8" r="0.7"/><circle cx="480.5" cy="502.3" r="1.0"/><circle cx="524.5" cy="521.4" r="0.7"/><circle cx="515.4" cy="482.1" r="0.9"/><circle cx="511.2" cy="480.5" r="0.9"/><circle cx="620.1" cy="474.7" r="1.0"/><circle cx="430.4" cy="504.2" r="0.9"/><circle cx="472.1" cy="517.8" r="1.2"/><circle cx="536.1" cy="522.3" r="1.2"/><circle cx="637.0" cy="481.6" r="1.4"/><circle cx="387.4" cy="488.2" r="1.2"/><circle cx="442.4" cy="531.7" r="0.7"/><circle cx="497.4" cy="496.1" r="0.7"/><circle cx="392.7" cy="505.4" r="1.0"/><circle cx="580.3" cy="483.4" r="0.7"/><circle cx="454.2" cy="495.8" r="1.4"/><circle cx="587.1" cy="499.9" r="0.7"/><circle cx="511.5" cy="483.1" r="1.4"/><circle cx="593.6" cy="458.1" r="1.2"/><circle cx="492.3" cy="508.4" r="1.2"/><circle cx="519.8" cy="477.1" r="0.7"/><circle cx="596.0" cy="486.8" r="0.9"/><circle cx="533.8" cy="519.5" r="0.9"/><circle cx="564.3" cy="491.8" r="1.4"/><circle cx="500.4" cy="485.2" r="0.9"/><circle cx="579.4" cy="503.2" r="0.7"/><circle cx="541.7" cy="477.4" r="0.7"/><circle cx="589.0" cy="520.9" r="1.4"/><circle cx="429.4" cy="489.0" r="1.4"/><circle cx="446.9" cy="530.4" r="1.4"/><circle cx="476.8" cy="481.4" r="1.0"/><circle cx="420.5" cy="518.5" r="1.4"/><circle cx="526.7" cy="475.6" r="0.7"/><circle cx="499.1" cy="502.1" r="1.4"/><circle cx="534.2" cy="495.7" r="1.2"/><circle cx="440.5" cy="519.7" r="0.9"/><circle cx="450.8" cy="494.3" r="1.4"/><circle cx="605.4" cy="522.7" r="1.0"/><circle cx="500.3" cy="435.3" r="0.9"/><circle cx="383.7" cy="474.1" r="0.9"/><circle cx="580.4" cy="438.4" r="0.7"/><circle cx="427.7" cy="495.0" r="1.0"/><circle cx="520.8" cy="532.4" r="1.0"/><circle cx="579.5" cy="439.1" r="1.2"/><circle cx="511.8" cy="483.2" r="1.2"/><circle cx="474.6" cy="503.1" r="0.7"/><circle cx="633.1" cy="448.4" r="0.7"/><circle cx="524.0" cy="517.8" r="0.9"/><circle cx="417.9" cy="447.6" r="1.2"/><circle cx="438.3" cy="524.0" r="1.2"/><circle cx="489.9" cy="508.4" r="0.7"/><circle cx="437.6" cy="526.6" r="0.9"/><circle cx="528.3" cy="530.0" r="1.2"/><circle cx="457.9" cy="462.1" r="1.0"/><circle cx="562.0" cy="471.4" r="0.7"/><circle cx="513.8" cy="476.2" r="1.0"/><circle cx="501.2" cy="467.7" r="1.4"/><circle cx="390.2" cy="470.5" r="1.4"/><circle cx="540.6" cy="512.3" r="1.2"/><circle cx="418.9" cy="530.4" r="0.9"/><circle cx="531.9" cy="521.7" r="1.4"/><circle cx="437.2" cy="465.6" r="0.9"/><circle cx="476.1" cy="474.4" r="1.2"/><circle cx="440.2" cy="522.4" r="1.0"/><circle cx="496.7" cy="443.8" r="0.9"/><circle cx="422.4" cy="523.3" r="0.9"/><circle cx="543.9" cy="514.0" r="1.2"/><circle cx="628.2" cy="480.8" r="1.2"/><circle cx="504.7" cy="441.4" r="1.2"/><circle cx="524.1" cy="465.2" r="1.4"/><circle cx="429.2" cy="489.9" r="1.0"/><circle cx="610.2" cy="528.9" r="0.7"/><circle cx="590.4" cy="528.4" r="0.7"/><circle cx="520.2" cy="436.5" r="1.4"/><circle cx="619.5" cy="505.4" r="0.7"/><circle cx="427.6" cy="521.2" r="1.0"/><circle cx="478.3" cy="474.5" r="1.4"/><circle cx="542.8" cy="530.4" r="1.0"/><circle cx="520.4" cy="522.0" r="1.0"/><circle cx="473.0" cy="533.3" r="1.0"/><circle cx="460.8" cy="503.7" r="0.9"/><circle cx="455.9" cy="497.5" r="1.4"/><circle cx="545.5" cy="533.7" r="0.9"/><circle cx="488.0" cy="514.7" r="1.0"/><circle cx="429.2" cy="451.2" r="1.2"/><circle cx="493.0" cy="483.6" r="0.7"/><circle cx="499.4" cy="480.8" r="0.7"/><circle cx="530.5" cy="515.7" r="1.0"/><circle cx="606.6" cy="523.9" r="0.7"/><circle cx="535.2" cy="523.6" r="1.2"/><circle cx="535.2" cy="462.1" r="1.4"/><circle cx="509.8" cy="508.5" r="1.2"/><circle cx="554.4" cy="497.4" r="1.4"/><circle cx="614.5" cy="464.6" r="1.0"/><circle cx="604.2" cy="494.9" r="0.7"/><circle cx="490.4" cy="511.3" r="1.0"/><circle cx="618.3" cy="458.4" r="1.0"/><circle cx="429.0" cy="525.6" r="1.0"/><circle cx="592.3" cy="464.4" r="1.2"/><circle cx="473.5" cy="481.3" r="0.9"/><circle cx="485.7" cy="452.6" r="1.0"/><circle cx="594.8" cy="527.1" r="1.4"/><circle cx="553.7" cy="495.3" r="1.0"/><circle cx="524.0" cy="443.2" r="1.4"/><circle cx="532.4" cy="468.4" r="0.9"/><circle cx="580.5" cy="481.7" r="0.9"/><circle cx="556.8" cy="475.5" r="1.2"/><circle cx="549.5" cy="445.7" r="0.7"/><circle cx="620.2" cy="509.3" r="0.9"/><circle cx="505.2" cy="496.3" r="1.0"/><circle cx="591.0" cy="462.8" r="0.9"/><circle cx="473.2" cy="455.0" r="0.7"/><circle cx="433.2" cy="501.3" r="1.4"/><circle cx="457.4" cy="497.6" r="1.4"/><circle cx="439.3" cy="522.1" r="0.9"/><circle cx="475.7" cy="500.2" r="1.2"/><circle cx="524.8" cy="501.8" r="1.2"/><circle cx="463.9" cy="495.1" r="0.7"/><circle cx="525.7" cy="463.6" r="0.9"/><circle cx="599.6" cy="480.7" r="0.7"/><circle cx="581.9" cy="521.7" r="0.9"/><circle cx="486.6" cy="472.2" r="0.9"/><circle cx="561.3" cy="463.5" r="0.7"/><circle cx="622.5" cy="522.7" r="0.9"/><circle cx="428.7" cy="480.5" r="0.9"/><circle cx="521.3" cy="533.5" r="1.2"/><circle cx="603.1" cy="496.2" r="1.0"/><circle cx="537.4" cy="443.7" r="1.0"/><circle cx="531.1" cy="464.1" r="0.7"/><circle cx="525.9" cy="470.6" r="1.0"/><circle cx="536.1" cy="520.8" r="0.9"/><circle cx="475.2" cy="527.0" r="1.0"/><circle cx="508.8" cy="515.6" r="0.9"/><circle cx="542.3" cy="482.8" r="0.7"/><circle cx="512.8" cy="488.1" r="0.7"/><circle cx="594.3" cy="533.2" r="0.9"/><circle cx="428.7" cy="515.9" r="1.4"/><circle cx="505.6" cy="474.9" r="0.7"/><circle cx="624.0" cy="494.0" r="1.4"/><circle cx="617.7" cy="506.3" r="0.7"/><circle cx="473.0" cy="469.1" r="0.9"/><circle cx="580.5" cy="507.9" r="1.0"/><circle cx="542.5" cy="503.9" r="1.4"/><circle cx="549.0" cy="485.2" r="0.7"/><circle cx="533.2" cy="503.1" r="1.0"/><circle cx="579.4" cy="513.2" r="1.2"/><circle cx="508.3" cy="476.6" r="1.0"/><circle cx="456.0" cy="509.8" r="0.9"/><circle cx="542.0" cy="524.6" r="1.2"/><circle cx="526.8" cy="490.8" r="0.7"/><circle cx="593.2" cy="533.4" r="0.9"/><circle cx="595.4" cy="531.6" r="1.4"/><circle cx="487.2" cy="516.9" r="1.2"/><circle cx="608.9" cy="487.2" r="1.0"/><circle cx="534.7" cy="510.1" r="1.2"/><circle cx="533.3" cy="500.7" r="1.2"/><circle cx="474.7" cy="502.4" r="1.2"/><circle cx="617.2" cy="495.0" r="1.2"/><circle cx="422.7" cy="514.6" r="1.2"/><circle cx="490.1" cy="494.9" r="1.0"/><circle cx="440.8" cy="493.5" r="1.4"/><circle cx="585.7" cy="473.4" r="0.9"/><circle cx="490.7" cy="463.9" r="0.7"/><circle cx="587.7" cy="483.9" r="1.0"/><circle cx="493.3" cy="471.7" r="0.7"/><circle cx="422.8" cy="485.7" r="1.2"/><circle cx="551.8" cy="497.0" r="0.7"/><circle cx="491.3" cy="517.2" r="1.2"/><circle cx="496.7" cy="486.9" r="1.0"/><circle cx="462.8" cy="519.6" r="0.9"/><circle cx="597.7" cy="499.6" r="0.9"/><circle cx="453.8" cy="529.5" r="1.4"/><circle cx="637.5" cy="489.3" r="1.2"/><circle cx="502.2" cy="499.3" r="0.7"/><circle cx="556.1" cy="497.5" r="1.0"/><circle cx="536.0" cy="513.8" r="1.4"/><circle cx="591.2" cy="520.7" r="0.9"/><circle cx="536.1" cy="439.3" r="1.4"/><circle cx="605.0" cy="517.0" r="0.9"/><circle cx="496.7" cy="524.0" r="0.9"/><circle cx="413.3" cy="524.6" r="1.2"/><circle cx="520.1" cy="505.2" r="1.2"/><circle cx="508.5" cy="489.5" r="1.4"/><circle cx="549.2" cy="503.7" r="0.7"/><circle cx="523.9" cy="531.0" r="1.4"/><circle cx="562.7" cy="450.7" r="1.0"/><circle cx="493.6" cy="491.2" r="0.9"/><circle cx="541.2" cy="494.1" r="0.9"/><circle cx="469.8" cy="499.3" r="0.7"/><circle cx="508.4" cy="461.4" r="1.2"/><circle cx="487.1" cy="486.2" r="1.4"/><circle cx="539.2" cy="471.8" r="0.7"/><circle cx="540.3" cy="510.0" r="0.9"/><circle cx="505.7" cy="456.1" r="1.2"/><circle cx="584.8" cy="445.7" r="0.7"/><circle cx="518.6" cy="515.4" r="0.7"/><circle cx="502.1" cy="517.5" r="0.9"/><circle cx="474.9" cy="489.4" r="1.4"/><circle cx="485.1" cy="528.9" r="1.4"/><circle cx="528.3" cy="478.5" r="1.4"/><circle cx="620.0" cy="471.3" r="0.7"/><circle cx="516.9" cy="471.4" r="1.0"/><circle cx="446.3" cy="478.0" r="1.2"/><circle cx="498.3" cy="515.5" r="1.2"/><circle cx="568.3" cy="510.0" r="0.7"/><circle cx="434.6" cy="460.5" r="1.4"/><circle cx="428.9" cy="510.3" r="0.9"/><circle cx="505.7" cy="470.2" r="1.2"/><circle cx="528.8" cy="464.3" r="0.9"/><circle cx="490.3" cy="502.6" r="1.4"/><circle cx="575.0" cy="513.2" r="1.0"/><circle cx="423.9" cy="437.0" r="1.0"/><circle cx="506.0" cy="480.8" r="1.2"/><circle cx="426.5" cy="503.7" r="1.0"/><circle cx="460.1" cy="484.0" r="1.4"/><circle cx="572.6" cy="508.2" r="0.9"/><circle cx="479.5" cy="504.8" r="1.0"/><circle cx="532.5" cy="466.0" r="1.4"/><circle cx="570.6" cy="530.4" r="1.2"/><circle cx="625.3" cy="533.9" r="1.0"/><circle cx="473.2" cy="516.8" r="0.9"/><circle cx="584.7" cy="456.6" r="1.2"/><circle cx="512.9" cy="508.3" r="1.2"/><circle cx="439.7" cy="473.1" r="0.7"/><circle cx="599.3" cy="471.0" r="1.4"/><circle cx="460.2" cy="526.4" r="0.9"/><circle cx="599.2" cy="468.8" r="1.4"/><circle cx="533.8" cy="529.8" r="1.4"/><circle cx="493.2" cy="524.2" r="0.9"/><circle cx="396.9" cy="478.2" r="1.2"/><circle cx="428.2" cy="508.5" r="1.4"/><circle cx="443.3" cy="518.0" r="1.4"/><circle cx="424.4" cy="497.5" r="0.9"/><circle cx="636.7" cy="445.6" r="1.2"/><circle cx="484.3" cy="488.1" r="0.9"/><circle cx="409.1" cy="458.4" r="1.2"/><circle cx="544.4" cy="524.9" r="0.7"/><circle cx="445.2" cy="533.1" r="0.9"/><circle cx="434.0" cy="490.3" r="0.7"/><circle cx="408.0" cy="505.5" r="1.0"/><circle cx="556.6" cy="496.4" r="1.0"/><circle cx="585.8" cy="490.9" r="1.2"/><circle cx="486.7" cy="470.0" r="1.0"/><circle cx="528.9" cy="502.4" r="1.4"/><circle cx="557.2" cy="513.0" r="1.4"/><circle cx="519.6" cy="433.3" r="1.2"/><circle cx="550.6" cy="504.6" r="0.7"/><circle cx="453.1" cy="459.2" r="1.0"/><circle cx="503.6" cy="448.4" r="0.7"/><circle cx="503.7" cy="466.2" r="0.9"/><circle cx="585.3" cy="445.4" r="1.2"/><circle cx="399.9" cy="517.1" r="0.9"/></g><path d="M380,216 C410,214 440,208 470,205 C480,204 485,204 489,204 C495,197 505,194 512,194 C520,194 530,197 535,204 C560,203 590,206 605,205 C608,201 618,201 621,205 C630,207 638,210 645,214 L645,226 C600,230 470,230 380,226 Z" fill="#3ac4d4" fill-opacity="0.3"/><path d="M307,213 C330,214 350,218 380,218 C410,218 440,210 470,206 C480,204 485,204 489,204 C560,203 590,206 605,205 C630,207 650,214 680,216 C700,217 710,215 718,213" fill="none" stroke="#7af0fc" stroke-width="1.8" opacity="0.9"/><path d="M489,204 C495,197 505,194 512,194 C520,194 530,197 535,204" fill="none" stroke="#90f4ff" stroke-width="1.6"/><path d="M605,205 C608,201 618,201 621,205" fill="none" stroke="#90f4ff" stroke-width="1.2"/><path d="M312,219 C340,221 370,223 400,222 C430,221 460,214 500,211 C540,209 580,212 620,214 C660,218 690,221 714,220" fill="none" stroke="#6ad8e8" stroke-width="1.2" opacity="0.6"/><path d="M330,216 C360,216 390,215 420,213" fill="none" stroke="#c0f8ff" stroke-width="1" opacity="0.5"/><path d="M600,209 C640,211 670,214 705,216" fill="none" stroke="#c0f8ff" stroke-width="1" opacity="0.5"/><g fill="#40d0e0" fill-opacity="0.35" stroke="#70ecf8" stroke-width="0.9"><ellipse cx="483.8" cy="222.5" rx="3.1" ry="2.6"/><ellipse cx="397.9" cy="206.1" rx="1.9" ry="2.5"/><ellipse cx="599.1" cy="227.7" rx="2.0" ry="1.6"/><ellipse cx="477.1" cy="230.2" rx="3.3" ry="2.1"/><ellipse cx="561.6" cy="221.7" rx="2.1" ry="1.9"/><ellipse cx="545.8" cy="226.6" rx="1.5" ry="1.9"/><ellipse cx="620.9" cy="221.9" rx="3.3" ry="1.9"/><ellipse cx="518.3" cy="224.7" rx="1.6" ry="1.2"/><ellipse cx="543.0" cy="218.4" rx="4.9" ry="2.6"/><ellipse cx="497.4" cy="216.4" rx="2.1" ry="1.3"/><ellipse cx="609.7" cy="214.5" rx="2.8" ry="2.5"/><ellipse cx="596.3" cy="208.6" rx="3.2" ry="2.2"/><ellipse cx="629.6" cy="212.7" rx="3.8" ry="2.8"/><ellipse cx="430.2" cy="211.0" rx="3.3" ry="1.5"/><ellipse cx="516.2" cy="226.0" rx="4.2" ry="2.6"/><ellipse cx="411.5" cy="213.6" rx="3.0" ry="2.7"/><ellipse cx="488.2" cy="213.9" rx="3.3" ry="2.0"/><ellipse cx="435.7" cy="210.1" rx="4.5" ry="2.3"/><ellipse cx="427.3" cy="218.5" rx="1.6" ry="2.5"/><ellipse cx="479.2" cy="209.6" rx="3.1" ry="2.5"/><ellipse cx="456.4" cy="217.9" rx="2.5" ry="1.2"/><ellipse cx="647.9" cy="230.7" rx="3.3" ry="1.9"/><ellipse cx="508.4" cy="216.7" rx="4.8" ry="2.1"/><ellipse cx="590.2" cy="230.9" rx="4.2" ry="2.5"/><ellipse cx="565.8" cy="227.7" rx="3.7" ry="1.4"/><ellipse cx="431.5" cy="218.8" rx="1.6" ry="2.3"/><ellipse cx="535.8" cy="210.0" rx="1.6" ry="2.8"/><ellipse cx="397.6" cy="223.7" rx="4.1" ry="2.3"/><ellipse cx="599.5" cy="219.4" rx="1.7" ry="1.2"/><ellipse cx="625.0" cy="213.1" rx="3.0" ry="2.7"/><ellipse cx="515.8" cy="231.2" rx="3.2" ry="3.0"/><ellipse cx="508.8" cy="213.6" rx="4.9" ry="1.8"/><ellipse cx="607.7" cy="216.9" rx="3.3" ry="2.9"/><ellipse cx="467.1" cy="230.1" rx="3.6" ry="1.7"/><ellipse cx="647.8" cy="212.2" rx="3.2" ry="3.0"/><ellipse cx="607.4" cy="210.6" rx="3.8" ry="2.8"/><ellipse cx="576.4" cy="222.9" rx="4.4" ry="2.4"/><ellipse cx="642.4" cy="228.7" rx="4.8" ry="2.8"/><ellipse cx="525.7" cy="229.3" rx="4.3" ry="2.4"/><ellipse cx="446.8" cy="231.4" rx="2.4" ry="2.9"/><ellipse cx="562.7" cy="230.4" rx="2.0" ry="2.6"/><ellipse cx="415.8" cy="207.7" rx="3.2" ry="2.4"/><ellipse cx="612.0" cy="219.8" rx="3.6" ry="2.9"/><ellipse cx="615.3" cy="221.3" rx="1.5" ry="1.6"/><ellipse cx="563.8" cy="215.0" rx="1.6" ry="1.8"/><ellipse cx="445.2" cy="229.5" rx="2.4" ry="1.4"/><ellipse cx="614.2" cy="226.7" rx="1.5" ry="2.0"/><ellipse cx="536.4" cy="212.8" rx="3.1" ry="2.1"/><ellipse cx="591.0" cy="217.9" rx="5.0" ry="1.4"/><ellipse cx="480.4" cy="204.7" rx="1.7" ry="2.8"/><ellipse cx="532.2" cy="213.4" rx="4.6" ry="2.3"/><ellipse cx="490.8" cy="219.9" rx="3.4" ry="2.0"/><ellipse cx="630.0" cy="227.3" rx="2.1" ry="2.3"/><ellipse cx="443.3" cy="223.4" rx="4.4" ry="2.9"/><ellipse cx="413.5" cy="217.5" rx="4.8" ry="2.6"/><ellipse cx="601.9" cy="221.1" rx="4.3" ry="1.7"/><ellipse cx="455.0" cy="229.1" rx="3.7" ry="2.1"/><ellipse cx="553.9" cy="223.4" rx="2.2" ry="1.9"/><ellipse cx="636.9" cy="228.5" rx="3.0" ry="2.1"/><ellipse cx="571.6" cy="213.3" rx="3.1" ry="1.4"/><ellipse cx="600.3" cy="221.8" rx="2.4" ry="1.9"/><ellipse cx="526.9" cy="221.1" rx="4.8" ry="1.2"/><ellipse cx="582.5" cy="215.7" rx="1.8" ry="1.9"/><ellipse cx="565.3" cy="207.2" rx="4.8" ry="3.0"/><ellipse cx="397.4" cy="204.2" rx="3.8" ry="2.7"/><ellipse cx="622.9" cy="205.7" rx="3.3" ry="2.8"/><ellipse cx="529.4" cy="224.1" rx="4.9" ry="2.0"/><ellipse cx="561.2" cy="211.9" rx="2.4" ry="2.8"/><ellipse cx="610.6" cy="222.1" rx="2.8" ry="1.5"/><ellipse cx="642.3" cy="227.8" rx="4.8" ry="2.4"/><ellipse cx="600.9" cy="207.7" rx="4.2" ry="2.8"/><ellipse cx="464.8" cy="221.8" rx="4.0" ry="1.2"/><ellipse cx="577.8" cy="227.6" rx="3.1" ry="2.7"/><ellipse cx="643.2" cy="207.8" rx="1.7" ry="2.8"/><ellipse cx="508.7" cy="209.2" rx="1.6" ry="2.7"/><ellipse cx="423.3" cy="222.3" rx="4.9" ry="2.1"/><ellipse cx="588.8" cy="222.7" rx="3.5" ry="1.7"/><ellipse cx="455.0" cy="212.0" rx="2.8" ry="1.8"/><ellipse cx="602.5" cy="207.0" rx="3.0" ry="1.7"/><ellipse cx="615.3" cy="230.9" rx="4.2" ry="1.7"/><ellipse cx="546.4" cy="219.8" rx="3.3" ry="2.0"/><ellipse cx="545.6" cy="215.9" rx="3.5" ry="2.3"/><ellipse cx="458.6" cy="230.4" rx="2.0" ry="1.6"/><ellipse cx="522.8" cy="210.8" rx="2.3" ry="2.3"/><ellipse cx="649.8" cy="222.6" rx="4.3" ry="2.0"/><ellipse cx="576.6" cy="223.4" rx="3.6" ry="2.4"/><ellipse cx="573.3" cy="227.0" rx="1.5" ry="2.9"/><ellipse cx="555.1" cy="208.5" rx="2.0" ry="1.7"/><ellipse cx="544.7" cy="210.3" rx="2.1" ry="2.9"/><ellipse cx="551.6" cy="221.2" rx="3.1" ry="1.5"/><ellipse cx="416.6" cy="205.7" rx="3.6" ry="1.5"/><ellipse cx="437.0" cy="227.5" rx="3.0" ry="2.9"/><ellipse cx="584.5" cy="224.1" rx="3.8" ry="1.6"/><ellipse cx="572.6" cy="229.2" rx="3.7" ry="2.6"/><ellipse cx="507.0" cy="210.6" rx="3.4" ry="2.9"/><ellipse cx="515.4" cy="214.4" rx="3.0" ry="1.6"/><ellipse cx="524.4" cy="209.7" rx="4.5" ry="2.9"/><ellipse cx="502.8" cy="207.3" rx="1.6" ry="2.6"/><ellipse cx="587.1" cy="213.0" rx="2.2" ry="2.8"/><ellipse cx="492.5" cy="227.9" rx="4.4" ry="2.8"/><ellipse cx="635.1" cy="221.3" rx="3.1" ry="1.3"/><ellipse cx="437.8" cy="222.1" rx="2.4" ry="2.3"/><ellipse cx="469.0" cy="211.2" rx="2.1" ry="2.0"/><ellipse cx="400.1" cy="210.0" rx="3.1" ry="1.7"/><ellipse cx="476.8" cy="210.1" rx="3.5" ry="1.3"/><ellipse cx="485.1" cy="230.8" rx="5.0" ry="2.9"/><ellipse cx="537.3" cy="229.9" rx="3.1" ry="2.7"/><ellipse cx="534.7" cy="228.9" rx="1.9" ry="1.6"/><ellipse cx="490.2" cy="217.6" rx="4.3" ry="2.9"/><ellipse cx="550.7" cy="226.7" rx="4.0" ry="2.0"/><ellipse cx="596.6" cy="204.7" rx="3.9" ry="1.5"/><ellipse cx="464.8" cy="228.4" rx="3.5" ry="1.3"/><ellipse cx="514.2" cy="216.2" rx="3.6" ry="2.0"/><ellipse cx="405.0" cy="206.4" rx="4.0" ry="1.4"/><ellipse cx="576.8" cy="208.1" rx="3.7" ry="2.6"/><ellipse cx="571.4" cy="221.4" rx="2.1" ry="2.0"/><ellipse cx="595.0" cy="223.3" rx="2.0" ry="1.6"/><ellipse cx="457.7" cy="208.0" rx="2.6" ry="1.8"/><ellipse cx="547.7" cy="221.7" rx="4.4" ry="2.9"/><ellipse cx="610.3" cy="222.5" rx="4.8" ry="2.4"/><ellipse cx="442.4" cy="229.9" rx="1.8" ry="2.9"/><ellipse cx="519.5" cy="224.3" rx="2.0" ry="1.6"/><ellipse cx="556.6" cy="221.5" rx="4.8" ry="1.4"/><ellipse cx="524.5" cy="216.2" rx="4.8" ry="2.9"/><ellipse cx="401.7" cy="209.1" rx="2.3" ry="2.3"/><ellipse cx="503.7" cy="231.3" rx="2.4" ry="1.9"/><ellipse cx="627.2" cy="218.5" rx="1.8" ry="2.0"/><ellipse cx="510.9" cy="210.4" rx="4.6" ry="1.5"/><ellipse cx="457.7" cy="224.4" rx="4.3" ry="2.1"/><ellipse cx="573.4" cy="207.9" rx="2.8" ry="2.2"/><ellipse cx="573.5" cy="230.7" rx="3.0" ry="1.3"/><ellipse cx="417.3" cy="224.7" rx="1.6" ry="1.6"/><ellipse cx="495.4" cy="209.6" rx="2.1" ry="2.7"/><ellipse cx="506.7" cy="217.6" rx="1.8" ry="2.0"/><ellipse cx="565.2" cy="211.0" rx="4.1" ry="2.3"/><ellipse cx="502.5" cy="212.8" rx="1.7" ry="1.7"/><ellipse cx="399.3" cy="205.0" rx="3.1" ry="2.5"/><ellipse cx="520.7" cy="230.9" rx="3.0" ry="1.5"/><ellipse cx="603.4" cy="208.9" rx="4.6" ry="2.3"/><ellipse cx="552.5" cy="207.0" rx="4.1" ry="1.4"/><ellipse cx="518.4" cy="213.3" rx="4.8" ry="1.7"/><ellipse cx="571.1" cy="213.0" rx="4.1" ry="2.7"/><ellipse cx="429.6" cy="204.3" rx="3.7" ry="2.8"/><ellipse cx="533.3" cy="217.2" rx="2.3" ry="1.6"/><ellipse cx="421.1" cy="231.5" rx="2.0" ry="1.4"/><ellipse cx="575.4" cy="211.9" rx="1.8" ry="1.4"/><ellipse cx="508.8" cy="211.8" rx="3.3" ry="2.7"/><ellipse cx="507.5" cy="224.0" rx="1.9" ry="2.9"/><ellipse cx="544.3" cy="222.7" rx="1.9" ry="2.6"/><ellipse cx="611.9" cy="207.6" rx="5.0" ry="2.3"/><ellipse cx="644.8" cy="209.0" rx="4.7" ry="1.9"/><ellipse cx="499.3" cy="215.9" rx="4.6" ry="2.1"/><ellipse cx="502.7" cy="217.6" rx="3.9" ry="1.9"/><ellipse cx="622.9" cy="204.7" rx="3.7" ry="2.8"/><ellipse cx="585.6" cy="212.0" rx="4.1" ry="1.7"/><ellipse cx="606.5" cy="217.3" rx="3.4" ry="1.6"/><ellipse cx="495.9" cy="208.9" rx="3.3" ry="2.6"/><ellipse cx="579.2" cy="212.1" rx="1.9" ry="1.8"/><ellipse cx="520.1" cy="216.3" rx="1.6" ry="1.2"/><ellipse cx="582.7" cy="226.1" rx="1.6" ry="2.0"/></g><line x1="352" y1="516.5" x2="674" y2="516.5" stroke="#5af4ff" stroke-width="3"/><rect x="260" y="70" width="505" height="50" fill="url(#topFade)"/><text x="418" y="167.5" font-size="47" textLength="132" lengthAdjust="spacingAndGlyphs" fill="#38dce8" stroke="#031214" stroke-width="4.5" stroke-linejoin="round">PURE H</text><text x="549" y="173.5" font-size="34" textLength="18" lengthAdjust="spacingAndGlyphs" fill="#38dce8" stroke="#031214" stroke-width="4.5" stroke-linejoin="round">2</text><text x="418" y="167.5" font-size="47" textLength="132" lengthAdjust="spacingAndGlyphs" fill="#38dce8" stroke="#38dce8" stroke-width="1.3" stroke-linejoin="round">PURE H</text><text x="549" y="173.5" font-size="34" textLength="18" lengthAdjust="spacingAndGlyphs" fill="#38dce8" stroke="#38dce8" stroke-width="1.3" stroke-linejoin="round">2</text><path d="M588.7,117 L604.5,142 L595.5,142 L595.5,175.5 L582,175.5 L582,142 L572.5,142 Z" fill="#38dce8" stroke="#041416" stroke-width="2.2"/><line x1="276" y1="511.5" x2="318" y2="511.5" stroke="#0a1a1c" stroke-width="1.2"/><line x1="707" y1="511.5" x2="749" y2="511.5" stroke="#0a1a1c" stroke-width="1.2"/><rect x="267" y="568" width="20" height="8" fill="#0a1c20"/><rect x="738" y="568" width="20" height="8" fill="#0a1c20"/><path d="M267,582 Q267,573 276,573 L277,573 Q286,573 286,582 L286,842 L276,842 L276,582 Z" fill="#aeb4b4"/><path d="M267,580 Q267,573 276,573 L278,573 Q286,573 286,581 L276,581 L276,842 Q276,859 294,859 L731,859 Q748.5,859 748.5,842 L748.5,581 L739,581 Q739,573 747,573 L749,573 Q758,573 758,580 L758,842 Q758,869 731,869 L294,869 Q267,869 267,842 Z" fill="#aeb4b4" stroke="#000" stroke-width="1.5"/><path d="M276,581 L748.5,581 L748.5,842 Q748.5,859 731,859 L294,859 Q276,859 276,842 Z" fill="url(#darkFill)" stroke="#000" stroke-width="1.2"/><rect x="276" y="581" width="10" height="200" fill="#2e3232"/><rect x="739.5" y="581" width="9" height="200" fill="#2e3232"/><rect x="285.3" y="535" width="8.2" height="9" fill="#a9b8ba" stroke="#000" stroke-width="1"/><rect x="731.5" y="535" width="8.2" height="9" fill="#a9b8ba" stroke="#000" stroke-width="1"/><path d="M285.3,543.5 L331,543.5 L331,558.6 L294.5,558.6 L294.5,756 Q294.5,774 312,774 L455,774 L455,782.5 L308,782.5 Q285.3,782.5 285.3,760 Z" fill="url(#midWall)" stroke="#000" stroke-width="1.5"/><g transform="translate(1025,0) scale(-1,1)"><path d="M285.3,543.5 L331,543.5 L331,558.6 L294.5,558.6 L294.5,756 Q294.5,774 312,774 L455,774 L455,782.5 L308,782.5 Q285.3,782.5 285.3,760 Z" fill="url(#midWall)" stroke="#000" stroke-width="1.5"/></g><rect x="294.5" y="558.6" width="36.5" height="215.4" fill="url(#leftComp)"/><rect x="294.5" y="717" width="160.5" height="57" fill="url(#leftComp2)"/><rect x="294.5" y="558.6" width="36.5" height="60" fill="url(#tealFade)"/><rect x="694" y="558.6" width="37.5" height="215.4" fill="url(#wasteFill)"/><rect x="570" y="717" width="161.5" height="57" fill="url(#wasteFill)"/><rect x="680" y="700" width="16" height="20" fill="#3a646c"/><rect x="329" y="700" width="16" height="20" fill="#545656"/><rect x="455" y="709" width="115" height="86" fill="url(#centralCh)"/><line x1="455" y1="709" x2="455" y2="795" stroke="#000" stroke-width="1.2"/><line x1="570" y1="709" x2="570" y2="795" stroke="#000" stroke-width="1.2"/><rect x="446.5" y="717" width="8.5" height="57" fill="#9a9e9e" stroke="#000" stroke-width="1"/><path d="M331,604 L340,604 L340,698 Q340,709 351,709 L455,709 L455,717.5 L349,717.5 Q331,717.5 331,700 Z" fill="url(#midWall)" stroke="#000" stroke-width="1.5"/><g transform="translate(1025,0) scale(-1,1)"><path d="M331,604 L340,604 L340,698 Q340,709 351,709 L455,709 L455,717.5 L349,717.5 Q331,717.5 331,700 Z" fill="url(#midWall)" stroke="#000" stroke-width="1.5"/></g><path d="M340,604 H685 V698 Q685,709 674,709 H351 Q340,709 340,698 Z" fill="url(#chamberFill)"/><rect x="294.5" y="782.5" width="111.5" height="76.5" fill="url(#lowComp)"/><rect x="619" y="782.5" width="129.5" height="76.5" fill="url(#lowCompR)"/><path d="M278,858 Q330,842 406,841" fill="none" stroke="#000" stroke-width="1.3"/><path d="M619,842 Q700,845 746,858" fill="none" stroke="#000" stroke-width="1.3"/><path d="M406,782.5 L446.5,782.5 L446.5,795 L429,795 L429,827 L414,827 L414,869 L406,869 Z" fill="#b8bcbc" stroke="#000" stroke-width="1.3"/><g transform="translate(1025,0) scale(-1,1)"><path d="M406,782.5 L446.5,782.5 L446.5,795 L429,795 L429,827 L414,827 L414,869 L406,869 Z" fill="#b8bcbc" stroke="#000" stroke-width="1.3"/></g><rect x="429" y="795" width="167" height="33" fill="url(#ventG)" stroke="#000" stroke-width="1.6"/><rect x="414" y="827.5" width="197" height="21.5" fill="url(#ventG2)" stroke="#000" stroke-width="1.6"/><path d="M418,849 L607,849 Q603,852 603,860 L422,860 Q422,852 418,849 Z" fill="#5e6060" stroke="#000" stroke-width="1.3"/><rect x="429" y="860" width="167" height="9" fill="#3e4040" stroke="#000" stroke-width="1.2"/><circle cx="460" cy="834.5" r="7" fill="#4a4c4c" stroke="#000" stroke-width="1.6"/><circle cx="486" cy="834.5" r="7" fill="#4a4c4c" stroke="#000" stroke-width="1.6"/><circle cx="512" cy="834.5" r="7" fill="#4a4c4c" stroke="#000" stroke-width="1.6"/><circle cx="538" cy="834.5" r="7" fill="#4a4c4c" stroke="#000" stroke-width="1.6"/><circle cx="564" cy="834.5" r="7" fill="#4a4c4c" stroke="#000" stroke-width="1.6"/><rect x="351" y="535" width="323" height="35" fill="url(#steel)" stroke="#000" stroke-width="1.8"/><rect x="351" y="535" width="323" height="35" fill="url(#steelV)"/><line x1="429" y1="557.9" x2="564" y2="557.9" stroke="#000" stroke-width="0.6" opacity="0.10"/><line x1="357" y1="559.6" x2="433" y2="559.6" stroke="#000" stroke-width="0.6" opacity="0.07"/><line x1="352" y1="565.7" x2="411" y2="565.7" stroke="#fff" stroke-width="0.6" opacity="0.10"/><line x1="352" y1="551.1" x2="391" y2="551.1" stroke="#fff" stroke-width="0.6" opacity="0.15"/><line x1="672" y1="559.1" x2="673" y2="559.1" stroke="#000" stroke-width="0.6" opacity="0.15"/><line x1="372" y1="554.1" x2="482" y2="554.1" stroke="#000" stroke-width="0.6" opacity="0.06"/><line x1="460" y1="552.1" x2="549" y2="552.1" stroke="#000" stroke-width="0.6" opacity="0.12"/><line x1="654" y1="560.2" x2="673" y2="560.2" stroke="#fff" stroke-width="0.6" opacity="0.15"/><line x1="371" y1="566.8" x2="480" y2="566.8" stroke="#fff" stroke-width="0.6" opacity="0.14"/><line x1="549" y1="557.3" x2="669" y2="557.3" stroke="#fff" stroke-width="0.6" opacity="0.06"/><line x1="645" y1="542.6" x2="673" y2="542.6" stroke="#000" stroke-width="0.6" opacity="0.09"/><line x1="461" y1="567.1" x2="558" y2="567.1" stroke="#000" stroke-width="0.6" opacity="0.16"/><line x1="560" y1="554.7" x2="608" y2="554.7" stroke="#fff" stroke-width="0.6" opacity="0.06"/><line x1="641" y1="549.2" x2="673" y2="549.2" stroke="#fff" stroke-width="0.6" opacity="0.15"/><line x1="352" y1="568.3" x2="433" y2="568.3" stroke="#000" stroke-width="0.6" opacity="0.09"/><line x1="352" y1="542.6" x2="489" y2="542.6" stroke="#000" stroke-width="0.6" opacity="0.08"/><line x1="446" y1="565.7" x2="591" y2="565.7" stroke="#fff" stroke-width="0.6" opacity="0.08"/><line x1="369" y1="537.1" x2="496" y2="537.1" stroke="#000" stroke-width="0.6" opacity="0.09"/><line x1="466" y1="563.0" x2="548" y2="563.0" stroke="#000" stroke-width="0.6" opacity="0.07"/><line x1="566" y1="559.8" x2="599" y2="559.8" stroke="#fff" stroke-width="0.6" opacity="0.10"/><line x1="560" y1="554.3" x2="660" y2="554.3" stroke="#000" stroke-width="0.6" opacity="0.08"/><line x1="352" y1="536.8" x2="435" y2="536.8" stroke="#000" stroke-width="0.6" opacity="0.16"/><line x1="414" y1="548.7" x2="467" y2="548.7" stroke="#000" stroke-width="0.6" opacity="0.13"/><line x1="653" y1="564.9" x2="673" y2="564.9" stroke="#000" stroke-width="0.6" opacity="0.07"/><line x1="467" y1="544.4" x2="580" y2="544.4" stroke="#000" stroke-width="0.6" opacity="0.15"/><line x1="375" y1="568.0" x2="510" y2="568.0" stroke="#000" stroke-width="0.6" opacity="0.12"/><line x1="647" y1="536.3" x2="673" y2="536.3" stroke="#fff" stroke-width="0.6" opacity="0.14"/><line x1="669" y1="560.3" x2="673" y2="560.3" stroke="#fff" stroke-width="0.6" opacity="0.06"/><line x1="641" y1="539.5" x2="673" y2="539.5" stroke="#fff" stroke-width="0.6" opacity="0.10"/><line x1="352" y1="537.7" x2="393" y2="537.7" stroke="#000" stroke-width="0.6" opacity="0.07"/><line x1="567" y1="555.1" x2="673" y2="555.1" stroke="#fff" stroke-width="0.6" opacity="0.17"/><line x1="663" y1="555.4" x2="673" y2="555.4" stroke="#000" stroke-width="0.6" opacity="0.12"/><line x1="649" y1="549.3" x2="673" y2="549.3" stroke="#fff" stroke-width="0.6" opacity="0.18"/><line x1="607" y1="553.6" x2="673" y2="553.6" stroke="#000" stroke-width="0.6" opacity="0.12"/><line x1="599" y1="546.7" x2="651" y2="546.7" stroke="#000" stroke-width="0.6" opacity="0.17"/><line x1="516" y1="551.7" x2="602" y2="551.7" stroke="#000" stroke-width="0.6" opacity="0.16"/><line x1="550" y1="561.8" x2="605" y2="561.8" stroke="#fff" stroke-width="0.6" opacity="0.06"/><line x1="482" y1="550.6" x2="566" y2="550.6" stroke="#fff" stroke-width="0.6" opacity="0.06"/><line x1="615" y1="546.6" x2="673" y2="546.6" stroke="#000" stroke-width="0.6" opacity="0.09"/><line x1="367" y1="546.1" x2="520" y2="546.1" stroke="#000" stroke-width="0.6" opacity="0.07"/><line x1="352" y1="539.3" x2="418" y2="539.3" stroke="#000" stroke-width="0.6" opacity="0.17"/><line x1="444" y1="562.1" x2="584" y2="562.1" stroke="#000" stroke-width="0.6" opacity="0.09"/><line x1="646" y1="558.2" x2="673" y2="558.2" stroke="#fff" stroke-width="0.6" opacity="0.13"/><line x1="594" y1="555.8" x2="673" y2="555.8" stroke="#fff" stroke-width="0.6" opacity="0.06"/><line x1="436" y1="563.9" x2="532" y2="563.9" stroke="#000" stroke-width="0.6" opacity="0.08"/><line x1="352" y1="566.3" x2="376" y2="566.3" stroke="#fff" stroke-width="0.6" opacity="0.09"/><line x1="416" y1="550.7" x2="447" y2="550.7" stroke="#fff" stroke-width="0.6" opacity="0.12"/><line x1="591" y1="564.7" x2="648" y2="564.7" stroke="#000" stroke-width="0.6" opacity="0.07"/><line x1="365" y1="567.0" x2="405" y2="567.0" stroke="#000" stroke-width="0.6" opacity="0.14"/><line x1="395" y1="563.9" x2="459" y2="563.9" stroke="#000" stroke-width="0.6" opacity="0.12"/><line x1="663" y1="556.3" x2="673" y2="556.3" stroke="#000" stroke-width="0.6" opacity="0.13"/><line x1="520" y1="557.3" x2="579" y2="557.3" stroke="#000" stroke-width="0.6" opacity="0.08"/><line x1="464" y1="547.1" x2="526" y2="547.1" stroke="#fff" stroke-width="0.6" opacity="0.15"/><line x1="352" y1="542.0" x2="402" y2="542.0" stroke="#000" stroke-width="0.6" opacity="0.16"/><line x1="537" y1="547.8" x2="666" y2="547.8" stroke="#000" stroke-width="0.6" opacity="0.11"/><line x1="403" y1="547.3" x2="535" y2="547.3" stroke="#fff" stroke-width="0.6" opacity="0.05"/><line x1="602" y1="567.9" x2="673" y2="567.9" stroke="#000" stroke-width="0.6" opacity="0.17"/><line x1="524" y1="538.2" x2="612" y2="538.2" stroke="#000" stroke-width="0.6" opacity="0.15"/><line x1="530" y1="552.0" x2="584" y2="552.0" stroke="#fff" stroke-width="0.6" opacity="0.12"/><line x1="602" y1="549.0" x2="673" y2="549.0" stroke="#000" stroke-width="0.6" opacity="0.16"/><line x1="431" y1="543.8" x2="547" y2="543.8" stroke="#fff" stroke-width="0.6" opacity="0.14"/><line x1="404" y1="550.2" x2="482" y2="550.2" stroke="#000" stroke-width="0.6" opacity="0.11"/><line x1="510" y1="561.0" x2="652" y2="561.0" stroke="#000" stroke-width="0.6" opacity="0.17"/><line x1="571" y1="558.9" x2="673" y2="558.9" stroke="#000" stroke-width="0.6" opacity="0.13"/><line x1="352" y1="550.9" x2="421" y2="550.9" stroke="#fff" stroke-width="0.6" opacity="0.18"/><line x1="472" y1="559.9" x2="589" y2="559.9" stroke="#000" stroke-width="0.6" opacity="0.11"/><line x1="528" y1="555.3" x2="570" y2="555.3" stroke="#000" stroke-width="0.6" opacity="0.07"/><line x1="525" y1="557.9" x2="670" y2="557.9" stroke="#fff" stroke-width="0.6" opacity="0.13"/><line x1="358" y1="558.2" x2="498" y2="558.2" stroke="#fff" stroke-width="0.6" opacity="0.13"/><line x1="592" y1="550.1" x2="673" y2="550.1" stroke="#fff" stroke-width="0.6" opacity="0.14"/><line x1="352" y1="555.4" x2="466" y2="555.4" stroke="#000" stroke-width="0.6" opacity="0.17"/><line x1="374" y1="556.5" x2="437" y2="556.5" stroke="#fff" stroke-width="0.6" opacity="0.05"/><rect x="351" y="570" width="323" height="6" fill="url(#mesh)" stroke="#000" stroke-width="1"/><rect x="331" y="576" width="363" height="8" fill="url(#tealBar)" stroke="#000" stroke-width="1.5"/><rect x="331" y="584" width="363" height="12" fill="url(#tan)" stroke="#000" stroke-width="1.2"/><rect x="331" y="596" width="363" height="8" fill="url(#tealBar)" stroke="#000" stroke-width="1.5"/><rect x="351" y="604" width="323" height="6" fill="url(#mesh)" stroke="#000" stroke-width="1"/><rect x="351" y="610" width="323" height="34" fill="url(#steel)" stroke="#000" stroke-width="1.8"/><rect x="351" y="610" width="323" height="34" fill="url(#steelV)"/><line x1="630" y1="637.3" x2="673" y2="637.3" stroke="#fff" stroke-width="0.6" opacity="0.07"/><line x1="451" y1="630.5" x2="552" y2="630.5" stroke="#000" stroke-width="0.6" opacity="0.07"/><line x1="449" y1="613.3" x2="597" y2="613.3" stroke="#fff" stroke-width="0.6" opacity="0.15"/><line x1="554" y1="616.7" x2="673" y2="616.7" stroke="#fff" stroke-width="0.6" opacity="0.06"/><line x1="525" y1="614.5" x2="577" y2="614.5" stroke="#fff" stroke-width="0.6" opacity="0.17"/><line x1="352" y1="625.8" x2="448" y2="625.8" stroke="#000" stroke-width="0.6" opacity="0.10"/><line x1="560" y1="623.9" x2="673" y2="623.9" stroke="#fff" stroke-width="0.6" opacity="0.16"/><line x1="437" y1="637.7" x2="593" y2="637.7" stroke="#fff" stroke-width="0.6" opacity="0.17"/><line x1="651" y1="617.8" x2="673" y2="617.8" stroke="#fff" stroke-width="0.6" opacity="0.08"/><line x1="352" y1="613.1" x2="457" y2="613.1" stroke="#fff" stroke-width="0.6" opacity="0.08"/><line x1="639" y1="635.5" x2="673" y2="635.5" stroke="#000" stroke-width="0.6" opacity="0.16"/><line x1="396" y1="641.5" x2="534" y2="641.5" stroke="#000" stroke-width="0.6" opacity="0.09"/><line x1="654" y1="641.0" x2="673" y2="641.0" stroke="#fff" stroke-width="0.6" opacity="0.08"/><line x1="551" y1="616.7" x2="654" y2="616.7" stroke="#fff" stroke-width="0.6" opacity="0.08"/><line x1="431" y1="637.6" x2="507" y2="637.6" stroke="#fff" stroke-width="0.6" opacity="0.17"/><line x1="458" y1="635.0" x2="521" y2="635.0" stroke="#000" stroke-width="0.6" opacity="0.06"/><line x1="563" y1="626.2" x2="611" y2="626.2" stroke="#000" stroke-width="0.6" opacity="0.07"/><line x1="461" y1="622.7" x2="551" y2="622.7" stroke="#fff" stroke-width="0.6" opacity="0.11"/><line x1="446" y1="630.5" x2="544" y2="630.5" stroke="#fff" stroke-width="0.6" opacity="0.09"/><line x1="480" y1="618.4" x2="634" y2="618.4" stroke="#fff" stroke-width="0.6" opacity="0.18"/><line x1="500" y1="637.1" x2="647" y2="637.1" stroke="#000" stroke-width="0.6" opacity="0.14"/><line x1="487" y1="641.2" x2="566" y2="641.2" stroke="#fff" stroke-width="0.6" opacity="0.10"/><line x1="639" y1="619.6" x2="673" y2="619.6" stroke="#000" stroke-width="0.6" opacity="0.09"/><line x1="657" y1="622.7" x2="673" y2="622.7" stroke="#000" stroke-width="0.6" opacity="0.12"/><line x1="362" y1="612.0" x2="519" y2="612.0" stroke="#000" stroke-width="0.6" opacity="0.17"/><line x1="544" y1="633.7" x2="598" y2="633.7" stroke="#fff" stroke-width="0.6" opacity="0.11"/><line x1="396" y1="628.8" x2="458" y2="628.8" stroke="#fff" stroke-width="0.6" opacity="0.09"/><line x1="518" y1="627.7" x2="625" y2="627.7" stroke="#000" stroke-width="0.6" opacity="0.08"/><line x1="496" y1="628.4" x2="601" y2="628.4" stroke="#000" stroke-width="0.6" opacity="0.15"/><line x1="647" y1="636.5" x2="673" y2="636.5" stroke="#fff" stroke-width="0.6" opacity="0.13"/><line x1="384" y1="624.2" x2="527" y2="624.2" stroke="#fff" stroke-width="0.6" opacity="0.06"/><line x1="645" y1="639.5" x2="673" y2="639.5" stroke="#fff" stroke-width="0.6" opacity="0.17"/><line x1="388" y1="613.1" x2="481" y2="613.1" stroke="#000" stroke-width="0.6" opacity="0.10"/><line x1="433" y1="641.6" x2="555" y2="641.6" stroke="#000" stroke-width="0.6" opacity="0.07"/><line x1="547" y1="615.6" x2="673" y2="615.6" stroke="#000" stroke-width="0.6" opacity="0.06"/><line x1="505" y1="628.9" x2="628" y2="628.9" stroke="#fff" stroke-width="0.6" opacity="0.08"/><line x1="403" y1="611.4" x2="492" y2="611.4" stroke="#fff" stroke-width="0.6" opacity="0.06"/><line x1="630" y1="636.7" x2="667" y2="636.7" stroke="#000" stroke-width="0.6" opacity="0.07"/><line x1="452" y1="617.5" x2="604" y2="617.5" stroke="#000" stroke-width="0.6" opacity="0.11"/><line x1="421" y1="642.0" x2="512" y2="642.0" stroke="#fff" stroke-width="0.6" opacity="0.07"/><line x1="625" y1="641.8" x2="671" y2="641.8" stroke="#fff" stroke-width="0.6" opacity="0.13"/><line x1="393" y1="621.0" x2="448" y2="621.0" stroke="#000" stroke-width="0.6" opacity="0.14"/><line x1="352" y1="628.9" x2="468" y2="628.9" stroke="#fff" stroke-width="0.6" opacity="0.09"/><line x1="553" y1="633.8" x2="673" y2="633.8" stroke="#000" stroke-width="0.6" opacity="0.07"/><line x1="577" y1="625.9" x2="673" y2="625.9" stroke="#000" stroke-width="0.6" opacity="0.16"/><line x1="662" y1="626.3" x2="673" y2="626.3" stroke="#fff" stroke-width="0.6" opacity="0.15"/><line x1="592" y1="634.4" x2="673" y2="634.4" stroke="#000" stroke-width="0.6" opacity="0.06"/><line x1="613" y1="618.4" x2="654" y2="618.4" stroke="#fff" stroke-width="0.6" opacity="0.08"/><line x1="352" y1="620.6" x2="420" y2="620.6" stroke="#000" stroke-width="0.6" opacity="0.14"/><line x1="541" y1="640.2" x2="604" y2="640.2" stroke="#000" stroke-width="0.6" opacity="0.10"/><line x1="577" y1="641.0" x2="673" y2="641.0" stroke="#fff" stroke-width="0.6" opacity="0.09"/><line x1="399" y1="613.8" x2="443" y2="613.8" stroke="#fff" stroke-width="0.6" opacity="0.07"/><line x1="352" y1="613.1" x2="448" y2="613.1" stroke="#000" stroke-width="0.6" opacity="0.11"/><line x1="610" y1="621.9" x2="653" y2="621.9" stroke="#fff" stroke-width="0.6" opacity="0.09"/><line x1="405" y1="625.2" x2="461" y2="625.2" stroke="#000" stroke-width="0.6" opacity="0.06"/><line x1="455" y1="625.9" x2="564" y2="625.9" stroke="#000" stroke-width="0.6" opacity="0.08"/><line x1="352" y1="614.7" x2="429" y2="614.7" stroke="#000" stroke-width="0.6" opacity="0.09"/><line x1="437" y1="638.1" x2="525" y2="638.1" stroke="#fff" stroke-width="0.6" opacity="0.14"/><line x1="446" y1="632.4" x2="521" y2="632.4" stroke="#fff" stroke-width="0.6" opacity="0.17"/><line x1="490" y1="613.4" x2="642" y2="613.4" stroke="#fff" stroke-width="0.6" opacity="0.16"/><line x1="352" y1="637.6" x2="390" y2="637.6" stroke="#fff" stroke-width="0.6" opacity="0.07"/><line x1="571" y1="615.8" x2="609" y2="615.8" stroke="#000" stroke-width="0.6" opacity="0.08"/><line x1="460" y1="628.6" x2="574" y2="628.6" stroke="#000" stroke-width="0.6" opacity="0.09"/><line x1="483" y1="638.9" x2="568" y2="638.9" stroke="#fff" stroke-width="0.6" opacity="0.11"/><line x1="576" y1="613.2" x2="673" y2="613.2" stroke="#fff" stroke-width="0.6" opacity="0.11"/><line x1="485" y1="641.1" x2="577" y2="641.1" stroke="#fff" stroke-width="0.6" opacity="0.14"/><line x1="458" y1="633.3" x2="606" y2="633.3" stroke="#000" stroke-width="0.6" opacity="0.08"/><line x1="555" y1="642.0" x2="661" y2="642.0" stroke="#000" stroke-width="0.6" opacity="0.17"/><line x1="588" y1="639.7" x2="673" y2="639.7" stroke="#fff" stroke-width="0.6" opacity="0.06"/><line x1="664" y1="638.4" x2="673" y2="638.4" stroke="#fff" stroke-width="0.6" opacity="0.07"/><path d="M512,459 L540,505 L526,505 L526,561 L498.5,561 L498.5,505 L484,505 Z" fill="#33dde9" stroke="#031416" stroke-width="2"/><circle cx="411.6" cy="650.2" r="7.6" fill="url(#bub)" stroke="#0a1416" stroke-width="1.2"/><circle cx="428.6" cy="648" r="3" fill="url(#bub)" stroke="#0a1416" stroke-width="1.2"/><circle cx="439" cy="655.7" r="4.6" fill="url(#bub)" stroke="#0a1416" stroke-width="1.2"/><circle cx="463.6" cy="656.5" r="7.6" fill="url(#bub)" stroke="#0a1416" stroke-width="1.2"/><circle cx="481.4" cy="649.6" r="5.6" fill="url(#bub)" stroke="#0a1416" stroke-width="1.2"/><circle cx="427.6" cy="664" r="5.6" fill="url(#bub)" stroke="#0a1416" stroke-width="1.2"/><circle cx="448.4" cy="668.4" r="5.6" fill="url(#bub)" stroke="#0a1416" stroke-width="1.2"/><circle cx="472.5" cy="673.8" r="7.6" fill="url(#bub)" stroke="#0a1416" stroke-width="1.2"/><circle cx="462.4" cy="673.8" r="3" fill="url(#bub)" stroke="#0a1416" stroke-width="1.2"/><circle cx="492.8" cy="678" r="5.6" fill="url(#bub)" stroke="#0a1416" stroke-width="1.2"/><circle cx="474.3" cy="686.2" r="3.8" fill="url(#bub)" stroke="#0a1416" stroke-width="1.2"/><circle cx="461.9" cy="695" r="4" fill="url(#bub)" stroke="#0a1416" stroke-width="1.2"/><circle cx="490.3" cy="693.8" r="3.6" fill="url(#bub)" stroke="#0a1416" stroke-width="1.2"/><circle cx="478.9" cy="701.5" r="5.6" fill="url(#bub)" stroke="#0a1416" stroke-width="1.2"/><circle cx="482.7" cy="718.2" r="7.1" fill="url(#bub)" stroke="#0a1416" stroke-width="1.2"/><circle cx="496.6" cy="663.4" r="3.8" fill="url(#bub)" stroke="#0a1416" stroke-width="1.2"/><circle cx="501.7" cy="647.6" r="3.8" fill="url(#bub)" stroke="#0a1416" stroke-width="1.2"/><circle cx="518.2" cy="647.6" r="3.3" fill="url(#bub)" stroke="#0a1416" stroke-width="1.2"/><circle cx="536.8" cy="651.4" r="4.6" fill="url(#bub)" stroke="#0a1416" stroke-width="1.2"/><circle cx="534.2" cy="666.2" r="5" fill="url(#bub)" stroke="#0a1416" stroke-width="1.2"/><circle cx="531" cy="678" r="5.6" fill="url(#bub)" stroke="#0a1416" stroke-width="1.2"/><circle cx="553.8" cy="660.8" r="7.1" fill="url(#bub)" stroke="#0a1416" stroke-width="1.2"/><circle cx="567.2" cy="671" r="5.6" fill="url(#bub)" stroke="#0a1416" stroke-width="1.2"/><circle cx="552.5" cy="680" r="5" fill="url(#bub)" stroke="#0a1416" stroke-width="1.2"/><circle cx="561.4" cy="685.7" r="3.8" fill="url(#bub)" stroke="#0a1416" stroke-width="1.2"/><circle cx="539.8" cy="689.5" r="3.8" fill="url(#bub)" stroke="#0a1416" stroke-width="1.2"/><circle cx="531" cy="693.3" r="3.8" fill="url(#bub)" stroke="#0a1416" stroke-width="1.2"/><circle cx="545.4" cy="703.5" r="7.1" fill="url(#bub)" stroke="#0a1416" stroke-width="1.2"/><circle cx="537.3" cy="714" r="3.8" fill="url(#bub)" stroke="#0a1416" stroke-width="1.2"/><circle cx="528.4" cy="722.5" r="3.3" fill="url(#bub)" stroke="#0a1416" stroke-width="1.2"/><circle cx="539.8" cy="727.6" r="3" fill="url(#bub)" stroke="#0a1416" stroke-width="1.2"/><circle cx="524.6" cy="735.2" r="3.8" fill="url(#bub)" stroke="#0a1416" stroke-width="1.2"/><circle cx="577.9" cy="651.4" r="5.6" fill="url(#bub)" stroke="#0a1416" stroke-width="1.2"/><circle cx="595.7" cy="652.7" r="3.8" fill="url(#bub)" stroke="#0a1416" stroke-width="1.2"/><circle cx="587.6" cy="664.1" r="3.8" fill="url(#bub)" stroke="#0a1416" stroke-width="1.2"/><circle cx="558.9" cy="647.6" r="3" fill="url(#bub)" stroke="#0a1416" stroke-width="1.2"/><circle cx="610.9" cy="648.9" r="4.6" fill="url(#bub)" stroke="#0a1416" stroke-width="1.2"/><circle cx="618.5" cy="649.6" r="4.6" fill="url(#bub)" stroke="#0a1416" stroke-width="1.2"/><circle cx="497.9" cy="726.3" r="3.6" fill="url(#bub)" stroke="#0a1416" stroke-width="1.2"/><circle cx="497.4" cy="739" r="3.8" fill="url(#bub)" stroke="#0a1416" stroke-width="1.2"/><circle cx="511.4" cy="746.6" r="4.6" fill="url(#bub)" stroke="#0a1416" stroke-width="1.2"/><circle cx="487.8" cy="754.3" r="7.1" fill="url(#bub)" stroke="#0a1416" stroke-width="1.2"/><circle cx="505.5" cy="759.9" r="3.8" fill="url(#bub)" stroke="#0a1416" stroke-width="1.2"/><circle cx="533.5" cy="764.4" r="7.1" fill="url(#bub)" stroke="#0a1416" stroke-width="1.2"/><circle cx="543.6" cy="747.9" r="4.6" fill="url(#bub)" stroke="#0a1416" stroke-width="1.2"/><circle cx="561.4" cy="737.8" r="4.3" fill="url(#bub)" stroke="#0a1416" stroke-width="1.2"/><circle cx="566.5" cy="758.1" r="6.3" fill="url(#bub)" stroke="#0a1416" stroke-width="1.2"/><circle cx="589.3" cy="736.5" r="7.1" fill="url(#bub)" stroke="#0a1416" stroke-width="1.2"/><circle cx="608.4" cy="756.8" r="5.6" fill="url(#bub)" stroke="#0a1416" stroke-width="1.2"/><circle cx="623.6" cy="731.9" r="5.6" fill="url(#bub)" stroke="#0a1416" stroke-width="1.2"/><circle cx="640.1" cy="744.9" r="3.8" fill="url(#bub)" stroke="#0a1416" stroke-width="1.2"/><circle cx="487.8" cy="777.1" r="4.6" fill="url(#bub)" stroke="#0a1416" stroke-width="1.2"/><circle cx="552.5" cy="777.1" r="3.8" fill="url(#bub)" stroke="#0a1416" stroke-width="1.2"/><circle cx="704.8" cy="651" r="4" fill="url(#bub)" stroke="#0a1416" stroke-width="1.2"/><circle cx="721.2" cy="653.2" r="4" fill="url(#bub)" stroke="#0a1416" stroke-width="1.2"/><circle cx="624" cy="732.5" r="5.8" fill="url(#bub)" stroke="#0a1416" stroke-width="1.2"/><circle cx="665.5" cy="728.9" r="4" fill="url(#bub)" stroke="#0a1416" stroke-width="1.2"/><circle cx="640.4" cy="745.3" r="4" fill="url(#bub)" stroke="#0a1416" stroke-width="1.2"/><circle cx="652.5" cy="762.1" r="4" fill="url(#bub)" stroke="#0a1416" stroke-width="1.2"/><circle cx="717.2" cy="749.1" r="4" fill="url(#bub)" stroke="#0a1416" stroke-width="1.2"/><circle cx="566.3" cy="757.6" r="6.3" fill="url(#bub)" stroke="#0a1416" stroke-width="1.2"/><circle cx="578" cy="651" r="5.8" fill="url(#bub)" stroke="#0a1416" stroke-width="1.2"/><circle cx="596" cy="653.2" r="3.8" fill="url(#bub)" stroke="#0a1416" stroke-width="1.2"/><circle cx="588" cy="663.7" r="4" fill="url(#bub)" stroke="#0a1416" stroke-width="1.2"/><circle cx="566.7" cy="670.5" r="6.3" fill="url(#bub)" stroke="#0a1416" stroke-width="1.2"/><circle cx="562.2" cy="685.8" r="3.6" fill="url(#bub)" stroke="#0a1416" stroke-width="1.2"/><circle cx="486" cy="790" r="4" fill="url(#bub)" stroke="#0a1416" stroke-width="1.2"/><circle cx="502" cy="800" r="3.5" fill="url(#bub)" stroke="#0a1416" stroke-width="1.2"/><circle cx="540" cy="778" r="4" fill="url(#bub)" stroke="#0a1416" stroke-width="1.2"/><circle cx="479.8" cy="809.5" r="6.3" fill="url(#bub)" stroke="#0a1416" stroke-width="1.2"/><circle cx="544" cy="811" r="4" fill="url(#bub)" stroke="#0a1416" stroke-width="1.2"/><circle cx="499" cy="787" r="4" fill="url(#bub)" stroke="#0a1416" stroke-width="1.2"/><path d="M501.7,655.2 L523.3,655.2 L519.5,702 L533.5,702 L512,737.8 L490.3,702 L505.5,702 Z" fill="#3e6a74" stroke="#000" stroke-width="2.2" stroke-linejoin="round"/><path d="M504.3,774 L520.7,774 L520.7,810 L529,810 L512,835.6 L495,810 L504.3,810 Z" fill="#3e6a74" stroke="#000" stroke-width="2" stroke-linejoin="round"/><path d="M699,588 Q724,598 719,619.5 L726.2,619.5 L712.7,642 L699.2,619.5 L708,619.5 Q711,600 699,588 Z" fill="#3e6a74" stroke="#000" stroke-width="1.6" stroke-linejoin="round"/><path d="M706,665.5 L718.5,665.5 L718.5,694.7 L726.2,694.7 L712.7,716 L698.8,694.7 L706,694.7 Z" fill="#3e6a74" stroke="#000" stroke-width="1.6" stroke-linejoin="round"/><path d="M708,728.4 Q706,748 680,752 L681,760 L660,748.6 L678,735 L679,743 Q700,740 708,728.4 Z" fill="#3e6a74" stroke="#000" stroke-width="1.6" stroke-linejoin="round"/><path d="M478,852 Q487,868 474,888 L479,898 L456,906.4 L457,886 L466,890 Q476,872 474,853 Z" fill="#3e6670"/><path d="M547,852 Q538,868 551,888 L546,898 L568,906.4 L566,883 L558,889 Q549,872 551,853 Z" fill="#3e6670"/><path d="M505.4,880.7 L518.7,880.7 L518.7,916.6 L525.9,916.6 L512,937.1 L498.2,916.6 L505.4,916.6 Z" fill="#3e6670"/><text x="38.5" y="60.5" font-size="37" fill="#8fa6a9" font-weight="bold" textLength="158.7" lengthAdjust="spacingAndGlyphs">IONIX LABS</text><text x="204.4" y="60.5" font-size="37" fill="#8fa6a9" font-weight="normal" stroke="#8fa6a9" stroke-width="0.4" textLength="151.5" lengthAdjust="spacingAndGlyphs">HYDROGEN</text><text x="361.6" y="60.5" font-size="37" fill="#8fa6a9" font-weight="normal" stroke="#8fa6a9" stroke-width="0.4" textLength="162.5" lengthAdjust="spacingAndGlyphs">GENERATOR</text><text x="535.8" y="60.5" font-size="37" fill="#8fa6a9" font-weight="normal" stroke="#8fa6a9" stroke-width="0.4" textLength="66.8" lengthAdjust="spacingAndGlyphs">BASE</text><text x="611.7" y="60.5" font-size="37" fill="#8fa6a9" font-weight="normal" stroke="#8fa6a9" stroke-width="0.4" textLength="12.6" lengthAdjust="spacingAndGlyphs">-</text><text x="630.4" y="60.5" font-size="37" fill="#8fa6a9" font-weight="normal" stroke="#8fa6a9" stroke-width="0.4" textLength="230.2" lengthAdjust="spacingAndGlyphs">CROSS-SECTION</text><text x="865.6" y="60.5" font-size="37" fill="#8fa6a9" font-weight="normal" stroke="#8fa6a9" stroke-width="0.4" textLength="120.3" lengthAdjust="spacingAndGlyphs">DIAGRAM</text><text x="38.75" y="350.5" font-size="28" fill="#f2f2f2" stroke="#f2f2f2" stroke-width="0.6" textLength="204" lengthAdjust="spacingAndGlyphs">PLATINUM-PLATED</text><text x="38.75" y="381" font-size="28" fill="#f2f2f2" stroke="#f2f2f2" stroke-width="0.6" textLength="102" lengthAdjust="spacingAndGlyphs">TITANIUM</text><text x="38.75" y="411" font-size="28" fill="#f2f2f2" stroke="#f2f2f2" stroke-width="0.6" textLength="125" lengthAdjust="spacingAndGlyphs">ELECTRODE</text><text x="62" y="558.75" font-size="28" fill="#f2f2f2" stroke="#f2f2f2" stroke-width="0.6" textLength="139" lengthAdjust="spacingAndGlyphs">SPECIALIZED</text><text x="62" y="589" font-size="28" fill="#f2f2f2" stroke="#f2f2f2" stroke-width="0.6" textLength="98" lengthAdjust="spacingAndGlyphs">SPE/PEM</text><text x="62" y="618.75" font-size="28" fill="#f2f2f2" stroke="#f2f2f2" stroke-width="0.6" textLength="126.5" lengthAdjust="spacingAndGlyphs">MEMBRANE</text><text x="65.6" y="728" font-size="28" fill="#f2f2f2" stroke="#f2f2f2" stroke-width="0.6" textLength="109.5" lengthAdjust="spacingAndGlyphs">CHLORINE</text><text x="65.6" y="758.4" font-size="28" fill="#f2f2f2" stroke="#f2f2f2" stroke-width="0.6" textLength="95" lengthAdjust="spacingAndGlyphs">&amp; OZONE</text><text x="65.6" y="788" font-size="28" fill="#f2f2f2" stroke="#f2f2f2" stroke-width="0.6" textLength="70.5" lengthAdjust="spacingAndGlyphs">GASES</text><text x="834.8" y="348.7" font-size="28" fill="#f2f2f2" stroke="#f2f2f2" stroke-width="0.6" textLength="134.7" lengthAdjust="spacingAndGlyphs">GLASS BODY</text><text x="833.3" y="710" font-size="28" fill="#f2f2f2" stroke="#f2f2f2" stroke-width="0.6" textLength="110.5" lengthAdjust="spacingAndGlyphs">SEPARATE</text><text x="833.3" y="740.4" font-size="28" fill="#f2f2f2" stroke="#f2f2f2" stroke-width="0.6" textLength="74" lengthAdjust="spacingAndGlyphs">WASTE</text><text x="833.3" y="771.4" font-size="28" fill="#f2f2f2" stroke="#f2f2f2" stroke-width="0.6" textLength="103" lengthAdjust="spacingAndGlyphs">CHANNEL</text><text x="787.8" y="942.3" font-size="28" fill="#f2f2f2" stroke="#f2f2f2" stroke-width="0.6" textLength="191.6" lengthAdjust="spacingAndGlyphs">BASE ENCLOSURE</text><text x="832.6" y="972.9" font-size="28" fill="#f2f2f2" stroke="#f2f2f2" stroke-width="0.6" textLength="102.4" lengthAdjust="spacingAndGlyphs">(VENTED)</text><text x="108.6" y="958.9" font-size="28" fill="#f2f2f2" stroke="#f2f2f2" stroke-width="0.6" textLength="206.2" lengthAdjust="spacingAndGlyphs">TOXIC WASTE VENT</text><path d="M152.5,764 L158.5,764 L158.5,783 L164.8,783 L155.5,798.4 L146.2,783 L152.5,783 Z" fill="#8a8a8a"/><path d="M155.0,370.8 L199.0,370.8 L343.5,543.9" fill="none" stroke="#000" stroke-width="6" stroke-linejoin="miter"/><path d="M355.0,557.7 L330.2,545.9 L343.5,543.9 L347.8,531.1 Z" fill="#fff" stroke="#000" stroke-width="2.4" stroke-linejoin="miter"/><path d="M155.0,370.8 L199.0,370.8 L343.5,543.9" fill="none" stroke="#fff" stroke-width="3.2" stroke-linejoin="miter"/><path d="M188.4,578.8 L316.6,587.2" fill="none" stroke="#000" stroke-width="6" stroke-linejoin="miter"/><path d="M334.6,588.4 L308.9,598.2 L316.6,587.2 L310.4,575.3 Z" fill="#fff" stroke="#000" stroke-width="2.4" stroke-linejoin="miter"/><path d="M188.4,578.8 L316.6,587.2" fill="none" stroke="#fff" stroke-width="3.2" stroke-linejoin="miter"/><path d="M186.7,717.3 L351.4,633.2" fill="none" stroke="#000" stroke-width="6" stroke-linejoin="miter"/><path d="M367.4,625.0 L350.4,646.6 L351.4,633.2 L339.9,626.1 Z" fill="#fff" stroke="#000" stroke-width="2.4" stroke-linejoin="miter"/><path d="M186.7,717.3 L351.4,633.2" fill="none" stroke="#fff" stroke-width="3.2" stroke-linejoin="miter"/><path d="M824.5,338.4 L736.0,338.4" fill="none" stroke="#000" stroke-width="6" stroke-linejoin="miter"/><path d="M718.0,338.4 L743.0,326.9 L736.0,338.4 L743.0,349.9 Z" fill="#fff" stroke="#000" stroke-width="2.4" stroke-linejoin="miter"/><path d="M824.5,338.4 L736.0,338.4" fill="none" stroke="#fff" stroke-width="3.2" stroke-linejoin="miter"/><path d="M822.0,725.7 L732.0,725.7" fill="none" stroke="#000" stroke-width="6" stroke-linejoin="miter"/><path d="M714.0,725.7 L739.0,714.2 L732.0,725.7 L739.0,737.2 Z" fill="#fff" stroke="#000" stroke-width="2.4" stroke-linejoin="miter"/><path d="M822.0,725.7 L732.0,725.7" fill="none" stroke="#fff" stroke-width="3.2" stroke-linejoin="miter"/><path d="M776.2,931.4 L726.4,931.4 L685.5,882.1" fill="none" stroke="#000" stroke-width="6" stroke-linejoin="miter"/><path d="M674.0,868.3 L698.8,880.2 L685.5,882.1 L681.1,894.9 Z" fill="#fff" stroke="#000" stroke-width="2.4" stroke-linejoin="miter"/><path d="M776.2,931.4 L726.4,931.4 L685.5,882.1" fill="none" stroke="#fff" stroke-width="3.2" stroke-linejoin="miter"/><path d="M326.6,947.2 L379.3,947.2 L468.4,854.7" fill="none" stroke="#000" stroke-width="6" stroke-linejoin="miter"/><path d="M480.9,841.7 L471.8,867.7 L468.4,854.7 L455.3,851.7 Z" fill="#fff" stroke="#000" stroke-width="2.4" stroke-linejoin="miter"/><path d="M326.6,947.2 L379.3,947.2 L468.4,854.7" fill="none" stroke="#fff" stroke-width="3.2" stroke-linejoin="miter"/></svg></body></html>
